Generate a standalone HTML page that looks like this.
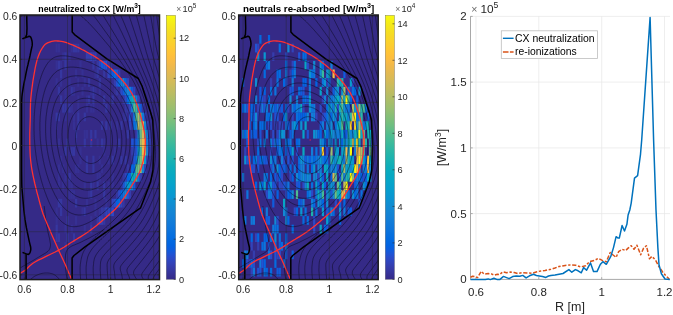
<!DOCTYPE html>
<html><head><meta charset="utf-8"><title>CX neutralization</title><style>html,body{margin:0;padding:0;background:#fff;width:673px;height:315px;overflow:hidden}svg{display:block}</style></head><body>
<svg width="673" height="315" viewBox="0 0 673 315"><rect width="673" height="315" fill="#fff"/><defs><clipPath id="ax"><rect x="20.0" y="15.0" width="139.5" height="264.6"/></clipPath><clipPath id="corec"><path d="M58.7 250.2 L56.4 247.2 L54 242.4 L51.6 236.5 L49.3 230.4 L47.2 224.6 L45.5 220 L44.2 216.7 L43.2 214.2 L42.5 212.2 L41.9 210.2 L41.2 207.9 L40.4 205 L39.4 201.4 L38.3 197.2 L37.1 192.8 L36 188.3 L34.9 184 L34 180 L33.2 176.4 L32.5 173 L31.9 169.7 L31.4 166.5 L31 163.3 L30.6 160 L30.3 156.7 L30.1 153.3 L30 150 L29.9 146.7 L29.8 143.3 L29.8 140 L29.8 136.7 L29.8 133.3 L29.9 130 L30 126.7 L30.1 123.3 L30.2 120 L30.3 116.7 L30.3 113.4 L30.3 110.1 L30.4 106.8 L30.5 103.5 L30.7 100 L31 96.4 L31.4 92.6 L31.9 88.7 L32.4 84.9 L32.9 81.2 L33.5 77.6 L34.1 74.2 L34.7 70.8 L35.3 67.5 L36 64.3 L36.7 61.4 L37.5 58.6 L38.4 56 L39.4 53.6 L40.4 51.3 L41.5 49.3 L42.6 47.5 L43.8 45.9 L45 44.6 L46.3 43.6 L47.5 42.9 L48.9 42.3 L50.3 41.8 L51.7 41.4 L53.2 41.1 L54.7 40.9 L56.3 40.9 L57.9 41 L59.6 41.1 L61.3 41.4 L63 41.7 L64.8 42.2 L66.6 42.7 L68.4 43.3 L70.3 44.1 L72.4 44.9 L74.6 45.9 L77 47 L79.5 48.2 L81.9 49.5 L84.4 50.7 L86.7 52 L88.9 53.2 L91 54.4 L93.1 55.5 L95.1 56.8 L97.2 58.1 L99.4 59.6 L101.7 61.2 L104 63 L106.4 64.8 L108.8 66.8 L111.2 68.8 L113.5 71 L115.8 73.3 L118.2 75.7 L120.5 78.3 L122.8 80.9 L125 83.5 L126.9 86 L128.6 88.5 L130.2 90.9 L131.7 93.2 L133 95.7 L134.3 98.3 L135.5 101 L136.7 104 L137.9 107.2 L138.9 110.5 L140 113.8 L140.9 117 L141.7 120 L142.4 122.8 L143.1 125.5 L143.6 128.1 L144.1 130.5 L144.5 132.8 L144.8 135 L145 136.9 L145.2 138.6 L145.3 140.1 L145.3 141.6 L145.3 143.2 L145.2 145 L145.1 147 L144.9 149.1 L144.7 151.4 L144.5 153.6 L144.2 155.9 L143.8 158 L143.4 160.1 L142.9 162.1 L142.4 164 L141.8 166 L141.2 168 L140.4 170 L139.6 171.9 L138.8 173.7 L137.8 175.5 L136.8 177.4 L135.5 179.6 L133.9 182.2 L131.9 185.4 L129.6 189.2 L127 193.3 L124.4 197.4 L121.8 201.2 L119.4 204.4 L117.2 207 L115.1 209.3 L113 211.2 L111 213 L109 214.7 L107 216.5 L105 218.3 L102.9 220.1 L100.8 221.9 L98.8 223.6 L96.9 225.2 L95 226.7 L93.3 228.1 L91.6 229.3 L90.1 230.5 L88.5 231.6 L86.8 232.8 L85 234 L83 235.3 L80.9 236.6 L78.7 237.9 L76.5 239.3 L74.2 240.6 L72 242 L69.8 243.8 L67.6 246.1 L65.4 248.5 L63.1 250.3 L60.9 251.1Z"/></clipPath><clipPath id="solc"><path d="M56 5 L170 5 L170 290 L74 290 L71.3 278.6 L65 264 L58.7 250.2 L72 242 L85 234 L95 226.7 L107 216.5 L119.4 204.4 L133.9 182.2 L140.4 170 L143.8 158 L145.2 145 L144.8 135 L141.7 120 L135.5 101 L126.9 86 L113.5 71 L99.4 59.6 L86.7 52 L72.4 44.9 L61.3 41.4 L51.7 41.4Z"/></clipPath></defs><rect x="20.0" y="15.0" width="139.5" height="264.6" fill="#352a87"/><g clip-path="url(#ax)"><rect x="55.6" y="43.7" width="2.2" height="8.7" fill="#363093"/><rect x="55.6" y="60.9" width="2.2" height="8.7" fill="#363093"/><rect x="55.6" y="78.1" width="2.2" height="8.7" fill="#363093"/><rect x="55.6" y="112.6" width="2.2" height="8.7" fill="#3637a0"/><rect x="55.6" y="121.2" width="2.2" height="8.7" fill="#363093"/><rect x="55.6" y="207.4" width="2.2" height="8.7" fill="#363093"/><rect x="55.6" y="216.1" width="2.2" height="8.7" fill="#363093"/><rect x="55.6" y="224.7" width="2.2" height="8.7" fill="#3637a0"/><rect x="55.6" y="233.3" width="2.2" height="8.7" fill="#3637a0"/><rect x="57.8" y="43.7" width="2.2" height="8.7" fill="#363093"/><rect x="57.8" y="60.9" width="2.2" height="8.7" fill="#3637a0"/><rect x="57.8" y="86.8" width="2.2" height="8.7" fill="#3637a0"/><rect x="57.8" y="112.6" width="2.2" height="8.7" fill="#3637a0"/><rect x="57.8" y="138.5" width="2.2" height="8.7" fill="#363093"/><rect x="57.8" y="164.3" width="2.2" height="8.7" fill="#363093"/><rect x="57.8" y="173" width="2.2" height="8.7" fill="#363093"/><rect x="57.8" y="181.6" width="2.2" height="8.7" fill="#363093"/><rect x="57.8" y="198.8" width="2.2" height="8.7" fill="#3637a0"/><rect x="57.8" y="233.3" width="2.2" height="8.7" fill="#3637a0"/><rect x="60" y="60.9" width="2.2" height="8.7" fill="#363093"/><rect x="60" y="69.5" width="2.2" height="8.7" fill="#3637a0"/><rect x="60" y="78.1" width="2.2" height="8.7" fill="#363093"/><rect x="60" y="95.4" width="2.2" height="8.7" fill="#3637a0"/><rect x="60" y="155.7" width="2.2" height="8.7" fill="#363093"/><rect x="60" y="198.8" width="2.2" height="8.7" fill="#3637a0"/><rect x="60" y="207.4" width="2.2" height="8.7" fill="#3637a0"/><rect x="62.1" y="52.3" width="2.2" height="8.7" fill="#363093"/><rect x="62.1" y="104" width="2.2" height="8.7" fill="#3637a0"/><rect x="62.1" y="164.3" width="2.2" height="8.7" fill="#363093"/><rect x="62.1" y="181.6" width="2.2" height="8.7" fill="#363093"/><rect x="64.3" y="52.3" width="2.2" height="8.7" fill="#3637a0"/><rect x="64.3" y="60.9" width="2.2" height="8.7" fill="#3637a0"/><rect x="64.3" y="86.8" width="2.2" height="8.7" fill="#363093"/><rect x="64.3" y="95.4" width="2.2" height="8.7" fill="#363093"/><rect x="64.3" y="104" width="2.2" height="8.7" fill="#3637a0"/><rect x="64.3" y="112.6" width="2.2" height="8.7" fill="#363093"/><rect x="64.3" y="147.1" width="2.2" height="8.7" fill="#3637a0"/><rect x="64.3" y="173" width="2.2" height="8.7" fill="#363093"/><rect x="64.3" y="207.4" width="2.2" height="8.7" fill="#352a87"/><rect x="64.3" y="224.7" width="2.2" height="8.7" fill="#363093"/><rect x="64.3" y="241.9" width="2.2" height="8.7" fill="#363093"/><rect x="66.4" y="104" width="2.2" height="8.7" fill="#363093"/><rect x="66.4" y="138.5" width="2.2" height="8.7" fill="#3637a0"/><rect x="66.4" y="216.1" width="2.2" height="8.7" fill="#3637a0"/><rect x="66.4" y="233.3" width="2.2" height="8.7" fill="#3637a0"/><rect x="68.6" y="52.3" width="2.2" height="8.7" fill="#363093"/><rect x="68.6" y="78.1" width="2.2" height="8.7" fill="#363093"/><rect x="68.6" y="104" width="2.2" height="8.7" fill="#3637a0"/><rect x="68.6" y="173" width="2.2" height="8.7" fill="#3637a0"/><rect x="68.6" y="181.6" width="2.2" height="8.7" fill="#363093"/><rect x="68.6" y="190.2" width="2.2" height="8.7" fill="#363093"/><rect x="70.7" y="43.7" width="2.2" height="8.7" fill="#363093"/><rect x="70.7" y="86.8" width="2.2" height="8.7" fill="#3637a0"/><rect x="70.7" y="104" width="2.2" height="8.7" fill="#363093"/><rect x="70.7" y="147.1" width="2.2" height="8.7" fill="#3637a0"/><rect x="70.7" y="181.6" width="2.2" height="8.7" fill="#363093"/><rect x="70.7" y="190.2" width="2.2" height="8.7" fill="#363093"/><rect x="70.7" y="224.7" width="2.2" height="8.7" fill="#363093"/><rect x="72.9" y="43.7" width="2.2" height="8.7" fill="#3637a0"/><rect x="72.9" y="60.9" width="2.2" height="8.7" fill="#352a87"/><rect x="72.9" y="86.8" width="2.2" height="8.7" fill="#363093"/><rect x="72.9" y="112.6" width="2.2" height="8.7" fill="#363093"/><rect x="72.9" y="121.2" width="2.2" height="8.7" fill="#363093"/><rect x="72.9" y="147.1" width="2.2" height="8.7" fill="#3637a0"/><rect x="72.9" y="190.2" width="2.2" height="8.7" fill="#363093"/><rect x="72.9" y="233.3" width="2.2" height="8.7" fill="#3637a0"/><rect x="75" y="43.7" width="2.2" height="8.7" fill="#3637a0"/><rect x="75" y="69.5" width="2.2" height="8.7" fill="#363093"/><rect x="75" y="129.9" width="2.2" height="8.7" fill="#3637a0"/><rect x="75" y="138.5" width="2.2" height="8.7" fill="#363093"/><rect x="75" y="164.3" width="2.2" height="8.7" fill="#363093"/><rect x="75" y="198.8" width="2.2" height="8.7" fill="#3637a0"/><rect x="75" y="216.1" width="2.2" height="8.7" fill="#363093"/><rect x="77.2" y="43.7" width="2.2" height="8.7" fill="#3637a0"/><rect x="77.2" y="78.1" width="2.2" height="8.7" fill="#363093"/><rect x="77.2" y="95.4" width="2.2" height="8.7" fill="#363093"/><rect x="77.2" y="104" width="2.2" height="8.7" fill="#363093"/><rect x="77.2" y="112.6" width="2.2" height="8.7" fill="#3637a0"/><rect x="77.2" y="121.2" width="2.2" height="8.7" fill="#3637a0"/><rect x="77.2" y="164.3" width="2.2" height="8.7" fill="#363093"/><rect x="79.4" y="60.9" width="2.2" height="8.7" fill="#363093"/><rect x="79.4" y="78.1" width="2.2" height="8.7" fill="#352a87"/><rect x="79.4" y="147.1" width="2.2" height="8.7" fill="#363093"/><rect x="79.4" y="155.7" width="2.2" height="8.7" fill="#363093"/><rect x="81.5" y="69.5" width="2.2" height="8.7" fill="#363093"/><rect x="81.5" y="86.8" width="2.2" height="8.7" fill="#363093"/><rect x="81.5" y="207.4" width="2.2" height="8.7" fill="#363093"/><rect x="83.7" y="78.1" width="2.2" height="8.7" fill="#363093"/><rect x="83.7" y="112.6" width="2.2" height="8.7" fill="#3637a0"/><rect x="83.7" y="129.9" width="2.2" height="8.7" fill="#363093"/><rect x="83.7" y="138.5" width="2.2" height="8.7" fill="#3637a0"/><rect x="83.7" y="181.6" width="2.2" height="8.7" fill="#363093"/><rect x="83.7" y="207.4" width="2.2" height="8.7" fill="#3637a0"/><rect x="83.7" y="224.7" width="2.2" height="8.7" fill="#363093"/><rect x="85.8" y="52.3" width="2.2" height="8.7" fill="#353dad"/><rect x="85.8" y="95.4" width="2.2" height="8.7" fill="#363093"/><rect x="85.8" y="104" width="2.2" height="8.7" fill="#363093"/><rect x="85.8" y="129.9" width="2.2" height="8.7" fill="#363093"/><rect x="85.8" y="155.7" width="2.2" height="8.7" fill="#3637a0"/><rect x="85.8" y="164.3" width="2.2" height="8.7" fill="#3637a0"/><rect x="85.8" y="198.8" width="2.2" height="8.7" fill="#363093"/><rect x="85.8" y="207.4" width="2.2" height="8.7" fill="#352a87"/><rect x="88" y="52.3" width="2.2" height="8.7" fill="#353dad"/><rect x="88" y="78.1" width="2.2" height="8.7" fill="#3637a0"/><rect x="88" y="95.4" width="2.2" height="8.7" fill="#3637a0"/><rect x="88" y="190.2" width="2.2" height="8.7" fill="#363093"/><rect x="90.1" y="52.3" width="2.2" height="8.7" fill="#3243ba"/><rect x="90.1" y="86.8" width="2.2" height="8.7" fill="#363093"/><rect x="90.1" y="104" width="2.2" height="8.7" fill="#363093"/><rect x="90.1" y="129.9" width="2.2" height="8.7" fill="#3637a0"/><rect x="90.1" y="138.5" width="2.2" height="8.7" fill="#3637a0"/><rect x="90.1" y="181.6" width="2.2" height="8.7" fill="#3637a0"/><rect x="90.1" y="190.2" width="2.2" height="8.7" fill="#3637a0"/><rect x="90.1" y="216.1" width="2.2" height="8.7" fill="#363093"/><rect x="90.1" y="224.7" width="2.2" height="8.7" fill="#3637a0"/><rect x="92.3" y="52.3" width="2.2" height="8.7" fill="#353dad"/><rect x="92.3" y="60.9" width="2.2" height="8.7" fill="#3637a0"/><rect x="92.3" y="86.8" width="2.2" height="8.7" fill="#3637a0"/><rect x="92.3" y="95.4" width="2.2" height="8.7" fill="#3637a0"/><rect x="92.3" y="104" width="2.2" height="8.7" fill="#363093"/><rect x="92.3" y="155.7" width="2.2" height="8.7" fill="#3637a0"/><rect x="92.3" y="164.3" width="2.2" height="8.7" fill="#3637a0"/><rect x="92.3" y="181.6" width="2.2" height="8.7" fill="#363093"/><rect x="94.4" y="52.3" width="2.2" height="8.7" fill="#353dad"/><rect x="94.4" y="69.5" width="2.2" height="8.7" fill="#363093"/><rect x="94.4" y="86.8" width="2.2" height="8.7" fill="#363093"/><rect x="94.4" y="129.9" width="2.2" height="8.7" fill="#3637a0"/><rect x="94.4" y="198.8" width="2.2" height="8.7" fill="#363093"/><rect x="94.4" y="207.4" width="2.2" height="8.7" fill="#363093"/><rect x="96.6" y="60.9" width="2.2" height="8.7" fill="#3637a0"/><rect x="96.6" y="69.5" width="2.2" height="8.7" fill="#3637a0"/><rect x="96.6" y="104" width="2.2" height="8.7" fill="#352a87"/><rect x="96.6" y="138.5" width="2.2" height="8.7" fill="#363093"/><rect x="96.6" y="173" width="2.2" height="8.7" fill="#363093"/><rect x="96.6" y="181.6" width="2.2" height="8.7" fill="#3637a0"/><rect x="96.6" y="216.1" width="2.2" height="8.7" fill="#3637a0"/><rect x="98.7" y="60.9" width="2.2" height="8.7" fill="#3243ba"/><rect x="98.7" y="78.1" width="2.2" height="8.7" fill="#3637a0"/><rect x="98.7" y="86.8" width="2.2" height="8.7" fill="#363093"/><rect x="98.7" y="155.7" width="2.2" height="8.7" fill="#363093"/><rect x="98.7" y="173" width="2.2" height="8.7" fill="#363093"/><rect x="98.7" y="207.4" width="2.2" height="8.7" fill="#363093"/><rect x="98.7" y="216.1" width="2.2" height="8.7" fill="#3243ba"/><rect x="100.9" y="60.9" width="2.2" height="8.7" fill="#0f5cdd"/><rect x="100.9" y="121.2" width="2.2" height="8.7" fill="#3637a0"/><rect x="100.9" y="138.5" width="2.2" height="8.7" fill="#3637a0"/><rect x="100.9" y="164.3" width="2.2" height="8.7" fill="#363093"/><rect x="100.9" y="207.4" width="2.2" height="8.7" fill="#3637a0"/><rect x="100.9" y="216.1" width="2.2" height="8.7" fill="#353dad"/><rect x="103.1" y="60.9" width="2.2" height="8.7" fill="#2053d4"/><rect x="103.1" y="69.5" width="2.2" height="8.7" fill="#3637a0"/><rect x="103.1" y="95.4" width="2.2" height="8.7" fill="#3637a0"/><rect x="103.1" y="138.5" width="2.2" height="8.7" fill="#363093"/><rect x="103.1" y="147.1" width="2.2" height="8.7" fill="#363093"/><rect x="103.1" y="181.6" width="2.2" height="8.7" fill="#3637a0"/><rect x="103.1" y="190.2" width="2.2" height="8.7" fill="#3637a0"/><rect x="103.1" y="207.4" width="2.2" height="8.7" fill="#3637a0"/><rect x="103.1" y="216.1" width="2.2" height="8.7" fill="#3637a0"/><rect x="105.2" y="60.9" width="2.2" height="8.7" fill="#2053d4"/><rect x="105.2" y="104" width="2.2" height="8.7" fill="#3637a0"/><rect x="105.2" y="121.2" width="2.2" height="8.7" fill="#3637a0"/><rect x="105.2" y="198.8" width="2.2" height="8.7" fill="#363093"/><rect x="105.2" y="207.4" width="2.2" height="8.7" fill="#3243ba"/><rect x="107.4" y="60.9" width="2.2" height="8.7" fill="#3637a0"/><rect x="107.4" y="69.5" width="2.2" height="8.7" fill="#3243ba"/><rect x="107.4" y="78.1" width="2.2" height="8.7" fill="#352a87"/><rect x="107.4" y="155.7" width="2.2" height="8.7" fill="#363093"/><rect x="107.4" y="181.6" width="2.2" height="8.7" fill="#363093"/><rect x="107.4" y="207.4" width="2.2" height="8.7" fill="#3243ba"/><rect x="109.5" y="60.9" width="2.2" height="8.7" fill="#3637a0"/><rect x="109.5" y="69.5" width="2.2" height="8.7" fill="#2053d4"/><rect x="109.5" y="95.4" width="2.2" height="8.7" fill="#363093"/><rect x="109.5" y="121.2" width="2.2" height="8.7" fill="#3637a0"/><rect x="109.5" y="207.4" width="2.2" height="8.7" fill="#2053d4"/><rect x="111.7" y="69.5" width="2.2" height="8.7" fill="#0f5cdd"/><rect x="111.7" y="78.1" width="2.2" height="8.7" fill="#363093"/><rect x="111.7" y="95.4" width="2.2" height="8.7" fill="#3637a0"/><rect x="111.7" y="155.7" width="2.2" height="8.7" fill="#3637a0"/><rect x="111.7" y="173" width="2.2" height="8.7" fill="#363093"/><rect x="111.7" y="181.6" width="2.2" height="8.7" fill="#363093"/><rect x="111.7" y="198.8" width="2.2" height="8.7" fill="#3243ba"/><rect x="111.7" y="207.4" width="2.2" height="8.7" fill="#2c4ac7"/><rect x="113.8" y="69.5" width="2.2" height="8.7" fill="#046de0"/><rect x="113.8" y="78.1" width="2.2" height="8.7" fill="#353dad"/><rect x="113.8" y="86.8" width="2.2" height="8.7" fill="#363093"/><rect x="113.8" y="147.1" width="2.2" height="8.7" fill="#363093"/><rect x="113.8" y="198.8" width="2.2" height="8.7" fill="#2c4ac7"/><rect x="116" y="69.5" width="2.2" height="8.7" fill="#2053d4"/><rect x="116" y="78.1" width="2.2" height="8.7" fill="#2053d4"/><rect x="116" y="86.8" width="2.2" height="8.7" fill="#3637a0"/><rect x="116" y="121.2" width="2.2" height="8.7" fill="#363093"/><rect x="116" y="190.2" width="2.2" height="8.7" fill="#3637a0"/><rect x="116" y="198.8" width="2.2" height="8.7" fill="#0363e1"/><rect x="118.1" y="69.5" width="2.2" height="8.7" fill="#353dad"/><rect x="118.1" y="78.1" width="2.2" height="8.7" fill="#0871de"/><rect x="118.1" y="86.8" width="2.2" height="8.7" fill="#363093"/><rect x="118.1" y="95.4" width="2.2" height="8.7" fill="#363093"/><rect x="118.1" y="138.5" width="2.2" height="8.7" fill="#3637a0"/><rect x="118.1" y="190.2" width="2.2" height="8.7" fill="#2c4ac7"/><rect x="118.1" y="198.8" width="2.2" height="8.7" fill="#046de0"/><rect x="120.3" y="78.1" width="2.2" height="8.7" fill="#127dd8"/><rect x="120.3" y="86.8" width="2.2" height="8.7" fill="#2c4ac7"/><rect x="120.3" y="121.2" width="2.2" height="8.7" fill="#3637a0"/><rect x="120.3" y="155.7" width="2.2" height="8.7" fill="#3637a0"/><rect x="120.3" y="181.6" width="2.2" height="8.7" fill="#3637a0"/><rect x="120.3" y="190.2" width="2.2" height="8.7" fill="#0268e1"/><rect x="120.3" y="198.8" width="2.2" height="8.7" fill="#3243ba"/><rect x="122.5" y="78.1" width="2.2" height="8.7" fill="#1389d3"/><rect x="122.5" y="86.8" width="2.2" height="8.7" fill="#0f5cdd"/><rect x="122.5" y="95.4" width="2.2" height="8.7" fill="#3637a0"/><rect x="122.5" y="112.6" width="2.2" height="8.7" fill="#363093"/><rect x="122.5" y="147.1" width="2.2" height="8.7" fill="#363093"/><rect x="122.5" y="173" width="2.2" height="8.7" fill="#3637a0"/><rect x="122.5" y="181.6" width="2.2" height="8.7" fill="#2053d4"/><rect x="122.5" y="190.2" width="2.2" height="8.7" fill="#0d75dc"/><rect x="122.5" y="198.8" width="2.2" height="8.7" fill="#3637a0"/><rect x="124.6" y="78.1" width="2.2" height="8.7" fill="#0363e1"/><rect x="124.6" y="86.8" width="2.2" height="8.7" fill="#1079da"/><rect x="124.6" y="95.4" width="2.2" height="8.7" fill="#2c4ac7"/><rect x="124.6" y="104" width="2.2" height="8.7" fill="#3637a0"/><rect x="124.6" y="112.6" width="2.2" height="8.7" fill="#3637a0"/><rect x="124.6" y="155.7" width="2.2" height="8.7" fill="#3637a0"/><rect x="124.6" y="173" width="2.2" height="8.7" fill="#3243ba"/><rect x="124.6" y="181.6" width="2.2" height="8.7" fill="#1079da"/><rect x="124.6" y="190.2" width="2.2" height="8.7" fill="#1389d3"/><rect x="126.8" y="78.1" width="2.2" height="8.7" fill="#3243ba"/><rect x="126.8" y="86.8" width="2.2" height="8.7" fill="#1485d4"/><rect x="126.8" y="95.4" width="2.2" height="8.7" fill="#0268e1"/><rect x="126.8" y="104" width="2.2" height="8.7" fill="#3637a0"/><rect x="126.8" y="129.9" width="2.2" height="8.7" fill="#3637a0"/><rect x="126.8" y="164.3" width="2.2" height="8.7" fill="#3637a0"/><rect x="126.8" y="173" width="2.2" height="8.7" fill="#0363e1"/><rect x="126.8" y="181.6" width="2.2" height="8.7" fill="#079ccf"/><rect x="126.8" y="190.2" width="2.2" height="8.7" fill="#2053d4"/><rect x="128.9" y="86.8" width="2.2" height="8.7" fill="#127dd8"/><rect x="128.9" y="95.4" width="2.2" height="8.7" fill="#0c93d2"/><rect x="128.9" y="104" width="2.2" height="8.7" fill="#3243ba"/><rect x="128.9" y="112.6" width="2.2" height="8.7" fill="#2c4ac7"/><rect x="128.9" y="121.2" width="2.2" height="8.7" fill="#3243ba"/><rect x="128.9" y="173" width="2.2" height="8.7" fill="#0268e1"/><rect x="128.9" y="181.6" width="2.2" height="8.7" fill="#0998d1"/><rect x="128.9" y="190.2" width="2.2" height="8.7" fill="#353dad"/><rect x="131.1" y="86.8" width="2.2" height="8.7" fill="#0f5cdd"/><rect x="131.1" y="95.4" width="2.2" height="8.7" fill="#0aacbe"/><rect x="131.1" y="104" width="2.2" height="8.7" fill="#1481d6"/><rect x="131.1" y="112.6" width="2.2" height="8.7" fill="#3637a0"/><rect x="131.1" y="121.2" width="2.2" height="8.7" fill="#3637a0"/><rect x="131.1" y="138.5" width="2.2" height="8.7" fill="#2053d4"/><rect x="131.1" y="147.1" width="2.2" height="8.7" fill="#353dad"/><rect x="131.1" y="155.7" width="2.2" height="8.7" fill="#3637a0"/><rect x="131.1" y="164.3" width="2.2" height="8.7" fill="#0268e1"/><rect x="131.1" y="173" width="2.2" height="8.7" fill="#0faeb9"/><rect x="131.1" y="181.6" width="2.2" height="8.7" fill="#1485d4"/><rect x="133.2" y="86.8" width="2.2" height="8.7" fill="#3243ba"/><rect x="133.2" y="95.4" width="2.2" height="8.7" fill="#25b5a9"/><rect x="133.2" y="104" width="2.2" height="8.7" fill="#59bd8c"/><rect x="133.2" y="112.6" width="2.2" height="8.7" fill="#1079da"/><rect x="133.2" y="121.2" width="2.2" height="8.7" fill="#046de0"/><rect x="133.2" y="138.5" width="2.2" height="8.7" fill="#2053d4"/><rect x="133.2" y="147.1" width="2.2" height="8.7" fill="#2c4ac7"/><rect x="133.2" y="155.7" width="2.2" height="8.7" fill="#2053d4"/><rect x="133.2" y="164.3" width="2.2" height="8.7" fill="#0268e1"/><rect x="133.2" y="173" width="2.2" height="8.7" fill="#06a7c6"/><rect x="133.2" y="181.6" width="2.2" height="8.7" fill="#0f5cdd"/><rect x="135.4" y="95.4" width="2.2" height="8.7" fill="#1079da"/><rect x="135.4" y="104" width="2.2" height="8.7" fill="#38b99e"/><rect x="135.4" y="112.6" width="2.2" height="8.7" fill="#4dbc92"/><rect x="135.4" y="121.2" width="2.2" height="8.7" fill="#1389d3"/><rect x="135.4" y="129.9" width="2.2" height="8.7" fill="#353dad"/><rect x="135.4" y="138.5" width="2.2" height="8.7" fill="#0f5cdd"/><rect x="135.4" y="147.1" width="2.2" height="8.7" fill="#2053d4"/><rect x="135.4" y="155.7" width="2.2" height="8.7" fill="#0871de"/><rect x="135.4" y="164.3" width="2.2" height="8.7" fill="#4dbc92"/><rect x="135.4" y="173" width="2.2" height="8.7" fill="#38b99e"/><rect x="137.5" y="95.4" width="2.2" height="8.7" fill="#3243ba"/><rect x="137.5" y="104" width="2.2" height="8.7" fill="#1485d4"/><rect x="137.5" y="112.6" width="2.2" height="8.7" fill="#aebe67"/><rect x="137.5" y="121.2" width="2.2" height="8.7" fill="#c0bc60"/><rect x="137.5" y="129.9" width="2.2" height="8.7" fill="#108ed2"/><rect x="137.5" y="138.5" width="2.2" height="8.7" fill="#1481d6"/><rect x="137.5" y="147.1" width="2.2" height="8.7" fill="#06a0cd"/><rect x="137.5" y="155.7" width="2.2" height="8.7" fill="#38b99e"/><rect x="137.5" y="164.3" width="2.2" height="8.7" fill="#7cbf7b"/><rect x="137.5" y="173" width="2.2" height="8.7" fill="#0d75dc"/><rect x="139.7" y="104" width="2.2" height="8.7" fill="#0f5cdd"/><rect x="139.7" y="112.6" width="2.2" height="8.7" fill="#4dbc92"/><rect x="139.7" y="121.2" width="2.2" height="8.7" fill="#92bf73"/><rect x="139.7" y="129.9" width="2.2" height="8.7" fill="#65be86"/><rect x="139.7" y="138.5" width="2.2" height="8.7" fill="#a5be6b"/><rect x="139.7" y="147.1" width="2.2" height="8.7" fill="#38b99e"/><rect x="139.7" y="155.7" width="2.2" height="8.7" fill="#71bf80"/><rect x="139.7" y="164.3" width="2.2" height="8.7" fill="#9cbf6f"/><rect x="139.7" y="173" width="2.2" height="8.7" fill="#353dad"/><rect x="141.8" y="104" width="2.2" height="8.7" fill="#3637a0"/><rect x="141.8" y="112.6" width="2.2" height="8.7" fill="#1079da"/><rect x="141.8" y="121.2" width="2.2" height="8.7" fill="#c0bc60"/><rect x="141.8" y="129.9" width="2.2" height="8.7" fill="#d1bb59"/><rect x="141.8" y="138.5" width="2.2" height="8.7" fill="#e9b94e"/><rect x="141.8" y="147.1" width="2.2" height="8.7" fill="#e9b94e"/><rect x="141.8" y="155.7" width="2.2" height="8.7" fill="#d9ba56"/><rect x="141.8" y="164.3" width="2.2" height="8.7" fill="#1485d4"/><rect x="144" y="112.6" width="2.2" height="8.7" fill="#3243ba"/><rect x="144" y="121.2" width="2.2" height="8.7" fill="#1389d3"/><rect x="144" y="129.9" width="2.2" height="8.7" fill="#0aacbe"/><rect x="144" y="138.5" width="2.2" height="8.7" fill="#f8bb44"/><rect x="144" y="147.1" width="2.2" height="8.7" fill="#a5be6b"/><rect x="144" y="155.7" width="2.2" height="8.7" fill="#079ccf"/><rect x="144" y="164.3" width="2.2" height="8.7" fill="#3243ba"/><rect x="146.2" y="121.2" width="2.2" height="8.7" fill="#3243ba"/><rect x="146.2" y="129.9" width="2.2" height="8.7" fill="#127dd8"/><rect x="146.2" y="138.5" width="2.2" height="8.7" fill="#127dd8"/><rect x="146.2" y="147.1" width="2.2" height="8.7" fill="#1485d4"/><rect x="146.2" y="155.7" width="2.2" height="8.7" fill="#3243ba"/><rect x="148.3" y="129.9" width="2.2" height="8.7" fill="#353dad"/><rect x="148.3" y="138.5" width="2.2" height="8.7" fill="#2c4ac7"/><rect x="148.3" y="147.1" width="2.2" height="8.7" fill="#353dad"/><g fill="none" stroke="#000" stroke-width="0.5" stroke-opacity="0.8"><g clip-path="url(#corec)"><path d="M146.9 13 L147.2 13.3 L147.5 13.7 L147.9 14 L148.2 14.3 L148.5 14.7 L148.8 15 L149.2 15.4 L149.5 15.7 L149.9 16.1 L150.2 16.5 L150.5 16.8 L150.9 17.2 L151.2 17.6 L151.6 18 L151.9 18.3 L152.3 18.7 L152.6 19.1 L152.9 19.4 L153.2 19.7 L153.5 20.1 L153.8 20.4 L154.1 20.7 L154.4 21.1 L154.7 21.4 L155 21.8 L155.3 22.2 L155.7 22.6 L156 23 L156.4 23.4 L156.7 23.8 L157 24.1 L157.3 24.4 L157.6 24.8 L157.8 25.1 L158.1 25.4 L158.4 25.8 L158.8 26.2 L159.1 26.6 L159.4 27 L159.8 27.5 L160.1 27.8 L160.3 28.1 L160.6 28.5 L160.9 28.8 L161.2 29.2 L161.5 29.6"/><path d="M87.5 116.9 L87.2 116.9 L86.5 117.1 L86.1 117.2 L85.5 117.5 L85.1 117.6 L84.5 117.9 L84.1 118.1 L83.8 118.3 L83.4 118.6 L82.9 118.9 L82.4 119.2 L82 119.6 L81.7 119.9 L81.4 120.2 L81 120.6 L80.7 120.9 L80.4 121.2 L80.2 121.6 L79.9 121.9 L79.6 122.3 L79.3 122.8 L79 123.3 L78.8 123.6 L78.6 123.9 L78.3 124.6 L78.1 124.9 L77.9 125.3 L77.6 126 L77.5 126.3 L77.2 126.9 L77.1 127.3 L76.9 127.9 L76.8 128.3 L76.6 129 L76.5 129.3 L76.3 130 L76.2 130.5 L76.1 131 L76 131.7 L75.9 132.3 L75.8 132.7 L75.7 133.3 L75.7 134 L75.6 134.7 L75.5 135.4 L75.5 135.7 L75.5 136.4 L75.5 137 L75.5 137.7 L75.5 138.4 L75.5 139.1 L75.5 139.7 L75.5 140.1 L75.6 140.7 L75.6 141.4 L75.7 142.1 L75.8 142.8 L75.9 143.4 L75.9 143.8 L76 144.4 L76.2 145.1 L76.2 145.5 L76.4 146.1 L76.5 146.8 L76.6 147.1 L76.8 147.8 L76.9 148.3 L77 148.8 L77.2 149.5 L77.4 149.8 L77.6 150.5 L77.7 150.8 L77.9 151.4 L78.1 151.8 L78.3 152.3 L78.5 152.8 L78.7 153.2 L79 153.8 L79.2 154.2 L79.3 154.5 L79.6 155.1 L79.9 155.5 L80.1 155.9 L80.3 156.3 L80.7 156.8 L81 157.2 L81.2 157.6 L81.4 157.9 L81.7 158.2 L82 158.7 L82.4 159.1 L82.7 159.4 L83.1 159.8 L83.4 160.1 L83.8 160.4 L84.1 160.7 L84.4 161 L84.8 161.3 L85.2 161.6 L85.7 161.9 L86.2 162.2 L86.5 162.3 L87 162.6 L87.5 162.8 L87.9 162.9 L88.6 163.2 L89 163.3 L89.6 163.4 L90.3 163.5 L90.9 163.5 L91.6 163.5 L92.3 163.4 L93 163.3 L93.3 163.2 L94 163.1 L94.4 162.9 L95.1 162.7 L95.4 162.5 L96 162.3 L96.4 162 L96.8 161.8 L97.1 161.6 L97.6 161.3 L98 160.9 L98.4 160.6 L98.8 160.2 L99.2 159.9 L99.5 159.6 L99.9 159.2 L100.2 158.9 L100.5 158.6 L100.7 158.2 L101 157.9 L101.3 157.6 L101.6 157.1 L101.9 156.6 L102.2 156.2 L102.4 155.9 L102.6 155.5 L102.9 154.9 L103.1 154.5 L103.3 154.2 L103.6 153.5 L103.8 153.2 L104 152.8 L104.2 152.2 L104.3 151.8 L104.6 151.2 L104.7 150.8 L104.9 150.2 L105 149.8 L105.2 149.1 L105.3 148.7 L105.5 148.1 L105.6 147.5 L105.7 147.1 L105.8 146.5 L105.9 145.8 L106 145.2 L106.1 144.8 L106.2 144.1 L106.2 143.4 L106.3 142.8 L106.3 142.1 L106.3 141.4 L106.3 140.7 L106.3 140.1 L106.3 139.4 L106.3 138.7 L106.2 138.1 L106.1 137.4 L106.1 136.7 L106 136.3 L105.9 135.7 L105.8 135 L105.7 134.4 L105.6 134 L105.5 133.3 L105.3 132.8 L105.2 132.3 L105 131.7 L104.9 131.3 L104.7 130.7 L104.6 130.3 L104.3 129.7 L104.2 129.3 L104 128.7 L103.8 128.3 L103.6 127.9 L103.3 127.3 L103.2 127 L102.9 126.5 L102.6 126 L102.4 125.6 L102.2 125.3 L101.9 124.8 L101.6 124.3 L101.4 123.9 L101.1 123.6 L100.9 123.3 L100.5 122.8 L100.2 122.4 L99.9 122 L99.5 121.6 L99.2 121.3 L98.8 120.9 L98.5 120.6 L98.1 120.3 L97.8 120 L97.5 119.7 L97.1 119.5 L96.8 119.2 L96.3 118.9 L95.7 118.6 L95.4 118.4 L95.1 118.2 L94.5 117.9 L94 117.7 L93.7 117.5 L93 117.3 L92.7 117.2 L92 117 L91.3 116.9 L90.9 116.8 L90.3 116.7 L89.6 116.7 L88.9 116.7 L88.2 116.8 L87.5 116.9"/><path d="M145.4 13 L145.8 13.3 L146.1 13.7 L146.4 14 L146.8 14.4 L147.1 14.7 L147.5 15.1 L147.8 15.4 L148.1 15.8 L148.5 16.1 L148.8 16.5 L149.2 16.9 L149.5 17.2 L149.9 17.6 L150.2 18 L150.5 18.3 L150.9 18.7 L151.2 19.1 L151.5 19.4 L151.8 19.7 L152.1 20.1 L152.4 20.4 L152.7 20.7 L153 21.1 L153.3 21.4 L153.6 21.7 L154 22.1 L154.3 22.5 L154.7 22.9 L155 23.3 L155.3 23.7 L155.7 24.1 L156 24.4 L156.3 24.8 L156.5 25.1 L156.8 25.4 L157.1 25.8 L157.4 26.1 L157.7 26.5 L158.1 26.9 L158.4 27.3 L158.8 27.7 L159.1 28.1 L159.4 28.5 L159.6 28.8 L159.9 29.1 L160.2 29.5 L160.5 29.9 L160.8 30.3 L161.2 30.7 L161.5 31.1"/><path d="M161.5 279.6 L161.5 279.6 L161.4 279.9 L161.3 280.3 L161.2 280.6 L161.2 280.7 L161.1 280.9 L161 281.3 L160.9 281.6"/><path d="M85.5 106.8 L85.1 106.8 L84.4 106.9 L83.8 107.1 L83.4 107.2 L82.7 107.4 L82.4 107.5 L81.7 107.8 L81.4 107.9 L80.9 108.1 L80.3 108.4 L80 108.6 L79.6 108.8 L79.1 109.1 L78.6 109.5 L78.3 109.7 L77.9 110 L77.6 110.3 L77.2 110.6 L76.9 110.9 L76.6 111.2 L76.2 111.5 L75.9 111.9 L75.5 112.3 L75.2 112.6 L74.9 113.1 L74.5 113.5 L74.2 113.9 L74 114.2 L73.8 114.5 L73.5 114.9 L73.1 115.5 L72.9 115.9 L72.7 116.2 L72.5 116.7 L72.2 117.2 L72 117.5 L71.8 118 L71.5 118.6 L71.4 118.9 L71.1 119.6 L71 119.9 L70.7 120.5 L70.6 120.9 L70.4 121.4 L70.2 121.9 L70.1 122.5 L69.9 122.9 L69.7 123.6 L69.7 123.9 L69.5 124.6 L69.4 125.1 L69.3 125.6 L69.1 126.3 L69 126.7 L68.9 127.3 L68.8 128 L68.7 128.6 L68.7 129 L68.6 129.7 L68.5 130.3 L68.4 131 L68.4 131.7 L68.3 132 L68.3 132.7 L68.3 133.3 L68.2 134 L68.2 134.7 L68.2 135.4 L68.2 136 L68.2 136.7 L68.2 137.4 L68.2 138.1 L68.2 138.7 L68.3 139.4 L68.3 140.1 L68.3 140.4 L68.4 141.1 L68.5 141.8 L68.5 142.4 L68.6 143.1 L68.7 143.7 L68.7 144.1 L68.8 144.8 L68.9 145.5 L69 146 L69.1 146.5 L69.2 147.1 L69.4 147.8 L69.4 148.1 L69.6 148.8 L69.7 149.5 L69.8 149.8 L70 150.5 L70.1 150.9 L70.2 151.5 L70.4 152.2 L70.5 152.5 L70.7 153.2 L70.8 153.5 L71 154.2 L71.1 154.5 L71.4 155.2 L71.5 155.5 L71.7 156.2 L71.8 156.5 L72.1 157.2 L72.2 157.6 L72.5 158.1 L72.7 158.6 L72.8 158.9 L73.1 159.6 L73.3 159.9 L73.5 160.4 L73.8 160.9 L73.9 161.3 L74.2 161.7 L74.5 162.3 L74.7 162.6 L74.9 162.9 L75.2 163.5 L75.5 163.9 L75.7 164.3 L75.9 164.6 L76.2 165.1 L76.6 165.6 L76.8 166 L77.1 166.3 L77.3 166.6 L77.6 167 L77.9 167.4 L78.3 167.7 L78.6 168.1 L79 168.5 L79.3 168.8 L79.6 169.2 L80 169.5 L80.3 169.8 L80.7 170.1 L81 170.4 L81.4 170.7 L81.8 171 L82.3 171.3 L82.7 171.6 L83.1 171.8 L83.4 172 L84.1 172.3 L84.4 172.5 L84.8 172.7 L85.5 173 L85.8 173.1 L86.5 173.3 L86.8 173.4 L87.5 173.6 L88.2 173.7 L88.6 173.7 L89.2 173.8 L89.9 173.8 L90.6 173.8 L91.3 173.8 L92 173.7 L92.3 173.7 L93 173.5 L93.7 173.4 L94 173.3 L94.7 173.1 L95.1 172.9 L95.7 172.7 L96.1 172.5 L96.5 172.3 L97.1 172 L97.5 171.9 L97.8 171.7 L98.4 171.3 L98.8 171 L99.2 170.8 L99.5 170.6 L99.9 170.3 L100.3 170 L100.7 169.7 L101.1 169.3 L101.5 169 L101.8 168.6 L102.2 168.3 L102.5 168 L102.9 167.6 L103.2 167.3 L103.5 167 L103.8 166.6 L104.1 166.3 L104.3 166 L104.6 165.6 L105 165.1 L105.3 164.7 L105.6 164.3 L105.8 163.9 L106.1 163.6 L106.4 163.2 L106.7 162.6 L106.9 162.3 L107.1 161.9 L107.4 161.5 L107.7 160.9 L107.9 160.6 L108.1 160.2 L108.4 159.6 L108.5 159.2 L108.8 158.8 L109 158.2 L109.1 157.9 L109.4 157.2 L109.6 156.9 L109.8 156.3 L109.9 155.9 L110.1 155.4 L110.3 154.9 L110.5 154.3 L110.6 153.9 L110.8 153.2 L110.9 152.8 L111.1 152.2 L111.2 151.8 L111.3 151.2 L111.5 150.5 L111.6 150.2 L111.7 149.5 L111.8 148.8 L111.9 148.5 L112 147.8 L112.1 147.1 L112.2 146.5 L112.2 146.1 L112.3 145.5 L112.4 144.8 L112.4 144.1 L112.4 143.4 L112.5 142.8 L112.5 142.1 L112.5 141.4 L112.5 140.7 L112.5 140.1 L112.5 139.4 L112.5 138.7 L112.4 138.1 L112.4 137.4 L112.3 136.7 L112.3 136 L112.2 135.4 L112.1 135 L112 134.4 L111.9 133.7 L111.8 133.1 L111.8 132.7 L111.6 132 L111.5 131.3 L111.4 131 L111.3 130.3 L111.2 129.9 L111 129.3 L110.8 128.6 L110.7 128.3 L110.5 127.6 L110.4 127.3 L110.2 126.6 L110.1 126.3 L109.8 125.6 L109.7 125.3 L109.4 124.6 L109.3 124.3 L109.1 123.8 L108.9 123.3 L108.7 122.9 L108.4 122.3 L108.3 121.9 L108.1 121.6 L107.7 120.9 L107.6 120.6 L107.4 120.2 L107 119.7 L106.8 119.2 L106.6 118.9 L106.4 118.5 L106 118 L105.7 117.5 L105.5 117.2 L105.2 116.9 L105 116.5 L104.6 116.1 L104.3 115.6 L104 115.2 L103.7 114.9 L103.4 114.5 L103.1 114.2 L102.8 113.9 L102.4 113.5 L102.1 113.2 L101.8 112.8 L101.4 112.5 L101 112.2 L100.7 111.8 L100.3 111.5 L99.9 111.2 L99.5 110.9 L99.2 110.6 L98.8 110.4 L98.5 110.2 L98 109.8 L97.5 109.5 L97.1 109.3 L96.8 109.1 L96.2 108.8 L95.7 108.6 L95.4 108.4 L94.8 108.1 L94.4 107.9 L94 107.8 L93.3 107.6 L93 107.4 L92.3 107.2 L91.9 107.1 L91.3 107 L90.6 106.9 L90.2 106.8 L89.6 106.7 L88.9 106.6 L88.2 106.6 L87.5 106.6 L86.8 106.6 L86.2 106.7 L85.5 106.8"/><path d="M143.8 13 L144.2 13.3 L144.5 13.7 L144.8 14 L145.2 14.3 L145.5 14.7 L145.8 15 L146.2 15.4 L146.5 15.7 L146.8 16 L147.1 16.4 L147.5 16.7 L147.8 17.1 L148.1 17.4 L148.5 17.8 L148.8 18.1 L149.2 18.5 L149.5 18.9 L149.9 19.2 L150.2 19.6 L150.5 20 L150.9 20.3 L151.2 20.7 L151.5 21.1 L151.8 21.4 L152.1 21.7 L152.5 22.1 L152.8 22.4 L153.1 22.7 L153.4 23.1 L153.6 23.4 L154 23.8 L154.3 24.2 L154.7 24.6 L155 25 L155.3 25.4 L155.7 25.7 L156 26.1 L156.3 26.4 L156.6 26.8 L156.8 27.1 L157.1 27.5 L157.4 27.8 L157.7 28.2 L158.1 28.6 L158.4 29 L158.8 29.4 L159.1 29.8 L159.3 30.1 L159.6 30.5 L159.9 30.8 L160.2 31.2 L160.5 31.5 L160.8 32 L161.2 32.4 L161.5 32.8"/><path d="M161.5 277.1 L161.5 277.2 L161.4 277.6 L161.3 277.9 L161.2 278.2 L161.2 278.3 L161.1 278.6 L161 278.9 L160.9 279.2 L160.8 279.5 L160.8 279.6 L160.7 279.9 L160.6 280.3 L160.5 280.6 L160.5 280.6 L160.4 280.9 L160.3 281.3 L160.2 281.6"/><path d="M83.8 98.4 L83.4 98.4 L82.7 98.5 L82 98.6 L81.5 98.7 L81 98.8 L80.3 99 L80 99.1 L79.3 99.3 L79 99.5 L78.3 99.7 L77.9 99.9 L77.5 100.1 L76.9 100.4 L76.6 100.5 L76.2 100.7 L75.6 101.1 L75.2 101.3 L74.9 101.6 L74.5 101.8 L74.1 102.1 L73.7 102.4 L73.3 102.8 L72.9 103.1 L72.5 103.4 L72.1 103.8 L71.8 104.1 L71.4 104.4 L71.1 104.8 L70.8 105.1 L70.5 105.4 L70.2 105.8 L70 106.1 L69.7 106.5 L69.4 106.9 L69 107.3 L68.7 107.8 L68.5 108.1 L68.3 108.5 L68 108.9 L67.7 109.5 L67.5 109.8 L67.3 110.2 L67 110.7 L66.8 111.2 L66.6 111.5 L66.3 112.1 L66.1 112.5 L65.9 112.9 L65.7 113.5 L65.5 113.9 L65.3 114.5 L65.1 114.9 L64.9 115.5 L64.8 115.9 L64.6 116.5 L64.5 116.9 L64.3 117.5 L64.2 117.9 L64 118.6 L63.9 118.9 L63.7 119.6 L63.6 120.2 L63.5 120.6 L63.3 121.2 L63.2 121.8 L63.1 122.3 L63 122.9 L62.9 123.6 L62.8 123.9 L62.7 124.6 L62.6 125.3 L62.5 126 L62.5 126.3 L62.4 127 L62.4 127.6 L62.3 128.3 L62.2 129 L62.2 129.7 L62.2 130 L62.1 130.7 L62.1 131.3 L62.1 132 L62.1 132.7 L62 133.3 L62 134 L62 134.7 L62 135.4 L62.1 136 L62.1 136.7 L62.1 137.4 L62.1 138.1 L62.2 138.7 L62.2 139.1 L62.2 139.7 L62.3 140.4 L62.3 141.1 L62.4 141.8 L62.5 142.4 L62.5 142.9 L62.6 143.4 L62.7 144.1 L62.8 144.8 L62.9 145.5 L62.9 145.8 L63 146.5 L63.1 147.1 L63.2 147.7 L63.3 148.1 L63.4 148.8 L63.5 149.5 L63.6 149.8 L63.7 150.5 L63.9 151.2 L64 151.5 L64.1 152.2 L64.2 152.7 L64.4 153.2 L64.5 153.9 L64.6 154.2 L64.8 154.9 L64.9 155.3 L65.1 155.9 L65.3 156.5 L65.4 156.9 L65.6 157.6 L65.7 157.9 L65.9 158.6 L66 158.9 L66.2 159.6 L66.4 159.9 L66.6 160.6 L66.7 160.9 L67 161.6 L67.1 161.9 L67.3 162.4 L67.5 162.9 L67.7 163.3 L68 163.9 L68.1 164.3 L68.3 164.8 L68.6 165.3 L68.7 165.6 L69 166.3 L69.2 166.6 L69.4 167 L69.7 167.6 L69.9 168 L70.1 168.3 L70.4 168.9 L70.7 169.3 L70.9 169.7 L71.1 170 L71.4 170.6 L71.7 171 L71.9 171.3 L72.1 171.7 L72.5 172.2 L72.8 172.6 L73.1 173 L73.3 173.4 L73.6 173.7 L73.8 174 L74.2 174.4 L74.5 174.8 L74.9 175.2 L75.2 175.6 L75.5 176 L75.9 176.3 L76.2 176.7 L76.6 177 L76.9 177.3 L77.2 177.6 L77.6 177.9 L77.9 178.2 L78.3 178.5 L78.6 178.8 L79 179.1 L79.5 179.4 L80 179.7 L80.3 179.9 L80.7 180.1 L81.2 180.4 L81.7 180.7 L82 180.8 L82.6 181.1 L83.1 181.3 L83.4 181.4 L84.1 181.7 L84.4 181.8 L85.1 181.9 L85.8 182.1 L86.2 182.2 L86.8 182.3 L87.5 182.4 L88.2 182.4 L88.9 182.4 L89.6 182.4 L90.3 182.4 L90.9 182.3 L91.6 182.2 L92.3 182.1 L92.7 182 L93.3 181.8 L93.7 181.8 L94.4 181.5 L94.7 181.4 L95.4 181.2 L95.7 181 L96.4 180.8 L96.8 180.6 L97.2 180.4 L97.8 180.1 L98.1 179.9 L98.5 179.7 L99 179.4 L99.5 179.1 L99.9 178.9 L100.2 178.6 L100.6 178.4 L101 178.1 L101.5 177.7 L101.9 177.4 L102.3 177.1 L102.6 176.8 L102.9 176.5 L103.3 176.2 L103.6 175.9 L104 175.6 L104.3 175.3 L104.6 174.9 L105 174.6 L105.3 174.2 L105.7 173.9 L106 173.5 L106.4 173.1 L106.7 172.7 L107 172.3 L107.3 172 L107.5 171.7 L107.8 171.3 L108.1 171 L108.4 170.5 L108.8 170 L109 169.7 L109.3 169.3 L109.5 169 L109.8 168.5 L110.1 168 L110.3 167.6 L110.5 167.3 L110.8 166.8 L111.1 166.3 L111.3 166 L111.5 165.6 L111.8 165 L112 164.6 L112.2 164.3 L112.5 163.6 L112.7 163.3 L112.9 162.9 L113.1 162.3 L113.3 161.9 L113.6 161.3 L113.7 160.9 L113.9 160.5 L114.1 159.9 L114.2 159.6 L114.5 158.9 L114.6 158.6 L114.8 157.9 L114.9 157.6 L115.1 156.9 L115.3 156.5 L115.4 155.9 L115.6 155.3 L115.7 154.9 L115.9 154.2 L116 153.9 L116.1 153.2 L116.3 152.5 L116.4 152.2 L116.5 151.5 L116.6 150.8 L116.7 150.5 L116.8 149.8 L116.9 149.1 L117 148.6 L117 148.1 L117.1 147.5 L117.2 146.8 L117.3 146.1 L117.3 145.5 L117.3 145.1 L117.4 144.4 L117.4 143.8 L117.5 143.1 L117.5 142.4 L117.5 141.8 L117.5 141.1 L117.5 140.4 L117.5 139.7 L117.5 139.1 L117.4 138.4 L117.4 137.7 L117.4 137 L117.3 136.6 L117.3 136 L117.2 135.4 L117.1 134.7 L117.1 134 L117 133.5 L116.9 133 L116.8 132.3 L116.7 131.7 L116.6 131.3 L116.5 130.7 L116.4 130 L116.3 129.5 L116.2 129 L116 128.3 L115.9 128 L115.8 127.3 L115.6 126.7 L115.5 126.3 L115.3 125.6 L115.2 125.3 L115 124.6 L114.9 124.3 L114.7 123.6 L114.6 123.3 L114.3 122.6 L114.2 122.3 L113.9 121.6 L113.8 121.2 L113.6 120.6 L113.4 120.2 L113.2 119.8 L113 119.2 L112.8 118.9 L112.5 118.3 L112.3 117.9 L112.2 117.5 L111.8 116.9 L111.7 116.5 L111.5 116.2 L111.2 115.6 L110.9 115.2 L110.7 114.9 L110.5 114.4 L110.1 113.9 L109.9 113.5 L109.7 113.2 L109.4 112.8 L109.1 112.3 L108.8 111.8 L108.6 111.5 L108.3 111.2 L108.1 110.8 L107.7 110.4 L107.4 109.9 L107 109.5 L106.7 109.1 L106.5 108.8 L106.2 108.5 L105.9 108.1 L105.6 107.8 L105.2 107.5 L104.9 107.1 L104.6 106.8 L104.3 106.5 L103.9 106.1 L103.5 105.8 L103.2 105.4 L102.8 105.1 L102.4 104.8 L102 104.4 L101.6 104.1 L101.2 103.8 L100.9 103.6 L100.5 103.3 L100.2 103.1 L99.7 102.8 L99.2 102.4 L98.8 102.2 L98.5 102 L98.1 101.7 L97.5 101.4 L97.1 101.2 L96.8 101 L96.2 100.7 L95.7 100.5 L95.4 100.4 L94.7 100.1 L94.4 99.9 L93.9 99.7 L93.3 99.6 L92.9 99.4 L92.3 99.2 L91.8 99.1 L91.3 98.9 L90.6 98.8 L90.3 98.7 L89.6 98.6 L88.9 98.5 L88.2 98.4 L87.9 98.3 L87.2 98.3 L86.5 98.3 L85.8 98.3 L85.1 98.3 L84.4 98.3 L83.8 98.4"/><path d="M142.1 13 L142.4 13.3 L142.8 13.7 L143.1 14 L143.5 14.3 L143.8 14.7 L144.1 15 L144.5 15.4 L144.8 15.7 L145.1 16 L145.5 16.4 L145.8 16.7 L146.1 17 L146.4 17.4 L146.8 17.7 L147.1 18.1 L147.5 18.4 L147.8 18.8 L148.1 19.2 L148.5 19.5 L148.8 19.9 L149.2 20.2 L149.5 20.6 L149.9 21 L150.2 21.4 L150.5 21.7 L150.9 22.1 L151.2 22.4 L151.5 22.7 L151.8 23.1 L152.1 23.4 L152.4 23.8 L152.7 24.1 L153 24.4 L153.3 24.8 L153.6 25.2 L154 25.5 L154.3 25.9 L154.7 26.3 L155 26.7 L155.3 27.1 L155.6 27.5 L155.9 27.8 L156.2 28.1 L156.5 28.5 L156.8 28.8 L157 29.2 L157.4 29.6 L157.7 30 L158.1 30.4 L158.4 30.8 L158.7 31.2 L159 31.5 L159.2 31.8 L159.5 32.2 L159.8 32.5 L160.1 32.9 L160.5 33.4 L160.8 33.8 L161.1 34.2 L161.4 34.5"/><path d="M161.5 274.5 L161.5 274.5 L161.4 274.9 L161.3 275.2 L161.2 275.5 L161.2 275.7 L161.1 275.9 L161 276.2 L160.9 276.6 L160.8 276.9 L160.8 276.9 L160.7 277.2 L160.6 277.6 L160.5 277.9 L160.5 278.1 L160.4 278.2 L160.3 278.6 L160.2 278.9 L160.1 279.2 L160.1 279.3 L160 279.6 L159.9 279.9 L159.8 280.3 L159.8 280.5 L159.7 280.6 L159.6 280.9 L159.5 281.3 L159.4 281.6 L159.4 281.6"/><path d="M80.7 91 L80.3 91 L79.6 91.1 L79 91.3 L78.6 91.3 L77.9 91.5 L77.2 91.7 L76.9 91.8 L76.2 92 L75.9 92.1 L75.2 92.3 L74.9 92.5 L74.4 92.7 L73.8 92.9 L73.5 93.1 L73 93.3 L72.5 93.6 L72.1 93.8 L71.8 94 L71.2 94.4 L70.7 94.7 L70.4 94.9 L70.1 95.2 L69.7 95.4 L69.4 95.7 L69 96 L68.6 96.4 L68.2 96.7 L67.8 97 L67.5 97.4 L67.1 97.7 L66.8 98.1 L66.5 98.4 L66.2 98.7 L65.9 99.1 L65.6 99.4 L65.3 99.9 L64.9 100.3 L64.6 100.7 L64.4 101.1 L64.1 101.4 L63.9 101.8 L63.6 102.3 L63.3 102.8 L63.1 103.1 L62.9 103.4 L62.5 104.1 L62.3 104.4 L62.1 104.8 L61.8 105.4 L61.6 105.8 L61.5 106.1 L61.2 106.8 L61 107.1 L60.8 107.6 L60.6 108.1 L60.5 108.5 L60.2 109.1 L60.1 109.5 L59.8 110.2 L59.7 110.5 L59.5 111.2 L59.4 111.5 L59.2 112.2 L59.1 112.5 L58.9 113.2 L58.8 113.7 L58.6 114.2 L58.4 114.9 L58.4 115.2 L58.2 115.9 L58.1 116.5 L58 116.9 L57.9 117.5 L57.7 118.2 L57.7 118.6 L57.5 119.2 L57.4 119.9 L57.4 120.2 L57.3 120.9 L57.2 121.6 L57.1 122.3 L57 122.7 L57 123.3 L56.9 123.9 L56.8 124.6 L56.8 125.3 L56.7 126 L56.7 126.4 L56.7 127 L56.6 127.6 L56.6 128.3 L56.6 129 L56.5 129.7 L56.5 130.3 L56.5 131 L56.5 131.7 L56.5 132.3 L56.5 133 L56.5 133.7 L56.5 134.4 L56.5 135 L56.6 135.7 L56.6 136.4 L56.6 137 L56.6 137.7 L56.7 138.4 L56.7 138.7 L56.8 139.4 L56.8 140.1 L56.9 140.7 L56.9 141.4 L57 142.1 L57 142.6 L57.1 143.1 L57.2 143.8 L57.3 144.4 L57.3 145.1 L57.4 145.5 L57.5 146.1 L57.6 146.8 L57.7 147.5 L57.7 147.8 L57.9 148.5 L58 149.1 L58.1 149.7 L58.2 150.2 L58.3 150.8 L58.4 151.5 L58.5 151.8 L58.6 152.5 L58.8 153.2 L58.8 153.5 L59 154.2 L59.1 154.7 L59.2 155.2 L59.4 155.9 L59.5 156.2 L59.6 156.9 L59.8 157.4 L59.9 157.9 L60.1 158.6 L60.2 158.9 L60.4 159.6 L60.5 159.9 L60.7 160.6 L60.8 161 L61 161.6 L61.2 162.1 L61.3 162.6 L61.5 163.1 L61.7 163.6 L61.8 164.1 L62 164.6 L62.2 165 L62.4 165.6 L62.5 166 L62.8 166.6 L62.9 167 L63.2 167.6 L63.3 168 L63.6 168.5 L63.8 169 L63.9 169.3 L64.2 170 L64.4 170.3 L64.6 170.8 L64.8 171.3 L65 171.7 L65.3 172.2 L65.5 172.7 L65.7 173 L65.9 173.5 L66.2 174 L66.4 174.4 L66.6 174.8 L67 175.4 L67.2 175.7 L67.4 176 L67.7 176.5 L68 177.1 L68.2 177.4 L68.4 177.7 L68.7 178.1 L69 178.6 L69.3 179.1 L69.6 179.4 L69.8 179.7 L70.1 180.1 L70.4 180.5 L70.7 180.9 L71.1 181.3 L71.4 181.7 L71.7 182.1 L72 182.4 L72.3 182.8 L72.7 183.1 L73 183.4 L73.3 183.8 L73.7 184.1 L74 184.4 L74.4 184.8 L74.8 185.1 L75.2 185.5 L75.5 185.7 L75.9 186 L76.2 186.3 L76.6 186.5 L77 186.8 L77.5 187.1 L77.9 187.4 L78.3 187.6 L78.6 187.8 L79.2 188.1 L79.6 188.3 L80 188.5 L80.7 188.8 L81 188.9 L81.6 189.2 L82 189.3 L82.7 189.5 L83.1 189.6 L83.8 189.8 L84.1 189.8 L84.8 189.9 L85.5 190 L86.2 190.1 L86.8 190.1 L87.5 190.2 L88.2 190.1 L88.9 190.1 L89.6 190 L90.3 190 L90.9 189.8 L91.3 189.8 L92 189.6 L92.5 189.5 L93 189.4 L93.7 189.2 L94 189 L94.7 188.8 L95.1 188.7 L95.5 188.5 L96.1 188.2 L96.4 188.1 L97 187.8 L97.5 187.6 L97.8 187.4 L98.3 187.1 L98.8 186.9 L99.2 186.7 L99.5 186.5 L100 186.1 L100.5 185.8 L100.9 185.6 L101.2 185.3 L101.6 185.1 L102 184.8 L102.4 184.4 L102.9 184.1 L103.3 183.8 L103.6 183.5 L104 183.2 L104.3 182.9 L104.6 182.6 L105 182.3 L105.3 182 L105.7 181.7 L106 181.4 L106.4 181 L106.7 180.7 L107 180.3 L107.4 180 L107.7 179.6 L108.1 179.2 L108.4 178.8 L108.8 178.4 L109.1 178.1 L109.4 177.7 L109.6 177.4 L109.9 177.1 L110.2 176.7 L110.5 176.3 L110.8 175.9 L111.2 175.4 L111.4 175 L111.7 174.7 L111.9 174.4 L112.2 173.9 L112.5 173.4 L112.8 173 L113 172.7 L113.2 172.3 L113.6 171.8 L113.8 171.3 L114 171 L114.2 170.6 L114.6 170 L114.8 169.7 L115 169.3 L115.3 168.7 L115.5 168.3 L115.7 168 L115.9 167.4 L116.1 167 L116.3 166.6 L116.6 166 L116.8 165.6 L117 165.1 L117.2 164.6 L117.3 164.3 L117.6 163.6 L117.7 163.3 L118 162.6 L118.1 162.3 L118.3 161.7 L118.5 161.3 L118.7 160.7 L118.8 160.2 L119 159.6 L119.2 159.2 L119.4 158.6 L119.5 158.2 L119.6 157.6 L119.7 157.2 L119.9 156.5 L120.1 155.9 L120.2 155.5 L120.3 154.9 L120.4 154.5 L120.5 153.9 L120.7 153.2 L120.7 152.8 L120.9 152.2 L121 151.5 L121.1 150.8 L121.1 150.5 L121.2 149.8 L121.3 149.1 L121.4 148.5 L121.4 148.1 L121.5 147.5 L121.6 146.8 L121.6 146.1 L121.7 145.5 L121.7 144.8 L121.8 144.1 L121.8 143.8 L121.8 143.1 L121.8 142.4 L121.8 141.8 L121.8 141.1 L121.8 140.4 L121.8 139.7 L121.8 139.1 L121.8 138.6 L121.7 138.1 L121.7 137.4 L121.7 136.7 L121.6 136 L121.6 135.4 L121.5 134.7 L121.4 134.1 L121.4 133.7 L121.3 133 L121.2 132.3 L121.1 131.7 L121.1 131.3 L121 130.7 L120.8 130 L120.7 129.5 L120.7 129 L120.5 128.3 L120.4 127.8 L120.3 127.3 L120.1 126.6 L120.1 126.2 L119.9 125.6 L119.7 124.9 L119.6 124.6 L119.5 123.9 L119.4 123.6 L119.2 122.9 L119 122.5 L118.9 121.9 L118.7 121.4 L118.5 120.9 L118.3 120.4 L118.2 119.9 L118 119.4 L117.8 118.9 L117.7 118.5 L117.4 117.9 L117.3 117.5 L117 116.9 L116.9 116.5 L116.6 116 L116.4 115.5 L116.3 115.2 L115.9 114.5 L115.8 114.2 L115.6 113.8 L115.3 113.2 L115.1 112.8 L114.9 112.5 L114.6 111.9 L114.4 111.5 L114.2 111.2 L113.9 110.6 L113.6 110.2 L113.4 109.8 L113.2 109.5 L112.9 109 L112.6 108.5 L112.3 108.1 L112.1 107.8 L111.8 107.4 L111.5 106.9 L111.2 106.5 L110.9 106.1 L110.7 105.8 L110.4 105.4 L110.1 105.1 L109.8 104.6 L109.4 104.2 L109.1 103.8 L108.8 103.4 L108.5 103.1 L108.2 102.8 L107.9 102.4 L107.6 102.1 L107.2 101.7 L106.9 101.4 L106.6 101.1 L106.2 100.7 L105.9 100.4 L105.5 100.1 L105.2 99.7 L104.8 99.4 L104.4 99.1 L104 98.7 L103.6 98.4 L103.3 98.1 L102.9 97.9 L102.6 97.6 L102.3 97.3 L101.8 97 L101.4 96.7 L100.9 96.4 L100.5 96.1 L100.2 95.9 L99.8 95.7 L99.3 95.4 L98.8 95.1 L98.5 94.9 L98.1 94.7 L97.5 94.4 L97.1 94.2 L96.8 94 L96.1 93.7 L95.7 93.5 L95.4 93.3 L94.7 93.1 L94.4 92.9 L93.7 92.7 L93.3 92.5 L92.8 92.3 L92.3 92.2 L91.7 92 L91.3 91.9 L90.6 91.7 L90.3 91.6 L89.6 91.5 L89 91.3 L88.6 91.2 L87.9 91.1 L87.2 91 L86.8 91 L86.2 90.9 L85.5 90.9 L84.8 90.8 L84.1 90.8 L83.4 90.8 L82.7 90.8 L82 90.9 L81.4 90.9 L80.7 91"/><path d="M140 13 L140.3 13.3 L140.7 13.7 L141 14 L141.4 14.3 L141.7 14.7 L142 15 L142.4 15.4 L142.7 15.7 L143.1 16 L143.4 16.4 L143.7 16.7 L144.1 17 L144.4 17.4 L144.7 17.7 L145.1 18 L145.4 18.4 L145.7 18.7 L146.1 19.1 L146.4 19.5 L146.8 19.8 L147.1 20.2 L147.5 20.5 L147.8 20.9 L148.1 21.3 L148.5 21.6 L148.8 22 L149.2 22.4 L149.5 22.7 L149.8 23.1 L150.2 23.4 L150.5 23.8 L150.8 24.1 L151.1 24.4 L151.4 24.8 L151.7 25.1 L152 25.4 L152.3 25.8 L152.6 26.1 L152.9 26.5 L153.3 26.9 L153.6 27.3 L154 27.7 L154.3 28.1 L154.6 28.5 L154.9 28.8 L155.2 29.1 L155.5 29.5 L155.8 29.8 L156.1 30.1 L156.4 30.5 L156.7 30.9 L157 31.3 L157.4 31.7 L157.7 32.1 L158 32.5 L158.3 32.8 L158.6 33.2 L158.8 33.5 L159.1 33.8 L159.4 34.3 L159.8 34.7 L160.1 35.1 L160.4 35.5 L160.7 35.9 L161 36.2 L161.2 36.5 L161.5 36.9"/><path d="M161.5 271.2 L161.4 271.5 L161.3 271.9 L161.2 272.2 L161.2 272.5 L161.2 272.5 L161.1 272.9 L161 273.2 L160.9 273.5 L160.8 273.8 L160.8 273.9 L160.7 274.2 L160.6 274.5 L160.5 274.9 L160.5 275.1 L160.4 275.2 L160.3 275.5 L160.2 275.9 L160.1 276.2 L160.1 276.3 L160.1 276.6 L160 276.9 L159.9 277.2 L159.8 277.5 L159.8 277.6 L159.7 277.9 L159.6 278.2 L159.5 278.6 L159.4 278.7 L159.4 278.9 L159.3 279.2 L159.2 279.6 L159.1 279.8 L159.1 279.9 L159 280.3 L158.9 280.6 L158.8 280.9 L158.8 280.9 L158.7 281.3 L158.6 281.6"/><path d="M76.9 83.2 L76.6 83.3 L75.9 83.4 L75.2 83.5 L74.8 83.6 L74.2 83.7 L73.5 83.9 L73.1 84 L72.5 84.2 L72.1 84.3 L71.4 84.6 L71.1 84.7 L70.5 84.9 L70.1 85.1 L69.7 85.3 L69 85.6 L68.7 85.8 L68.3 85.9 L67.7 86.3 L67.3 86.5 L67 86.7 L66.6 87 L66.1 87.3 L65.7 87.6 L65.3 87.9 L64.9 88.2 L64.6 88.5 L64.2 88.7 L63.9 89 L63.6 89.4 L63.2 89.7 L62.9 90 L62.5 90.3 L62.2 90.7 L61.8 91.1 L61.5 91.5 L61.2 91.9 L60.8 92.3 L60.5 92.7 L60.2 93 L60 93.3 L59.7 93.7 L59.4 94.1 L59.1 94.6 L58.8 95 L58.6 95.4 L58.4 95.7 L58.1 96.3 L57.8 96.7 L57.6 97 L57.4 97.5 L57.1 98.1 L56.9 98.4 L56.7 98.8 L56.4 99.4 L56.3 99.7 L56 100.3 L55.8 100.7 L55.7 101.1 L55.4 101.7 L55.3 102.1 L55 102.8 L54.9 103.1 L54.6 103.8 L54.5 104.1 L54.3 104.8 L54.2 105.1 L54 105.8 L53.9 106.1 L53.7 106.8 L53.6 107.1 L53.4 107.8 L53.3 108.3 L53.1 108.8 L53 109.5 L52.9 109.8 L52.7 110.5 L52.6 111.1 L52.5 111.5 L52.4 112.2 L52.2 112.8 L52.2 113.2 L52.1 113.9 L51.9 114.5 L51.9 114.9 L51.8 115.5 L51.7 116.2 L51.6 116.9 L51.5 117.2 L51.4 117.9 L51.4 118.6 L51.3 119.2 L51.2 119.9 L51.2 120.2 L51.1 120.9 L51.1 121.6 L51 122.3 L51 122.9 L50.9 123.6 L50.9 124.1 L50.9 124.6 L50.8 125.3 L50.8 126 L50.8 126.6 L50.7 127.3 L50.7 128 L50.7 128.6 L50.7 129.3 L50.7 130 L50.7 130.7 L50.7 131.3 L50.7 132 L50.7 132.7 L50.7 133.3 L50.8 134 L50.8 134.7 L50.8 135.4 L50.8 136 L50.9 136.6 L50.9 137 L50.9 137.7 L51 138.4 L51 139.1 L51.1 139.7 L51.2 140.4 L51.2 141.1 L51.2 141.4 L51.3 142.1 L51.4 142.8 L51.5 143.4 L51.5 144.1 L51.6 144.4 L51.7 145.1 L51.7 145.8 L51.8 146.5 L51.9 146.9 L52 147.5 L52.1 148.1 L52.2 148.8 L52.2 149.2 L52.4 149.8 L52.5 150.5 L52.6 151.2 L52.6 151.5 L52.8 152.2 L52.9 152.8 L53 153.2 L53.1 153.9 L53.2 154.5 L53.3 154.9 L53.4 155.5 L53.6 156.2 L53.7 156.5 L53.8 157.2 L54 157.8 L54.1 158.2 L54.2 158.9 L54.3 159.2 L54.5 159.9 L54.6 160.5 L54.7 160.9 L54.9 161.6 L55 161.9 L55.2 162.6 L55.3 163 L55.5 163.6 L55.7 164.2 L55.8 164.6 L56 165.3 L56.1 165.6 L56.3 166.3 L56.4 166.6 L56.7 167.3 L56.8 167.6 L57 168.3 L57.1 168.6 L57.4 169.3 L57.5 169.7 L57.7 170.3 L57.9 170.7 L58.1 171.2 L58.2 171.7 L58.4 172.1 L58.6 172.7 L58.8 173 L59.1 173.7 L59.2 174 L59.4 174.6 L59.6 175 L59.8 175.4 L60.1 176 L60.2 176.4 L60.5 176.9 L60.7 177.4 L60.9 177.7 L61.2 178.3 L61.4 178.7 L61.5 179.1 L61.8 179.7 L62.1 180.1 L62.2 180.4 L62.5 180.9 L62.8 181.4 L63 181.8 L63.2 182.1 L63.6 182.7 L63.8 183.1 L64 183.4 L64.2 183.8 L64.6 184.4 L64.8 184.8 L65.1 185.1 L65.3 185.5 L65.6 185.9 L65.9 186.4 L66.2 186.8 L66.5 187.1 L66.7 187.5 L67 187.8 L67.3 188.2 L67.7 188.7 L68 189.1 L68.3 189.5 L68.7 189.8 L69 190.2 L69.3 190.5 L69.6 190.8 L69.9 191.2 L70.3 191.5 L70.6 191.8 L71 192.2 L71.3 192.5 L71.7 192.9 L72.1 193.2 L72.5 193.5 L72.8 193.7 L73.1 194 L73.5 194.3 L73.9 194.5 L74.4 194.9 L74.9 195.2 L75.2 195.4 L75.5 195.6 L76 195.9 L76.6 196.2 L76.9 196.3 L77.4 196.5 L77.9 196.8 L78.3 196.9 L79 197.2 L79.3 197.3 L80 197.5 L80.3 197.6 L81 197.8 L81.4 197.9 L82 198 L82.7 198.1 L83.4 198.2 L83.8 198.3 L84.4 198.3 L85.1 198.3 L85.8 198.3 L86.5 198.3 L87.2 198.3 L87.6 198.2 L88.2 198.2 L88.9 198.1 L89.6 197.9 L89.9 197.9 L90.6 197.7 L91.3 197.6 L91.6 197.5 L92.3 197.3 L92.7 197.1 L93.3 196.9 L93.7 196.8 L94.3 196.5 L94.7 196.4 L95.1 196.2 L95.7 195.9 L96.1 195.8 L96.6 195.5 L97.1 195.3 L97.5 195.1 L97.9 194.9 L98.5 194.5 L98.8 194.3 L99.2 194.1 L99.6 193.9 L100.2 193.5 L100.5 193.3 L100.9 193.1 L101.2 192.8 L101.7 192.5 L102.1 192.2 L102.6 191.9 L102.9 191.6 L103.3 191.3 L103.6 191.1 L104 190.8 L104.3 190.5 L104.7 190.2 L105.1 189.8 L105.5 189.5 L105.9 189.2 L106.3 188.8 L106.6 188.5 L107 188.1 L107.4 187.8 L107.7 187.5 L108 187.1 L108.4 186.8 L108.7 186.5 L109 186.1 L109.3 185.8 L109.7 185.5 L110 185.1 L110.3 184.8 L110.6 184.4 L110.9 184.1 L111.2 183.8 L111.5 183.3 L111.8 182.9 L112.2 182.5 L112.5 182.1 L112.8 181.8 L113 181.4 L113.3 181.1 L113.6 180.7 L113.9 180.3 L114.2 179.8 L114.5 179.4 L114.7 179.1 L115 178.7 L115.3 178.3 L115.6 177.8 L115.9 177.4 L116.1 177.1 L116.3 176.7 L116.6 176.2 L116.9 175.7 L117.1 175.4 L117.3 175 L117.7 174.4 L117.9 174 L118.1 173.7 L118.3 173.2 L118.6 172.7 L118.8 172.3 L119 171.9 L119.3 171.3 L119.5 171 L119.7 170.5 L120 170 L120.1 169.7 L120.4 169 L120.6 168.6 L120.7 168.3 L121 167.6 L121.2 167.3 L121.4 166.6 L121.6 166.3 L121.8 165.8 L122 165.3 L122.1 164.9 L122.3 164.3 L122.5 163.9 L122.7 163.3 L122.8 162.9 L123 162.3 L123.1 161.8 L123.3 161.3 L123.5 160.7 L123.6 160.2 L123.8 159.6 L123.9 159.2 L124.1 158.6 L124.2 158.2 L124.3 157.6 L124.5 156.9 L124.6 156.5 L124.7 155.9 L124.9 155.2 L124.9 154.9 L125 154.2 L125.2 153.5 L125.2 153.2 L125.3 152.5 L125.4 151.8 L125.5 151.2 L125.6 150.8 L125.7 150.2 L125.8 149.5 L125.8 148.8 L125.9 148.3 L125.9 147.8 L126 147.1 L126 146.5 L126.1 145.8 L126.1 145.1 L126.2 144.4 L126.2 143.8 L126.2 143.1 L126.2 142.4 L126.2 141.8 L126.2 141.1 L126.2 140.4 L126.2 139.7 L126.2 139.1 L126.2 138.4 L126.1 137.7 L126.1 137 L126 136.4 L126 135.7 L125.9 135 L125.9 134.4 L125.8 134 L125.8 133.3 L125.7 132.7 L125.6 132 L125.5 131.5 L125.5 131 L125.4 130.3 L125.3 129.7 L125.2 129.3 L125.1 128.6 L125 128 L124.9 127.4 L124.8 127 L124.6 126.3 L124.5 125.7 L124.4 125.3 L124.3 124.6 L124.2 124.3 L124 123.6 L123.8 122.9 L123.7 122.6 L123.6 121.9 L123.5 121.6 L123.3 120.9 L123.1 120.5 L123 119.9 L122.8 119.4 L122.6 118.9 L122.5 118.3 L122.3 117.9 L122.1 117.3 L122 116.9 L121.8 116.4 L121.6 115.9 L121.4 115.5 L121.2 114.9 L121.1 114.5 L120.8 113.9 L120.6 113.5 L120.4 113 L120.2 112.5 L120.1 112.2 L119.7 111.5 L119.6 111.2 L119.4 110.7 L119.1 110.2 L118.9 109.8 L118.7 109.3 L118.4 108.8 L118.2 108.5 L118 108 L117.7 107.5 L117.5 107.1 L117.3 106.8 L117 106.2 L116.7 105.8 L116.5 105.4 L116.3 105.1 L115.9 104.5 L115.7 104.1 L115.5 103.8 L115.2 103.4 L114.9 102.9 L114.6 102.4 L114.3 102.1 L114.1 101.7 L113.8 101.4 L113.6 101 L113.2 100.6 L112.9 100.1 L112.6 99.7 L112.3 99.4 L112 99.1 L111.7 98.7 L111.5 98.4 L111.2 98 L110.8 97.6 L110.5 97.3 L110.1 96.9 L109.8 96.5 L109.4 96.2 L109.1 95.8 L108.8 95.5 L108.4 95.1 L108.1 94.8 L107.7 94.5 L107.4 94.1 L107 93.8 L106.7 93.5 L106.4 93.2 L106 92.9 L105.7 92.6 L105.3 92.3 L104.9 92 L104.5 91.7 L104.1 91.3 L103.6 91 L103.3 90.7 L102.9 90.5 L102.6 90.3 L102.2 90 L101.7 89.6 L101.2 89.3 L100.9 89.1 L100.5 88.9 L100.1 88.6 L99.5 88.3 L99.2 88.1 L98.8 87.9 L98.3 87.6 L97.8 87.3 L97.5 87.2 L97 87 L96.4 86.7 L96.1 86.5 L95.6 86.3 L95.1 86 L94.7 85.9 L94 85.6 L93.7 85.5 L93.1 85.3 L92.7 85.1 L92.2 84.9 L91.6 84.8 L91.2 84.6 L90.6 84.4 L90 84.3 L89.6 84.2 L88.9 84 L88.6 83.9 L87.9 83.7 L87.2 83.6 L86.8 83.5 L86.2 83.4 L85.5 83.3 L85.1 83.3 L84.4 83.2 L83.8 83.1 L83.1 83.1 L82.4 83 L81.7 83 L81 83 L80.3 83 L79.6 83 L79 83 L78.3 83.1 L77.6 83.1 L76.9 83.2"/><path d="M137.8 13 L138.1 13.3 L138.5 13.7 L138.8 14 L139.2 14.3 L139.5 14.7 L139.9 15 L140.2 15.4 L140.6 15.7 L140.9 16 L141.3 16.4 L141.6 16.7 L142 17 L142.3 17.4 L142.6 17.7 L143 18 L143.3 18.4 L143.6 18.7 L144 19.1 L144.3 19.4 L144.6 19.7 L145 20.1 L145.3 20.4 L145.6 20.7 L145.9 21.1 L146.3 21.4 L146.6 21.7 L146.9 22.1 L147.2 22.4 L147.5 22.7 L147.9 23.1 L148.2 23.4 L148.5 23.8 L148.8 24.1 L149.2 24.5 L149.5 24.9 L149.9 25.2 L150.2 25.6 L150.5 26 L150.9 26.4 L151.2 26.7 L151.6 27.1 L151.9 27.5 L152.2 27.8 L152.5 28.1 L152.8 28.5 L153.1 28.8 L153.4 29.1 L153.6 29.5 L154 29.8 L154.3 30.2 L154.7 30.6 L155 31 L155.3 31.4 L155.7 31.8 L155.9 32.2 L156.2 32.5 L156.5 32.8 L156.8 33.2 L157.1 33.5 L157.4 33.9 L157.7 34.3 L158.1 34.8 L158.4 35.2 L158.7 35.5 L159 35.9 L159.2 36.2 L159.5 36.5 L159.8 36.9 L160.1 37.4 L160.5 37.8 L160.8 38.2 L161 38.5 L161.3 38.9"/><path d="M161.5 267.8 L161.4 268.2 L161.2 268.8 L161.2 269.2 L161 269.8 L160.8 270.5 L160.7 270.8 L160.6 271.5 L160.5 271.9 L160.3 272.5 L160.1 273.2 L160 273.5 L159.8 274.2 L159.8 274.5 L159.6 275.2 L159.4 275.7 L159.3 276.2 L159.1 276.9 L159 277.2 L158.8 277.9 L158.7 278.2 L158.5 278.9 L158.4 279.2 L158.2 279.9 L158.1 280.3 L157.9 280.9 L157.7 281.5"/><path d="M75.2 75.8 L74.9 75.9 L74.2 75.9 L73.5 76 L72.8 76.1 L72.1 76.2 L71.8 76.2 L71.1 76.4 L70.4 76.5 L70.1 76.6 L69.4 76.8 L69 76.9 L68.3 77.1 L67.9 77.2 L67.3 77.4 L67 77.5 L66.3 77.8 L65.9 78 L65.4 78.2 L64.9 78.4 L64.6 78.6 L64 78.9 L63.6 79.2 L63.2 79.4 L62.9 79.6 L62.3 79.9 L61.8 80.2 L61.5 80.5 L61.2 80.7 L60.8 81 L60.5 81.3 L60.1 81.6 L59.7 81.9 L59.3 82.3 L59 82.6 L58.6 82.9 L58.3 83.3 L58 83.6 L57.7 83.9 L57.4 84.3 L57 84.6 L56.7 85 L56.4 85.5 L56 85.9 L55.7 86.3 L55.5 86.6 L55.3 87 L55 87.4 L54.6 87.9 L54.4 88.3 L54.2 88.6 L54 89 L53.6 89.6 L53.4 90 L53.2 90.3 L52.9 90.8 L52.7 91.3 L52.5 91.7 L52.2 92.2 L52 92.7 L51.9 93 L51.6 93.7 L51.4 94 L51.2 94.5 L51 95 L50.9 95.4 L50.6 96 L50.5 96.4 L50.2 97 L50.1 97.4 L49.9 98.1 L49.8 98.4 L49.6 99.1 L49.5 99.4 L49.2 100.1 L49.1 100.4 L49 101.1 L48.8 101.5 L48.7 102.1 L48.5 102.8 L48.4 103.1 L48.2 103.8 L48.1 104.2 L48 104.8 L47.9 105.4 L47.8 105.8 L47.6 106.5 L47.5 107.1 L47.4 107.5 L47.3 108.1 L47.2 108.8 L47.1 109.3 L47 109.8 L46.9 110.5 L46.8 111.2 L46.8 111.5 L46.7 112.2 L46.6 112.8 L46.5 113.5 L46.4 113.9 L46.4 114.5 L46.3 115.2 L46.2 115.9 L46.1 116.5 L46.1 117 L46 117.5 L46 118.2 L45.9 118.9 L45.9 119.6 L45.8 120.2 L45.8 120.9 L45.7 121.6 L45.7 121.9 L45.7 122.6 L45.7 123.3 L45.6 123.9 L45.6 124.6 L45.6 125.3 L45.6 126 L45.6 126.6 L45.6 127.3 L45.6 128 L45.6 128.6 L45.6 129.3 L45.6 130 L45.6 130.7 L45.6 131.3 L45.6 132 L45.6 132.7 L45.7 133.3 L45.7 134 L45.7 134.7 L45.7 135.3 L45.8 135.7 L45.8 136.4 L45.8 137 L45.9 137.7 L45.9 138.4 L46 139.1 L46 139.7 L46.1 140.3 L46.1 140.7 L46.2 141.4 L46.3 142.1 L46.3 142.8 L46.4 143.4 L46.4 143.8 L46.5 144.4 L46.6 145.1 L46.7 145.8 L46.8 146.5 L46.8 146.8 L46.9 147.5 L47 148.1 L47.1 148.8 L47.1 149.1 L47.2 149.8 L47.3 150.5 L47.5 151.2 L47.5 151.5 L47.6 152.2 L47.7 152.8 L47.8 153.2 L47.9 153.9 L48 154.5 L48.1 155 L48.2 155.5 L48.4 156.2 L48.5 156.7 L48.6 157.2 L48.7 157.9 L48.8 158.4 L48.9 158.9 L49.1 159.6 L49.2 159.9 L49.3 160.6 L49.5 161.3 L49.6 161.6 L49.7 162.3 L49.9 162.7 L50 163.3 L50.2 163.9 L50.2 164.3 L50.4 164.9 L50.5 165.3 L50.7 166 L50.9 166.6 L51 167 L51.2 167.6 L51.3 168 L51.5 168.6 L51.6 169 L51.8 169.7 L51.9 170 L52.1 170.7 L52.2 171.1 L52.4 171.7 L52.6 172.1 L52.8 172.7 L52.9 173.1 L53.1 173.7 L53.3 174.1 L53.5 174.7 L53.6 175 L53.9 175.7 L54 176 L54.2 176.7 L54.4 177.1 L54.6 177.7 L54.8 178.1 L55 178.6 L55.2 179.1 L55.3 179.4 L55.6 180.1 L55.8 180.4 L56 181 L56.2 181.4 L56.4 181.8 L56.7 182.4 L56.8 182.8 L57 183.3 L57.3 183.8 L57.4 184.1 L57.7 184.7 L57.9 185.1 L58.1 185.5 L58.4 186 L58.6 186.5 L58.8 186.8 L59.1 187.3 L59.4 187.8 L59.6 188.1 L59.8 188.5 L60.1 189.1 L60.3 189.5 L60.5 189.8 L60.8 190.3 L61.2 190.8 L61.4 191.2 L61.6 191.5 L61.8 191.9 L62.2 192.4 L62.5 192.9 L62.7 193.2 L63 193.5 L63.2 193.9 L63.6 194.3 L63.9 194.8 L64.2 195.2 L64.5 195.5 L64.8 195.9 L65 196.2 L65.3 196.5 L65.6 196.9 L65.9 197.3 L66.3 197.7 L66.6 198 L67 198.4 L67.3 198.7 L67.7 199.1 L68 199.4 L68.3 199.7 L68.7 200 L69 200.3 L69.4 200.6 L69.8 200.9 L70.2 201.3 L70.6 201.6 L71.1 201.9 L71.4 202.2 L71.8 202.4 L72.1 202.6 L72.6 202.9 L73.1 203.2 L73.5 203.4 L73.8 203.6 L74.5 203.9 L74.9 204.1 L75.3 204.3 L75.9 204.5 L76.2 204.7 L76.9 204.9 L77.2 205 L77.9 205.2 L78.3 205.3 L79 205.5 L79.6 205.6 L80 205.6 L80.7 205.7 L81.4 205.8 L82 205.9 L82.7 205.9 L83.4 205.9 L84.1 205.9 L84.8 205.8 L85.5 205.8 L86.2 205.7 L86.7 205.6 L87.2 205.5 L87.9 205.4 L88.4 205.3 L88.9 205.2 L89.6 205 L89.9 204.9 L90.6 204.7 L90.9 204.6 L91.6 204.4 L92 204.2 L92.7 204 L93 203.8 L93.6 203.6 L94 203.4 L94.4 203.3 L95.1 202.9 L95.4 202.8 L95.8 202.6 L96.4 202.3 L96.8 202.1 L97.1 201.9 L97.7 201.6 L98.1 201.3 L98.5 201.1 L98.8 200.9 L99.4 200.6 L99.9 200.3 L100.2 200 L100.5 199.8 L100.9 199.6 L101.4 199.2 L101.9 198.9 L102.3 198.6 L102.6 198.4 L102.9 198.1 L103.3 197.9 L103.7 197.6 L104.1 197.2 L104.5 196.9 L104.9 196.5 L105.3 196.2 L105.7 195.9 L106 195.6 L106.4 195.3 L106.7 195 L107 194.7 L107.4 194.4 L107.7 194.1 L108.1 193.8 L108.4 193.4 L108.8 193.1 L109.1 192.8 L109.4 192.4 L109.8 192.1 L110.1 191.7 L110.5 191.4 L110.8 191 L111.2 190.6 L111.5 190.3 L111.8 189.9 L112.2 189.5 L112.5 189.2 L112.8 188.8 L113.1 188.5 L113.4 188.1 L113.6 187.8 L113.9 187.5 L114.2 187.1 L114.6 186.6 L114.9 186.2 L115.2 185.8 L115.5 185.5 L115.8 185.1 L116 184.8 L116.3 184.4 L116.6 183.9 L117 183.4 L117.2 183.1 L117.5 182.8 L117.7 182.4 L118 182 L118.3 181.4 L118.6 181.1 L118.8 180.7 L119 180.4 L119.4 179.8 L119.6 179.4 L119.8 179.1 L120.1 178.7 L120.4 178.1 L120.6 177.7 L120.8 177.4 L121.1 176.9 L121.4 176.4 L121.6 176 L121.8 175.6 L122.1 175 L122.3 174.7 L122.5 174.3 L122.8 173.7 L122.9 173.4 L123.1 172.9 L123.4 172.3 L123.6 172 L123.8 171.4 L124 171 L124.2 170.7 L124.5 170 L124.6 169.7 L124.9 169 L125 168.6 L125.2 168.2 L125.4 167.6 L125.5 167.3 L125.8 166.6 L125.9 166.3 L126.1 165.6 L126.2 165.3 L126.5 164.6 L126.6 164.3 L126.8 163.6 L126.9 163.2 L127.1 162.6 L127.3 162.1 L127.4 161.6 L127.6 160.9 L127.7 160.6 L127.8 159.9 L127.9 159.5 L128.1 158.9 L128.3 158.2 L128.3 157.9 L128.5 157.2 L128.6 156.5 L128.7 156.2 L128.8 155.5 L128.9 154.9 L129 154.5 L129.1 153.9 L129.2 153.2 L129.3 152.6 L129.4 152.2 L129.5 151.5 L129.5 150.8 L129.6 150.2 L129.7 149.8 L129.7 149.1 L129.8 148.5 L129.8 147.8 L129.9 147.1 L129.9 146.5 L130 145.8 L130 145.5 L130 144.8 L130 144.1 L130.1 143.4 L130.1 142.8 L130.1 142.1 L130.1 141.4 L130.1 140.7 L130.1 140.1 L130.1 139.4 L130 138.7 L130 138.1 L130 137.7 L129.9 137 L129.9 136.4 L129.9 135.7 L129.8 135 L129.7 134.4 L129.7 133.7 L129.6 133.3 L129.6 132.7 L129.5 132 L129.4 131.3 L129.3 130.7 L129.3 130.3 L129.2 129.7 L129.1 129 L129 128.4 L128.9 128 L128.8 127.3 L128.6 126.6 L128.6 126.3 L128.4 125.6 L128.3 124.9 L128.2 124.6 L128.1 123.9 L127.9 123.3 L127.8 122.9 L127.7 122.3 L127.6 121.9 L127.4 121.2 L127.3 120.6 L127.2 120.2 L127 119.6 L126.9 119.2 L126.7 118.6 L126.6 118.2 L126.4 117.5 L126.2 117.1 L126 116.5 L125.9 116.1 L125.7 115.5 L125.5 115.1 L125.3 114.5 L125.2 114.1 L125 113.5 L124.8 113.2 L124.6 112.5 L124.5 112.2 L124.2 111.5 L124 111.2 L123.8 110.6 L123.6 110.2 L123.5 109.8 L123.2 109.1 L123 108.8 L122.8 108.3 L122.6 107.8 L122.4 107.5 L122.1 106.9 L121.9 106.5 L121.7 106.1 L121.4 105.5 L121.2 105.1 L121 104.8 L120.7 104.2 L120.5 103.8 L120.3 103.4 L120.1 103 L119.7 102.4 L119.5 102.1 L119.3 101.7 L119 101.3 L118.7 100.7 L118.5 100.4 L118.3 100.1 L118 99.7 L117.7 99.1 L117.4 98.7 L117.1 98.4 L116.9 98.1 L116.6 97.7 L116.3 97.2 L115.9 96.7 L115.7 96.4 L115.4 96 L115.2 95.7 L114.9 95.4 L114.6 94.9 L114.2 94.5 L113.9 94.1 L113.6 93.7 L113.3 93.3 L113 93 L112.7 92.7 L112.4 92.3 L112.1 92 L111.7 91.7 L111.4 91.3 L111.1 91 L110.8 90.7 L110.4 90.3 L110.1 90 L109.7 89.6 L109.4 89.3 L109 89 L108.7 88.6 L108.3 88.3 L107.9 88 L107.5 87.6 L107.1 87.3 L106.7 87 L106.4 86.7 L106 86.4 L105.7 86.1 L105.3 85.8 L105 85.6 L104.6 85.3 L104.1 84.9 L103.7 84.6 L103.3 84.3 L102.9 84.1 L102.6 83.9 L102.2 83.6 L101.6 83.3 L101.2 83 L100.9 82.8 L100.5 82.6 L100 82.3 L99.5 82 L99.2 81.8 L98.8 81.6 L98.2 81.2 L97.8 81 L97.5 80.9 L96.9 80.6 L96.4 80.4 L96.1 80.2 L95.4 79.9 L95.1 79.7 L94.7 79.6 L94 79.3 L93.7 79.2 L93 78.9 L92.7 78.7 L92.1 78.6 L91.6 78.4 L91.2 78.2 L90.6 78 L90.2 77.9 L89.6 77.7 L89.1 77.5 L88.6 77.4 L87.9 77.2 L87.5 77.1 L86.8 77 L86.5 76.9 L85.8 76.7 L85.1 76.6 L84.8 76.5 L84.1 76.4 L83.4 76.3 L82.9 76.2 L82.4 76.1 L81.7 76 L81 76 L80.3 75.9 L79.7 75.9 L79.3 75.8 L78.6 75.8 L77.9 75.8 L77.2 75.8 L76.6 75.8 L75.9 75.8 L75.2 75.8"/><path d="M134.9 13 L135.3 13.3 L135.6 13.7 L136 14 L136.4 14.3 L136.7 14.7 L137.1 15 L137.4 15.4 L137.8 15.7 L138.2 16 L138.5 16.4 L138.9 16.7 L139.2 17 L139.6 17.4 L139.9 17.7 L140.3 18 L140.6 18.4 L141 18.7 L141.3 19 L141.6 19.4 L142 19.7 L142.3 20.1 L142.6 20.4 L143 20.7 L143.3 21.1 L143.7 21.4 L144 21.7 L144.3 22.1 L144.6 22.4 L145 22.7 L145.3 23.1 L145.6 23.4 L145.9 23.8 L146.3 24.1 L146.6 24.4 L146.9 24.8 L147.2 25.1 L147.5 25.4 L147.9 25.8 L148.2 26.1 L148.5 26.5 L148.8 26.8 L149.2 27.2 L149.5 27.6 L149.9 27.9 L150.2 28.3 L150.5 28.7 L150.9 29.1 L151.2 29.5 L151.5 29.8 L151.8 30.1 L152.1 30.5 L152.4 30.8 L152.7 31.2 L153 31.5 L153.3 31.8 L153.6 32.2 L154 32.6 L154.3 33 L154.7 33.4 L155 33.8 L155.3 34.2 L155.6 34.5 L155.9 34.9 L156.2 35.2 L156.4 35.5 L156.7 35.9 L157 36.3 L157.4 36.7 L157.7 37.1 L158.1 37.5 L158.3 37.9 L158.6 38.2 L158.9 38.5 L159.1 38.9 L159.4 39.3 L159.8 39.7 L160.1 40.2 L160.4 40.6 L160.7 40.9 L160.9 41.2 L161.2 41.6 L161.5 42"/><path d="M161.5 263.3 L161.4 263.8 L161.2 264.5 L161.2 264.8 L161 265.5 L160.8 266.1 L160.8 266.5 L160.6 267.1 L160.5 267.7 L160.4 268.2 L160.2 268.8 L160.1 269.2 L159.9 269.8 L159.8 270.5 L159.7 270.8 L159.5 271.5 L159.4 271.9 L159.2 272.5 L159.1 273.1 L159 273.5 L158.8 274.2 L158.7 274.5 L158.5 275.2 L158.4 275.6 L158.2 276.2 L158.1 276.8 L157.9 277.2 L157.7 277.9 L157.6 278.2 L157.4 278.9 L157.3 279.2 L157.1 279.9 L157 280.3 L156.8 280.9 L156.7 281.3"/><path d="M70.4 67.1 L70.1 67.1 L69.4 67.2 L68.7 67.2 L68 67.3 L67.3 67.4 L66.7 67.5 L66.3 67.5 L65.6 67.7 L64.9 67.8 L64.6 67.9 L63.9 68 L63.6 68.1 L62.9 68.3 L62.5 68.5 L61.8 68.7 L61.5 68.8 L60.8 69.1 L60.5 69.3 L60 69.5 L59.4 69.8 L59.1 69.9 L58.7 70.1 L58.1 70.5 L57.7 70.7 L57.4 71 L57 71.2 L56.6 71.5 L56.2 71.8 L55.8 72.2 L55.4 72.5 L55 72.8 L54.6 73.1 L54.3 73.5 L54 73.8 L53.6 74.1 L53.3 74.5 L53 74.9 L52.7 75.2 L52.4 75.5 L52.1 75.9 L51.9 76.2 L51.6 76.6 L51.2 77 L50.9 77.5 L50.6 77.9 L50.4 78.2 L50.2 78.6 L49.9 79.1 L49.6 79.6 L49.4 79.9 L49.2 80.2 L48.8 80.9 L48.6 81.2 L48.4 81.6 L48.1 82.2 L47.9 82.6 L47.8 82.9 L47.5 83.6 L47.3 83.9 L47.1 84.4 L46.9 84.9 L46.7 85.3 L46.4 85.9 L46.3 86.3 L46.1 86.9 L45.9 87.3 L45.7 87.8 L45.5 88.3 L45.4 88.7 L45.2 89.3 L45.1 89.7 L44.9 90.3 L44.7 90.8 L44.5 91.3 L44.4 91.9 L44.2 92.3 L44.1 93 L44 93.3 L43.8 94 L43.7 94.4 L43.5 95 L43.3 95.7 L43.3 96 L43.1 96.7 L43 97.1 L42.9 97.7 L42.7 98.4 L42.6 98.7 L42.5 99.4 L42.4 100.1 L42.3 100.4 L42.2 101.1 L42 101.7 L42 102.1 L41.9 102.8 L41.7 103.4 L41.6 104.1 L41.6 104.4 L41.5 105.1 L41.4 105.8 L41.3 106.3 L41.2 106.8 L41.1 107.5 L41 108.1 L41 108.8 L40.9 109.1 L40.8 109.8 L40.8 110.5 L40.7 111.2 L40.6 111.8 L40.6 112.2 L40.5 112.8 L40.5 113.5 L40.4 114.2 L40.4 114.9 L40.3 115.5 L40.3 116.1 L40.2 116.5 L40.2 117.2 L40.1 117.9 L40.1 118.6 L40.1 119.2 L40 119.9 L40 120.6 L40 121.2 L40 121.9 L39.9 122.6 L39.9 123.3 L39.9 123.8 L39.9 124.3 L39.9 124.9 L39.9 125.6 L39.9 126.3 L39.9 127 L39.9 127.6 L39.9 128.3 L39.9 129 L39.9 129.7 L39.9 130 L39.9 130.7 L40 131.3 L40 132 L40 132.7 L40 133.3 L40 134 L40.1 134.7 L40.1 135.4 L40.1 136 L40.2 136.7 L40.2 137.4 L40.3 137.9 L40.3 138.4 L40.3 139.1 L40.4 139.7 L40.4 140.4 L40.5 141.1 L40.6 141.8 L40.6 142.2 L40.7 142.8 L40.7 143.4 L40.8 144.1 L40.9 144.8 L40.9 145.5 L41 145.8 L41.1 146.5 L41.1 147.1 L41.2 147.8 L41.3 148.3 L41.3 148.8 L41.4 149.5 L41.5 150.2 L41.6 150.8 L41.7 151.2 L41.8 151.8 L41.9 152.5 L42 153.1 L42 153.5 L42.2 154.2 L42.3 154.9 L42.3 155.2 L42.4 155.9 L42.6 156.5 L42.7 157.1 L42.7 157.6 L42.9 158.2 L43 158.9 L43.1 159.2 L43.2 159.9 L43.3 160.6 L43.4 160.9 L43.5 161.6 L43.7 162.2 L43.8 162.6 L43.9 163.3 L44 163.8 L44.1 164.3 L44.3 164.9 L44.4 165.3 L44.5 166 L44.7 166.6 L44.8 167 L44.9 167.6 L45.1 168.1 L45.2 168.6 L45.4 169.3 L45.5 169.7 L45.7 170.3 L45.7 170.7 L45.9 171.3 L46.1 171.9 L46.2 172.3 L46.4 173 L46.5 173.4 L46.7 174 L46.8 174.4 L47 175 L47.1 175.4 L47.3 176 L47.5 176.5 L47.6 177.1 L47.8 177.5 L48 178.1 L48.1 178.6 L48.3 179.1 L48.5 179.6 L48.7 180.1 L48.8 180.6 L49 181.1 L49.2 181.5 L49.4 182.1 L49.5 182.5 L49.7 183.1 L49.9 183.4 L50.1 184.1 L50.3 184.4 L50.5 185.1 L50.7 185.5 L50.9 186 L51.1 186.5 L51.2 186.8 L51.5 187.5 L51.6 187.8 L51.9 188.5 L52.1 188.8 L52.2 189.2 L52.5 189.8 L52.7 190.2 L52.9 190.8 L53.1 191.2 L53.3 191.5 L53.6 192.2 L53.8 192.5 L54 192.9 L54.3 193.5 L54.4 193.9 L54.6 194.3 L54.9 194.9 L55.1 195.2 L55.3 195.6 L55.7 196.2 L55.9 196.5 L56 196.9 L56.4 197.5 L56.6 197.9 L56.8 198.2 L57 198.6 L57.4 199.2 L57.6 199.6 L57.8 199.9 L58.1 200.3 L58.4 200.8 L58.7 201.3 L58.9 201.6 L59.2 201.9 L59.4 202.3 L59.8 202.8 L60.1 203.3 L60.4 203.6 L60.6 203.9 L60.9 204.3 L61.2 204.6 L61.5 205.1 L61.8 205.5 L62.2 205.9 L62.5 206.3 L62.8 206.6 L63.1 207 L63.4 207.3 L63.8 207.6 L64.1 208 L64.4 208.3 L64.8 208.7 L65.2 209 L65.5 209.3 L65.9 209.7 L66.3 210 L66.6 210.3 L67 210.5 L67.3 210.8 L67.7 211 L68.1 211.3 L68.6 211.7 L69 212 L69.4 212.2 L69.7 212.4 L70.3 212.7 L70.7 212.9 L71.1 213.1 L71.7 213.4 L72.1 213.5 L72.5 213.7 L73.1 213.9 L73.5 214 L74.2 214.3 L74.6 214.4 L75.2 214.5 L75.9 214.7 L76.2 214.7 L76.9 214.8 L77.6 214.9 L78.3 215 L79 215 L79.6 215 L80.3 215 L81 215 L81.7 214.9 L82.4 214.9 L83.1 214.8 L83.6 214.7 L84.1 214.6 L84.8 214.5 L85.3 214.4 L85.8 214.2 L86.5 214.1 L86.8 214 L87.5 213.8 L87.9 213.7 L88.6 213.4 L88.9 213.3 L89.6 213.1 L89.9 212.9 L90.5 212.7 L90.9 212.5 L91.3 212.3 L92 212.1 L92.3 211.9 L92.8 211.7 L93.3 211.4 L93.7 211.2 L94.1 211 L94.7 210.7 L95.1 210.5 L95.4 210.3 L96 210 L96.4 209.7 L96.8 209.5 L97.1 209.3 L97.7 209 L98.1 208.7 L98.5 208.5 L98.8 208.2 L99.2 208 L99.7 207.6 L100.2 207.3 L100.5 207.1 L100.9 206.8 L101.2 206.6 L101.6 206.3 L102.1 206 L102.5 205.6 L102.9 205.3 L103.3 205.1 L103.6 204.8 L104 204.5 L104.3 204.2 L104.7 203.9 L105.1 203.6 L105.5 203.3 L105.9 202.9 L106.3 202.6 L106.6 202.3 L107 201.9 L107.4 201.6 L107.7 201.3 L108.1 201 L108.4 200.7 L108.8 200.3 L109.1 200 L109.4 199.7 L109.8 199.4 L110.1 199 L110.5 198.7 L110.8 198.3 L111.2 198 L111.5 197.6 L111.8 197.3 L112.2 196.9 L112.5 196.6 L112.8 196.2 L113.2 195.9 L113.5 195.5 L113.8 195.2 L114.1 194.9 L114.4 194.5 L114.7 194.2 L114.9 193.9 L115.3 193.5 L115.6 193.1 L115.9 192.7 L116.3 192.3 L116.6 191.8 L116.9 191.5 L117.2 191.2 L117.4 190.8 L117.7 190.5 L118 190.1 L118.3 189.6 L118.7 189.2 L119 188.8 L119.2 188.5 L119.5 188.1 L119.7 187.8 L120.1 187.3 L120.4 186.8 L120.6 186.5 L120.9 186.1 L121.1 185.8 L121.4 185.3 L121.8 184.8 L122 184.4 L122.2 184.1 L122.5 183.7 L122.8 183.1 L123 182.8 L123.2 182.4 L123.5 182 L123.8 181.4 L124 181.1 L124.2 180.7 L124.5 180.2 L124.8 179.7 L125 179.4 L125.2 179 L125.5 178.4 L125.7 178.1 L125.9 177.7 L126.2 177.1 L126.4 176.7 L126.6 176.3 L126.9 175.7 L127 175.4 L127.3 174.9 L127.5 174.4 L127.7 174 L127.9 173.4 L128.1 173 L128.3 172.6 L128.5 172 L128.7 171.7 L129 171 L129.1 170.7 L129.3 170.1 L129.5 169.7 L129.6 169.2 L129.9 168.6 L130 168.3 L130.2 167.6 L130.3 167.3 L130.6 166.6 L130.7 166.3 L130.9 165.6 L131 165.2 L131.2 164.6 L131.4 164 L131.5 163.6 L131.7 162.9 L131.8 162.6 L131.9 161.9 L132 161.5 L132.2 160.9 L132.4 160.2 L132.4 159.9 L132.6 159.2 L132.7 158.6 L132.8 158.2 L132.9 157.6 L133.1 156.9 L133.1 156.5 L133.3 155.9 L133.4 155.2 L133.4 154.9 L133.5 154.2 L133.6 153.5 L133.7 152.8 L133.8 152.5 L133.9 151.8 L133.9 151.2 L134 150.5 L134.1 149.8 L134.1 149.5 L134.2 148.8 L134.2 148.1 L134.3 147.5 L134.3 146.8 L134.3 146.1 L134.4 145.5 L134.4 144.8 L134.4 144.1 L134.4 143.4 L134.4 142.8 L134.4 142.1 L134.4 141.4 L134.4 140.7 L134.4 140.1 L134.4 139.4 L134.3 138.7 L134.3 138.1 L134.3 137.4 L134.2 136.7 L134.2 136 L134.1 135.4 L134.1 134.9 L134.1 134.4 L134 133.7 L133.9 133 L133.8 132.3 L133.8 131.7 L133.7 131.3 L133.6 130.7 L133.5 130 L133.4 129.3 L133.4 129 L133.3 128.3 L133.2 127.6 L133.1 127 L133 126.6 L132.9 126 L132.8 125.3 L132.7 124.9 L132.6 124.3 L132.4 123.6 L132.3 123.3 L132.2 122.6 L132 122 L132 121.6 L131.8 120.9 L131.7 120.5 L131.5 119.9 L131.4 119.2 L131.3 118.9 L131.1 118.2 L131 117.9 L130.8 117.2 L130.7 116.8 L130.5 116.2 L130.3 115.6 L130.2 115.2 L130 114.6 L129.9 114.2 L129.6 113.5 L129.5 113.2 L129.3 112.5 L129.2 112.2 L129 111.6 L128.8 111.2 L128.6 110.6 L128.4 110.2 L128.3 109.7 L128 109.1 L127.9 108.8 L127.6 108.1 L127.5 107.8 L127.3 107.2 L127.1 106.8 L126.9 106.4 L126.6 105.8 L126.5 105.4 L126.2 104.9 L126 104.4 L125.8 104.1 L125.5 103.5 L125.4 103.1 L125.2 102.8 L124.9 102.1 L124.7 101.7 L124.5 101.4 L124.2 100.8 L124 100.4 L123.8 100.1 L123.5 99.5 L123.2 99.1 L123 98.7 L122.8 98.3 L122.5 97.7 L122.2 97.4 L122 97 L121.8 96.6 L121.4 96.1 L121.2 95.7 L121 95.4 L120.7 95 L120.4 94.5 L120.1 94 L119.9 93.7 L119.6 93.3 L119.4 93 L119 92.5 L118.7 92 L118.4 91.7 L118.2 91.3 L117.9 91 L117.6 90.7 L117.3 90.3 L117 89.8 L116.6 89.4 L116.3 89 L116 88.6 L115.7 88.3 L115.4 88 L115.1 87.6 L114.8 87.3 L114.5 87 L114.2 86.6 L113.9 86.3 L113.6 85.9 L113.2 85.5 L112.9 85.2 L112.5 84.8 L112.2 84.5 L111.8 84.2 L111.5 83.8 L111.2 83.5 L110.8 83.2 L110.5 82.9 L110.1 82.6 L109.8 82.2 L109.4 81.9 L109 81.6 L108.6 81.2 L108.2 80.9 L107.8 80.6 L107.4 80.2 L107 80 L106.7 79.7 L106.4 79.4 L106 79.2 L105.6 78.9 L105.2 78.6 L104.7 78.2 L104.3 77.9 L104 77.7 L103.6 77.5 L103.2 77.2 L102.7 76.9 L102.3 76.6 L101.9 76.3 L101.6 76.1 L101.1 75.9 L100.6 75.5 L100.2 75.3 L99.9 75.1 L99.4 74.9 L98.8 74.5 L98.5 74.4 L98.1 74.2 L97.5 73.8 L97.1 73.6 L96.8 73.5 L96.2 73.2 L95.7 73 L95.4 72.8 L94.8 72.5 L94.4 72.3 L94 72.2 L93.3 71.9 L93 71.7 L92.4 71.5 L92 71.3 L91.6 71.2 L90.9 70.9 L90.6 70.8 L89.9 70.5 L89.6 70.4 L88.9 70.2 L88.6 70.1 L87.9 69.8 L87.5 69.7 L86.8 69.5 L86.5 69.4 L85.8 69.2 L85.5 69.1 L84.8 68.9 L84.3 68.8 L83.8 68.7 L83.1 68.5 L82.7 68.4 L82 68.3 L81.4 68.1 L81 68.1 L80.3 67.9 L79.6 67.8 L79.3 67.8 L78.6 67.6 L77.9 67.5 L77.3 67.5 L76.9 67.4 L76.2 67.3 L75.5 67.3 L74.9 67.2 L74.2 67.2 L73.5 67.1 L73.1 67.1 L72.5 67.1 L71.8 67.1 L71.1 67.1 L70.4 67.1"/><path d="M131.2 13 L131.6 13.3 L132 13.7 L132.3 14 L132.7 14.3 L133.1 14.7 L133.4 15 L133.8 15.3 L134.1 15.6 L134.4 15.9 L134.8 16.2 L135.1 16.5 L135.5 16.8 L135.8 17.1 L136.2 17.5 L136.5 17.8 L136.8 18.1 L137.2 18.4 L137.5 18.7 L137.9 19.1 L138.2 19.4 L138.6 19.7 L138.9 20.1 L139.3 20.4 L139.6 20.7 L140 21.1 L140.3 21.4 L140.7 21.7 L141 22.1 L141.3 22.4 L141.7 22.7 L142 23.1 L142.3 23.4 L142.7 23.8 L143 24.1 L143.3 24.4 L143.7 24.8 L144 25.1 L144.4 25.5 L144.7 25.8 L145.1 26.2 L145.4 26.5 L145.7 26.9 L146.1 27.3 L146.4 27.6 L146.8 28 L147.1 28.3 L147.5 28.7 L147.8 29.1 L148.1 29.4 L148.5 29.8 L148.8 30.1 L149.1 30.5 L149.4 30.8 L149.7 31.2 L150 31.5 L150.3 31.8 L150.6 32.2 L150.9 32.5 L151.2 32.8 L151.6 33.2 L151.9 33.6 L152.3 34 L152.6 34.4 L152.9 34.8 L153.3 35.2 L153.6 35.5 L153.9 35.9 L154.1 36.2 L154.4 36.5 L154.7 36.9 L155 37.2 L155.3 37.6 L155.7 38 L156 38.4 L156.4 38.9 L156.7 39.2 L156.9 39.6 L157.2 39.9 L157.5 40.2 L157.7 40.6 L158.1 41 L158.4 41.4 L158.8 41.9 L159 42.2 L159.3 42.6 L159.6 42.9 L159.8 43.3 L160.1 43.7 L160.5 44.1 L160.8 44.6 L161.1 44.9 L161.3 45.3"/><path d="M161.5 257.3 L161.4 257.7 L161.3 258.4 L161.2 259 L161.1 259.4 L160.9 260.1 L160.8 260.7 L160.7 261.1 L160.6 261.8 L160.5 262.3 L160.4 262.8 L160.2 263.4 L160.1 263.8 L160 264.5 L159.8 265.1 L159.8 265.5 L159.6 266.1 L159.4 266.8 L159.4 267.1 L159.2 267.8 L159.1 268.2 L159 268.8 L158.8 269.5 L158.7 269.8 L158.5 270.5 L158.4 271 L158.3 271.5 L158.1 272.2 L158 272.5 L157.8 273.2 L157.7 273.6 L157.6 274.2 L157.4 274.8 L157.3 275.2 L157.1 275.9 L157 276.2 L156.8 276.9 L156.7 277.2 L156.5 277.9 L156.4 278.3 L156.2 278.9 L156 279.5 L155.9 279.9 L155.7 280.6 L155.6 280.9 L155.3 281.6"/><path d="M65.7 281.6 L65.3 281.3 L64.9 280.9 L64.6 280.6 L64.2 280.3 L63.9 280 L63.6 279.8 L63.2 279.5 L62.9 279.2 L62.5 278.9 L62 278.6 L61.5 278.2 L61.2 278 L60.8 277.7 L60.5 277.5 L60 277.2 L59.5 276.9 L59.1 276.7 L58.8 276.5 L58.3 276.2 L57.7 275.9 L57.4 275.7 L57 275.5 L56.4 275.3 L56 275.1 L55.4 274.9 L55 274.7 L54.5 274.5 L54 274.4 L53.4 274.2 L52.9 274.1 L52.2 273.9 L51.9 273.8 L51.2 273.7 L50.5 273.6 L50.2 273.5 L49.5 273.5 L48.8 273.4 L48.1 273.4 L47.5 273.3 L46.8 273.3 L46.1 273.3 L45.4 273.4 L44.7 273.4 L44 273.5 L43.7 273.5 L43 273.6 L42.3 273.7 L41.6 273.9 L41.3 273.9 L40.6 274.1 L40 274.2 L39.6 274.3 L38.9 274.5 L38.5 274.6 L37.9 274.8 L37.5 274.9 L36.8 275.1 L36.5 275.3 L35.8 275.5 L35.5 275.6 L34.9 275.9 L34.4 276.1 L34.1 276.2 L33.4 276.5 L33.1 276.7 L32.6 276.9 L32 277.2 L31.7 277.3 L31.3 277.6 L30.7 277.9 L30.3 278.1 L30 278.3 L29.5 278.6 L29 278.9 L28.6 279.2 L28.3 279.4 L27.9 279.6 L27.5 279.9 L27 280.3 L26.6 280.6 L26.2 280.9 L25.9 281.2 L25.5 281.4"/><path d="M59.4 56 L59.1 56 L58.4 56.2 L57.7 56.3 L57.4 56.4 L56.7 56.6 L56.3 56.7 L55.7 56.9 L55.3 57 L54.6 57.3 L54.3 57.5 L53.9 57.7 L53.3 58 L52.9 58.3 L52.6 58.5 L52.2 58.7 L51.8 59.1 L51.3 59.4 L50.9 59.7 L50.5 60.1 L50.2 60.4 L49.9 60.7 L49.5 61.1 L49.2 61.4 L48.9 61.7 L48.6 62.1 L48.3 62.4 L48 62.8 L47.8 63.1 L47.5 63.5 L47.1 64 L46.8 64.4 L46.6 64.8 L46.4 65.1 L46.1 65.6 L45.7 66.1 L45.6 66.5 L45.4 66.8 L45.1 67.3 L44.8 67.8 L44.6 68.1 L44.4 68.6 L44.1 69.1 L44 69.5 L43.7 70.1 L43.5 70.5 L43.3 70.8 L43 71.5 L42.9 71.8 L42.7 72.4 L42.5 72.8 L42.3 73.3 L42.1 73.8 L42 74.2 L41.7 74.9 L41.6 75.2 L41.3 75.9 L41.2 76.2 L41 76.9 L40.9 77.2 L40.7 77.9 L40.6 78.2 L40.3 78.9 L40.2 79.2 L40 79.9 L39.9 80.3 L39.7 80.9 L39.6 81.5 L39.5 81.9 L39.3 82.6 L39.2 82.9 L39 83.6 L38.9 84 L38.7 84.6 L38.6 85.3 L38.5 85.6 L38.3 86.3 L38.2 86.8 L38.1 87.3 L38 88 L37.9 88.4 L37.7 89 L37.6 89.6 L37.5 90 L37.4 90.7 L37.3 91.3 L37.2 91.7 L37.1 92.3 L36.9 93 L36.8 93.5 L36.7 94 L36.6 94.7 L36.5 95.4 L36.5 95.7 L36.3 96.4 L36.2 97 L36.2 97.6 L36.1 98.1 L36 98.7 L35.9 99.4 L35.8 99.9 L35.7 100.4 L35.7 101.1 L35.6 101.7 L35.5 102.4 L35.4 102.8 L35.4 103.4 L35.3 104.1 L35.2 104.8 L35.1 105.4 L35.1 105.8 L35 106.5 L34.9 107.1 L34.9 107.8 L34.8 108.5 L34.8 108.9 L34.7 109.5 L34.7 110.2 L34.6 110.8 L34.6 111.5 L34.5 112.2 L34.5 112.8 L34.4 113.2 L34.4 113.9 L34.4 114.5 L34.3 115.2 L34.3 115.9 L34.2 116.5 L34.2 117.2 L34.2 117.9 L34.2 118.6 L34.1 119.2 L34.1 119.9 L34.1 120.2 L34.1 120.9 L34.1 121.6 L34 122.3 L34 122.9 L34 123.6 L34 124.3 L34 124.9 L34 125.6 L34 126.3 L34 127 L34 127.6 L34 128.3 L34 129 L34 129.7 L34 130.3 L34 131 L34.1 131.7 L34.1 132.3 L34.1 133 L34.1 133.3 L34.1 134 L34.1 134.7 L34.2 135.4 L34.2 136 L34.2 136.7 L34.3 137.4 L34.3 138.1 L34.3 138.7 L34.4 139.4 L34.4 140.1 L34.5 140.4 L34.5 141.1 L34.6 141.8 L34.6 142.4 L34.7 143.1 L34.7 143.8 L34.8 144.4 L34.8 144.8 L34.9 145.5 L34.9 146.1 L35 146.8 L35.1 147.5 L35.1 148.1 L35.2 148.5 L35.2 149.1 L35.3 149.8 L35.4 150.5 L35.5 151.1 L35.5 151.5 L35.6 152.2 L35.7 152.8 L35.8 153.5 L35.8 153.9 L35.9 154.5 L36 155.2 L36.1 155.9 L36.2 156.2 L36.3 156.9 L36.4 157.6 L36.5 158.2 L36.5 158.6 L36.6 159.2 L36.7 159.9 L36.8 160.5 L36.9 160.9 L37 161.6 L37.1 162.3 L37.2 162.6 L37.3 163.3 L37.5 163.9 L37.5 164.3 L37.7 164.9 L37.8 165.6 L37.9 166 L38 166.6 L38.1 167.3 L38.2 167.7 L38.3 168.3 L38.5 169 L38.6 169.3 L38.7 170 L38.9 170.7 L38.9 171 L39.1 171.7 L39.2 172.3 L39.3 172.7 L39.5 173.4 L39.6 173.7 L39.7 174.4 L39.9 175 L40 175.4 L40.2 176 L40.3 176.5 L40.4 177.1 L40.6 177.7 L40.7 178.1 L40.9 178.7 L41 179.1 L41.1 179.7 L41.3 180.3 L41.4 180.7 L41.6 181.4 L41.7 181.8 L41.9 182.4 L42 182.8 L42.2 183.4 L42.3 183.8 L42.5 184.4 L42.7 184.9 L42.8 185.5 L43 186 L43.1 186.5 L43.3 187.1 L43.5 187.5 L43.7 188.1 L43.8 188.5 L44 189.2 L44.1 189.5 L44.4 190.2 L44.5 190.5 L44.7 191.1 L44.8 191.5 L45.1 192.1 L45.2 192.5 L45.4 193 L45.6 193.5 L45.7 194 L46 194.5 L46.1 194.9 L46.3 195.5 L46.5 195.9 L46.7 196.5 L46.9 196.9 L47.1 197.5 L47.3 197.9 L47.5 198.4 L47.7 198.9 L47.8 199.2 L48.1 199.9 L48.2 200.2 L48.5 200.8 L48.7 201.3 L48.8 201.6 L49.1 202.3 L49.3 202.6 L49.5 203.1 L49.7 203.6 L49.9 203.9 L50.2 204.6 L50.4 205 L50.5 205.3 L50.9 206 L51 206.3 L51.2 206.7 L51.5 207.3 L51.7 207.6 L51.9 208 L52.2 208.7 L52.4 209 L52.6 209.3 L52.9 209.9 L53.2 210.3 L53.4 210.7 L53.6 211.1 L53.9 211.7 L54.1 212 L54.4 212.3 L54.6 212.8 L55 213.4 L55.2 213.7 L55.4 214 L55.7 214.4 L56 214.9 L56.3 215.4 L56.6 215.7 L56.8 216 L57 216.4 L57.4 216.9 L57.7 217.3 L58.1 217.7 L58.3 218.1 L58.6 218.4 L58.9 218.7 L59.2 219.1 L59.5 219.4 L59.8 219.8 L60.1 220.1 L60.5 220.5 L60.8 220.8 L61.2 221.2 L61.5 221.5 L61.8 221.8 L62.2 222.1 L62.6 222.4 L63 222.8 L63.5 223.1 L63.9 223.4 L64.2 223.7 L64.6 223.9 L64.9 224.1 L65.5 224.5 L65.9 224.7 L66.3 224.9 L66.8 225.1 L67.3 225.3 L67.7 225.5 L68.3 225.7 L68.7 225.9 L69.4 226.1 L69.7 226.2 L70.4 226.3 L71.1 226.4 L71.4 226.5 L72.1 226.6 L72.8 226.6 L73.5 226.7 L74.2 226.7 L74.9 226.7 L75.5 226.6 L76.2 226.6 L76.9 226.5 L77.2 226.4 L77.9 226.3 L78.6 226.2 L79 226.1 L79.6 226 L80.3 225.8 L80.7 225.7 L81.4 225.5 L81.7 225.4 L82.4 225.2 L82.7 225.1 L83.4 224.8 L83.8 224.7 L84.4 224.5 L84.8 224.3 L85.2 224.1 L85.8 223.9 L86.2 223.7 L86.8 223.4 L87.2 223.2 L87.5 223.1 L88.2 222.8 L88.6 222.6 L88.9 222.4 L89.5 222.1 L89.9 221.9 L90.3 221.7 L90.7 221.4 L91.3 221.1 L91.6 220.9 L92 220.7 L92.5 220.4 L93 220.1 L93.3 219.9 L93.7 219.7 L94.1 219.4 L94.6 219.1 L95.1 218.8 L95.4 218.6 L95.7 218.3 L96.2 218.1 L96.7 217.7 L97.1 217.4 L97.5 217.2 L97.8 216.9 L98.1 216.7 L98.6 216.4 L99 216 L99.5 215.7 L99.9 215.4 L100.2 215.2 L100.5 214.9 L100.9 214.7 L101.3 214.4 L101.7 214 L102.1 213.7 L102.5 213.4 L102.9 213 L103.3 212.7 L103.6 212.5 L104 212.2 L104.3 211.9 L104.6 211.6 L105 211.3 L105.3 211 L105.7 210.7 L106.1 210.3 L106.5 210 L106.9 209.7 L107.3 209.3 L107.6 209 L108 208.7 L108.4 208.3 L108.7 208 L109.1 207.6 L109.4 207.3 L109.8 207 L110.1 206.6 L110.5 206.3 L110.8 206 L111.2 205.6 L111.5 205.3 L111.8 205 L112.2 204.6 L112.5 204.3 L112.8 203.9 L113.1 203.6 L113.5 203.3 L113.8 202.9 L114.1 202.6 L114.4 202.3 L114.7 201.9 L115 201.6 L115.3 201.3 L115.6 200.9 L115.9 200.6 L116.3 200.2 L116.6 199.8 L117 199.4 L117.3 199 L117.7 198.6 L118 198.2 L118.2 197.9 L118.5 197.6 L118.8 197.2 L119.1 196.9 L119.4 196.5 L119.7 196.1 L120.1 195.7 L120.4 195.2 L120.7 194.9 L120.9 194.5 L121.2 194.2 L121.5 193.9 L121.8 193.4 L122.1 193 L122.5 192.5 L122.7 192.2 L122.9 191.8 L123.2 191.5 L123.5 191.1 L123.8 190.6 L124.1 190.2 L124.4 189.8 L124.6 189.5 L124.9 189.1 L125.2 188.6 L125.5 188.1 L125.7 187.8 L125.9 187.5 L126.2 187 L126.6 186.5 L126.8 186.1 L127 185.8 L127.3 185.3 L127.6 184.8 L127.8 184.4 L128 184.1 L128.3 183.6 L128.6 183.1 L128.8 182.8 L129 182.4 L129.3 181.8 L129.5 181.4 L129.7 181.1 L130 180.5 L130.2 180.1 L130.4 179.7 L130.7 179.2 L130.9 178.7 L131.1 178.4 L131.4 177.8 L131.6 177.4 L131.7 177.1 L132 176.4 L132.2 176 L132.4 175.6 L132.6 175 L132.8 174.7 L133.1 174 L133.2 173.7 L133.4 173.2 L133.6 172.7 L133.8 172.3 L134 171.7 L134.1 171.3 L134.4 170.7 L134.5 170.3 L134.8 169.7 L134.9 169.3 L135.1 168.6 L135.2 168.3 L135.4 167.6 L135.5 167.3 L135.8 166.6 L135.9 166.3 L136.1 165.6 L136.2 165.3 L136.3 164.6 L136.5 164.1 L136.6 163.6 L136.8 162.9 L136.9 162.6 L137 161.9 L137.2 161.3 L137.3 160.9 L137.4 160.2 L137.5 159.8 L137.6 159.2 L137.8 158.6 L137.9 158 L138 157.6 L138.1 156.9 L138.2 156.2 L138.2 155.9 L138.3 155.2 L138.4 154.5 L138.5 153.9 L138.6 153.5 L138.6 152.8 L138.7 152.2 L138.8 151.5 L138.9 150.8 L138.9 150.3 L138.9 149.8 L139 149.1 L139 148.5 L139.1 147.8 L139.1 147.1 L139.1 146.5 L139.2 145.8 L139.2 145.1 L139.2 144.4 L139.2 143.8 L139.2 143.1 L139.2 142.4 L139.2 141.8 L139.2 141.1 L139.1 140.4 L139.1 139.7 L139.1 139.1 L139.1 138.4 L139 137.7 L139 137 L138.9 136.4 L138.9 135.9 L138.9 135.4 L138.8 134.7 L138.7 134 L138.7 133.3 L138.6 132.7 L138.6 132.3 L138.5 131.7 L138.4 131 L138.3 130.3 L138.2 129.7 L138.2 129.3 L138.1 128.6 L137.9 128 L137.9 127.5 L137.8 127 L137.7 126.3 L137.5 125.6 L137.5 125.3 L137.4 124.6 L137.2 123.9 L137.2 123.6 L137 122.9 L136.9 122.3 L136.8 121.9 L136.6 121.2 L136.5 120.6 L136.4 120.2 L136.2 119.6 L136.2 119.2 L136 118.6 L135.8 117.9 L135.7 117.5 L135.5 116.9 L135.5 116.5 L135.3 115.9 L135.1 115.4 L135 114.9 L134.8 114.2 L134.7 113.9 L134.5 113.2 L134.4 112.8 L134.1 112.2 L134 111.8 L133.8 111.2 L133.7 110.8 L133.5 110.2 L133.4 109.8 L133.1 109.1 L133 108.8 L132.7 108.1 L132.6 107.8 L132.4 107.2 L132.2 106.8 L132 106.3 L131.8 105.8 L131.7 105.4 L131.4 104.8 L131.3 104.4 L131 103.8 L130.9 103.4 L130.7 103 L130.4 102.4 L130.3 102.1 L130 101.5 L129.8 101.1 L129.6 100.7 L129.3 100.1 L129.2 99.7 L129 99.3 L128.7 98.7 L128.5 98.4 L128.3 97.9 L128 97.4 L127.8 97 L127.6 96.6 L127.3 96 L127.1 95.7 L126.9 95.3 L126.6 94.7 L126.4 94.4 L126.2 94 L125.9 93.5 L125.6 93 L125.4 92.7 L125.2 92.3 L124.9 91.8 L124.5 91.3 L124.3 91 L124.1 90.7 L123.8 90.2 L123.5 89.7 L123.2 89.3 L123 89 L122.8 88.6 L122.5 88.2 L122.1 87.7 L121.8 87.3 L121.6 87 L121.3 86.6 L121.1 86.3 L120.7 85.8 L120.4 85.4 L120.1 84.9 L119.8 84.6 L119.5 84.3 L119.3 83.9 L119 83.6 L118.7 83.2 L118.3 82.8 L118 82.4 L117.7 82 L117.3 81.6 L117 81.2 L116.7 80.9 L116.4 80.6 L116 80.2 L115.7 79.9 L115.4 79.6 L115.1 79.2 L114.8 78.9 L114.4 78.6 L114.1 78.2 L113.7 77.9 L113.4 77.5 L113 77.2 L112.7 76.9 L112.3 76.5 L112 76.2 L111.6 75.9 L111.2 75.5 L110.8 75.2 L110.5 74.9 L110.1 74.6 L109.8 74.3 L109.4 74 L109.1 73.8 L108.8 73.5 L108.4 73.2 L107.9 72.8 L107.5 72.5 L107.1 72.2 L106.7 71.9 L106.4 71.6 L106 71.4 L105.7 71.2 L105.2 70.8 L104.7 70.5 L104.3 70.2 L104 70 L103.6 69.7 L103.2 69.5 L102.7 69.1 L102.3 68.9 L101.9 68.6 L101.6 68.4 L101.1 68.1 L100.5 67.8 L100.2 67.6 L99.9 67.4 L99.3 67.1 L98.8 66.8 L98.5 66.6 L98.1 66.5 L97.5 66.1 L97.1 65.9 L96.8 65.7 L96.2 65.4 L95.7 65.2 L95.4 65 L94.9 64.8 L94.4 64.5 L94 64.4 L93.5 64.1 L93 63.9 L92.7 63.7 L92 63.4 L91.6 63.3 L91.3 63.1 L90.6 62.8 L90.3 62.7 L89.7 62.4 L89.2 62.2 L88.9 62.1 L88.2 61.8 L87.9 61.7 L87.2 61.4 L86.8 61.3 L86.3 61.1 L85.8 60.9 L85.3 60.7 L84.8 60.5 L84.4 60.4 L83.8 60.2 L83.4 60.1 L82.7 59.8 L82.4 59.7 L81.7 59.5 L81.4 59.4 L80.7 59.2 L80.3 59.1 L79.6 58.9 L79.2 58.7 L78.6 58.5 L78 58.4 L77.6 58.3 L76.9 58.1 L76.6 58 L75.9 57.8 L75.5 57.7 L74.9 57.5 L74.2 57.4 L73.8 57.3 L73.1 57.1 L72.7 57 L72.1 56.9 L71.4 56.8 L71 56.7 L70.4 56.6 L69.7 56.5 L69.1 56.4 L68.7 56.3 L68 56.2 L67.3 56.1 L66.7 56 L66.3 56 L65.6 55.9 L64.9 55.9 L64.2 55.8 L63.6 55.8 L62.9 55.8 L62.2 55.8 L61.5 55.8 L60.8 55.8 L60.1 55.9 L59.4 56"/></g><g clip-path="url(#solc)"><path d="M81 284.5 L81 283.4 L80.9 282 L80.8 280.5 L80.6 279 L80.5 277.6 L80.4 276.5 L80.3 275 L80.2 273.5 L80.1 272 L80.1 270.5 L80.1 269 L80.1 267.5 L80.2 266 L80.3 264.5 L80.5 263.1 L80.7 262 L80.9 260.5 L81.1 259.5 L81.4 258 L81.7 257 L82 255.9 L82.4 254.5 L82.8 253.5 L83.2 252.5 L83.7 251.5 L84.2 250.5 L84.8 249.5 L85.4 248.5 L86 247.6 L86.5 246.9 L87.1 246 L87.9 245 L88.5 244.3 L89.2 243.5 L90 242.6 L90.5 242 L91.5 241 L92 240.5 L93 239.5 L93.5 239 L94.5 238 L95 237.5 L96 236.6 L96.6 236 L97.5 235.2 L98.3 234.5 L99 233.8 L99.9 233 L100.5 232.5 L101.5 231.5 L102.1 231 L103 230.2 L103.7 229.5 L104.5 228.8 L105.4 228 L106 227.4 L107 226.5 L107.6 226 L108.5 225.1 L109.2 224.5 L110 223.8 L110.8 223 L111.5 222.4 L112.4 221.5 L113 220.9 L114 220 L114.5 219.5 L115.5 218.5 L116 218 L117 217 L117.5 216.5 L118.4 215.5 L119 214.9 L119.8 214 L120.5 213.2 L121.2 212.5 L122 211.5 L122.5 210.9 L123.2 210 L124 209 L124.5 208.4 L125.2 207.5 L125.9 206.5 L126.5 205.7 L127 205 L127.7 204 L128.4 203 L129 202 L129.5 201.3 L130 200.5 L130.6 199.5 L131.2 198.5 L131.8 197.5 L132.5 196.5 L133 195.6 L133.5 194.7 L134 193.9 L134.5 193 L135.1 192 L135.7 191 L136.2 190 L136.8 189 L137.3 188 L137.9 187 L138.4 186 L139 185 L139.5 184 L140 183 L140.5 182 L141 181 L141.5 180 L142 179 L142.4 178 L142.9 177 L143.3 176 L143.7 175 L144.1 174 L144.5 172.9 L145 171.6 L145.4 170.5 L145.7 169.5 L146 168.4 L146.4 167 L146.7 166 L147 164.7 L147.3 163.5 L147.5 162.4 L147.8 161 L148 159.6 L148.2 158.5 L148.4 157 L148.5 155.9 L148.6 154.5 L148.8 153 L148.9 151.5 L149 150 L149 148.8 L149 147.5 L149 146 L149 144.5 L149 143.5 L148.9 142 L148.8 140.5 L148.7 139 L148.6 137.5 L148.5 136 L148.4 135 L148.3 133.5 L148.1 132 L148 131 L147.8 129.5 L147.5 128 L147.4 127 L147.1 125.5 L147 124.5 L146.7 123 L146.5 121.9 L146.2 120.5 L146 119.3 L145.7 118 L145.5 116.9 L145.2 115.5 L145 114.5 L144.6 113 L144.4 112 L144.1 110.5 L143.8 109.5 L143.5 108.2 L143.2 107 L142.9 106 L142.5 104.5 L142.3 103.5 L142 102.5 L141.5 101 L141.2 100 L140.9 99 L140.5 97.7 L140.1 96.5 L139.7 95.5 L139.4 94.5 L139 93.5 L138.5 92.2 L138 91 L137.6 90 L137.2 89 L136.7 88 L136.3 87 L135.8 86 L135.3 85 L134.8 84 L134.3 83 L133.7 82 L133.2 81 L132.6 80 L132.1 79 L131.5 78 L131 77.3 L130.5 76.4 L129.9 75.5 L129.2 74.5 L128.6 73.5 L128 72.5 L127.5 71.7 L127 70.9 L126.4 70 L125.7 69 L125.1 68 L124.5 67.1 L124 66.4 L123.4 65.5 L122.7 64.5 L122 63.5 L121.5 62.8 L121 62 L120.2 61 L119.6 60 L119 59.2 L118.5 58.5 L117.7 57.5 L117 56.5 L116.5 55.8 L116 55 L115.2 54 L114.5 53 L114 52.4 L113.3 51.5 L112.5 50.5 L112 49.8 L111.3 49 L110.6 48 L110 47.3 L109.4 46.5 L108.6 45.5 L108 44.8 L107.3 44 L106.5 43 L106 42.4 L105.2 41.5 L104.5 40.6 L104 40 L103.1 39 L102.5 38.3 L101.9 37.5 L101 36.5 L100.5 35.9 L99.7 35 L99 34.2 L98.4 33.5 L97.5 32.5 L97 31.9 L96.2 31 L95.5 30.2 L94.9 29.5 L94 28.5 L93.5 28 L92.6 27 L92 26.4 L91.2 25.5 L90.5 24.8 L89.8 24 L89 23.2 L88.3 22.5 L87.5 21.7 L86.7 21 L86 20.3 L85.2 19.5 L84.5 18.9 L83.5 18 L83 17.5 L82 16.8 L81.1 16 L80.5 15.5 L79.5 14.7 L78.6 14 L78 13.5 L77 12.6 L76.4 12 L75.6 11 L75.2 10"/><path d="M87.1 284.5 L87 283 L87 282 L86.8 280.5 L86.7 279 L86.5 277.5 L86.4 276.5 L86.3 275 L86.2 273.5 L86.1 272 L86.1 270.5 L86.1 269 L86.1 267.5 L86.2 266 L86.4 264.5 L86.5 263.5 L86.7 262 L87 260.5 L87.2 259.5 L87.5 258 L87.7 257 L88.1 256 L88.5 254.9 L89 253.8 L89.5 252.8 L90 252 L90.6 251 L91.3 250 L92 249 L92.5 248.3 L93.2 247.5 L94 246.5 L94.5 246 L95.4 245 L96 244.4 L96.8 243.5 L97.5 242.8 L98.3 242 L99 241.3 L99.9 240.5 L100.5 239.9 L101.4 239 L102 238.5 L103 237.5 L103.6 237 L104.5 236.1 L105.1 235.5 L106 234.7 L106.7 234 L107.5 233.3 L108.3 232.5 L109 231.9 L109.9 231 L110.5 230.4 L111.5 229.5 L112 229 L113 228.1 L113.6 227.5 L114.5 226.6 L115.1 226 L116 225.1 L116.6 224.5 L117.5 223.6 L118.1 223 L119 222.1 L119.6 221.5 L120.5 220.5 L121 220 L121.9 219 L122.5 218.4 L123.3 217.5 L124 216.7 L124.6 216 L125.4 215 L126 214.3 L126.6 213.5 L127.4 212.5 L128 211.7 L128.5 211 L129.2 210 L129.9 209 L130.5 208.2 L131 207.4 L131.6 206.5 L132.2 205.5 L132.9 204.5 L133.5 203.5 L134 202.7 L134.5 201.8 L135 201 L135.6 200 L136.1 199 L136.7 198 L137.3 197 L137.8 196 L138.4 195 L138.9 194 L139.4 193 L140 192 L140.5 191 L141 190 L141.5 189.1 L142 188.1 L142.5 187.1 L143 186.1 L143.5 185 L144 184 L144.5 183 L144.9 182 L145.4 181 L145.8 180 L146.2 179 L146.6 178 L147 177 L147.5 175.6 L147.9 174.5 L148.2 173.5 L148.6 172.5 L149 171.1 L149.3 170 L149.6 169 L149.9 167.5 L150.2 166.5 L150.5 165 L150.7 164 L150.9 162.5 L151.1 161.5 L151.3 160 L151.5 158.5 L151.6 157.5 L151.7 156 L151.8 154.5 L151.9 153 L152 151.5 L152 150 L152 148.5 L152 147 L151.9 145.5 L151.8 144 L151.7 142.5 L151.6 141 L151.5 139.5 L151.4 138.5 L151.3 137 L151.2 135.5 L151.1 134 L151 133 L150.8 131.5 L150.7 130 L150.5 128.5 L150.4 127.5 L150.2 126 L150 124.9 L149.8 123.5 L149.5 122 L149.4 121 L149.1 119.5 L148.9 118.5 L148.6 117 L148.4 116 L148.1 114.5 L147.9 113.5 L147.6 112 L147.3 111 L147 109.5 L146.7 108.5 L146.5 107.5 L146.1 106 L145.8 105 L145.5 103.8 L145.1 102.5 L144.8 101.5 L144.5 100.4 L144 99 L143.7 98 L143.4 97 L143 96 L142.5 94.6 L142.1 93.5 L141.7 92.5 L141.3 91.5 L140.9 90.5 L140.5 89.5 L140 88.4 L139.5 87.3 L139 86.2 L138.5 85.1 L138 84.1 L137.5 83.1 L137 82.1 L136.5 81.1 L136 80.1 L135.5 79.2 L135 78.2 L134.5 77.3 L134 76.4 L133.5 75.5 L132.9 74.5 L132.3 73.5 L131.8 72.5 L131.2 71.5 L130.6 70.5 L130 69.5 L129.5 68.6 L129 67.7 L128.5 66.9 L128 66 L127.4 65 L126.8 64 L126.2 63 L125.6 62 L125 61 L124.5 60.2 L124 59.4 L123.5 58.5 L122.8 57.5 L122.2 56.5 L121.6 55.5 L121 54.5 L120.5 53.8 L120 53 L119.4 52 L118.7 51 L118.1 50 L117.5 49.1 L117 48.3 L116.5 47.5 L115.8 46.5 L115.1 45.5 L114.5 44.5 L114 43.8 L113.5 43 L112.8 42 L112.1 41 L111.5 40.2 L111 39.4 L110.3 38.5 L109.6 37.5 L109 36.6 L108.5 35.9 L107.9 35 L107.1 34 L106.5 33.1 L106 32.4 L105.3 31.5 L104.6 30.5 L104 29.7 L103.5 29 L102.8 28 L102.1 27 L101.5 26.2 L101 25.5 L100.3 24.5 L99.5 23.5 L99 22.8 L98.4 22 L97.7 21 L97 20.1 L96.5 19.4 L95.8 18.5 L95 17.5 L94.5 16.9 L93.8 16 L93 15 L92.5 14.4 L91.8 13.5 L91.1 12.5 L90.6 11.5 L90.2 10.5"/><path d="M94.2 284.5 L94.1 283 L94 281.5 L93.9 280.5 L93.8 279 L93.6 277.5 L93.5 276.2 L93.4 275 L93.3 273.5 L93.2 272 L93.2 270.5 L93.2 269 L93.2 267.5 L93.3 266 L93.5 264.5 L93.6 263.5 L93.7 262 L94 260.5 L94.2 259.5 L94.5 258.3 L95 257 L95.5 256 L96 255 L96.5 254.2 L97 253.5 L97.7 252.5 L98.5 251.5 L99 250.8 L99.7 250 L100.5 249.1 L101.1 248.5 L102 247.5 L102.5 247 L103.5 246 L104 245.5 L105 244.5 L105.5 244 L106.5 243 L107 242.5 L108 241.5 L108.6 241 L109.5 240.1 L110.1 239.5 L111 238.6 L111.6 238 L112.5 237.1 L113.1 236.5 L114 235.7 L114.7 235 L115.5 234.2 L116.2 233.5 L117 232.7 L117.7 232 L118.5 231.2 L119.1 230.5 L120 229.6 L120.6 229 L121.5 228.1 L122 227.5 L123 226.5 L123.5 225.9 L124.4 225 L125 224.3 L125.7 223.5 L126.5 222.6 L127 222 L127.9 221 L128.5 220.2 L129.1 219.5 L129.9 218.5 L130.5 217.7 L131 217 L131.8 216 L132.5 215 L133 214.3 L133.6 213.5 L134.2 212.5 L134.9 211.5 L135.5 210.5 L136 209.7 L136.5 208.9 L137.1 208 L137.6 207 L138.2 206 L138.8 205 L139.4 204 L139.9 203 L140.4 202 L141 201 L141.5 200 L142 199 L142.5 198.1 L143 197.1 L143.5 196.1 L144 195.1 L144.5 194.1 L145 193 L145.5 192 L146 191 L146.4 190 L146.9 189 L147.3 188 L147.8 187 L148.2 186 L148.7 185 L149.1 184 L149.5 183 L150 181.7 L150.5 180.5 L150.8 179.5 L151.2 178.5 L151.5 177.5 L152 176.1 L152.3 175 L152.6 174 L153 172.6 L153.3 171.5 L153.5 170.5 L153.9 169 L154.1 168 L154.3 166.5 L154.5 165.5 L154.7 164 L154.9 162.5 L155.1 161.5 L155.2 160 L155.3 158.5 L155.4 157 L155.5 155.6 L155.5 154.5 L155.6 153 L155.6 151.5 L155.5 150 L155.5 148.6 L155.5 147.5 L155.4 146 L155.2 144.5 L155.1 143 L155 141.8 L154.9 140.5 L154.7 139 L154.6 137.5 L154.5 136.3 L154.4 135 L154.3 133.5 L154.1 132 L154 131 L153.8 129.5 L153.6 128 L153.5 127 L153.2 125.5 L153 124 L152.8 123 L152.6 121.5 L152.4 120.5 L152.1 119 L151.9 118 L151.6 116.5 L151.4 115.5 L151 114 L150.8 113 L150.5 111.7 L150.2 110.5 L150 109.5 L149.6 108 L149.3 107 L149 105.8 L148.6 104.5 L148.3 103.5 L148 102.3 L147.6 101 L147.3 100 L147 99 L146.5 97.6 L146.1 96.5 L145.8 95.5 L145.4 94.5 L145 93.4 L144.5 92.1 L144.1 91 L143.7 90 L143.3 89 L142.9 88 L142.4 87 L142 86 L141.5 84.8 L141 83.7 L140.5 82.6 L140 81.6 L139.5 80.5 L139 79.5 L138.5 78.5 L138 77.5 L137.5 76.5 L137 75.5 L136.5 74.5 L136 73.5 L135.5 72.5 L135 71.6 L134.5 70.6 L134 69.6 L133.5 68.7 L133 67.7 L132.5 66.7 L132 65.8 L131.5 64.8 L131 63.9 L130.5 63 L130 62 L129.5 61 L128.9 60 L128.4 59 L127.9 58 L127.4 57 L126.8 56 L126.3 55 L125.8 54 L125.2 53 L124.7 52 L124.1 51 L123.6 50 L123 49 L122.5 48.1 L122 47.2 L121.5 46.3 L121 45.4 L120.5 44.5 L119.9 43.5 L119.4 42.5 L118.8 41.5 L118.3 40.5 L117.7 39.5 L117.1 38.5 L116.5 37.5 L116 36.7 L115.5 35.8 L115 35 L114.4 34 L113.8 33 L113.2 32 L112.6 31 L112 30 L111.5 29.2 L111 28.4 L110.5 27.5 L109.9 26.5 L109.3 25.5 L108.7 24.5 L108 23.5 L107.5 22.6 L107 21.8 L106.5 21 L105.9 20 L105.3 19 L104.7 18 L104.1 17 L103.5 16.1 L103 15.2 L102.5 14.4 L102 13.5 L101.5 12.5 L101 11.2 L100.8 10"/><path d="M101.3 284.5 L101.2 283 L101.1 281.5 L101 280.2 L100.9 279 L100.7 277.5 L100.6 276 L100.5 275 L100.4 273.5 L100.3 272 L100.2 270.5 L100.2 269 L100.3 267.5 L100.3 266 L100.4 264.5 L100.5 263.2 L100.6 262 L101 260.5 L101.3 259.5 L101.8 258.5 L102.3 257.5 L103 256.5 L103.5 255.8 L104.1 255 L104.9 254 L105.5 253.4 L106.3 252.5 L107 251.7 L107.7 251 L108.5 250.1 L109.1 249.5 L110 248.6 L110.5 248 L111.5 247 L112 246.5 L113 245.5 L113.5 245 L114.5 244 L115 243.5 L115.9 242.5 L116.5 241.9 L117.4 241 L118 240.4 L118.9 239.5 L119.5 238.9 L120.3 238 L121 237.3 L121.8 236.5 L122.5 235.7 L123.2 235 L124 234.1 L124.6 233.5 L125.5 232.5 L126 232 L126.9 231 L127.5 230.3 L128.2 229.5 L129 228.6 L129.5 228 L130.4 227 L131 226.3 L131.6 225.5 L132.4 224.5 L133 223.8 L133.6 223 L134.4 222 L135 221.2 L135.5 220.5 L136.2 219.5 L136.9 218.5 L137.5 217.6 L138 216.8 L138.5 216 L139.2 215 L139.8 214 L140.4 213 L141 212 L141.5 211.1 L142 210.2 L142.5 209.3 L143 208.4 L143.5 207.4 L144 206.5 L144.5 205.5 L145 204.5 L145.5 203.5 L146 202.5 L146.5 201.5 L147 200.4 L147.5 199.3 L148 198.3 L148.5 197.2 L149 196.1 L149.5 195 L149.9 194 L150.4 193 L150.8 192 L151.2 191 L151.6 190 L152.1 189 L152.5 187.9 L153 186.6 L153.4 185.5 L153.8 184.5 L154.2 183.5 L154.5 182.5 L155 181.1 L155.4 180 L155.7 179 L156 177.9 L156.4 176.5 L156.7 175.5 L157 174.2 L157.3 173 L157.5 171.9 L157.8 170.5 L158 169.4 L158.2 168 L158.5 166.5 L158.6 165.5 L158.8 164 L158.9 162.5 L159 161.4 L159.1 160 L159.2 158.5 L159.2 157 L159.2 155.5 L159.2 154 L159.2 152.5 L159.1 151 L159.1 149.5 L159 148.5 L158.9 147 L158.7 145.5 L158.6 144 L158.5 143 L158.3 141.5 L158.1 140 L158 139 L157.8 137.5 L157.7 136 L157.6 134.5 L157.5 133.5 L157.3 132 L157.1 130.5 L157 129.3 L156.8 128 L156.6 126.5 L156.4 125.5 L156.2 124 L156 122.8 L155.8 121.5 L155.5 120.1 L155.3 119 L155 117.5 L154.8 116.5 L154.5 115.2 L154.2 114 L154 112.9 L153.7 111.5 L153.4 110.5 L153.1 109 L152.8 108 L152.5 106.7 L152.2 105.5 L151.9 104.5 L151.5 103 L151.2 102 L151 101 L150.5 99.5 L150.2 98.5 L149.9 97.5 L149.5 96.2 L149.1 95 L148.8 94 L148.5 93 L148 91.7 L147.6 90.5 L147.2 89.5 L146.8 88.5 L146.5 87.5 L146 86.3 L145.5 85 L145.1 84 L144.7 83 L144.3 82 L143.9 81 L143.4 80 L143 79 L142.5 77.8 L142 76.7 L141.5 75.6 L141 74.5 L140.6 73.5 L140.1 72.5 L139.6 71.5 L139.2 70.5 L138.7 69.5 L138.3 68.5 L137.8 67.5 L137.3 66.5 L136.9 65.5 L136.4 64.5 L136 63.5 L135.5 62.4 L135 61.3 L134.5 60.2 L134 59.1 L133.5 58 L133.1 57 L132.6 56 L132.1 55 L131.7 54 L131.2 53 L130.8 52 L130.3 51 L129.9 50 L129.5 49 L129 48 L128.5 46.9 L128 45.8 L127.5 44.7 L127 43.6 L126.5 42.5 L126 41.5 L125.6 40.5 L125.1 39.5 L124.6 38.5 L124.1 37.5 L123.7 36.5 L123.2 35.5 L122.7 34.5 L122.3 33.5 L121.8 32.5 L121.3 31.5 L120.8 30.5 L120.3 29.5 L119.8 28.5 L119.3 27.5 L118.8 26.5 L118.3 25.5 L117.8 24.5 L117.3 23.5 L116.8 22.5 L116.3 21.5 L115.8 20.5 L115.3 19.5 L114.8 18.5 L114.3 17.5 L113.8 16.5 L113.4 15.5 L112.9 14.5 L112.4 13.5 L112 12.4 L111.6 11"/><path d="M164.5 151.9 L164 150.8 L163.7 149.5 L163.4 148.5 L163 147 L162.8 146 L162.5 144.6 L162.3 143.5 L162 142.2 L161.8 141 L161.5 139.5 L161.4 138.5 L161.2 137 L161 135.5 L160.9 134.5 L160.8 133 L160.6 131.5 L160.5 130.5 L160.3 129 L160 127.5 L159.9 126.5 L159.6 125 L159.5 124 L159.2 122.5 L159 121.3 L158.7 120 L158.5 118.7 L158.2 117.5 L158 116.3 L157.7 115 L157.5 114 L157.2 112.5 L156.9 111.5 L156.6 110 L156.3 109 L156 107.7 L155.7 106.5 L155.4 105.5 L155 104 L154.7 103 L154.5 102 L154 100.5 L153.8 99.5 L153.5 98.5 L153 97 L152.7 96 L152.4 95 L152 93.8 L151.6 92.5 L151.2 91.5 L150.9 90.5 L150.5 89.4 L150 88 L149.7 87 L149.3 86 L148.9 85 L148.5 83.9 L148 82.6 L147.6 81.5 L147.2 80.5 L146.8 79.5 L146.4 78.5 L146 77.5 L145.5 76.3 L145 75.1 L144.5 74 L144.1 73 L143.7 72 L143.3 71 L142.9 70 L142.5 69 L142 67.9 L141.5 66.7 L141 65.5 L140.6 64.5 L140.2 63.5 L139.8 62.5 L139.4 61.5 L139 60.5 L138.5 59.3 L138 58.1 L137.6 57 L137.2 56 L136.8 55 L136.4 54 L136 53 L135.5 51.7 L135 50.5 L134.7 49.5 L134.3 48.5 L133.9 47.5 L133.5 46.5 L133 45.3 L132.5 44 L132.1 43 L131.7 42 L131.3 41 L130.9 40 L130.5 38.9 L130 37.6 L129.6 36.5 L129.2 35.5 L128.8 34.5 L128.4 33.5 L128 32.5 L127.5 31.4 L127 30.1 L126.5 29 L126.1 28 L125.7 27 L125.3 26 L124.9 25 L124.5 24 L124 22.9 L123.5 21.7 L123 20.5 L122.6 19.5 L122.1 18.5 L121.7 17.5 L121.3 16.5 L120.9 15.5 L120.4 14.5 L120 13.4 L119.6 12 L119.3 11"/><path d="M108.4 284.5 L108.4 283 L108.2 281.5 L108.1 280 L108 279 L107.8 277.5 L107.7 276 L107.5 274.5 L107.5 273.5 L107.4 272 L107.3 270.5 L107.2 269 L107.2 267.5 L107.1 266 L107.1 264.5 L107.3 263 L107.6 262 L108.1 261 L108.6 260 L109.3 259 L110 258.1 L110.5 257.5 L111.4 256.5 L112 255.8 L112.7 255 L113.5 254.2 L114.1 253.5 L115 252.6 L115.5 252 L116.5 251 L117 250.4 L117.9 249.5 L118.5 248.9 L119.3 248 L120 247.3 L120.7 246.5 L121.5 245.7 L122.1 245 L123 244.1 L123.5 243.5 L124.5 242.5 L125 241.9 L125.8 241 L126.5 240.3 L127.2 239.5 L128 238.6 L128.6 238 L129.4 237 L130 236.4 L130.8 235.5 L131.5 234.7 L132.1 234 L132.9 233 L133.5 232.3 L134.2 231.5 L135 230.5 L135.5 229.9 L136.2 229 L137 228 L137.5 227.3 L138.1 226.5 L138.8 225.5 L139.5 224.6 L140 223.9 L140.6 223 L141.3 222 L141.9 221 L142.5 220.1 L143 219.3 L143.5 218.5 L144.1 217.5 L144.6 216.5 L145.2 215.5 L145.8 214.5 L146.3 213.5 L146.8 212.5 L147.3 211.5 L147.9 210.5 L148.3 209.5 L148.8 208.5 L149.3 207.5 L149.8 206.5 L150.2 205.5 L150.7 204.5 L151.1 203.5 L151.6 202.5 L152 201.5 L152.5 200.4 L153 199.2 L153.5 198 L153.9 197 L154.3 196 L154.7 195 L155.1 194 L155.5 193 L156 191.8 L156.5 190.5 L156.9 189.5 L157.2 188.5 L157.6 187.5 L158 186.3 L158.4 185 L158.8 184 L159.1 183 L159.5 181.7 L159.9 180.5 L160.1 179.5 L160.5 178.2 L160.8 177 L161.1 176 L161.5 174.5 L161.7 173.5 L162 172.5 L162.4 171 L162.6 170 L163 168.5 L163.2 167.5 L163.5 166.4 L163.9 165 L164.3 164"/><path d="M164.5 124.1 L164 123.5 L163.4 122.5 L163 121.4 L162.6 120 L162.3 119 L162 118 L161.6 116.5 L161.4 115.5 L161 114.1 L160.7 113 L160.5 112 L160.1 110.5 L159.9 109.5 L159.5 108 L159.3 107 L159 106 L158.6 104.5 L158.4 103.5 L158 102.1 L157.7 101 L157.4 100 L157 98.5 L156.8 97.5 L156.5 96.5 L156 95 L155.7 94 L155.4 93 L155 91.5 L154.7 90.5 L154.4 89.5 L154 88.4 L153.6 87 L153.2 86 L152.9 85 L152.5 83.9 L152 82.5 L151.7 81.5 L151.3 80.5 L151 79.5 L150.5 78.2 L150.1 77 L149.7 76 L149.3 75 L149 74 L148.5 72.8 L148 71.5 L147.7 70.5 L147.3 69.5 L146.9 68.5 L146.5 67.4 L146 66.1 L145.6 65 L145.2 64 L144.9 63 L144.5 62 L144 60.6 L143.6 59.5 L143.3 58.5 L142.9 57.5 L142.5 56.3 L142.1 55 L141.7 54 L141.4 53 L141 51.9 L140.6 50.5 L140.2 49.5 L139.9 48.5 L139.5 47.3 L139.1 46 L138.8 45 L138.4 44 L138 42.7 L137.6 41.5 L137.3 40.5 L137 39.5 L136.5 38.1 L136.2 37 L135.8 36 L135.5 35 L135 33.5 L134.7 32.5 L134.4 31.5 L134 30.4 L133.5 29 L133.2 28 L132.9 27 L132.5 25.9 L132 24.5 L131.7 23.5 L131.4 22.5 L131 21.4 L130.5 20 L130.2 19 L129.8 18 L129.5 17 L129 15.6 L128.6 14.5 L128.3 13.5 L128 12.5 L127.7 11"/><path d="M115.6 284.5 L115.5 283 L115.5 282 L115.3 280.5 L115.2 279 L115 277.6 L114.9 276.5 L114.7 275 L114.6 273.5 L114.5 272.5 L114.3 271 L114 269.5 L113.9 268.5 L113.7 267 L113.8 265.5 L114 264.5 L114.5 263.3 L115 262.5 L115.7 261.5 L116.5 260.6 L117 260 L117.8 259 L118.5 258.3 L119.2 257.5 L120 256.6 L120.5 256 L121.4 255 L122 254.4 L122.8 253.5 L123.5 252.7 L124.2 252 L125 251.1 L125.5 250.5 L126.4 249.5 L127 248.9 L127.8 248 L128.5 247.2 L129.1 246.5 L130 245.5 L130.5 244.9 L131.3 244 L132 243.2 L132.6 242.5 L133.5 241.5 L134 240.9 L134.8 240 L135.5 239.1 L136 238.5 L136.8 237.5 L137.5 236.7 L138.1 236 L138.9 235 L139.5 234.2 L140 233.5 L140.8 232.5 L141.5 231.6 L142 230.9 L142.6 230 L143.3 229 L144 228.1 L144.5 227.3 L145 226.5 L145.7 225.5 L146.3 224.5 L146.9 223.5 L147.5 222.6 L148 221.7 L148.5 220.8 L149 220 L149.5 219 L150.1 218 L150.6 217 L151.1 216 L151.6 215 L152.1 214 L152.5 213 L153 212 L153.5 210.9 L154 209.8 L154.5 208.6 L155 207.5 L155.4 206.5 L155.8 205.5 L156.2 204.5 L156.6 203.5 L157 202.5 L157.5 201.3 L158 200 L158.4 199 L158.8 198 L159.1 197 L159.5 196 L160 194.8 L160.5 193.5 L160.9 192.5 L161.3 191.5 L161.7 190.5 L162.2 189.5 L162.7 188.5 L163.3 187.5 L164 186.7"/><path d="M164.5 106.8 L163.6 106 L163.1 105 L162.7 104 L162.3 103 L161.9 102 L161.5 100.6 L161.2 99.5 L160.9 98.5 L160.5 97.3 L160.1 96 L159.9 95 L159.5 93.7 L159.2 92.5 L158.9 91.5 L158.5 90.2 L158.1 89 L157.8 88 L157.5 86.9 L157.1 85.5 L156.8 84.5 L156.5 83.5 L156 82 L155.7 81 L155.4 80 L155 78.9 L154.5 77.5 L154.2 76.5 L153.9 75.5 L153.5 74.4 L153 73 L152.7 72 L152.4 71 L152 69.9 L151.5 68.5 L151.2 67.5 L150.9 66.5 L150.5 65.5 L150 64 L149.7 63 L149.4 62 L149 60.9 L148.5 59.5 L148.2 58.5 L147.9 57.5 L147.5 56.1 L147.2 55 L146.9 54 L146.5 52.8 L146.1 51.5 L145.9 50.5 L145.5 49.3 L145.2 48 L144.9 47 L144.5 45.6 L144.2 44.5 L143.9 43.5 L143.5 42 L143.3 41 L143 40 L142.6 38.5 L142.3 37.5 L142 36.4 L141.6 35 L141.4 34 L141 32.6 L140.7 31.5 L140.4 30.5 L140 29 L139.8 28 L139.5 27 L139.1 25.5 L138.8 24.5 L138.5 23.4 L138.1 22 L137.9 21 L137.5 19.7 L137.2 18.5 L136.9 17.5 L136.5 16.1 L136.2 15 L135.9 14 L135.6 12.5 L135.4 11.5 L135.3 10"/><path d="M122.8 284.5 L122.8 283 L122.7 281.5 L122.5 280 L122.4 279 L122.2 277.5 L122 276.1 L121.8 275 L121.5 273.8 L121.1 272.5 L120.8 271.5 L120.5 270.5 L120.2 269 L120.3 267.5 L120.6 266.5 L121.1 265.5 L121.8 264.5 L122.5 263.6 L123 263 L123.8 262 L124.5 261.2 L125.1 260.5 L126 259.5 L126.5 258.9 L127.3 258 L128 257.2 L128.6 256.5 L129.5 255.5 L130 254.9 L130.8 254 L131.5 253.2 L132.1 252.5 L132.9 251.5 L133.5 250.8 L134.2 250 L135 249.1 L135.5 248.5 L136.3 247.5 L137 246.7 L137.6 246 L138.4 245 L139 244.3 L139.6 243.5 L140.4 242.5 L141 241.8 L141.6 241 L142.4 240 L143 239.3 L143.6 238.5 L144.3 237.5 L145 236.6 L145.5 235.9 L146.2 235 L146.9 234 L147.5 233.1 L148 232.4 L148.6 231.5 L149.2 230.5 L149.9 229.5 L150.5 228.5 L151 227.7 L151.5 226.8 L152 226 L152.5 225 L153.1 224 L153.6 223 L154.2 222 L154.7 221 L155.2 220 L155.7 219 L156.1 218 L156.6 217 L157 216 L157.5 214.9 L158 213.8 L158.5 212.6 L158.9 211.5 L159.4 210.5 L159.8 209.5 L160.2 208.5 L160.6 207.5 L161 206.5 L161.5 205.4 L162 204.3 L162.5 203.4 L163.1 202.5 L164 201.5"/><path d="M164.5 90.4 L163.6 89.5 L163 88.5 L162.5 87.5 L162.1 86.5 L161.8 85.5 L161.4 84.5 L161 83.2 L160.6 82 L160.3 81 L160 79.9 L159.6 78.5 L159.3 77.5 L159 76.5 L158.5 75 L158.2 74 L157.9 73 L157.5 71.5 L157.2 70.5 L156.9 69.5 L156.5 68.1 L156.2 67 L155.9 66 L155.5 64.8 L155.1 63.5 L154.8 62.5 L154.5 61.4 L154.1 60 L153.8 59 L153.5 57.9 L153.1 56.5 L152.8 55.5 L152.5 54.2 L152.2 53 L151.9 52 L151.5 50.5 L151.3 49.5 L151 48.3 L150.7 47 L150.5 46 L150.1 44.5 L149.9 43.5 L149.6 42 L149.4 41 L149.1 39.5 L148.9 38.5 L148.5 37 L148.3 36 L148 34.7 L147.7 33.5 L147.5 32.5 L147.2 31 L147 30 L146.7 28.5 L146.4 27.5 L146.1 26 L145.9 25 L145.6 23.5 L145.4 22.5 L145 21 L144.8 20 L144.5 18.5 L144.3 17.5 L144 16.2 L143.7 15 L143.5 13.8 L143.3 12.5 L143.1 11"/><path d="M130.3 284.5 L130.2 283 L130.1 281.5 L130 280.5 L129.7 279 L129.5 278 L129 276.5 L128.6 275.5 L128.1 274.5 L127.7 273.5 L127.3 272.5 L127 271.3 L126.9 270 L127.2 269 L127.7 268 L128.3 267 L129 266.1 L129.5 265.5 L130.3 264.5 L131 263.7 L131.6 263 L132.4 262 L133 261.3 L133.7 260.5 L134.5 259.5 L135 258.9 L135.8 258 L136.5 257.1 L137 256.5 L137.8 255.5 L138.5 254.7 L139.1 254 L139.9 253 L140.5 252.2 L141.1 251.5 L141.9 250.5 L142.5 249.7 L143.1 249 L143.9 248 L144.5 247.2 L145 246.5 L145.8 245.5 L146.5 244.6 L147 244 L147.7 243 L148.5 242 L149 241.3 L149.6 240.5 L150.3 239.5 L151 238.5 L151.5 237.7 L152 237 L152.7 236 L153.3 235 L153.9 234 L154.5 233.1 L155 232.3 L155.5 231.4 L156 230.5 L156.6 229.5 L157.1 228.5 L157.7 227.5 L158.2 226.5 L158.7 225.5 L159.2 224.5 L159.7 223.5 L160.2 222.5 L160.7 221.5 L161.2 220.5 L161.8 219.5 L162.4 218.5 L163 217.6 L163.5 217 L164.5 216.4"/><path d="M164.5 73.2 L163.6 72.5 L163 71.5 L162.5 70.5 L162.1 69.5 L161.8 68.5 L161.4 67.5 L161 66.1 L160.7 65 L160.4 64 L160 62.6 L159.7 61.5 L159.4 60.5 L159 59 L158.7 58 L158.5 57 L158.1 55.5 L157.8 54.5 L157.5 53 L157.2 52 L157 50.9 L156.7 49.5 L156.5 48.5 L156.1 47 L156 46 L155.6 44.5 L155.5 43.5 L155.2 42 L155 40.8 L154.7 39.5 L154.5 38 L154.3 37 L154.1 35.5 L153.9 34.5 L153.6 33 L153.4 32 L153.1 30.5 L153 29.5 L152.7 28 L152.5 26.5 L152.3 25.5 L152.1 24 L151.9 23 L151.6 21.5 L151.5 20.5 L151.2 19 L151 17.6 L150.8 16.5 L150.5 15 L150.4 14 L150.1 12.5 L150 11 L150 10"/><path d="M137.6 284.5 L137.5 283 L137.4 282 L137 280.6 L136.5 279.5 L136.1 278.5 L135.5 277.5 L135 276.6 L134.5 275.7 L134 274.7 L133.6 273.5 L133.6 272 L134 270.7 L134.5 269.8 L135.1 269 L135.8 268 L136.5 267.2 L137 266.5 L137.8 265.5 L138.5 264.7 L139 264 L139.8 263 L140.5 262.2 L141 261.5 L141.8 260.5 L142.5 259.6 L143 259 L143.8 258 L144.5 257.1 L145 256.4 L145.7 255.5 L146.5 254.5 L147 253.9 L147.7 253 L148.4 252 L149 251.3 L149.6 250.5 L150.3 249.5 L151 248.6 L151.5 247.9 L152.2 247 L152.9 246 L153.5 245.2 L154 244.5 L154.7 243.5 L155.4 242.5 L156 241.5 L156.5 240.8 L157 240 L157.6 239 L158.3 238 L158.9 237 L159.5 236 L160 235.2 L160.5 234.4 L161 233.5 L161.7 232.5 L162.4 231.5 L163 230.9 L164 230.1"/><path d="M164.5 54.2 L163.7 53.5 L163.2 52.5 L162.7 51.5 L162.4 50.5 L162 49.2 L161.7 48 L161.4 47 L161.1 45.5 L160.9 44.5 L160.6 43 L160.4 42 L160.2 40.5 L160 39.5 L159.8 38 L159.5 36.5 L159.4 35.5 L159.2 34 L159 32.8 L158.8 31.5 L158.6 30 L158.5 29 L158.3 27.5 L158.1 26 L157.9 25 L157.7 23.5 L157.5 22 L157.4 21 L157.2 19.5 L157 18 L156.9 17 L156.7 15.5 L156.5 14.1 L156.4 13 L156.2 11.5 L156.2 10"/><path d="M146.2 284.5 L146 283.5 L145.5 282.4 L144.9 281.5 L144.2 280.5 L143.5 279.5 L143 278.7 L142.5 277.9 L142 276.9 L141.7 275.5 L141.8 274 L142.3 273 L143 272 L143.5 271.2 L144.1 270.5 L144.8 269.5 L145.5 268.6 L146 267.9 L146.7 267 L147.5 266 L148 265.3 L148.6 264.5 L149.3 263.5 L150 262.6 L150.5 261.9 L151.2 261 L152 260 L152.5 259.3 L153.1 258.5 L153.8 257.5 L154.5 256.6 L155 255.9 L155.7 255 L156.4 254 L157 253.2 L157.5 252.5 L158.2 251.5 L158.9 250.5 L159.5 249.6 L160 248.9 L160.7 248 L161.5 247 L162 246.4 L162.9 245.5 L163.6 245"/><path d="M164.5 28.5 L164 27.8 L163.5 26.5 L163.3 25.5 L163 24.3 L162.8 23 L162.5 21.5 L162.3 20.5 L162.1 19 L162 18 L161.8 16.5 L161.6 15 L161.4 14 L161.3 12.5 L161.2 11"/><path d="M151.4 284.5 L151 283.1 L150.5 282.3 L150 281.5 L149.3 280.5 L148.7 279.5 L148.3 278.5 L148.2 277 L148.5 275.8 L149 274.9 L149.6 274 L150.3 273 L151 272 L151.5 271.3 L152.1 270.5 L152.8 269.5 L153.5 268.5 L154 267.9 L154.6 267 L155.3 266 L156 265.1 L156.5 264.4 L157.2 263.5 L157.9 262.5 L158.5 261.7 L159 261 L159.7 260 L160.5 259 L161 258.4 L161.8 257.5 L162.5 256.8 L163.5 256 L164.5 255.7"/><path d="M154.6 284.5 L154.4 283.5 L154 282.2 L153.5 281 L153.2 280 L153.2 278.5 L153.5 277.5 L154 276.5 L154.7 275.5 L155.4 274.5 L156 273.6 L156.5 272.9 L157.1 272 L157.8 271 L158.5 270.1 L159 269.4 L159.6 268.5 L160.4 267.5 L161 266.7 L161.6 266 L162.5 265.1 L163.4 264.5 L164.5 264.1"/><path d="M158.1 284.5 L158.1 283 L158.2 281.5 L158.5 280.4 L159 279.3 L159.5 278.5 L160.2 277.5 L160.9 276.5 L161.5 275.8 L162.3 275 L163 274.3 L164 273.8"/></g><path d="M28.5 281 L29.7 280 L30.9 279.1 L32.2 278.1 L33.4 277.1 L34.7 276.2 L36 275.5 L37.4 274.9 L38.9 274.3 L40.4 273.8 L41.9 273.4 L43.5 273.2 L45 273 L46.5 273 L48.1 273 L49.6 273.2 L51.1 273.5 L52.6 273.9 L54 274.5 L55.3 275.3 L56.5 276.3 L57.6 277.4 L58.7 278.6 L59.9 279.9 L61 281"/><path d="M44.2 206 L44.4 208 L44.7 210 L44.9 212 L45.1 214.1 L45.3 216 L45.6 218 L45.9 219.9 L46.1 221.8 L46.4 223.7 L46.7 225.6 L47.1 227.5 L47.4 229.3 L47.8 231.2 L48.2 233.1 L48.7 235 L49.1 236.8 L49.5 238.5 L49.8 240 L50 241.3 L50.2 242.5 L50.4 243.5 L50.5 244.5 L50.5 245.4 L50.4 246.3 L50.2 247.2 L50 248 L49.7 248.8 L49.3 249.6 L48.8 250.4 L48 251.2 L47 252 L45.8 252.9 L44.5 253.7 L43 254.5 L41.5 255.4 L40 256.3 L38.4 257.3 L36.8 258.2 L35.1 259.3 L33.4 260.3 L31.7 261.3 L30 262.3 L28.3 263.3 L26.7 264.2 L25 265.2 L23.3 266.1 L21.7 267.1 L20 268"/><path d="M67.5 283 L67.2 280.8 L66.9 278.6 L66.6 276.3 L66.3 274.1 L66 272 L65.8 270 L65.6 268.1 L65.5 266.4 L65.3 264.7 L65.2 263.1 L65.2 261.5 L65.2 260 L65.3 258.5 L65.4 256.9 L65.5 255.4 L65.7 254 L66 252.7 L66.4 251.5 L66.9 250.5 L67.4 249.6 L67.9 248.9 L68.6 248.2 L69.5 247.5 L70.5 246.8 L71.7 246.1 L73.2 245.4 L74.8 244.8 L76.4 244.1 L78.2 243.4 L80 242.6 L81.9 241.7 L83.8 240.7 L85.8 239.7 L87.9 238.7 L90 237.6 L92 236.5 L94 235.4 L96 234.2 L98 233.1 L100 231.9 L102 230.7 L104 229.5"/></g><path d="M73.5 283 L73.2 282.4 L72.9 281.9 L72.7 281.4 L72.3 280.8 L71.9 279.9 L71.3 278.6 L70.5 276.7 L69.5 274.5 L68.4 271.9 L67.3 269.2 L66.1 266.5 L65 264 L64 261.8 L63.2 259.9 L62.3 258.1 L61.3 256 L60.1 253.4 L58.7 250.2 L56.8 245.9 L54.5 240.8 L52 235.2 L49.6 229.5 L47.3 224.3 L45.5 220 L44.2 216.7 L43.2 214.2 L42.5 212.2 L41.9 210.2 L41.2 207.9 L40.4 205 L39.4 201.4 L38.3 197.2 L37.1 192.8 L36 188.3 L34.9 184 L34 180 L33.2 176.4 L32.5 173 L31.9 169.7 L31.4 166.5 L31 163.3 L30.6 160 L30.3 156.7 L30.1 153.3 L30 150 L29.9 146.7 L29.8 143.3 L29.8 140 L29.8 136.7 L29.8 133.3 L29.9 130 L30 126.7 L30.1 123.3 L30.2 120 L30.3 116.7 L30.3 113.4 L30.3 110.1 L30.4 106.8 L30.5 103.5 L30.7 100 L31 96.4 L31.4 92.6 L31.9 88.7 L32.4 84.9 L32.9 81.2 L33.5 77.6 L34.1 74.2 L34.7 70.8 L35.3 67.5 L36 64.3 L36.7 61.4 L37.5 58.6 L38.4 56 L39.4 53.6 L40.4 51.3 L41.5 49.3 L42.6 47.5 L43.8 45.9 L45 44.6 L46.3 43.6 L47.5 42.9 L48.9 42.3 L50.3 41.8 L51.7 41.4 L53.2 41.1 L54.7 40.9 L56.3 40.9 L57.9 41 L59.6 41.1 L61.3 41.4 L63 41.7 L64.8 42.2 L66.6 42.7 L68.4 43.3 L70.3 44.1 L72.4 44.9 L74.6 45.9 L77 47 L79.5 48.2 L81.9 49.5 L84.4 50.7 L86.7 52 L88.9 53.2 L91 54.4 L93.1 55.5 L95.1 56.8 L97.2 58.1 L99.4 59.6 L101.7 61.2 L104 63 L106.4 64.8 L108.8 66.8 L111.2 68.8 L113.5 71 L115.8 73.3 L118.2 75.7 L120.5 78.3 L122.8 80.9 L125 83.5 L126.9 86 L128.6 88.5 L130.2 90.9 L131.7 93.2 L133 95.7 L134.3 98.3 L135.5 101 L136.7 104 L137.9 107.2 L138.9 110.5 L140 113.8 L140.9 117 L141.7 120 L142.4 122.8 L143.1 125.5 L143.6 128.1 L144.1 130.5 L144.5 132.8 L144.8 135 L145 136.9 L145.2 138.6 L145.3 140.1 L145.3 141.6 L145.3 143.2 L145.2 145 L145.1 147 L144.9 149.1 L144.7 151.4 L144.5 153.6 L144.2 155.9 L143.8 158 L143.4 160.1 L142.9 162.1 L142.4 164 L141.8 166 L141.2 168 L140.4 170 L139.6 171.9 L138.8 173.7 L137.8 175.5 L136.8 177.4 L135.5 179.6 L133.9 182.2 L131.9 185.4 L129.6 189.2 L127 193.3 L124.4 197.4 L121.8 201.2 L119.4 204.4 L117.2 207 L115.1 209.3 L113 211.2 L111 213 L109 214.7 L107 216.5 L105 218.3 L102.9 220.1 L100.8 221.9 L98.8 223.6 L96.9 225.2 L95 226.7 L93.3 228.1 L91.6 229.3 L90.1 230.5 L88.5 231.6 L86.8 232.8 L85 234 L83 235.3 L80.9 236.6 L78.7 237.9 L76.5 239.3 L74.2 240.6 L72 242 L69.9 243.3 L68 244.6 L66 245.9 L63.9 247.2 L61.5 248.6 L58.7 250.2 L55.2 252 L51 254 L46.6 256.1 L42.2 258.3 L38.2 260.2 L35 262 L32.6 263.5 L30.8 265 L29.3 266.3 L28.1 267.5 L27.1 268.6 L26 269.5 L25 270.3 L24.1 270.9 L23.4 271.4 L22.7 271.8 L22 272.2 L21.3 272.6 L20.6 273 L19.8 273.3 L19.1 273.6 L18.4 273.9 L17.7 274.2 L17 274.5" fill="none" stroke="#ff3131" stroke-width="1.3"/><path d="M26.7 12 L26.8 20.2 L27 28.4 L26.7 34.6 L25.4 37.5 L23.7 38.3 L22.8 38.6 L23.5 38.5 L25 37.9 L26.5 37.3 L27.9 36.8 L29.2 36.3 L30.4 36.7 L31.3 38.4 L32 41 L32.3 43.5 L32.2 45.4 L31.8 47.3 L31.3 49.5 L30.7 52.3 L30.1 55.4 L29.4 58.6 L28.6 61.7 L27.9 64.9 L27.1 68.1 L26.4 71.3 L25.8 74.4 L25.2 77.6 L24.5 80.8 L23.9 83.9 L23.3 87.1 L22.8 90.3 L22.3 93.5 L21.9 97 L21.7 100.3 L21.6 103.9 L21.6 110 L21.6 120 L21.6 132.5 L21.6 145 L21.6 157.5 L21.6 170 L21.7 180 L21.8 185.1 L21.9 187.7 L22.3 192 L23 200.3 L23.9 210.4 L25 219.7 L26.4 227.7 L27.9 234.9 L29.1 240.6 L29.9 244.1 L30.4 246 L30.7 247.5 L30.8 249 L30.7 250.1 L30.4 251.2 L30 252.5 L29.4 253.7 L28.4 254.4 L26.7 254.1 L24.6 253.3 L22.5 252.4" fill="none" stroke="#000" stroke-width="1.5" stroke-linejoin="round"/><path d="M26.1 254.3 L26.1 283" fill="none" stroke="#000" stroke-width="1.5"/><path d="M72.2 12 L72.2 32.1 L74.5 34.6 L106.9 58.8 L138.3 78.5 L142 86 L146.5 100 L150.5 112 L152.8 120 L153.9 145 L153 170 L150.6 182 L140.6 207.8 L110.6 228.9 L85 246.8 L74 255.5 L72.1 258 L72.1 283" fill="none" stroke="#000" stroke-width="1.5" stroke-linejoin="round"/><rect x="90.9" y="139.4" width="1.2" height="1.2" fill="#d62050"/><path d="M24.4 15V279.6M67.5 15V279.6M110.6 15V279.6M153.7 15V279.6M20 274.8H159.5M20 231.7H159.5M20 188.6H159.5M20 145.5H159.5M20 102.4H159.5M20 59.3H159.5M20 16.2H159.5" fill="none" stroke="#262626" stroke-opacity="0.55" stroke-width="0.7"/></g><path d="M24.4 279.6v-2.2M24.4 15v2.2M67.5 279.6v-2.2M67.5 15v2.2M110.6 279.6v-2.2M110.6 15v2.2M153.7 279.6v-2.2M153.7 15v2.2M20 274.8h2.2M159.5 274.8h-2.2M20 231.7h2.2M159.5 231.7h-2.2M20 188.6h2.2M159.5 188.6h-2.2M20 145.5h2.2M159.5 145.5h-2.2M20 102.4h2.2M159.5 102.4h-2.2M20 59.3h2.2M159.5 59.3h-2.2M20 16.2h2.2M159.5 16.2h-2.2" fill="none" stroke="#262626" stroke-width="0.7"/><rect x="20.0" y="15.0" width="139.5" height="264.6" fill="none" stroke="#1a1a1a" stroke-width="1.5"/><g style="font-family:'Liberation Sans',Arial,Helvetica,sans-serif;font-size:10.3px" fill="#262626"><text x="24.4" y="292.8" text-anchor="middle">0.6</text><text x="67.5" y="292.8" text-anchor="middle">0.8</text><text x="110.6" y="292.8" text-anchor="middle">1</text><text x="153.7" y="292.8" text-anchor="middle">1.2</text><text x="17.3" y="20.3" text-anchor="end">0.6</text><text x="17.3" y="63.4" text-anchor="end">0.4</text><text x="17.3" y="106.5" text-anchor="end">0.2</text><text x="17.3" y="149.6" text-anchor="end">0</text><text x="17.3" y="192.7" text-anchor="end">-0.2</text><text x="17.3" y="235.8" text-anchor="end">-0.4</text><text x="17.3" y="278.9" text-anchor="end">-0.6</text></g><text x="38.3" y="12" style="font-family:'Liberation Sans',Arial,Helvetica,sans-serif;font-size:8.8px;font-weight:bold" fill="#000" textLength="102.5" lengthAdjust="spacingAndGlyphs">neutralized to CX [W/m<tspan dy="-3.6" font-size="6.5px">3</tspan><tspan dy="3.6">]</tspan></text><g transform="translate(218.7 0)"><rect x="20.0" y="15.0" width="139.5" height="264.6" fill="#352a87"/><g clip-path="url(#ax)"><rect x="23.3" y="78.1" width="2.2" height="8.7" fill="#0268e1"/><rect x="23.3" y="104" width="2.2" height="8.7" fill="#0363e1"/><rect x="23.3" y="129.9" width="2.2" height="8.7" fill="#1079da"/><rect x="23.3" y="173" width="2.2" height="8.7" fill="#0d75dc"/><rect x="23.3" y="259.2" width="2.2" height="8.7" fill="#0363e1"/><rect x="25.5" y="104" width="2.2" height="8.7" fill="#0d75dc"/><rect x="25.5" y="129.9" width="2.2" height="8.7" fill="#0268e1"/><rect x="25.5" y="147.1" width="2.2" height="8.7" fill="#3243ba"/><rect x="25.5" y="155.7" width="2.2" height="8.7" fill="#0c93d2"/><rect x="25.5" y="216.1" width="2.2" height="8.7" fill="#0d75dc"/><rect x="25.5" y="250.5" width="2.2" height="8.7" fill="#1481d6"/><rect x="25.5" y="259.2" width="2.2" height="8.7" fill="#2053d4"/><rect x="27.6" y="104" width="2.2" height="8.7" fill="#2053d4"/><rect x="27.6" y="129.9" width="2.2" height="8.7" fill="#1481d6"/><rect x="27.6" y="138.5" width="2.2" height="8.7" fill="#0f5cdd"/><rect x="27.6" y="155.7" width="2.2" height="8.7" fill="#2053d4"/><rect x="27.6" y="190.2" width="2.2" height="8.7" fill="#0d75dc"/><rect x="27.6" y="250.5" width="2.2" height="8.7" fill="#1079da"/><rect x="27.6" y="259.2" width="2.2" height="8.7" fill="#2c4ac7"/><rect x="29.8" y="121.2" width="2.2" height="8.7" fill="#0268e1"/><rect x="29.8" y="155.7" width="2.2" height="8.7" fill="#046de0"/><rect x="29.8" y="259.2" width="2.2" height="8.7" fill="#3243ba"/><rect x="31.9" y="104" width="2.2" height="8.7" fill="#0268e1"/><rect x="31.9" y="112.6" width="2.2" height="8.7" fill="#046de0"/><rect x="31.9" y="129.9" width="2.2" height="8.7" fill="#0f5cdd"/><rect x="31.9" y="164.3" width="2.2" height="8.7" fill="#2053d4"/><rect x="31.9" y="216.1" width="2.2" height="8.7" fill="#1079da"/><rect x="31.9" y="233.3" width="2.2" height="8.7" fill="#0268e1"/><rect x="31.9" y="241.9" width="2.2" height="8.7" fill="#3243ba"/><rect x="31.9" y="259.2" width="2.2" height="8.7" fill="#046de0"/><rect x="31.9" y="267.8" width="2.2" height="8.7" fill="#3243ba"/><rect x="34.1" y="104" width="2.2" height="8.7" fill="#0f5cdd"/><rect x="34.1" y="112.6" width="2.2" height="8.7" fill="#2053d4"/><rect x="34.1" y="121.2" width="2.2" height="8.7" fill="#0268e1"/><rect x="34.1" y="129.9" width="2.2" height="8.7" fill="#0f5cdd"/><rect x="34.1" y="155.7" width="2.2" height="8.7" fill="#0268e1"/><rect x="34.1" y="164.3" width="2.2" height="8.7" fill="#2c4ac7"/><rect x="34.1" y="216.1" width="2.2" height="8.7" fill="#1079da"/><rect x="34.1" y="250.5" width="2.2" height="8.7" fill="#353dad"/><rect x="34.1" y="259.2" width="2.2" height="8.7" fill="#2c4ac7"/><rect x="34.1" y="267.8" width="2.2" height="8.7" fill="#1079da"/><rect x="36.3" y="43.7" width="2.2" height="8.7" fill="#2053d4"/><rect x="36.3" y="78.1" width="2.2" height="8.7" fill="#108ed2"/><rect x="36.3" y="95.4" width="2.2" height="8.7" fill="#127dd8"/><rect x="36.3" y="112.6" width="2.2" height="8.7" fill="#108ed2"/><rect x="36.3" y="121.2" width="2.2" height="8.7" fill="#127dd8"/><rect x="36.3" y="129.9" width="2.2" height="8.7" fill="#0f5cdd"/><rect x="36.3" y="155.7" width="2.2" height="8.7" fill="#1079da"/><rect x="36.3" y="181.6" width="2.2" height="8.7" fill="#0363e1"/><rect x="36.3" y="233.3" width="2.2" height="8.7" fill="#3243ba"/><rect x="38.4" y="43.7" width="2.2" height="8.7" fill="#3243ba"/><rect x="38.4" y="52.3" width="2.2" height="8.7" fill="#108ed2"/><rect x="38.4" y="104" width="2.2" height="8.7" fill="#3243ba"/><rect x="38.4" y="112.6" width="2.2" height="8.7" fill="#3243ba"/><rect x="38.4" y="138.5" width="2.2" height="8.7" fill="#2c4ac7"/><rect x="38.4" y="147.1" width="2.2" height="8.7" fill="#046de0"/><rect x="38.4" y="155.7" width="2.2" height="8.7" fill="#2c4ac7"/><rect x="38.4" y="164.3" width="2.2" height="8.7" fill="#2053d4"/><rect x="38.4" y="233.3" width="2.2" height="8.7" fill="#0268e1"/><rect x="38.4" y="241.9" width="2.2" height="8.7" fill="#353dad"/><rect x="38.4" y="267.8" width="2.2" height="8.7" fill="#2053d4"/><rect x="40.6" y="35" width="2.2" height="8.7" fill="#0268e1"/><rect x="40.6" y="86.8" width="2.2" height="8.7" fill="#0f5cdd"/><rect x="40.6" y="95.4" width="2.2" height="8.7" fill="#0f5cdd"/><rect x="40.6" y="104" width="2.2" height="8.7" fill="#2c4ac7"/><rect x="40.6" y="121.2" width="2.2" height="8.7" fill="#046de0"/><rect x="40.6" y="129.9" width="2.2" height="8.7" fill="#2053d4"/><rect x="40.6" y="138.5" width="2.2" height="8.7" fill="#0871de"/><rect x="40.6" y="155.7" width="2.2" height="8.7" fill="#0268e1"/><rect x="40.6" y="181.6" width="2.2" height="8.7" fill="#0998d1"/><rect x="40.6" y="259.2" width="2.2" height="8.7" fill="#1079da"/><rect x="40.6" y="267.8" width="2.2" height="8.7" fill="#2053d4"/><rect x="42.7" y="95.4" width="2.2" height="8.7" fill="#2053d4"/><rect x="42.7" y="104" width="2.2" height="8.7" fill="#127dd8"/><rect x="42.7" y="121.2" width="2.2" height="8.7" fill="#046de0"/><rect x="42.7" y="155.7" width="2.2" height="8.7" fill="#0871de"/><rect x="42.7" y="181.6" width="2.2" height="8.7" fill="#0363e1"/><rect x="42.7" y="207.4" width="2.2" height="8.7" fill="#0363e1"/><rect x="42.7" y="241.9" width="2.2" height="8.7" fill="#046de0"/><rect x="42.7" y="259.2" width="2.2" height="8.7" fill="#2053d4"/><rect x="44.9" y="52.3" width="2.2" height="8.7" fill="#0998d1"/><rect x="44.9" y="69.5" width="2.2" height="8.7" fill="#046de0"/><rect x="44.9" y="86.8" width="2.2" height="8.7" fill="#0363e1"/><rect x="44.9" y="95.4" width="2.2" height="8.7" fill="#3243ba"/><rect x="44.9" y="104" width="2.2" height="8.7" fill="#2053d4"/><rect x="44.9" y="121.2" width="2.2" height="8.7" fill="#046de0"/><rect x="44.9" y="138.5" width="2.2" height="8.7" fill="#1079da"/><rect x="44.9" y="155.7" width="2.2" height="8.7" fill="#0f5cdd"/><rect x="44.9" y="173" width="2.2" height="8.7" fill="#1079da"/><rect x="44.9" y="181.6" width="2.2" height="8.7" fill="#06a4ca"/><rect x="44.9" y="233.3" width="2.2" height="8.7" fill="#0363e1"/><rect x="44.9" y="241.9" width="2.2" height="8.7" fill="#0d75dc"/><rect x="44.9" y="259.2" width="2.2" height="8.7" fill="#0363e1"/><rect x="44.9" y="267.8" width="2.2" height="8.7" fill="#0871de"/><rect x="47" y="60.9" width="2.2" height="8.7" fill="#046de0"/><rect x="47" y="104" width="2.2" height="8.7" fill="#127dd8"/><rect x="47" y="112.6" width="2.2" height="8.7" fill="#0871de"/><rect x="47" y="129.9" width="2.2" height="8.7" fill="#0d75dc"/><rect x="47" y="155.7" width="2.2" height="8.7" fill="#2053d4"/><rect x="47" y="173" width="2.2" height="8.7" fill="#0871de"/><rect x="47" y="190.2" width="2.2" height="8.7" fill="#2c4ac7"/><rect x="47" y="207.4" width="2.2" height="8.7" fill="#1079da"/><rect x="47" y="216.1" width="2.2" height="8.7" fill="#0f5cdd"/><rect x="47" y="233.3" width="2.2" height="8.7" fill="#0363e1"/><rect x="47" y="267.8" width="2.2" height="8.7" fill="#0363e1"/><rect x="49.2" y="35" width="2.2" height="8.7" fill="#0363e1"/><rect x="49.2" y="60.9" width="2.2" height="8.7" fill="#1079da"/><rect x="49.2" y="95.4" width="2.2" height="8.7" fill="#046de0"/><rect x="49.2" y="112.6" width="2.2" height="8.7" fill="#0268e1"/><rect x="49.2" y="121.2" width="2.2" height="8.7" fill="#3243ba"/><rect x="49.2" y="181.6" width="2.2" height="8.7" fill="#046de0"/><rect x="49.2" y="190.2" width="2.2" height="8.7" fill="#127dd8"/><rect x="49.2" y="216.1" width="2.2" height="8.7" fill="#0f5cdd"/><rect x="49.2" y="241.9" width="2.2" height="8.7" fill="#2053d4"/><rect x="49.2" y="250.5" width="2.2" height="8.7" fill="#0871de"/><rect x="51.3" y="78.1" width="2.2" height="8.7" fill="#353dad"/><rect x="51.3" y="86.8" width="2.2" height="8.7" fill="#0871de"/><rect x="51.3" y="104" width="2.2" height="8.7" fill="#0d75dc"/><rect x="51.3" y="112.6" width="2.2" height="8.7" fill="#108ed2"/><rect x="51.3" y="121.2" width="2.2" height="8.7" fill="#2053d4"/><rect x="51.3" y="138.5" width="2.2" height="8.7" fill="#1079da"/><rect x="51.3" y="147.1" width="2.2" height="8.7" fill="#3243ba"/><rect x="51.3" y="155.7" width="2.2" height="8.7" fill="#108ed2"/><rect x="51.3" y="164.3" width="2.2" height="8.7" fill="#2c4ac7"/><rect x="51.3" y="173" width="2.2" height="8.7" fill="#046de0"/><rect x="51.3" y="181.6" width="2.2" height="8.7" fill="#0c93d2"/><rect x="51.3" y="190.2" width="2.2" height="8.7" fill="#0d75dc"/><rect x="51.3" y="233.3" width="2.2" height="8.7" fill="#046de0"/><rect x="51.3" y="250.5" width="2.2" height="8.7" fill="#2c4ac7"/><rect x="51.3" y="267.8" width="2.2" height="8.7" fill="#046de0"/><rect x="53.5" y="52.3" width="2.2" height="8.7" fill="#353dad"/><rect x="53.5" y="104" width="2.2" height="8.7" fill="#0d75dc"/><rect x="53.5" y="129.9" width="2.2" height="8.7" fill="#2c4ac7"/><rect x="53.5" y="138.5" width="2.2" height="8.7" fill="#2c4ac7"/><rect x="53.5" y="155.7" width="2.2" height="8.7" fill="#0f5cdd"/><rect x="53.5" y="164.3" width="2.2" height="8.7" fill="#0d75dc"/><rect x="53.5" y="181.6" width="2.2" height="8.7" fill="#2053d4"/><rect x="53.5" y="190.2" width="2.2" height="8.7" fill="#2c4ac7"/><rect x="53.5" y="198.8" width="2.2" height="8.7" fill="#0f5cdd"/><rect x="53.5" y="224.7" width="2.2" height="8.7" fill="#1079da"/><rect x="55.6" y="86.8" width="2.2" height="8.7" fill="#0d75dc"/><rect x="55.6" y="104" width="2.2" height="8.7" fill="#0f5cdd"/><rect x="55.6" y="112.6" width="2.2" height="8.7" fill="#2053d4"/><rect x="55.6" y="121.2" width="2.2" height="8.7" fill="#3243ba"/><rect x="55.6" y="138.5" width="2.2" height="8.7" fill="#1079da"/><rect x="55.6" y="155.7" width="2.2" height="8.7" fill="#1079da"/><rect x="55.6" y="173" width="2.2" height="8.7" fill="#0f5cdd"/><rect x="55.6" y="181.6" width="2.2" height="8.7" fill="#2053d4"/><rect x="55.6" y="216.1" width="2.2" height="8.7" fill="#1389d3"/><rect x="55.6" y="224.7" width="2.2" height="8.7" fill="#0871de"/><rect x="55.6" y="233.3" width="2.2" height="8.7" fill="#108ed2"/><rect x="55.6" y="241.9" width="2.2" height="8.7" fill="#046de0"/><rect x="55.6" y="250.5" width="2.2" height="8.7" fill="#2053d4"/><rect x="55.6" y="259.2" width="2.2" height="8.7" fill="#046de0"/><rect x="57.8" y="69.5" width="2.2" height="8.7" fill="#0268e1"/><rect x="57.8" y="78.1" width="2.2" height="8.7" fill="#0871de"/><rect x="57.8" y="104" width="2.2" height="8.7" fill="#0d75dc"/><rect x="57.8" y="112.6" width="2.2" height="8.7" fill="#2053d4"/><rect x="57.8" y="129.9" width="2.2" height="8.7" fill="#3243ba"/><rect x="57.8" y="138.5" width="2.2" height="8.7" fill="#0f5cdd"/><rect x="57.8" y="147.1" width="2.2" height="8.7" fill="#0f5cdd"/><rect x="57.8" y="164.3" width="2.2" height="8.7" fill="#0c93d2"/><rect x="57.8" y="173" width="2.2" height="8.7" fill="#3243ba"/><rect x="57.8" y="190.2" width="2.2" height="8.7" fill="#0363e1"/><rect x="57.8" y="216.1" width="2.2" height="8.7" fill="#2c4ac7"/><rect x="57.8" y="224.7" width="2.2" height="8.7" fill="#0871de"/><rect x="57.8" y="250.5" width="2.2" height="8.7" fill="#3243ba"/><rect x="57.8" y="267.8" width="2.2" height="8.7" fill="#0f5cdd"/><rect x="60" y="43.7" width="2.2" height="8.7" fill="#046de0"/><rect x="60" y="69.5" width="2.2" height="8.7" fill="#046de0"/><rect x="60" y="104" width="2.2" height="8.7" fill="#2c4ac7"/><rect x="60" y="121.2" width="2.2" height="8.7" fill="#3243ba"/><rect x="60" y="129.9" width="2.2" height="8.7" fill="#0d75dc"/><rect x="60" y="138.5" width="2.2" height="8.7" fill="#127dd8"/><rect x="60" y="147.1" width="2.2" height="8.7" fill="#0d75dc"/><rect x="60" y="164.3" width="2.2" height="8.7" fill="#0363e1"/><rect x="60" y="173" width="2.2" height="8.7" fill="#0268e1"/><rect x="60" y="181.6" width="2.2" height="8.7" fill="#2c4ac7"/><rect x="60" y="233.3" width="2.2" height="8.7" fill="#0871de"/><rect x="60" y="241.9" width="2.2" height="8.7" fill="#0f5cdd"/><rect x="60" y="250.5" width="2.2" height="8.7" fill="#2c4ac7"/><rect x="60" y="267.8" width="2.2" height="8.7" fill="#0f5cdd"/><rect x="62.1" y="104" width="2.2" height="8.7" fill="#0f5cdd"/><rect x="62.1" y="121.2" width="2.2" height="8.7" fill="#3243ba"/><rect x="62.1" y="129.9" width="2.2" height="8.7" fill="#0998d1"/><rect x="62.1" y="147.1" width="2.2" height="8.7" fill="#046de0"/><rect x="62.1" y="155.7" width="2.2" height="8.7" fill="#127dd8"/><rect x="62.1" y="164.3" width="2.2" height="8.7" fill="#2c4ac7"/><rect x="62.1" y="173" width="2.2" height="8.7" fill="#2c4ac7"/><rect x="62.1" y="181.6" width="2.2" height="8.7" fill="#3243ba"/><rect x="62.1" y="241.9" width="2.2" height="8.7" fill="#046de0"/><rect x="64.3" y="78.1" width="2.2" height="8.7" fill="#0268e1"/><rect x="64.3" y="112.6" width="2.2" height="8.7" fill="#0363e1"/><rect x="64.3" y="129.9" width="2.2" height="8.7" fill="#1389d3"/><rect x="64.3" y="155.7" width="2.2" height="8.7" fill="#2c4ac7"/><rect x="64.3" y="164.3" width="2.2" height="8.7" fill="#0f5cdd"/><rect x="64.3" y="181.6" width="2.2" height="8.7" fill="#2053d4"/><rect x="64.3" y="198.8" width="2.2" height="8.7" fill="#06a7c6"/><rect x="64.3" y="207.4" width="2.2" height="8.7" fill="#1389d3"/><rect x="64.3" y="259.2" width="2.2" height="8.7" fill="#0d75dc"/><rect x="66.4" y="52.3" width="2.2" height="8.7" fill="#2c4ac7"/><rect x="66.4" y="60.9" width="2.2" height="8.7" fill="#046de0"/><rect x="66.4" y="69.5" width="2.2" height="8.7" fill="#0d75dc"/><rect x="66.4" y="78.1" width="2.2" height="8.7" fill="#2053d4"/><rect x="66.4" y="104" width="2.2" height="8.7" fill="#0268e1"/><rect x="66.4" y="112.6" width="2.2" height="8.7" fill="#0c93d2"/><rect x="66.4" y="121.2" width="2.2" height="8.7" fill="#0d75dc"/><rect x="66.4" y="138.5" width="2.2" height="8.7" fill="#0871de"/><rect x="66.4" y="147.1" width="2.2" height="8.7" fill="#0363e1"/><rect x="66.4" y="164.3" width="2.2" height="8.7" fill="#0f5cdd"/><rect x="66.4" y="181.6" width="2.2" height="8.7" fill="#0f5cdd"/><rect x="66.4" y="190.2" width="2.2" height="8.7" fill="#2c4ac7"/><rect x="66.4" y="207.4" width="2.2" height="8.7" fill="#0d75dc"/><rect x="66.4" y="216.1" width="2.2" height="8.7" fill="#1485d4"/><rect x="66.4" y="233.3" width="2.2" height="8.7" fill="#0363e1"/><rect x="66.4" y="241.9" width="2.2" height="8.7" fill="#0d75dc"/><rect x="66.4" y="250.5" width="2.2" height="8.7" fill="#0f5cdd"/><rect x="68.6" y="43.7" width="2.2" height="8.7" fill="#1389d3"/><rect x="68.6" y="104" width="2.2" height="8.7" fill="#3243ba"/><rect x="68.6" y="121.2" width="2.2" height="8.7" fill="#0f5cdd"/><rect x="68.6" y="138.5" width="2.2" height="8.7" fill="#0268e1"/><rect x="68.6" y="147.1" width="2.2" height="8.7" fill="#3243ba"/><rect x="68.6" y="155.7" width="2.2" height="8.7" fill="#2053d4"/><rect x="68.6" y="181.6" width="2.2" height="8.7" fill="#0d75dc"/><rect x="68.6" y="190.2" width="2.2" height="8.7" fill="#0363e1"/><rect x="68.6" y="216.1" width="2.2" height="8.7" fill="#0268e1"/><rect x="70.7" y="69.5" width="2.2" height="8.7" fill="#353dad"/><rect x="70.7" y="86.8" width="2.2" height="8.7" fill="#2053d4"/><rect x="70.7" y="95.4" width="2.2" height="8.7" fill="#108ed2"/><rect x="70.7" y="129.9" width="2.2" height="8.7" fill="#0f5cdd"/><rect x="70.7" y="138.5" width="2.2" height="8.7" fill="#1079da"/><rect x="70.7" y="147.1" width="2.2" height="8.7" fill="#0363e1"/><rect x="70.7" y="164.3" width="2.2" height="8.7" fill="#046de0"/><rect x="70.7" y="173" width="2.2" height="8.7" fill="#3243ba"/><rect x="70.7" y="190.2" width="2.2" height="8.7" fill="#0363e1"/><rect x="72.9" y="43.7" width="2.2" height="8.7" fill="#3243ba"/><rect x="72.9" y="60.9" width="2.2" height="8.7" fill="#3243ba"/><rect x="72.9" y="69.5" width="2.2" height="8.7" fill="#0363e1"/><rect x="72.9" y="78.1" width="2.2" height="8.7" fill="#127dd8"/><rect x="72.9" y="86.8" width="2.2" height="8.7" fill="#0f5cdd"/><rect x="72.9" y="104" width="2.2" height="8.7" fill="#127dd8"/><rect x="72.9" y="112.6" width="2.2" height="8.7" fill="#3243ba"/><rect x="72.9" y="121.2" width="2.2" height="8.7" fill="#1481d6"/><rect x="72.9" y="129.9" width="2.2" height="8.7" fill="#0d75dc"/><rect x="72.9" y="147.1" width="2.2" height="8.7" fill="#06a0cd"/><rect x="72.9" y="155.7" width="2.2" height="8.7" fill="#2053d4"/><rect x="72.9" y="173" width="2.2" height="8.7" fill="#0363e1"/><rect x="72.9" y="190.2" width="2.2" height="8.7" fill="#1389d3"/><rect x="72.9" y="224.7" width="2.2" height="8.7" fill="#046de0"/><rect x="72.9" y="250.5" width="2.2" height="8.7" fill="#0f5cdd"/><rect x="75" y="60.9" width="2.2" height="8.7" fill="#0871de"/><rect x="75" y="69.5" width="2.2" height="8.7" fill="#1079da"/><rect x="75" y="104" width="2.2" height="8.7" fill="#0363e1"/><rect x="75" y="121.2" width="2.2" height="8.7" fill="#0998d1"/><rect x="75" y="164.3" width="2.2" height="8.7" fill="#0d75dc"/><rect x="75" y="207.4" width="2.2" height="8.7" fill="#2c4ac7"/><rect x="77.2" y="95.4" width="2.2" height="8.7" fill="#127dd8"/><rect x="77.2" y="104" width="2.2" height="8.7" fill="#127dd8"/><rect x="77.2" y="112.6" width="2.2" height="8.7" fill="#0871de"/><rect x="77.2" y="121.2" width="2.2" height="8.7" fill="#046de0"/><rect x="77.2" y="138.5" width="2.2" height="8.7" fill="#0363e1"/><rect x="77.2" y="147.1" width="2.2" height="8.7" fill="#2c4ac7"/><rect x="77.2" y="173" width="2.2" height="8.7" fill="#1389d3"/><rect x="77.2" y="181.6" width="2.2" height="8.7" fill="#2053d4"/><rect x="77.2" y="190.2" width="2.2" height="8.7" fill="#4dbc92"/><rect x="77.2" y="207.4" width="2.2" height="8.7" fill="#0268e1"/><rect x="79.4" y="52.3" width="2.2" height="8.7" fill="#2053d4"/><rect x="79.4" y="86.8" width="2.2" height="8.7" fill="#046de0"/><rect x="79.4" y="104" width="2.2" height="8.7" fill="#0d75dc"/><rect x="79.4" y="112.6" width="2.2" height="8.7" fill="#0268e1"/><rect x="79.4" y="138.5" width="2.2" height="8.7" fill="#0871de"/><rect x="79.4" y="155.7" width="2.2" height="8.7" fill="#046de0"/><rect x="79.4" y="164.3" width="2.2" height="8.7" fill="#0268e1"/><rect x="79.4" y="173" width="2.2" height="8.7" fill="#046de0"/><rect x="79.4" y="181.6" width="2.2" height="8.7" fill="#0f5cdd"/><rect x="79.4" y="198.8" width="2.2" height="8.7" fill="#0268e1"/><rect x="81.5" y="86.8" width="2.2" height="8.7" fill="#0f5cdd"/><rect x="81.5" y="104" width="2.2" height="8.7" fill="#06a7c6"/><rect x="81.5" y="112.6" width="2.2" height="8.7" fill="#0363e1"/><rect x="81.5" y="121.2" width="2.2" height="8.7" fill="#0c93d2"/><rect x="81.5" y="155.7" width="2.2" height="8.7" fill="#0c93d2"/><rect x="81.5" y="164.3" width="2.2" height="8.7" fill="#127dd8"/><rect x="81.5" y="173" width="2.2" height="8.7" fill="#127dd8"/><rect x="81.5" y="198.8" width="2.2" height="8.7" fill="#0f5cdd"/><rect x="81.5" y="207.4" width="2.2" height="8.7" fill="#0998d1"/><rect x="83.7" y="52.3" width="2.2" height="8.7" fill="#046de0"/><rect x="83.7" y="78.1" width="2.2" height="8.7" fill="#0363e1"/><rect x="83.7" y="86.8" width="2.2" height="8.7" fill="#2053d4"/><rect x="83.7" y="95.4" width="2.2" height="8.7" fill="#0268e1"/><rect x="83.7" y="104" width="2.2" height="8.7" fill="#3243ba"/><rect x="83.7" y="112.6" width="2.2" height="8.7" fill="#0363e1"/><rect x="83.7" y="129.9" width="2.2" height="8.7" fill="#06a4ca"/><rect x="83.7" y="147.1" width="2.2" height="8.7" fill="#07a9c2"/><rect x="83.7" y="155.7" width="2.2" height="8.7" fill="#1389d3"/><rect x="83.7" y="164.3" width="2.2" height="8.7" fill="#1481d6"/><rect x="83.7" y="173" width="2.2" height="8.7" fill="#0c93d2"/><rect x="83.7" y="181.6" width="2.2" height="8.7" fill="#2c4ac7"/><rect x="83.7" y="198.8" width="2.2" height="8.7" fill="#127dd8"/><rect x="83.7" y="216.1" width="2.2" height="8.7" fill="#046de0"/><rect x="85.8" y="52.3" width="2.2" height="8.7" fill="#0268e1"/><rect x="85.8" y="60.9" width="2.2" height="8.7" fill="#06a7c6"/><rect x="85.8" y="78.1" width="2.2" height="8.7" fill="#0363e1"/><rect x="85.8" y="95.4" width="2.2" height="8.7" fill="#0871de"/><rect x="85.8" y="112.6" width="2.2" height="8.7" fill="#0268e1"/><rect x="85.8" y="121.2" width="2.2" height="8.7" fill="#06a4ca"/><rect x="85.8" y="155.7" width="2.2" height="8.7" fill="#0f5cdd"/><rect x="85.8" y="173" width="2.2" height="8.7" fill="#1079da"/><rect x="85.8" y="181.6" width="2.2" height="8.7" fill="#1481d6"/><rect x="85.8" y="207.4" width="2.2" height="8.7" fill="#0871de"/><rect x="88" y="60.9" width="2.2" height="8.7" fill="#2c4ac7"/><rect x="88" y="95.4" width="2.2" height="8.7" fill="#2053d4"/><rect x="88" y="112.6" width="2.2" height="8.7" fill="#1485d4"/><rect x="88" y="129.9" width="2.2" height="8.7" fill="#2053d4"/><rect x="88" y="155.7" width="2.2" height="8.7" fill="#1079da"/><rect x="88" y="164.3" width="2.2" height="8.7" fill="#0d75dc"/><rect x="88" y="173" width="2.2" height="8.7" fill="#108ed2"/><rect x="88" y="181.6" width="2.2" height="8.7" fill="#0aacbe"/><rect x="88" y="190.2" width="2.2" height="8.7" fill="#046de0"/><rect x="88" y="216.1" width="2.2" height="8.7" fill="#046de0"/><rect x="90.1" y="69.5" width="2.2" height="8.7" fill="#0c93d2"/><rect x="90.1" y="78.1" width="2.2" height="8.7" fill="#1079da"/><rect x="90.1" y="86.8" width="2.2" height="8.7" fill="#1079da"/><rect x="90.1" y="95.4" width="2.2" height="8.7" fill="#06a0cd"/><rect x="90.1" y="104" width="2.2" height="8.7" fill="#0c93d2"/><rect x="90.1" y="155.7" width="2.2" height="8.7" fill="#0f5cdd"/><rect x="90.1" y="173" width="2.2" height="8.7" fill="#1481d6"/><rect x="90.1" y="190.2" width="2.2" height="8.7" fill="#1079da"/><rect x="92.3" y="69.5" width="2.2" height="8.7" fill="#0871de"/><rect x="92.3" y="104" width="2.2" height="8.7" fill="#0d75dc"/><rect x="92.3" y="112.6" width="2.2" height="8.7" fill="#127dd8"/><rect x="92.3" y="147.1" width="2.2" height="8.7" fill="#127dd8"/><rect x="92.3" y="155.7" width="2.2" height="8.7" fill="#1079da"/><rect x="92.3" y="164.3" width="2.2" height="8.7" fill="#046de0"/><rect x="92.3" y="181.6" width="2.2" height="8.7" fill="#0871de"/><rect x="92.3" y="190.2" width="2.2" height="8.7" fill="#2c4ac7"/><rect x="92.3" y="198.8" width="2.2" height="8.7" fill="#127dd8"/><rect x="92.3" y="207.4" width="2.2" height="8.7" fill="#1db3af"/><rect x="94.4" y="60.9" width="2.2" height="8.7" fill="#1389d3"/><rect x="94.4" y="69.5" width="2.2" height="8.7" fill="#0d75dc"/><rect x="94.4" y="104" width="2.2" height="8.7" fill="#1079da"/><rect x="94.4" y="112.6" width="2.2" height="8.7" fill="#127dd8"/><rect x="94.4" y="129.9" width="2.2" height="8.7" fill="#0c93d2"/><rect x="94.4" y="155.7" width="2.2" height="8.7" fill="#0268e1"/><rect x="94.4" y="164.3" width="2.2" height="8.7" fill="#0998d1"/><rect x="94.4" y="173" width="2.2" height="8.7" fill="#1485d4"/><rect x="94.4" y="198.8" width="2.2" height="8.7" fill="#046de0"/><rect x="94.4" y="216.1" width="2.2" height="8.7" fill="#2c4ac7"/><rect x="94.4" y="224.7" width="2.2" height="8.7" fill="#2c4ac7"/><rect x="96.6" y="78.1" width="2.2" height="8.7" fill="#0363e1"/><rect x="96.6" y="112.6" width="2.2" height="8.7" fill="#3243ba"/><rect x="96.6" y="129.9" width="2.2" height="8.7" fill="#1389d3"/><rect x="96.6" y="147.1" width="2.2" height="8.7" fill="#0871de"/><rect x="96.6" y="155.7" width="2.2" height="8.7" fill="#0d75dc"/><rect x="96.6" y="173" width="2.2" height="8.7" fill="#1389d3"/><rect x="96.6" y="181.6" width="2.2" height="8.7" fill="#06a4ca"/><rect x="96.6" y="190.2" width="2.2" height="8.7" fill="#0d75dc"/><rect x="96.6" y="207.4" width="2.2" height="8.7" fill="#0871de"/><rect x="98.7" y="129.9" width="2.2" height="8.7" fill="#046de0"/><rect x="98.7" y="155.7" width="2.2" height="8.7" fill="#127dd8"/><rect x="98.7" y="164.3" width="2.2" height="8.7" fill="#1389d3"/><rect x="98.7" y="173" width="2.2" height="8.7" fill="#3243ba"/><rect x="98.7" y="181.6" width="2.2" height="8.7" fill="#046de0"/><rect x="98.7" y="190.2" width="2.2" height="8.7" fill="#0aacbe"/><rect x="98.7" y="198.8" width="2.2" height="8.7" fill="#0c93d2"/><rect x="100.9" y="60.9" width="2.2" height="8.7" fill="#0c93d2"/><rect x="100.9" y="69.5" width="2.2" height="8.7" fill="#108ed2"/><rect x="100.9" y="86.8" width="2.2" height="8.7" fill="#06a4ca"/><rect x="100.9" y="104" width="2.2" height="8.7" fill="#2c4ac7"/><rect x="100.9" y="121.2" width="2.2" height="8.7" fill="#0f5cdd"/><rect x="100.9" y="129.9" width="2.2" height="8.7" fill="#0268e1"/><rect x="100.9" y="138.5" width="2.2" height="8.7" fill="#0c93d2"/><rect x="100.9" y="147.1" width="2.2" height="8.7" fill="#0d75dc"/><rect x="100.9" y="155.7" width="2.2" height="8.7" fill="#079ccf"/><rect x="100.9" y="164.3" width="2.2" height="8.7" fill="#127dd8"/><rect x="100.9" y="173" width="2.2" height="8.7" fill="#0998d1"/><rect x="100.9" y="190.2" width="2.2" height="8.7" fill="#1389d3"/><rect x="100.9" y="198.8" width="2.2" height="8.7" fill="#127dd8"/><rect x="100.9" y="224.7" width="2.2" height="8.7" fill="#06a7c6"/><rect x="103.1" y="60.9" width="2.2" height="8.7" fill="#0268e1"/><rect x="103.1" y="69.5" width="2.2" height="8.7" fill="#38b99e"/><rect x="103.1" y="78.1" width="2.2" height="8.7" fill="#0d75dc"/><rect x="103.1" y="95.4" width="2.2" height="8.7" fill="#3243ba"/><rect x="103.1" y="112.6" width="2.2" height="8.7" fill="#3243ba"/><rect x="103.1" y="121.2" width="2.2" height="8.7" fill="#127dd8"/><rect x="103.1" y="138.5" width="2.2" height="8.7" fill="#127dd8"/><rect x="103.1" y="147.1" width="2.2" height="8.7" fill="#fcce2e"/><rect x="103.1" y="155.7" width="2.2" height="8.7" fill="#1079da"/><rect x="103.1" y="173" width="2.2" height="8.7" fill="#0f5cdd"/><rect x="103.1" y="181.6" width="2.2" height="8.7" fill="#06a7c6"/><rect x="103.1" y="190.2" width="2.2" height="8.7" fill="#42bb98"/><rect x="103.1" y="198.8" width="2.2" height="8.7" fill="#0268e1"/><rect x="103.1" y="207.4" width="2.2" height="8.7" fill="#079ccf"/><rect x="105.2" y="78.1" width="2.2" height="8.7" fill="#0c93d2"/><rect x="105.2" y="95.4" width="2.2" height="8.7" fill="#1481d6"/><rect x="105.2" y="112.6" width="2.2" height="8.7" fill="#2053d4"/><rect x="105.2" y="129.9" width="2.2" height="8.7" fill="#0998d1"/><rect x="105.2" y="138.5" width="2.2" height="8.7" fill="#0363e1"/><rect x="105.2" y="155.7" width="2.2" height="8.7" fill="#0363e1"/><rect x="105.2" y="164.3" width="2.2" height="8.7" fill="#07a9c2"/><rect x="105.2" y="181.6" width="2.2" height="8.7" fill="#0f5cdd"/><rect x="105.2" y="224.7" width="2.2" height="8.7" fill="#0268e1"/><rect x="107.4" y="69.5" width="2.2" height="8.7" fill="#1389d3"/><rect x="107.4" y="78.1" width="2.2" height="8.7" fill="#353dad"/><rect x="107.4" y="86.8" width="2.2" height="8.7" fill="#1485d4"/><rect x="107.4" y="104" width="2.2" height="8.7" fill="#046de0"/><rect x="107.4" y="112.6" width="2.2" height="8.7" fill="#0871de"/><rect x="107.4" y="121.2" width="2.2" height="8.7" fill="#127dd8"/><rect x="107.4" y="129.9" width="2.2" height="8.7" fill="#046de0"/><rect x="107.4" y="147.1" width="2.2" height="8.7" fill="#2053d4"/><rect x="107.4" y="155.7" width="2.2" height="8.7" fill="#0d75dc"/><rect x="107.4" y="164.3" width="2.2" height="8.7" fill="#06a4ca"/><rect x="107.4" y="173" width="2.2" height="8.7" fill="#06a7c6"/><rect x="107.4" y="190.2" width="2.2" height="8.7" fill="#1481d6"/><rect x="107.4" y="198.8" width="2.2" height="8.7" fill="#108ed2"/><rect x="107.4" y="207.4" width="2.2" height="8.7" fill="#2053d4"/><rect x="107.4" y="216.1" width="2.2" height="8.7" fill="#06a0cd"/><rect x="107.4" y="224.7" width="2.2" height="8.7" fill="#2053d4"/><rect x="109.5" y="69.5" width="2.2" height="8.7" fill="#06a7c6"/><rect x="109.5" y="78.1" width="2.2" height="8.7" fill="#0871de"/><rect x="109.5" y="95.4" width="2.2" height="8.7" fill="#1389d3"/><rect x="109.5" y="104" width="2.2" height="8.7" fill="#06a0cd"/><rect x="109.5" y="112.6" width="2.2" height="8.7" fill="#1485d4"/><rect x="109.5" y="121.2" width="2.2" height="8.7" fill="#1079da"/><rect x="109.5" y="129.9" width="2.2" height="8.7" fill="#0871de"/><rect x="109.5" y="138.5" width="2.2" height="8.7" fill="#1389d3"/><rect x="109.5" y="147.1" width="2.2" height="8.7" fill="#353dad"/><rect x="109.5" y="155.7" width="2.2" height="8.7" fill="#2c4ac7"/><rect x="109.5" y="164.3" width="2.2" height="8.7" fill="#046de0"/><rect x="109.5" y="181.6" width="2.2" height="8.7" fill="#079ccf"/><rect x="109.5" y="190.2" width="2.2" height="8.7" fill="#079ccf"/><rect x="109.5" y="207.4" width="2.2" height="8.7" fill="#0268e1"/><rect x="109.5" y="216.1" width="2.2" height="8.7" fill="#046de0"/><rect x="111.7" y="60.9" width="2.2" height="8.7" fill="#127dd8"/><rect x="111.7" y="95.4" width="2.2" height="8.7" fill="#0d75dc"/><rect x="111.7" y="104" width="2.2" height="8.7" fill="#0c93d2"/><rect x="111.7" y="112.6" width="2.2" height="8.7" fill="#0268e1"/><rect x="111.7" y="121.2" width="2.2" height="8.7" fill="#108ed2"/><rect x="111.7" y="129.9" width="2.2" height="8.7" fill="#06a0cd"/><rect x="111.7" y="138.5" width="2.2" height="8.7" fill="#127dd8"/><rect x="111.7" y="147.1" width="2.2" height="8.7" fill="#9cbf6f"/><rect x="111.7" y="155.7" width="2.2" height="8.7" fill="#38b99e"/><rect x="111.7" y="164.3" width="2.2" height="8.7" fill="#1485d4"/><rect x="111.7" y="173" width="2.2" height="8.7" fill="#0363e1"/><rect x="111.7" y="181.6" width="2.2" height="8.7" fill="#0c93d2"/><rect x="111.7" y="190.2" width="2.2" height="8.7" fill="#2053d4"/><rect x="111.7" y="207.4" width="2.2" height="8.7" fill="#1481d6"/><rect x="113.8" y="69.5" width="2.2" height="8.7" fill="#f8bb44"/><rect x="113.8" y="86.8" width="2.2" height="8.7" fill="#0f5cdd"/><rect x="113.8" y="95.4" width="2.2" height="8.7" fill="#1481d6"/><rect x="113.8" y="104" width="2.2" height="8.7" fill="#0d75dc"/><rect x="113.8" y="112.6" width="2.2" height="8.7" fill="#0c93d2"/><rect x="113.8" y="129.9" width="2.2" height="8.7" fill="#1389d3"/><rect x="113.8" y="155.7" width="2.2" height="8.7" fill="#079ccf"/><rect x="113.8" y="164.3" width="2.2" height="8.7" fill="#1079da"/><rect x="113.8" y="173" width="2.2" height="8.7" fill="#d1bb59"/><rect x="113.8" y="181.6" width="2.2" height="8.7" fill="#108ed2"/><rect x="113.8" y="190.2" width="2.2" height="8.7" fill="#108ed2"/><rect x="113.8" y="207.4" width="2.2" height="8.7" fill="#0268e1"/><rect x="116" y="86.8" width="2.2" height="8.7" fill="#1485d4"/><rect x="116" y="95.4" width="2.2" height="8.7" fill="#0998d1"/><rect x="116" y="104" width="2.2" height="8.7" fill="#1db3af"/><rect x="116" y="112.6" width="2.2" height="8.7" fill="#127dd8"/><rect x="116" y="121.2" width="2.2" height="8.7" fill="#0871de"/><rect x="116" y="129.9" width="2.2" height="8.7" fill="#127dd8"/><rect x="116" y="138.5" width="2.2" height="8.7" fill="#0c93d2"/><rect x="116" y="147.1" width="2.2" height="8.7" fill="#06a4ca"/><rect x="116" y="155.7" width="2.2" height="8.7" fill="#1389d3"/><rect x="116" y="164.3" width="2.2" height="8.7" fill="#0c93d2"/><rect x="116" y="173" width="2.2" height="8.7" fill="#59bd8c"/><rect x="116" y="190.2" width="2.2" height="8.7" fill="#71bf80"/><rect x="116" y="198.8" width="2.2" height="8.7" fill="#2c4ac7"/><rect x="118.1" y="78.1" width="2.2" height="8.7" fill="#2eb7a4"/><rect x="118.1" y="86.8" width="2.2" height="8.7" fill="#108ed2"/><rect x="118.1" y="95.4" width="2.2" height="8.7" fill="#0aacbe"/><rect x="118.1" y="104" width="2.2" height="8.7" fill="#2c4ac7"/><rect x="118.1" y="121.2" width="2.2" height="8.7" fill="#06a0cd"/><rect x="118.1" y="129.9" width="2.2" height="8.7" fill="#127dd8"/><rect x="118.1" y="147.1" width="2.2" height="8.7" fill="#0998d1"/><rect x="118.1" y="155.7" width="2.2" height="8.7" fill="#0faeb9"/><rect x="118.1" y="164.3" width="2.2" height="8.7" fill="#2053d4"/><rect x="118.1" y="181.6" width="2.2" height="8.7" fill="#65be86"/><rect x="118.1" y="190.2" width="2.2" height="8.7" fill="#15b1b4"/><rect x="120.3" y="78.1" width="2.2" height="8.7" fill="#06a7c6"/><rect x="120.3" y="95.4" width="2.2" height="8.7" fill="#1389d3"/><rect x="120.3" y="104" width="2.2" height="8.7" fill="#15b1b4"/><rect x="120.3" y="112.6" width="2.2" height="8.7" fill="#079ccf"/><rect x="120.3" y="121.2" width="2.2" height="8.7" fill="#06a7c6"/><rect x="120.3" y="129.9" width="2.2" height="8.7" fill="#1079da"/><rect x="120.3" y="138.5" width="2.2" height="8.7" fill="#108ed2"/><rect x="120.3" y="155.7" width="2.2" height="8.7" fill="#15b1b4"/><rect x="120.3" y="173" width="2.2" height="8.7" fill="#0f5cdd"/><rect x="120.3" y="181.6" width="2.2" height="8.7" fill="#0aacbe"/><rect x="120.3" y="190.2" width="2.2" height="8.7" fill="#079ccf"/><rect x="120.3" y="198.8" width="2.2" height="8.7" fill="#0f5cdd"/><rect x="120.3" y="207.4" width="2.2" height="8.7" fill="#108ed2"/><rect x="120.3" y="216.1" width="2.2" height="8.7" fill="#0268e1"/><rect x="122.5" y="78.1" width="2.2" height="8.7" fill="#25b5a9"/><rect x="122.5" y="86.8" width="2.2" height="8.7" fill="#0998d1"/><rect x="122.5" y="95.4" width="2.2" height="8.7" fill="#a5be6b"/><rect x="122.5" y="104" width="2.2" height="8.7" fill="#4dbc92"/><rect x="122.5" y="112.6" width="2.2" height="8.7" fill="#2eb7a4"/><rect x="122.5" y="121.2" width="2.2" height="8.7" fill="#59bd8c"/><rect x="122.5" y="129.9" width="2.2" height="8.7" fill="#0aacbe"/><rect x="122.5" y="138.5" width="2.2" height="8.7" fill="#0363e1"/><rect x="122.5" y="147.1" width="2.2" height="8.7" fill="#06a0cd"/><rect x="122.5" y="155.7" width="2.2" height="8.7" fill="#0998d1"/><rect x="122.5" y="164.3" width="2.2" height="8.7" fill="#07a9c2"/><rect x="122.5" y="173" width="2.2" height="8.7" fill="#59bd8c"/><rect x="122.5" y="190.2" width="2.2" height="8.7" fill="#d9ba56"/><rect x="124.6" y="69.5" width="2.2" height="8.7" fill="#0f5cdd"/><rect x="124.6" y="86.8" width="2.2" height="8.7" fill="#9cbf6f"/><rect x="124.6" y="95.4" width="2.2" height="8.7" fill="#07a9c2"/><rect x="124.6" y="104" width="2.2" height="8.7" fill="#0c93d2"/><rect x="124.6" y="112.6" width="2.2" height="8.7" fill="#07a9c2"/><rect x="124.6" y="129.9" width="2.2" height="8.7" fill="#046de0"/><rect x="124.6" y="138.5" width="2.2" height="8.7" fill="#06a4ca"/><rect x="124.6" y="147.1" width="2.2" height="8.7" fill="#0faeb9"/><rect x="124.6" y="155.7" width="2.2" height="8.7" fill="#1079da"/><rect x="124.6" y="164.3" width="2.2" height="8.7" fill="#9cbf6f"/><rect x="124.6" y="173" width="2.2" height="8.7" fill="#1481d6"/><rect x="124.6" y="181.6" width="2.2" height="8.7" fill="#c0bc60"/><rect x="124.6" y="190.2" width="2.2" height="8.7" fill="#f1b94a"/><rect x="124.6" y="198.8" width="2.2" height="8.7" fill="#0268e1"/><rect x="124.6" y="207.4" width="2.2" height="8.7" fill="#1079da"/><rect x="126.8" y="95.4" width="2.2" height="8.7" fill="#f9fb0e"/><rect x="126.8" y="104" width="2.2" height="8.7" fill="#127dd8"/><rect x="126.8" y="112.6" width="2.2" height="8.7" fill="#06a7c6"/><rect x="126.8" y="121.2" width="2.2" height="8.7" fill="#0aacbe"/><rect x="126.8" y="129.9" width="2.2" height="8.7" fill="#0f5cdd"/><rect x="126.8" y="138.5" width="2.2" height="8.7" fill="#1389d3"/><rect x="126.8" y="147.1" width="2.2" height="8.7" fill="#f1b94a"/><rect x="126.8" y="155.7" width="2.2" height="8.7" fill="#a5be6b"/><rect x="126.8" y="164.3" width="2.2" height="8.7" fill="#06a0cd"/><rect x="126.8" y="173" width="2.2" height="8.7" fill="#25b5a9"/><rect x="126.8" y="181.6" width="2.2" height="8.7" fill="#f9fb0e"/><rect x="126.8" y="190.2" width="2.2" height="8.7" fill="#0c93d2"/><rect x="128.9" y="86.8" width="2.2" height="8.7" fill="#1079da"/><rect x="128.9" y="95.4" width="2.2" height="8.7" fill="#38b99e"/><rect x="128.9" y="104" width="2.2" height="8.7" fill="#0d75dc"/><rect x="128.9" y="112.6" width="2.2" height="8.7" fill="#127dd8"/><rect x="128.9" y="121.2" width="2.2" height="8.7" fill="#0faeb9"/><rect x="128.9" y="129.9" width="2.2" height="8.7" fill="#1db3af"/><rect x="128.9" y="138.5" width="2.2" height="8.7" fill="#0faeb9"/><rect x="128.9" y="147.1" width="2.2" height="8.7" fill="#0998d1"/><rect x="128.9" y="155.7" width="2.2" height="8.7" fill="#15b1b4"/><rect x="128.9" y="164.3" width="2.2" height="8.7" fill="#07a9c2"/><rect x="128.9" y="173" width="2.2" height="8.7" fill="#0faeb9"/><rect x="128.9" y="190.2" width="2.2" height="8.7" fill="#0871de"/><rect x="128.9" y="207.4" width="2.2" height="8.7" fill="#0f5cdd"/><rect x="131.1" y="78.1" width="2.2" height="8.7" fill="#079ccf"/><rect x="131.1" y="86.8" width="2.2" height="8.7" fill="#353dad"/><rect x="131.1" y="95.4" width="2.2" height="8.7" fill="#0268e1"/><rect x="131.1" y="112.6" width="2.2" height="8.7" fill="#2eb7a4"/><rect x="131.1" y="121.2" width="2.2" height="8.7" fill="#fec832"/><rect x="131.1" y="129.9" width="2.2" height="8.7" fill="#1485d4"/><rect x="131.1" y="138.5" width="2.2" height="8.7" fill="#15b1b4"/><rect x="131.1" y="147.1" width="2.2" height="8.7" fill="#f9fb0e"/><rect x="131.1" y="155.7" width="2.2" height="8.7" fill="#06a4ca"/><rect x="131.1" y="164.3" width="2.2" height="8.7" fill="#1485d4"/><rect x="131.1" y="173" width="2.2" height="8.7" fill="#f9fb0e"/><rect x="131.1" y="207.4" width="2.2" height="8.7" fill="#0f5cdd"/><rect x="133.2" y="78.1" width="2.2" height="8.7" fill="#3243ba"/><rect x="133.2" y="86.8" width="2.2" height="8.7" fill="#0871de"/><rect x="133.2" y="104" width="2.2" height="8.7" fill="#aebe67"/><rect x="133.2" y="112.6" width="2.2" height="8.7" fill="#e1b952"/><rect x="133.2" y="129.9" width="2.2" height="8.7" fill="#1485d4"/><rect x="133.2" y="138.5" width="2.2" height="8.7" fill="#d1bb59"/><rect x="133.2" y="155.7" width="2.2" height="8.7" fill="#0c93d2"/><rect x="133.2" y="164.3" width="2.2" height="8.7" fill="#07a9c2"/><rect x="133.2" y="173" width="2.2" height="8.7" fill="#87bf77"/><rect x="133.2" y="190.2" width="2.2" height="8.7" fill="#108ed2"/><rect x="135.4" y="86.8" width="2.2" height="8.7" fill="#0363e1"/><rect x="135.4" y="104" width="2.2" height="8.7" fill="#079ccf"/><rect x="135.4" y="112.6" width="2.2" height="8.7" fill="#f9fb0e"/><rect x="135.4" y="121.2" width="2.2" height="8.7" fill="#f7d826"/><rect x="135.4" y="129.9" width="2.2" height="8.7" fill="#0faeb9"/><rect x="135.4" y="138.5" width="2.2" height="8.7" fill="#06a4ca"/><rect x="135.4" y="147.1" width="2.2" height="8.7" fill="#1481d6"/><rect x="135.4" y="164.3" width="2.2" height="8.7" fill="#f9fb0e"/><rect x="135.4" y="173" width="2.2" height="8.7" fill="#0363e1"/><rect x="135.4" y="181.6" width="2.2" height="8.7" fill="#0f5cdd"/><rect x="135.4" y="190.2" width="2.2" height="8.7" fill="#0268e1"/><rect x="137.5" y="95.4" width="2.2" height="8.7" fill="#0f5cdd"/><rect x="137.5" y="104" width="2.2" height="8.7" fill="#1485d4"/><rect x="137.5" y="112.6" width="2.2" height="8.7" fill="#046de0"/><rect x="137.5" y="121.2" width="2.2" height="8.7" fill="#108ed2"/><rect x="137.5" y="129.9" width="2.2" height="8.7" fill="#0aacbe"/><rect x="137.5" y="138.5" width="2.2" height="8.7" fill="#f5e41d"/><rect x="137.5" y="147.1" width="2.2" height="8.7" fill="#f1b94a"/><rect x="137.5" y="155.7" width="2.2" height="8.7" fill="#e9b94e"/><rect x="137.5" y="164.3" width="2.2" height="8.7" fill="#fdbe3d"/><rect x="137.5" y="173" width="2.2" height="8.7" fill="#127dd8"/><rect x="137.5" y="181.6" width="2.2" height="8.7" fill="#0d75dc"/><rect x="137.5" y="190.2" width="2.2" height="8.7" fill="#0d75dc"/><rect x="139.7" y="86.8" width="2.2" height="8.7" fill="#0c93d2"/><rect x="139.7" y="104" width="2.2" height="8.7" fill="#9cbf6f"/><rect x="139.7" y="112.6" width="2.2" height="8.7" fill="#0c93d2"/><rect x="139.7" y="121.2" width="2.2" height="8.7" fill="#92bf73"/><rect x="139.7" y="129.9" width="2.2" height="8.7" fill="#f9fb0e"/><rect x="139.7" y="138.5" width="2.2" height="8.7" fill="#0faeb9"/><rect x="139.7" y="147.1" width="2.2" height="8.7" fill="#f1b94a"/><rect x="139.7" y="155.7" width="2.2" height="8.7" fill="#f9fb0e"/><rect x="139.7" y="164.3" width="2.2" height="8.7" fill="#0c93d2"/><rect x="139.7" y="173" width="2.2" height="8.7" fill="#0d75dc"/><rect x="139.7" y="198.8" width="2.2" height="8.7" fill="#2053d4"/><rect x="141.8" y="104" width="2.2" height="8.7" fill="#1db3af"/><rect x="141.8" y="112.6" width="2.2" height="8.7" fill="#2eb7a4"/><rect x="141.8" y="121.2" width="2.2" height="8.7" fill="#65be86"/><rect x="141.8" y="129.9" width="2.2" height="8.7" fill="#06a7c6"/><rect x="141.8" y="147.1" width="2.2" height="8.7" fill="#aebe67"/><rect x="141.8" y="155.7" width="2.2" height="8.7" fill="#aebe67"/><rect x="141.8" y="173" width="2.2" height="8.7" fill="#0363e1"/><rect x="141.8" y="190.2" width="2.2" height="8.7" fill="#0871de"/><rect x="144" y="104" width="2.2" height="8.7" fill="#4dbc92"/><rect x="144" y="121.2" width="2.2" height="8.7" fill="#0871de"/><rect x="144" y="129.9" width="2.2" height="8.7" fill="#65be86"/><rect x="144" y="138.5" width="2.2" height="8.7" fill="#d1bb59"/><rect x="144" y="147.1" width="2.2" height="8.7" fill="#38b99e"/><rect x="144" y="155.7" width="2.2" height="8.7" fill="#06a0cd"/><rect x="144" y="164.3" width="2.2" height="8.7" fill="#1481d6"/><rect x="144" y="173" width="2.2" height="8.7" fill="#2c4ac7"/><rect x="144" y="181.6" width="2.2" height="8.7" fill="#0c93d2"/><rect x="146.2" y="104" width="2.2" height="8.7" fill="#0871de"/><rect x="146.2" y="121.2" width="2.2" height="8.7" fill="#108ed2"/><rect x="146.2" y="138.5" width="2.2" height="8.7" fill="#25b5a9"/><rect x="146.2" y="155.7" width="2.2" height="8.7" fill="#0363e1"/><rect x="146.2" y="164.3" width="2.2" height="8.7" fill="#0d75dc"/><rect x="146.2" y="173" width="2.2" height="8.7" fill="#0f5cdd"/><rect x="146.2" y="181.6" width="2.2" height="8.7" fill="#0871de"/><rect x="148.3" y="112.6" width="2.2" height="8.7" fill="#0f5cdd"/><rect x="148.3" y="121.2" width="2.2" height="8.7" fill="#0faeb9"/><rect x="148.3" y="129.9" width="2.2" height="8.7" fill="#15b1b4"/><rect x="148.3" y="155.7" width="2.2" height="8.7" fill="#fdbe3d"/><rect x="148.3" y="164.3" width="2.2" height="8.7" fill="#f1b94a"/><rect x="148.3" y="173" width="2.2" height="8.7" fill="#06a4ca"/><rect x="150.5" y="129.9" width="2.2" height="8.7" fill="#07a9c2"/><rect x="150.5" y="138.5" width="2.2" height="8.7" fill="#1db3af"/><rect x="150.5" y="147.1" width="2.2" height="8.7" fill="#65be86"/><rect x="150.5" y="155.7" width="2.2" height="8.7" fill="#06a7c6"/><rect x="150.5" y="164.3" width="2.2" height="8.7" fill="#1389d3"/><rect x="150.5" y="173" width="2.2" height="8.7" fill="#0c93d2"/><rect x="152.6" y="138.5" width="2.2" height="8.7" fill="#2c4ac7"/><g fill="none" stroke="#000" stroke-width="0.5" stroke-opacity="0.8"><g clip-path="url(#corec)"><path d="M146.9 13 L147.2 13.3 L147.5 13.7 L147.9 14 L148.2 14.3 L148.5 14.7 L148.8 15 L149.2 15.4 L149.5 15.7 L149.9 16.1 L150.2 16.5 L150.5 16.8 L150.9 17.2 L151.2 17.6 L151.6 18 L151.9 18.3 L152.3 18.7 L152.6 19.1 L152.9 19.4 L153.2 19.7 L153.5 20.1 L153.8 20.4 L154.1 20.7 L154.4 21.1 L154.7 21.4 L155 21.8 L155.3 22.2 L155.7 22.6 L156 23 L156.4 23.4 L156.7 23.8 L157 24.1 L157.3 24.4 L157.6 24.8 L157.8 25.1 L158.1 25.4 L158.4 25.8 L158.8 26.2 L159.1 26.6 L159.4 27 L159.8 27.5 L160.1 27.8 L160.3 28.1 L160.6 28.5 L160.9 28.8 L161.2 29.2 L161.5 29.6"/><path d="M87.5 116.9 L87.2 116.9 L86.5 117.1 L86.1 117.2 L85.5 117.5 L85.1 117.6 L84.5 117.9 L84.1 118.1 L83.8 118.3 L83.4 118.6 L82.9 118.9 L82.4 119.2 L82 119.6 L81.7 119.9 L81.4 120.2 L81 120.6 L80.7 120.9 L80.4 121.2 L80.2 121.6 L79.9 121.9 L79.6 122.3 L79.3 122.8 L79 123.3 L78.8 123.6 L78.6 123.9 L78.3 124.6 L78.1 124.9 L77.9 125.3 L77.6 126 L77.5 126.3 L77.2 126.9 L77.1 127.3 L76.9 127.9 L76.8 128.3 L76.6 129 L76.5 129.3 L76.3 130 L76.2 130.5 L76.1 131 L76 131.7 L75.9 132.3 L75.8 132.7 L75.7 133.3 L75.7 134 L75.6 134.7 L75.5 135.4 L75.5 135.7 L75.5 136.4 L75.5 137 L75.5 137.7 L75.5 138.4 L75.5 139.1 L75.5 139.7 L75.5 140.1 L75.6 140.7 L75.6 141.4 L75.7 142.1 L75.8 142.8 L75.9 143.4 L75.9 143.8 L76 144.4 L76.2 145.1 L76.2 145.5 L76.4 146.1 L76.5 146.8 L76.6 147.1 L76.8 147.8 L76.9 148.3 L77 148.8 L77.2 149.5 L77.4 149.8 L77.6 150.5 L77.7 150.8 L77.9 151.4 L78.1 151.8 L78.3 152.3 L78.5 152.8 L78.7 153.2 L79 153.8 L79.2 154.2 L79.3 154.5 L79.6 155.1 L79.9 155.5 L80.1 155.9 L80.3 156.3 L80.7 156.8 L81 157.2 L81.2 157.6 L81.4 157.9 L81.7 158.2 L82 158.7 L82.4 159.1 L82.7 159.4 L83.1 159.8 L83.4 160.1 L83.8 160.4 L84.1 160.7 L84.4 161 L84.8 161.3 L85.2 161.6 L85.7 161.9 L86.2 162.2 L86.5 162.3 L87 162.6 L87.5 162.8 L87.9 162.9 L88.6 163.2 L89 163.3 L89.6 163.4 L90.3 163.5 L90.9 163.5 L91.6 163.5 L92.3 163.4 L93 163.3 L93.3 163.2 L94 163.1 L94.4 162.9 L95.1 162.7 L95.4 162.5 L96 162.3 L96.4 162 L96.8 161.8 L97.1 161.6 L97.6 161.3 L98 160.9 L98.4 160.6 L98.8 160.2 L99.2 159.9 L99.5 159.6 L99.9 159.2 L100.2 158.9 L100.5 158.6 L100.7 158.2 L101 157.9 L101.3 157.6 L101.6 157.1 L101.9 156.6 L102.2 156.2 L102.4 155.9 L102.6 155.5 L102.9 154.9 L103.1 154.5 L103.3 154.2 L103.6 153.5 L103.8 153.2 L104 152.8 L104.2 152.2 L104.3 151.8 L104.6 151.2 L104.7 150.8 L104.9 150.2 L105 149.8 L105.2 149.1 L105.3 148.7 L105.5 148.1 L105.6 147.5 L105.7 147.1 L105.8 146.5 L105.9 145.8 L106 145.2 L106.1 144.8 L106.2 144.1 L106.2 143.4 L106.3 142.8 L106.3 142.1 L106.3 141.4 L106.3 140.7 L106.3 140.1 L106.3 139.4 L106.3 138.7 L106.2 138.1 L106.1 137.4 L106.1 136.7 L106 136.3 L105.9 135.7 L105.8 135 L105.7 134.4 L105.6 134 L105.5 133.3 L105.3 132.8 L105.2 132.3 L105 131.7 L104.9 131.3 L104.7 130.7 L104.6 130.3 L104.3 129.7 L104.2 129.3 L104 128.7 L103.8 128.3 L103.6 127.9 L103.3 127.3 L103.2 127 L102.9 126.5 L102.6 126 L102.4 125.6 L102.2 125.3 L101.9 124.8 L101.6 124.3 L101.4 123.9 L101.1 123.6 L100.9 123.3 L100.5 122.8 L100.2 122.4 L99.9 122 L99.5 121.6 L99.2 121.3 L98.8 120.9 L98.5 120.6 L98.1 120.3 L97.8 120 L97.5 119.7 L97.1 119.5 L96.8 119.2 L96.3 118.9 L95.7 118.6 L95.4 118.4 L95.1 118.2 L94.5 117.9 L94 117.7 L93.7 117.5 L93 117.3 L92.7 117.2 L92 117 L91.3 116.9 L90.9 116.8 L90.3 116.7 L89.6 116.7 L88.9 116.7 L88.2 116.8 L87.5 116.9"/><path d="M145.4 13 L145.8 13.3 L146.1 13.7 L146.4 14 L146.8 14.4 L147.1 14.7 L147.5 15.1 L147.8 15.4 L148.1 15.8 L148.5 16.1 L148.8 16.5 L149.2 16.9 L149.5 17.2 L149.9 17.6 L150.2 18 L150.5 18.3 L150.9 18.7 L151.2 19.1 L151.5 19.4 L151.8 19.7 L152.1 20.1 L152.4 20.4 L152.7 20.7 L153 21.1 L153.3 21.4 L153.6 21.7 L154 22.1 L154.3 22.5 L154.7 22.9 L155 23.3 L155.3 23.7 L155.7 24.1 L156 24.4 L156.3 24.8 L156.5 25.1 L156.8 25.4 L157.1 25.8 L157.4 26.1 L157.7 26.5 L158.1 26.9 L158.4 27.3 L158.8 27.7 L159.1 28.1 L159.4 28.5 L159.6 28.8 L159.9 29.1 L160.2 29.5 L160.5 29.9 L160.8 30.3 L161.2 30.7 L161.5 31.1"/><path d="M161.5 279.6 L161.5 279.6 L161.4 279.9 L161.3 280.3 L161.2 280.6 L161.2 280.7 L161.1 280.9 L161 281.3 L160.9 281.6"/><path d="M85.5 106.8 L85.1 106.8 L84.4 106.9 L83.8 107.1 L83.4 107.2 L82.7 107.4 L82.4 107.5 L81.7 107.8 L81.4 107.9 L80.9 108.1 L80.3 108.4 L80 108.6 L79.6 108.8 L79.1 109.1 L78.6 109.5 L78.3 109.7 L77.9 110 L77.6 110.3 L77.2 110.6 L76.9 110.9 L76.6 111.2 L76.2 111.5 L75.9 111.9 L75.5 112.3 L75.2 112.6 L74.9 113.1 L74.5 113.5 L74.2 113.9 L74 114.2 L73.8 114.5 L73.5 114.9 L73.1 115.5 L72.9 115.9 L72.7 116.2 L72.5 116.7 L72.2 117.2 L72 117.5 L71.8 118 L71.5 118.6 L71.4 118.9 L71.1 119.6 L71 119.9 L70.7 120.5 L70.6 120.9 L70.4 121.4 L70.2 121.9 L70.1 122.5 L69.9 122.9 L69.7 123.6 L69.7 123.9 L69.5 124.6 L69.4 125.1 L69.3 125.6 L69.1 126.3 L69 126.7 L68.9 127.3 L68.8 128 L68.7 128.6 L68.7 129 L68.6 129.7 L68.5 130.3 L68.4 131 L68.4 131.7 L68.3 132 L68.3 132.7 L68.3 133.3 L68.2 134 L68.2 134.7 L68.2 135.4 L68.2 136 L68.2 136.7 L68.2 137.4 L68.2 138.1 L68.2 138.7 L68.3 139.4 L68.3 140.1 L68.3 140.4 L68.4 141.1 L68.5 141.8 L68.5 142.4 L68.6 143.1 L68.7 143.7 L68.7 144.1 L68.8 144.8 L68.9 145.5 L69 146 L69.1 146.5 L69.2 147.1 L69.4 147.8 L69.4 148.1 L69.6 148.8 L69.7 149.5 L69.8 149.8 L70 150.5 L70.1 150.9 L70.2 151.5 L70.4 152.2 L70.5 152.5 L70.7 153.2 L70.8 153.5 L71 154.2 L71.1 154.5 L71.4 155.2 L71.5 155.5 L71.7 156.2 L71.8 156.5 L72.1 157.2 L72.2 157.6 L72.5 158.1 L72.7 158.6 L72.8 158.9 L73.1 159.6 L73.3 159.9 L73.5 160.4 L73.8 160.9 L73.9 161.3 L74.2 161.7 L74.5 162.3 L74.7 162.6 L74.9 162.9 L75.2 163.5 L75.5 163.9 L75.7 164.3 L75.9 164.6 L76.2 165.1 L76.6 165.6 L76.8 166 L77.1 166.3 L77.3 166.6 L77.6 167 L77.9 167.4 L78.3 167.7 L78.6 168.1 L79 168.5 L79.3 168.8 L79.6 169.2 L80 169.5 L80.3 169.8 L80.7 170.1 L81 170.4 L81.4 170.7 L81.8 171 L82.3 171.3 L82.7 171.6 L83.1 171.8 L83.4 172 L84.1 172.3 L84.4 172.5 L84.8 172.7 L85.5 173 L85.8 173.1 L86.5 173.3 L86.8 173.4 L87.5 173.6 L88.2 173.7 L88.6 173.7 L89.2 173.8 L89.9 173.8 L90.6 173.8 L91.3 173.8 L92 173.7 L92.3 173.7 L93 173.5 L93.7 173.4 L94 173.3 L94.7 173.1 L95.1 172.9 L95.7 172.7 L96.1 172.5 L96.5 172.3 L97.1 172 L97.5 171.9 L97.8 171.7 L98.4 171.3 L98.8 171 L99.2 170.8 L99.5 170.6 L99.9 170.3 L100.3 170 L100.7 169.7 L101.1 169.3 L101.5 169 L101.8 168.6 L102.2 168.3 L102.5 168 L102.9 167.6 L103.2 167.3 L103.5 167 L103.8 166.6 L104.1 166.3 L104.3 166 L104.6 165.6 L105 165.1 L105.3 164.7 L105.6 164.3 L105.8 163.9 L106.1 163.6 L106.4 163.2 L106.7 162.6 L106.9 162.3 L107.1 161.9 L107.4 161.5 L107.7 160.9 L107.9 160.6 L108.1 160.2 L108.4 159.6 L108.5 159.2 L108.8 158.8 L109 158.2 L109.1 157.9 L109.4 157.2 L109.6 156.9 L109.8 156.3 L109.9 155.9 L110.1 155.4 L110.3 154.9 L110.5 154.3 L110.6 153.9 L110.8 153.2 L110.9 152.8 L111.1 152.2 L111.2 151.8 L111.3 151.2 L111.5 150.5 L111.6 150.2 L111.7 149.5 L111.8 148.8 L111.9 148.5 L112 147.8 L112.1 147.1 L112.2 146.5 L112.2 146.1 L112.3 145.5 L112.4 144.8 L112.4 144.1 L112.4 143.4 L112.5 142.8 L112.5 142.1 L112.5 141.4 L112.5 140.7 L112.5 140.1 L112.5 139.4 L112.5 138.7 L112.4 138.1 L112.4 137.4 L112.3 136.7 L112.3 136 L112.2 135.4 L112.1 135 L112 134.4 L111.9 133.7 L111.8 133.1 L111.8 132.7 L111.6 132 L111.5 131.3 L111.4 131 L111.3 130.3 L111.2 129.9 L111 129.3 L110.8 128.6 L110.7 128.3 L110.5 127.6 L110.4 127.3 L110.2 126.6 L110.1 126.3 L109.8 125.6 L109.7 125.3 L109.4 124.6 L109.3 124.3 L109.1 123.8 L108.9 123.3 L108.7 122.9 L108.4 122.3 L108.3 121.9 L108.1 121.6 L107.7 120.9 L107.6 120.6 L107.4 120.2 L107 119.7 L106.8 119.2 L106.6 118.9 L106.4 118.5 L106 118 L105.7 117.5 L105.5 117.2 L105.2 116.9 L105 116.5 L104.6 116.1 L104.3 115.6 L104 115.2 L103.7 114.9 L103.4 114.5 L103.1 114.2 L102.8 113.9 L102.4 113.5 L102.1 113.2 L101.8 112.8 L101.4 112.5 L101 112.2 L100.7 111.8 L100.3 111.5 L99.9 111.2 L99.5 110.9 L99.2 110.6 L98.8 110.4 L98.5 110.2 L98 109.8 L97.5 109.5 L97.1 109.3 L96.8 109.1 L96.2 108.8 L95.7 108.6 L95.4 108.4 L94.8 108.1 L94.4 107.9 L94 107.8 L93.3 107.6 L93 107.4 L92.3 107.2 L91.9 107.1 L91.3 107 L90.6 106.9 L90.2 106.8 L89.6 106.7 L88.9 106.6 L88.2 106.6 L87.5 106.6 L86.8 106.6 L86.2 106.7 L85.5 106.8"/><path d="M143.8 13 L144.2 13.3 L144.5 13.7 L144.8 14 L145.2 14.3 L145.5 14.7 L145.8 15 L146.2 15.4 L146.5 15.7 L146.8 16 L147.1 16.4 L147.5 16.7 L147.8 17.1 L148.1 17.4 L148.5 17.8 L148.8 18.1 L149.2 18.5 L149.5 18.9 L149.9 19.2 L150.2 19.6 L150.5 20 L150.9 20.3 L151.2 20.7 L151.5 21.1 L151.8 21.4 L152.1 21.7 L152.5 22.1 L152.8 22.4 L153.1 22.7 L153.4 23.1 L153.6 23.4 L154 23.8 L154.3 24.2 L154.7 24.6 L155 25 L155.3 25.4 L155.7 25.7 L156 26.1 L156.3 26.4 L156.6 26.8 L156.8 27.1 L157.1 27.5 L157.4 27.8 L157.7 28.2 L158.1 28.6 L158.4 29 L158.8 29.4 L159.1 29.8 L159.3 30.1 L159.6 30.5 L159.9 30.8 L160.2 31.2 L160.5 31.5 L160.8 32 L161.2 32.4 L161.5 32.8"/><path d="M161.5 277.1 L161.5 277.2 L161.4 277.6 L161.3 277.9 L161.2 278.2 L161.2 278.3 L161.1 278.6 L161 278.9 L160.9 279.2 L160.8 279.5 L160.8 279.6 L160.7 279.9 L160.6 280.3 L160.5 280.6 L160.5 280.6 L160.4 280.9 L160.3 281.3 L160.2 281.6"/><path d="M83.8 98.4 L83.4 98.4 L82.7 98.5 L82 98.6 L81.5 98.7 L81 98.8 L80.3 99 L80 99.1 L79.3 99.3 L79 99.5 L78.3 99.7 L77.9 99.9 L77.5 100.1 L76.9 100.4 L76.6 100.5 L76.2 100.7 L75.6 101.1 L75.2 101.3 L74.9 101.6 L74.5 101.8 L74.1 102.1 L73.7 102.4 L73.3 102.8 L72.9 103.1 L72.5 103.4 L72.1 103.8 L71.8 104.1 L71.4 104.4 L71.1 104.8 L70.8 105.1 L70.5 105.4 L70.2 105.8 L70 106.1 L69.7 106.5 L69.4 106.9 L69 107.3 L68.7 107.8 L68.5 108.1 L68.3 108.5 L68 108.9 L67.7 109.5 L67.5 109.8 L67.3 110.2 L67 110.7 L66.8 111.2 L66.6 111.5 L66.3 112.1 L66.1 112.5 L65.9 112.9 L65.7 113.5 L65.5 113.9 L65.3 114.5 L65.1 114.9 L64.9 115.5 L64.8 115.9 L64.6 116.5 L64.5 116.9 L64.3 117.5 L64.2 117.9 L64 118.6 L63.9 118.9 L63.7 119.6 L63.6 120.2 L63.5 120.6 L63.3 121.2 L63.2 121.8 L63.1 122.3 L63 122.9 L62.9 123.6 L62.8 123.9 L62.7 124.6 L62.6 125.3 L62.5 126 L62.5 126.3 L62.4 127 L62.4 127.6 L62.3 128.3 L62.2 129 L62.2 129.7 L62.2 130 L62.1 130.7 L62.1 131.3 L62.1 132 L62.1 132.7 L62 133.3 L62 134 L62 134.7 L62 135.4 L62.1 136 L62.1 136.7 L62.1 137.4 L62.1 138.1 L62.2 138.7 L62.2 139.1 L62.2 139.7 L62.3 140.4 L62.3 141.1 L62.4 141.8 L62.5 142.4 L62.5 142.9 L62.6 143.4 L62.7 144.1 L62.8 144.8 L62.9 145.5 L62.9 145.8 L63 146.5 L63.1 147.1 L63.2 147.7 L63.3 148.1 L63.4 148.8 L63.5 149.5 L63.6 149.8 L63.7 150.5 L63.9 151.2 L64 151.5 L64.1 152.2 L64.2 152.7 L64.4 153.2 L64.5 153.9 L64.6 154.2 L64.8 154.9 L64.9 155.3 L65.1 155.9 L65.3 156.5 L65.4 156.9 L65.6 157.6 L65.7 157.9 L65.9 158.6 L66 158.9 L66.2 159.6 L66.4 159.9 L66.6 160.6 L66.7 160.9 L67 161.6 L67.1 161.9 L67.3 162.4 L67.5 162.9 L67.7 163.3 L68 163.9 L68.1 164.3 L68.3 164.8 L68.6 165.3 L68.7 165.6 L69 166.3 L69.2 166.6 L69.4 167 L69.7 167.6 L69.9 168 L70.1 168.3 L70.4 168.9 L70.7 169.3 L70.9 169.7 L71.1 170 L71.4 170.6 L71.7 171 L71.9 171.3 L72.1 171.7 L72.5 172.2 L72.8 172.6 L73.1 173 L73.3 173.4 L73.6 173.7 L73.8 174 L74.2 174.4 L74.5 174.8 L74.9 175.2 L75.2 175.6 L75.5 176 L75.9 176.3 L76.2 176.7 L76.6 177 L76.9 177.3 L77.2 177.6 L77.6 177.9 L77.9 178.2 L78.3 178.5 L78.6 178.8 L79 179.1 L79.5 179.4 L80 179.7 L80.3 179.9 L80.7 180.1 L81.2 180.4 L81.7 180.7 L82 180.8 L82.6 181.1 L83.1 181.3 L83.4 181.4 L84.1 181.7 L84.4 181.8 L85.1 181.9 L85.8 182.1 L86.2 182.2 L86.8 182.3 L87.5 182.4 L88.2 182.4 L88.9 182.4 L89.6 182.4 L90.3 182.4 L90.9 182.3 L91.6 182.2 L92.3 182.1 L92.7 182 L93.3 181.8 L93.7 181.8 L94.4 181.5 L94.7 181.4 L95.4 181.2 L95.7 181 L96.4 180.8 L96.8 180.6 L97.2 180.4 L97.8 180.1 L98.1 179.9 L98.5 179.7 L99 179.4 L99.5 179.1 L99.9 178.9 L100.2 178.6 L100.6 178.4 L101 178.1 L101.5 177.7 L101.9 177.4 L102.3 177.1 L102.6 176.8 L102.9 176.5 L103.3 176.2 L103.6 175.9 L104 175.6 L104.3 175.3 L104.6 174.9 L105 174.6 L105.3 174.2 L105.7 173.9 L106 173.5 L106.4 173.1 L106.7 172.7 L107 172.3 L107.3 172 L107.5 171.7 L107.8 171.3 L108.1 171 L108.4 170.5 L108.8 170 L109 169.7 L109.3 169.3 L109.5 169 L109.8 168.5 L110.1 168 L110.3 167.6 L110.5 167.3 L110.8 166.8 L111.1 166.3 L111.3 166 L111.5 165.6 L111.8 165 L112 164.6 L112.2 164.3 L112.5 163.6 L112.7 163.3 L112.9 162.9 L113.1 162.3 L113.3 161.9 L113.6 161.3 L113.7 160.9 L113.9 160.5 L114.1 159.9 L114.2 159.6 L114.5 158.9 L114.6 158.6 L114.8 157.9 L114.9 157.6 L115.1 156.9 L115.3 156.5 L115.4 155.9 L115.6 155.3 L115.7 154.9 L115.9 154.2 L116 153.9 L116.1 153.2 L116.3 152.5 L116.4 152.2 L116.5 151.5 L116.6 150.8 L116.7 150.5 L116.8 149.8 L116.9 149.1 L117 148.6 L117 148.1 L117.1 147.5 L117.2 146.8 L117.3 146.1 L117.3 145.5 L117.3 145.1 L117.4 144.4 L117.4 143.8 L117.5 143.1 L117.5 142.4 L117.5 141.8 L117.5 141.1 L117.5 140.4 L117.5 139.7 L117.5 139.1 L117.4 138.4 L117.4 137.7 L117.4 137 L117.3 136.6 L117.3 136 L117.2 135.4 L117.1 134.7 L117.1 134 L117 133.5 L116.9 133 L116.8 132.3 L116.7 131.7 L116.6 131.3 L116.5 130.7 L116.4 130 L116.3 129.5 L116.2 129 L116 128.3 L115.9 128 L115.8 127.3 L115.6 126.7 L115.5 126.3 L115.3 125.6 L115.2 125.3 L115 124.6 L114.9 124.3 L114.7 123.6 L114.6 123.3 L114.3 122.6 L114.2 122.3 L113.9 121.6 L113.8 121.2 L113.6 120.6 L113.4 120.2 L113.2 119.8 L113 119.2 L112.8 118.9 L112.5 118.3 L112.3 117.9 L112.2 117.5 L111.8 116.9 L111.7 116.5 L111.5 116.2 L111.2 115.6 L110.9 115.2 L110.7 114.9 L110.5 114.4 L110.1 113.9 L109.9 113.5 L109.7 113.2 L109.4 112.8 L109.1 112.3 L108.8 111.8 L108.6 111.5 L108.3 111.2 L108.1 110.8 L107.7 110.4 L107.4 109.9 L107 109.5 L106.7 109.1 L106.5 108.8 L106.2 108.5 L105.9 108.1 L105.6 107.8 L105.2 107.5 L104.9 107.1 L104.6 106.8 L104.3 106.5 L103.9 106.1 L103.5 105.8 L103.2 105.4 L102.8 105.1 L102.4 104.8 L102 104.4 L101.6 104.1 L101.2 103.8 L100.9 103.6 L100.5 103.3 L100.2 103.1 L99.7 102.8 L99.2 102.4 L98.8 102.2 L98.5 102 L98.1 101.7 L97.5 101.4 L97.1 101.2 L96.8 101 L96.2 100.7 L95.7 100.5 L95.4 100.4 L94.7 100.1 L94.4 99.9 L93.9 99.7 L93.3 99.6 L92.9 99.4 L92.3 99.2 L91.8 99.1 L91.3 98.9 L90.6 98.8 L90.3 98.7 L89.6 98.6 L88.9 98.5 L88.2 98.4 L87.9 98.3 L87.2 98.3 L86.5 98.3 L85.8 98.3 L85.1 98.3 L84.4 98.3 L83.8 98.4"/><path d="M142.1 13 L142.4 13.3 L142.8 13.7 L143.1 14 L143.5 14.3 L143.8 14.7 L144.1 15 L144.5 15.4 L144.8 15.7 L145.1 16 L145.5 16.4 L145.8 16.7 L146.1 17 L146.4 17.4 L146.8 17.7 L147.1 18.1 L147.5 18.4 L147.8 18.8 L148.1 19.2 L148.5 19.5 L148.8 19.9 L149.2 20.2 L149.5 20.6 L149.9 21 L150.2 21.4 L150.5 21.7 L150.9 22.1 L151.2 22.4 L151.5 22.7 L151.8 23.1 L152.1 23.4 L152.4 23.8 L152.7 24.1 L153 24.4 L153.3 24.8 L153.6 25.2 L154 25.5 L154.3 25.9 L154.7 26.3 L155 26.7 L155.3 27.1 L155.6 27.5 L155.9 27.8 L156.2 28.1 L156.5 28.5 L156.8 28.8 L157 29.2 L157.4 29.6 L157.7 30 L158.1 30.4 L158.4 30.8 L158.7 31.2 L159 31.5 L159.2 31.8 L159.5 32.2 L159.8 32.5 L160.1 32.9 L160.5 33.4 L160.8 33.8 L161.1 34.2 L161.4 34.5"/><path d="M161.5 274.5 L161.5 274.5 L161.4 274.9 L161.3 275.2 L161.2 275.5 L161.2 275.7 L161.1 275.9 L161 276.2 L160.9 276.6 L160.8 276.9 L160.8 276.9 L160.7 277.2 L160.6 277.6 L160.5 277.9 L160.5 278.1 L160.4 278.2 L160.3 278.6 L160.2 278.9 L160.1 279.2 L160.1 279.3 L160 279.6 L159.9 279.9 L159.8 280.3 L159.8 280.5 L159.7 280.6 L159.6 280.9 L159.5 281.3 L159.4 281.6 L159.4 281.6"/><path d="M80.7 91 L80.3 91 L79.6 91.1 L79 91.3 L78.6 91.3 L77.9 91.5 L77.2 91.7 L76.9 91.8 L76.2 92 L75.9 92.1 L75.2 92.3 L74.9 92.5 L74.4 92.7 L73.8 92.9 L73.5 93.1 L73 93.3 L72.5 93.6 L72.1 93.8 L71.8 94 L71.2 94.4 L70.7 94.7 L70.4 94.9 L70.1 95.2 L69.7 95.4 L69.4 95.7 L69 96 L68.6 96.4 L68.2 96.7 L67.8 97 L67.5 97.4 L67.1 97.7 L66.8 98.1 L66.5 98.4 L66.2 98.7 L65.9 99.1 L65.6 99.4 L65.3 99.9 L64.9 100.3 L64.6 100.7 L64.4 101.1 L64.1 101.4 L63.9 101.8 L63.6 102.3 L63.3 102.8 L63.1 103.1 L62.9 103.4 L62.5 104.1 L62.3 104.4 L62.1 104.8 L61.8 105.4 L61.6 105.8 L61.5 106.1 L61.2 106.8 L61 107.1 L60.8 107.6 L60.6 108.1 L60.5 108.5 L60.2 109.1 L60.1 109.5 L59.8 110.2 L59.7 110.5 L59.5 111.2 L59.4 111.5 L59.2 112.2 L59.1 112.5 L58.9 113.2 L58.8 113.7 L58.6 114.2 L58.4 114.9 L58.4 115.2 L58.2 115.9 L58.1 116.5 L58 116.9 L57.9 117.5 L57.7 118.2 L57.7 118.6 L57.5 119.2 L57.4 119.9 L57.4 120.2 L57.3 120.9 L57.2 121.6 L57.1 122.3 L57 122.7 L57 123.3 L56.9 123.9 L56.8 124.6 L56.8 125.3 L56.7 126 L56.7 126.4 L56.7 127 L56.6 127.6 L56.6 128.3 L56.6 129 L56.5 129.7 L56.5 130.3 L56.5 131 L56.5 131.7 L56.5 132.3 L56.5 133 L56.5 133.7 L56.5 134.4 L56.5 135 L56.6 135.7 L56.6 136.4 L56.6 137 L56.6 137.7 L56.7 138.4 L56.7 138.7 L56.8 139.4 L56.8 140.1 L56.9 140.7 L56.9 141.4 L57 142.1 L57 142.6 L57.1 143.1 L57.2 143.8 L57.3 144.4 L57.3 145.1 L57.4 145.5 L57.5 146.1 L57.6 146.8 L57.7 147.5 L57.7 147.8 L57.9 148.5 L58 149.1 L58.1 149.7 L58.2 150.2 L58.3 150.8 L58.4 151.5 L58.5 151.8 L58.6 152.5 L58.8 153.2 L58.8 153.5 L59 154.2 L59.1 154.7 L59.2 155.2 L59.4 155.9 L59.5 156.2 L59.6 156.9 L59.8 157.4 L59.9 157.9 L60.1 158.6 L60.2 158.9 L60.4 159.6 L60.5 159.9 L60.7 160.6 L60.8 161 L61 161.6 L61.2 162.1 L61.3 162.6 L61.5 163.1 L61.7 163.6 L61.8 164.1 L62 164.6 L62.2 165 L62.4 165.6 L62.5 166 L62.8 166.6 L62.9 167 L63.2 167.6 L63.3 168 L63.6 168.5 L63.8 169 L63.9 169.3 L64.2 170 L64.4 170.3 L64.6 170.8 L64.8 171.3 L65 171.7 L65.3 172.2 L65.5 172.7 L65.7 173 L65.9 173.5 L66.2 174 L66.4 174.4 L66.6 174.8 L67 175.4 L67.2 175.7 L67.4 176 L67.7 176.5 L68 177.1 L68.2 177.4 L68.4 177.7 L68.7 178.1 L69 178.6 L69.3 179.1 L69.6 179.4 L69.8 179.7 L70.1 180.1 L70.4 180.5 L70.7 180.9 L71.1 181.3 L71.4 181.7 L71.7 182.1 L72 182.4 L72.3 182.8 L72.7 183.1 L73 183.4 L73.3 183.8 L73.7 184.1 L74 184.4 L74.4 184.8 L74.8 185.1 L75.2 185.5 L75.5 185.7 L75.9 186 L76.2 186.3 L76.6 186.5 L77 186.8 L77.5 187.1 L77.9 187.4 L78.3 187.6 L78.6 187.8 L79.2 188.1 L79.6 188.3 L80 188.5 L80.7 188.8 L81 188.9 L81.6 189.2 L82 189.3 L82.7 189.5 L83.1 189.6 L83.8 189.8 L84.1 189.8 L84.8 189.9 L85.5 190 L86.2 190.1 L86.8 190.1 L87.5 190.2 L88.2 190.1 L88.9 190.1 L89.6 190 L90.3 190 L90.9 189.8 L91.3 189.8 L92 189.6 L92.5 189.5 L93 189.4 L93.7 189.2 L94 189 L94.7 188.8 L95.1 188.7 L95.5 188.5 L96.1 188.2 L96.4 188.1 L97 187.8 L97.5 187.6 L97.8 187.4 L98.3 187.1 L98.8 186.9 L99.2 186.7 L99.5 186.5 L100 186.1 L100.5 185.8 L100.9 185.6 L101.2 185.3 L101.6 185.1 L102 184.8 L102.4 184.4 L102.9 184.1 L103.3 183.8 L103.6 183.5 L104 183.2 L104.3 182.9 L104.6 182.6 L105 182.3 L105.3 182 L105.7 181.7 L106 181.4 L106.4 181 L106.7 180.7 L107 180.3 L107.4 180 L107.7 179.6 L108.1 179.2 L108.4 178.8 L108.8 178.4 L109.1 178.1 L109.4 177.7 L109.6 177.4 L109.9 177.1 L110.2 176.7 L110.5 176.3 L110.8 175.9 L111.2 175.4 L111.4 175 L111.7 174.7 L111.9 174.4 L112.2 173.9 L112.5 173.4 L112.8 173 L113 172.7 L113.2 172.3 L113.6 171.8 L113.8 171.3 L114 171 L114.2 170.6 L114.6 170 L114.8 169.7 L115 169.3 L115.3 168.7 L115.5 168.3 L115.7 168 L115.9 167.4 L116.1 167 L116.3 166.6 L116.6 166 L116.8 165.6 L117 165.1 L117.2 164.6 L117.3 164.3 L117.6 163.6 L117.7 163.3 L118 162.6 L118.1 162.3 L118.3 161.7 L118.5 161.3 L118.7 160.7 L118.8 160.2 L119 159.6 L119.2 159.2 L119.4 158.6 L119.5 158.2 L119.6 157.6 L119.7 157.2 L119.9 156.5 L120.1 155.9 L120.2 155.5 L120.3 154.9 L120.4 154.5 L120.5 153.9 L120.7 153.2 L120.7 152.8 L120.9 152.2 L121 151.5 L121.1 150.8 L121.1 150.5 L121.2 149.8 L121.3 149.1 L121.4 148.5 L121.4 148.1 L121.5 147.5 L121.6 146.8 L121.6 146.1 L121.7 145.5 L121.7 144.8 L121.8 144.1 L121.8 143.8 L121.8 143.1 L121.8 142.4 L121.8 141.8 L121.8 141.1 L121.8 140.4 L121.8 139.7 L121.8 139.1 L121.8 138.6 L121.7 138.1 L121.7 137.4 L121.7 136.7 L121.6 136 L121.6 135.4 L121.5 134.7 L121.4 134.1 L121.4 133.7 L121.3 133 L121.2 132.3 L121.1 131.7 L121.1 131.3 L121 130.7 L120.8 130 L120.7 129.5 L120.7 129 L120.5 128.3 L120.4 127.8 L120.3 127.3 L120.1 126.6 L120.1 126.2 L119.9 125.6 L119.7 124.9 L119.6 124.6 L119.5 123.9 L119.4 123.6 L119.2 122.9 L119 122.5 L118.9 121.9 L118.7 121.4 L118.5 120.9 L118.3 120.4 L118.2 119.9 L118 119.4 L117.8 118.9 L117.7 118.5 L117.4 117.9 L117.3 117.5 L117 116.9 L116.9 116.5 L116.6 116 L116.4 115.5 L116.3 115.2 L115.9 114.5 L115.8 114.2 L115.6 113.8 L115.3 113.2 L115.1 112.8 L114.9 112.5 L114.6 111.9 L114.4 111.5 L114.2 111.2 L113.9 110.6 L113.6 110.2 L113.4 109.8 L113.2 109.5 L112.9 109 L112.6 108.5 L112.3 108.1 L112.1 107.8 L111.8 107.4 L111.5 106.9 L111.2 106.5 L110.9 106.1 L110.7 105.8 L110.4 105.4 L110.1 105.1 L109.8 104.6 L109.4 104.2 L109.1 103.8 L108.8 103.4 L108.5 103.1 L108.2 102.8 L107.9 102.4 L107.6 102.1 L107.2 101.7 L106.9 101.4 L106.6 101.1 L106.2 100.7 L105.9 100.4 L105.5 100.1 L105.2 99.7 L104.8 99.4 L104.4 99.1 L104 98.7 L103.6 98.4 L103.3 98.1 L102.9 97.9 L102.6 97.6 L102.3 97.3 L101.8 97 L101.4 96.7 L100.9 96.4 L100.5 96.1 L100.2 95.9 L99.8 95.7 L99.3 95.4 L98.8 95.1 L98.5 94.9 L98.1 94.7 L97.5 94.4 L97.1 94.2 L96.8 94 L96.1 93.7 L95.7 93.5 L95.4 93.3 L94.7 93.1 L94.4 92.9 L93.7 92.7 L93.3 92.5 L92.8 92.3 L92.3 92.2 L91.7 92 L91.3 91.9 L90.6 91.7 L90.3 91.6 L89.6 91.5 L89 91.3 L88.6 91.2 L87.9 91.1 L87.2 91 L86.8 91 L86.2 90.9 L85.5 90.9 L84.8 90.8 L84.1 90.8 L83.4 90.8 L82.7 90.8 L82 90.9 L81.4 90.9 L80.7 91"/><path d="M140 13 L140.3 13.3 L140.7 13.7 L141 14 L141.4 14.3 L141.7 14.7 L142 15 L142.4 15.4 L142.7 15.7 L143.1 16 L143.4 16.4 L143.7 16.7 L144.1 17 L144.4 17.4 L144.7 17.7 L145.1 18 L145.4 18.4 L145.7 18.7 L146.1 19.1 L146.4 19.5 L146.8 19.8 L147.1 20.2 L147.5 20.5 L147.8 20.9 L148.1 21.3 L148.5 21.6 L148.8 22 L149.2 22.4 L149.5 22.7 L149.8 23.1 L150.2 23.4 L150.5 23.8 L150.8 24.1 L151.1 24.4 L151.4 24.8 L151.7 25.1 L152 25.4 L152.3 25.8 L152.6 26.1 L152.9 26.5 L153.3 26.9 L153.6 27.3 L154 27.7 L154.3 28.1 L154.6 28.5 L154.9 28.8 L155.2 29.1 L155.5 29.5 L155.8 29.8 L156.1 30.1 L156.4 30.5 L156.7 30.9 L157 31.3 L157.4 31.7 L157.7 32.1 L158 32.5 L158.3 32.8 L158.6 33.2 L158.8 33.5 L159.1 33.8 L159.4 34.3 L159.8 34.7 L160.1 35.1 L160.4 35.5 L160.7 35.9 L161 36.2 L161.2 36.5 L161.5 36.9"/><path d="M161.5 271.2 L161.4 271.5 L161.3 271.9 L161.2 272.2 L161.2 272.5 L161.2 272.5 L161.1 272.9 L161 273.2 L160.9 273.5 L160.8 273.8 L160.8 273.9 L160.7 274.2 L160.6 274.5 L160.5 274.9 L160.5 275.1 L160.4 275.2 L160.3 275.5 L160.2 275.9 L160.1 276.2 L160.1 276.3 L160.1 276.6 L160 276.9 L159.9 277.2 L159.8 277.5 L159.8 277.6 L159.7 277.9 L159.6 278.2 L159.5 278.6 L159.4 278.7 L159.4 278.9 L159.3 279.2 L159.2 279.6 L159.1 279.8 L159.1 279.9 L159 280.3 L158.9 280.6 L158.8 280.9 L158.8 280.9 L158.7 281.3 L158.6 281.6"/><path d="M76.9 83.2 L76.6 83.3 L75.9 83.4 L75.2 83.5 L74.8 83.6 L74.2 83.7 L73.5 83.9 L73.1 84 L72.5 84.2 L72.1 84.3 L71.4 84.6 L71.1 84.7 L70.5 84.9 L70.1 85.1 L69.7 85.3 L69 85.6 L68.7 85.8 L68.3 85.9 L67.7 86.3 L67.3 86.5 L67 86.7 L66.6 87 L66.1 87.3 L65.7 87.6 L65.3 87.9 L64.9 88.2 L64.6 88.5 L64.2 88.7 L63.9 89 L63.6 89.4 L63.2 89.7 L62.9 90 L62.5 90.3 L62.2 90.7 L61.8 91.1 L61.5 91.5 L61.2 91.9 L60.8 92.3 L60.5 92.7 L60.2 93 L60 93.3 L59.7 93.7 L59.4 94.1 L59.1 94.6 L58.8 95 L58.6 95.4 L58.4 95.7 L58.1 96.3 L57.8 96.7 L57.6 97 L57.4 97.5 L57.1 98.1 L56.9 98.4 L56.7 98.8 L56.4 99.4 L56.3 99.7 L56 100.3 L55.8 100.7 L55.7 101.1 L55.4 101.7 L55.3 102.1 L55 102.8 L54.9 103.1 L54.6 103.8 L54.5 104.1 L54.3 104.8 L54.2 105.1 L54 105.8 L53.9 106.1 L53.7 106.8 L53.6 107.1 L53.4 107.8 L53.3 108.3 L53.1 108.8 L53 109.5 L52.9 109.8 L52.7 110.5 L52.6 111.1 L52.5 111.5 L52.4 112.2 L52.2 112.8 L52.2 113.2 L52.1 113.9 L51.9 114.5 L51.9 114.9 L51.8 115.5 L51.7 116.2 L51.6 116.9 L51.5 117.2 L51.4 117.9 L51.4 118.6 L51.3 119.2 L51.2 119.9 L51.2 120.2 L51.1 120.9 L51.1 121.6 L51 122.3 L51 122.9 L50.9 123.6 L50.9 124.1 L50.9 124.6 L50.8 125.3 L50.8 126 L50.8 126.6 L50.7 127.3 L50.7 128 L50.7 128.6 L50.7 129.3 L50.7 130 L50.7 130.7 L50.7 131.3 L50.7 132 L50.7 132.7 L50.7 133.3 L50.8 134 L50.8 134.7 L50.8 135.4 L50.8 136 L50.9 136.6 L50.9 137 L50.9 137.7 L51 138.4 L51 139.1 L51.1 139.7 L51.2 140.4 L51.2 141.1 L51.2 141.4 L51.3 142.1 L51.4 142.8 L51.5 143.4 L51.5 144.1 L51.6 144.4 L51.7 145.1 L51.7 145.8 L51.8 146.5 L51.9 146.9 L52 147.5 L52.1 148.1 L52.2 148.8 L52.2 149.2 L52.4 149.8 L52.5 150.5 L52.6 151.2 L52.6 151.5 L52.8 152.2 L52.9 152.8 L53 153.2 L53.1 153.9 L53.2 154.5 L53.3 154.9 L53.4 155.5 L53.6 156.2 L53.7 156.5 L53.8 157.2 L54 157.8 L54.1 158.2 L54.2 158.9 L54.3 159.2 L54.5 159.9 L54.6 160.5 L54.7 160.9 L54.9 161.6 L55 161.9 L55.2 162.6 L55.3 163 L55.5 163.6 L55.7 164.2 L55.8 164.6 L56 165.3 L56.1 165.6 L56.3 166.3 L56.4 166.6 L56.7 167.3 L56.8 167.6 L57 168.3 L57.1 168.6 L57.4 169.3 L57.5 169.7 L57.7 170.3 L57.9 170.7 L58.1 171.2 L58.2 171.7 L58.4 172.1 L58.6 172.7 L58.8 173 L59.1 173.7 L59.2 174 L59.4 174.6 L59.6 175 L59.8 175.4 L60.1 176 L60.2 176.4 L60.5 176.9 L60.7 177.4 L60.9 177.7 L61.2 178.3 L61.4 178.7 L61.5 179.1 L61.8 179.7 L62.1 180.1 L62.2 180.4 L62.5 180.9 L62.8 181.4 L63 181.8 L63.2 182.1 L63.6 182.7 L63.8 183.1 L64 183.4 L64.2 183.8 L64.6 184.4 L64.8 184.8 L65.1 185.1 L65.3 185.5 L65.6 185.9 L65.9 186.4 L66.2 186.8 L66.5 187.1 L66.7 187.5 L67 187.8 L67.3 188.2 L67.7 188.7 L68 189.1 L68.3 189.5 L68.7 189.8 L69 190.2 L69.3 190.5 L69.6 190.8 L69.9 191.2 L70.3 191.5 L70.6 191.8 L71 192.2 L71.3 192.5 L71.7 192.9 L72.1 193.2 L72.5 193.5 L72.8 193.7 L73.1 194 L73.5 194.3 L73.9 194.5 L74.4 194.9 L74.9 195.2 L75.2 195.4 L75.5 195.6 L76 195.9 L76.6 196.2 L76.9 196.3 L77.4 196.5 L77.9 196.8 L78.3 196.9 L79 197.2 L79.3 197.3 L80 197.5 L80.3 197.6 L81 197.8 L81.4 197.9 L82 198 L82.7 198.1 L83.4 198.2 L83.8 198.3 L84.4 198.3 L85.1 198.3 L85.8 198.3 L86.5 198.3 L87.2 198.3 L87.6 198.2 L88.2 198.2 L88.9 198.1 L89.6 197.9 L89.9 197.9 L90.6 197.7 L91.3 197.6 L91.6 197.5 L92.3 197.3 L92.7 197.1 L93.3 196.9 L93.7 196.8 L94.3 196.5 L94.7 196.4 L95.1 196.2 L95.7 195.9 L96.1 195.8 L96.6 195.5 L97.1 195.3 L97.5 195.1 L97.9 194.9 L98.5 194.5 L98.8 194.3 L99.2 194.1 L99.6 193.9 L100.2 193.5 L100.5 193.3 L100.9 193.1 L101.2 192.8 L101.7 192.5 L102.1 192.2 L102.6 191.9 L102.9 191.6 L103.3 191.3 L103.6 191.1 L104 190.8 L104.3 190.5 L104.7 190.2 L105.1 189.8 L105.5 189.5 L105.9 189.2 L106.3 188.8 L106.6 188.5 L107 188.1 L107.4 187.8 L107.7 187.5 L108 187.1 L108.4 186.8 L108.7 186.5 L109 186.1 L109.3 185.8 L109.7 185.5 L110 185.1 L110.3 184.8 L110.6 184.4 L110.9 184.1 L111.2 183.8 L111.5 183.3 L111.8 182.9 L112.2 182.5 L112.5 182.1 L112.8 181.8 L113 181.4 L113.3 181.1 L113.6 180.7 L113.9 180.3 L114.2 179.8 L114.5 179.4 L114.7 179.1 L115 178.7 L115.3 178.3 L115.6 177.8 L115.9 177.4 L116.1 177.1 L116.3 176.7 L116.6 176.2 L116.9 175.7 L117.1 175.4 L117.3 175 L117.7 174.4 L117.9 174 L118.1 173.7 L118.3 173.2 L118.6 172.7 L118.8 172.3 L119 171.9 L119.3 171.3 L119.5 171 L119.7 170.5 L120 170 L120.1 169.7 L120.4 169 L120.6 168.6 L120.7 168.3 L121 167.6 L121.2 167.3 L121.4 166.6 L121.6 166.3 L121.8 165.8 L122 165.3 L122.1 164.9 L122.3 164.3 L122.5 163.9 L122.7 163.3 L122.8 162.9 L123 162.3 L123.1 161.8 L123.3 161.3 L123.5 160.7 L123.6 160.2 L123.8 159.6 L123.9 159.2 L124.1 158.6 L124.2 158.2 L124.3 157.6 L124.5 156.9 L124.6 156.5 L124.7 155.9 L124.9 155.2 L124.9 154.9 L125 154.2 L125.2 153.5 L125.2 153.2 L125.3 152.5 L125.4 151.8 L125.5 151.2 L125.6 150.8 L125.7 150.2 L125.8 149.5 L125.8 148.8 L125.9 148.3 L125.9 147.8 L126 147.1 L126 146.5 L126.1 145.8 L126.1 145.1 L126.2 144.4 L126.2 143.8 L126.2 143.1 L126.2 142.4 L126.2 141.8 L126.2 141.1 L126.2 140.4 L126.2 139.7 L126.2 139.1 L126.2 138.4 L126.1 137.7 L126.1 137 L126 136.4 L126 135.7 L125.9 135 L125.9 134.4 L125.8 134 L125.8 133.3 L125.7 132.7 L125.6 132 L125.5 131.5 L125.5 131 L125.4 130.3 L125.3 129.7 L125.2 129.3 L125.1 128.6 L125 128 L124.9 127.4 L124.8 127 L124.6 126.3 L124.5 125.7 L124.4 125.3 L124.3 124.6 L124.2 124.3 L124 123.6 L123.8 122.9 L123.7 122.6 L123.6 121.9 L123.5 121.6 L123.3 120.9 L123.1 120.5 L123 119.9 L122.8 119.4 L122.6 118.9 L122.5 118.3 L122.3 117.9 L122.1 117.3 L122 116.9 L121.8 116.4 L121.6 115.9 L121.4 115.5 L121.2 114.9 L121.1 114.5 L120.8 113.9 L120.6 113.5 L120.4 113 L120.2 112.5 L120.1 112.2 L119.7 111.5 L119.6 111.2 L119.4 110.7 L119.1 110.2 L118.9 109.8 L118.7 109.3 L118.4 108.8 L118.2 108.5 L118 108 L117.7 107.5 L117.5 107.1 L117.3 106.8 L117 106.2 L116.7 105.8 L116.5 105.4 L116.3 105.1 L115.9 104.5 L115.7 104.1 L115.5 103.8 L115.2 103.4 L114.9 102.9 L114.6 102.4 L114.3 102.1 L114.1 101.7 L113.8 101.4 L113.6 101 L113.2 100.6 L112.9 100.1 L112.6 99.7 L112.3 99.4 L112 99.1 L111.7 98.7 L111.5 98.4 L111.2 98 L110.8 97.6 L110.5 97.3 L110.1 96.9 L109.8 96.5 L109.4 96.2 L109.1 95.8 L108.8 95.5 L108.4 95.1 L108.1 94.8 L107.7 94.5 L107.4 94.1 L107 93.8 L106.7 93.5 L106.4 93.2 L106 92.9 L105.7 92.6 L105.3 92.3 L104.9 92 L104.5 91.7 L104.1 91.3 L103.6 91 L103.3 90.7 L102.9 90.5 L102.6 90.3 L102.2 90 L101.7 89.6 L101.2 89.3 L100.9 89.1 L100.5 88.9 L100.1 88.6 L99.5 88.3 L99.2 88.1 L98.8 87.9 L98.3 87.6 L97.8 87.3 L97.5 87.2 L97 87 L96.4 86.7 L96.1 86.5 L95.6 86.3 L95.1 86 L94.7 85.9 L94 85.6 L93.7 85.5 L93.1 85.3 L92.7 85.1 L92.2 84.9 L91.6 84.8 L91.2 84.6 L90.6 84.4 L90 84.3 L89.6 84.2 L88.9 84 L88.6 83.9 L87.9 83.7 L87.2 83.6 L86.8 83.5 L86.2 83.4 L85.5 83.3 L85.1 83.3 L84.4 83.2 L83.8 83.1 L83.1 83.1 L82.4 83 L81.7 83 L81 83 L80.3 83 L79.6 83 L79 83 L78.3 83.1 L77.6 83.1 L76.9 83.2"/><path d="M137.8 13 L138.1 13.3 L138.5 13.7 L138.8 14 L139.2 14.3 L139.5 14.7 L139.9 15 L140.2 15.4 L140.6 15.7 L140.9 16 L141.3 16.4 L141.6 16.7 L142 17 L142.3 17.4 L142.6 17.7 L143 18 L143.3 18.4 L143.6 18.7 L144 19.1 L144.3 19.4 L144.6 19.7 L145 20.1 L145.3 20.4 L145.6 20.7 L145.9 21.1 L146.3 21.4 L146.6 21.7 L146.9 22.1 L147.2 22.4 L147.5 22.7 L147.9 23.1 L148.2 23.4 L148.5 23.8 L148.8 24.1 L149.2 24.5 L149.5 24.9 L149.9 25.2 L150.2 25.6 L150.5 26 L150.9 26.4 L151.2 26.7 L151.6 27.1 L151.9 27.5 L152.2 27.8 L152.5 28.1 L152.8 28.5 L153.1 28.8 L153.4 29.1 L153.6 29.5 L154 29.8 L154.3 30.2 L154.7 30.6 L155 31 L155.3 31.4 L155.7 31.8 L155.9 32.2 L156.2 32.5 L156.5 32.8 L156.8 33.2 L157.1 33.5 L157.4 33.9 L157.7 34.3 L158.1 34.8 L158.4 35.2 L158.7 35.5 L159 35.9 L159.2 36.2 L159.5 36.5 L159.8 36.9 L160.1 37.4 L160.5 37.8 L160.8 38.2 L161 38.5 L161.3 38.9"/><path d="M161.5 267.8 L161.4 268.2 L161.2 268.8 L161.2 269.2 L161 269.8 L160.8 270.5 L160.7 270.8 L160.6 271.5 L160.5 271.9 L160.3 272.5 L160.1 273.2 L160 273.5 L159.8 274.2 L159.8 274.5 L159.6 275.2 L159.4 275.7 L159.3 276.2 L159.1 276.9 L159 277.2 L158.8 277.9 L158.7 278.2 L158.5 278.9 L158.4 279.2 L158.2 279.9 L158.1 280.3 L157.9 280.9 L157.7 281.5"/><path d="M75.2 75.8 L74.9 75.9 L74.2 75.9 L73.5 76 L72.8 76.1 L72.1 76.2 L71.8 76.2 L71.1 76.4 L70.4 76.5 L70.1 76.6 L69.4 76.8 L69 76.9 L68.3 77.1 L67.9 77.2 L67.3 77.4 L67 77.5 L66.3 77.8 L65.9 78 L65.4 78.2 L64.9 78.4 L64.6 78.6 L64 78.9 L63.6 79.2 L63.2 79.4 L62.9 79.6 L62.3 79.9 L61.8 80.2 L61.5 80.5 L61.2 80.7 L60.8 81 L60.5 81.3 L60.1 81.6 L59.7 81.9 L59.3 82.3 L59 82.6 L58.6 82.9 L58.3 83.3 L58 83.6 L57.7 83.9 L57.4 84.3 L57 84.6 L56.7 85 L56.4 85.5 L56 85.9 L55.7 86.3 L55.5 86.6 L55.3 87 L55 87.4 L54.6 87.9 L54.4 88.3 L54.2 88.6 L54 89 L53.6 89.6 L53.4 90 L53.2 90.3 L52.9 90.8 L52.7 91.3 L52.5 91.7 L52.2 92.2 L52 92.7 L51.9 93 L51.6 93.7 L51.4 94 L51.2 94.5 L51 95 L50.9 95.4 L50.6 96 L50.5 96.4 L50.2 97 L50.1 97.4 L49.9 98.1 L49.8 98.4 L49.6 99.1 L49.5 99.4 L49.2 100.1 L49.1 100.4 L49 101.1 L48.8 101.5 L48.7 102.1 L48.5 102.8 L48.4 103.1 L48.2 103.8 L48.1 104.2 L48 104.8 L47.9 105.4 L47.8 105.8 L47.6 106.5 L47.5 107.1 L47.4 107.5 L47.3 108.1 L47.2 108.8 L47.1 109.3 L47 109.8 L46.9 110.5 L46.8 111.2 L46.8 111.5 L46.7 112.2 L46.6 112.8 L46.5 113.5 L46.4 113.9 L46.4 114.5 L46.3 115.2 L46.2 115.9 L46.1 116.5 L46.1 117 L46 117.5 L46 118.2 L45.9 118.9 L45.9 119.6 L45.8 120.2 L45.8 120.9 L45.7 121.6 L45.7 121.9 L45.7 122.6 L45.7 123.3 L45.6 123.9 L45.6 124.6 L45.6 125.3 L45.6 126 L45.6 126.6 L45.6 127.3 L45.6 128 L45.6 128.6 L45.6 129.3 L45.6 130 L45.6 130.7 L45.6 131.3 L45.6 132 L45.6 132.7 L45.7 133.3 L45.7 134 L45.7 134.7 L45.7 135.3 L45.8 135.7 L45.8 136.4 L45.8 137 L45.9 137.7 L45.9 138.4 L46 139.1 L46 139.7 L46.1 140.3 L46.1 140.7 L46.2 141.4 L46.3 142.1 L46.3 142.8 L46.4 143.4 L46.4 143.8 L46.5 144.4 L46.6 145.1 L46.7 145.8 L46.8 146.5 L46.8 146.8 L46.9 147.5 L47 148.1 L47.1 148.8 L47.1 149.1 L47.2 149.8 L47.3 150.5 L47.5 151.2 L47.5 151.5 L47.6 152.2 L47.7 152.8 L47.8 153.2 L47.9 153.9 L48 154.5 L48.1 155 L48.2 155.5 L48.4 156.2 L48.5 156.7 L48.6 157.2 L48.7 157.9 L48.8 158.4 L48.9 158.9 L49.1 159.6 L49.2 159.9 L49.3 160.6 L49.5 161.3 L49.6 161.6 L49.7 162.3 L49.9 162.7 L50 163.3 L50.2 163.9 L50.2 164.3 L50.4 164.9 L50.5 165.3 L50.7 166 L50.9 166.6 L51 167 L51.2 167.6 L51.3 168 L51.5 168.6 L51.6 169 L51.8 169.7 L51.9 170 L52.1 170.7 L52.2 171.1 L52.4 171.7 L52.6 172.1 L52.8 172.7 L52.9 173.1 L53.1 173.7 L53.3 174.1 L53.5 174.7 L53.6 175 L53.9 175.7 L54 176 L54.2 176.7 L54.4 177.1 L54.6 177.7 L54.8 178.1 L55 178.6 L55.2 179.1 L55.3 179.4 L55.6 180.1 L55.8 180.4 L56 181 L56.2 181.4 L56.4 181.8 L56.7 182.4 L56.8 182.8 L57 183.3 L57.3 183.8 L57.4 184.1 L57.7 184.7 L57.9 185.1 L58.1 185.5 L58.4 186 L58.6 186.5 L58.8 186.8 L59.1 187.3 L59.4 187.8 L59.6 188.1 L59.8 188.5 L60.1 189.1 L60.3 189.5 L60.5 189.8 L60.8 190.3 L61.2 190.8 L61.4 191.2 L61.6 191.5 L61.8 191.9 L62.2 192.4 L62.5 192.9 L62.7 193.2 L63 193.5 L63.2 193.9 L63.6 194.3 L63.9 194.8 L64.2 195.2 L64.5 195.5 L64.8 195.9 L65 196.2 L65.3 196.5 L65.6 196.9 L65.9 197.3 L66.3 197.7 L66.6 198 L67 198.4 L67.3 198.7 L67.7 199.1 L68 199.4 L68.3 199.7 L68.7 200 L69 200.3 L69.4 200.6 L69.8 200.9 L70.2 201.3 L70.6 201.6 L71.1 201.9 L71.4 202.2 L71.8 202.4 L72.1 202.6 L72.6 202.9 L73.1 203.2 L73.5 203.4 L73.8 203.6 L74.5 203.9 L74.9 204.1 L75.3 204.3 L75.9 204.5 L76.2 204.7 L76.9 204.9 L77.2 205 L77.9 205.2 L78.3 205.3 L79 205.5 L79.6 205.6 L80 205.6 L80.7 205.7 L81.4 205.8 L82 205.9 L82.7 205.9 L83.4 205.9 L84.1 205.9 L84.8 205.8 L85.5 205.8 L86.2 205.7 L86.7 205.6 L87.2 205.5 L87.9 205.4 L88.4 205.3 L88.9 205.2 L89.6 205 L89.9 204.9 L90.6 204.7 L90.9 204.6 L91.6 204.4 L92 204.2 L92.7 204 L93 203.8 L93.6 203.6 L94 203.4 L94.4 203.3 L95.1 202.9 L95.4 202.8 L95.8 202.6 L96.4 202.3 L96.8 202.1 L97.1 201.9 L97.7 201.6 L98.1 201.3 L98.5 201.1 L98.8 200.9 L99.4 200.6 L99.9 200.3 L100.2 200 L100.5 199.8 L100.9 199.6 L101.4 199.2 L101.9 198.9 L102.3 198.6 L102.6 198.4 L102.9 198.1 L103.3 197.9 L103.7 197.6 L104.1 197.2 L104.5 196.9 L104.9 196.5 L105.3 196.2 L105.7 195.9 L106 195.6 L106.4 195.3 L106.7 195 L107 194.7 L107.4 194.4 L107.7 194.1 L108.1 193.8 L108.4 193.4 L108.8 193.1 L109.1 192.8 L109.4 192.4 L109.8 192.1 L110.1 191.7 L110.5 191.4 L110.8 191 L111.2 190.6 L111.5 190.3 L111.8 189.9 L112.2 189.5 L112.5 189.2 L112.8 188.8 L113.1 188.5 L113.4 188.1 L113.6 187.8 L113.9 187.5 L114.2 187.1 L114.6 186.6 L114.9 186.2 L115.2 185.8 L115.5 185.5 L115.8 185.1 L116 184.8 L116.3 184.4 L116.6 183.9 L117 183.4 L117.2 183.1 L117.5 182.8 L117.7 182.4 L118 182 L118.3 181.4 L118.6 181.1 L118.8 180.7 L119 180.4 L119.4 179.8 L119.6 179.4 L119.8 179.1 L120.1 178.7 L120.4 178.1 L120.6 177.7 L120.8 177.4 L121.1 176.9 L121.4 176.4 L121.6 176 L121.8 175.6 L122.1 175 L122.3 174.7 L122.5 174.3 L122.8 173.7 L122.9 173.4 L123.1 172.9 L123.4 172.3 L123.6 172 L123.8 171.4 L124 171 L124.2 170.7 L124.5 170 L124.6 169.7 L124.9 169 L125 168.6 L125.2 168.2 L125.4 167.6 L125.5 167.3 L125.8 166.6 L125.9 166.3 L126.1 165.6 L126.2 165.3 L126.5 164.6 L126.6 164.3 L126.8 163.6 L126.9 163.2 L127.1 162.6 L127.3 162.1 L127.4 161.6 L127.6 160.9 L127.7 160.6 L127.8 159.9 L127.9 159.5 L128.1 158.9 L128.3 158.2 L128.3 157.9 L128.5 157.2 L128.6 156.5 L128.7 156.2 L128.8 155.5 L128.9 154.9 L129 154.5 L129.1 153.9 L129.2 153.2 L129.3 152.6 L129.4 152.2 L129.5 151.5 L129.5 150.8 L129.6 150.2 L129.7 149.8 L129.7 149.1 L129.8 148.5 L129.8 147.8 L129.9 147.1 L129.9 146.5 L130 145.8 L130 145.5 L130 144.8 L130 144.1 L130.1 143.4 L130.1 142.8 L130.1 142.1 L130.1 141.4 L130.1 140.7 L130.1 140.1 L130.1 139.4 L130 138.7 L130 138.1 L130 137.7 L129.9 137 L129.9 136.4 L129.9 135.7 L129.8 135 L129.7 134.4 L129.7 133.7 L129.6 133.3 L129.6 132.7 L129.5 132 L129.4 131.3 L129.3 130.7 L129.3 130.3 L129.2 129.7 L129.1 129 L129 128.4 L128.9 128 L128.8 127.3 L128.6 126.6 L128.6 126.3 L128.4 125.6 L128.3 124.9 L128.2 124.6 L128.1 123.9 L127.9 123.3 L127.8 122.9 L127.7 122.3 L127.6 121.9 L127.4 121.2 L127.3 120.6 L127.2 120.2 L127 119.6 L126.9 119.2 L126.7 118.6 L126.6 118.2 L126.4 117.5 L126.2 117.1 L126 116.5 L125.9 116.1 L125.7 115.5 L125.5 115.1 L125.3 114.5 L125.2 114.1 L125 113.5 L124.8 113.2 L124.6 112.5 L124.5 112.2 L124.2 111.5 L124 111.2 L123.8 110.6 L123.6 110.2 L123.5 109.8 L123.2 109.1 L123 108.8 L122.8 108.3 L122.6 107.8 L122.4 107.5 L122.1 106.9 L121.9 106.5 L121.7 106.1 L121.4 105.5 L121.2 105.1 L121 104.8 L120.7 104.2 L120.5 103.8 L120.3 103.4 L120.1 103 L119.7 102.4 L119.5 102.1 L119.3 101.7 L119 101.3 L118.7 100.7 L118.5 100.4 L118.3 100.1 L118 99.7 L117.7 99.1 L117.4 98.7 L117.1 98.4 L116.9 98.1 L116.6 97.7 L116.3 97.2 L115.9 96.7 L115.7 96.4 L115.4 96 L115.2 95.7 L114.9 95.4 L114.6 94.9 L114.2 94.5 L113.9 94.1 L113.6 93.7 L113.3 93.3 L113 93 L112.7 92.7 L112.4 92.3 L112.1 92 L111.7 91.7 L111.4 91.3 L111.1 91 L110.8 90.7 L110.4 90.3 L110.1 90 L109.7 89.6 L109.4 89.3 L109 89 L108.7 88.6 L108.3 88.3 L107.9 88 L107.5 87.6 L107.1 87.3 L106.7 87 L106.4 86.7 L106 86.4 L105.7 86.1 L105.3 85.8 L105 85.6 L104.6 85.3 L104.1 84.9 L103.7 84.6 L103.3 84.3 L102.9 84.1 L102.6 83.9 L102.2 83.6 L101.6 83.3 L101.2 83 L100.9 82.8 L100.5 82.6 L100 82.3 L99.5 82 L99.2 81.8 L98.8 81.6 L98.2 81.2 L97.8 81 L97.5 80.9 L96.9 80.6 L96.4 80.4 L96.1 80.2 L95.4 79.9 L95.1 79.7 L94.7 79.6 L94 79.3 L93.7 79.2 L93 78.9 L92.7 78.7 L92.1 78.6 L91.6 78.4 L91.2 78.2 L90.6 78 L90.2 77.9 L89.6 77.7 L89.1 77.5 L88.6 77.4 L87.9 77.2 L87.5 77.1 L86.8 77 L86.5 76.9 L85.8 76.7 L85.1 76.6 L84.8 76.5 L84.1 76.4 L83.4 76.3 L82.9 76.2 L82.4 76.1 L81.7 76 L81 76 L80.3 75.9 L79.7 75.9 L79.3 75.8 L78.6 75.8 L77.9 75.8 L77.2 75.8 L76.6 75.8 L75.9 75.8 L75.2 75.8"/><path d="M134.9 13 L135.3 13.3 L135.6 13.7 L136 14 L136.4 14.3 L136.7 14.7 L137.1 15 L137.4 15.4 L137.8 15.7 L138.2 16 L138.5 16.4 L138.9 16.7 L139.2 17 L139.6 17.4 L139.9 17.7 L140.3 18 L140.6 18.4 L141 18.7 L141.3 19 L141.6 19.4 L142 19.7 L142.3 20.1 L142.6 20.4 L143 20.7 L143.3 21.1 L143.7 21.4 L144 21.7 L144.3 22.1 L144.6 22.4 L145 22.7 L145.3 23.1 L145.6 23.4 L145.9 23.8 L146.3 24.1 L146.6 24.4 L146.9 24.8 L147.2 25.1 L147.5 25.4 L147.9 25.8 L148.2 26.1 L148.5 26.5 L148.8 26.8 L149.2 27.2 L149.5 27.6 L149.9 27.9 L150.2 28.3 L150.5 28.7 L150.9 29.1 L151.2 29.5 L151.5 29.8 L151.8 30.1 L152.1 30.5 L152.4 30.8 L152.7 31.2 L153 31.5 L153.3 31.8 L153.6 32.2 L154 32.6 L154.3 33 L154.7 33.4 L155 33.8 L155.3 34.2 L155.6 34.5 L155.9 34.9 L156.2 35.2 L156.4 35.5 L156.7 35.9 L157 36.3 L157.4 36.7 L157.7 37.1 L158.1 37.5 L158.3 37.9 L158.6 38.2 L158.9 38.5 L159.1 38.9 L159.4 39.3 L159.8 39.7 L160.1 40.2 L160.4 40.6 L160.7 40.9 L160.9 41.2 L161.2 41.6 L161.5 42"/><path d="M161.5 263.3 L161.4 263.8 L161.2 264.5 L161.2 264.8 L161 265.5 L160.8 266.1 L160.8 266.5 L160.6 267.1 L160.5 267.7 L160.4 268.2 L160.2 268.8 L160.1 269.2 L159.9 269.8 L159.8 270.5 L159.7 270.8 L159.5 271.5 L159.4 271.9 L159.2 272.5 L159.1 273.1 L159 273.5 L158.8 274.2 L158.7 274.5 L158.5 275.2 L158.4 275.6 L158.2 276.2 L158.1 276.8 L157.9 277.2 L157.7 277.9 L157.6 278.2 L157.4 278.9 L157.3 279.2 L157.1 279.9 L157 280.3 L156.8 280.9 L156.7 281.3"/><path d="M70.4 67.1 L70.1 67.1 L69.4 67.2 L68.7 67.2 L68 67.3 L67.3 67.4 L66.7 67.5 L66.3 67.5 L65.6 67.7 L64.9 67.8 L64.6 67.9 L63.9 68 L63.6 68.1 L62.9 68.3 L62.5 68.5 L61.8 68.7 L61.5 68.8 L60.8 69.1 L60.5 69.3 L60 69.5 L59.4 69.8 L59.1 69.9 L58.7 70.1 L58.1 70.5 L57.7 70.7 L57.4 71 L57 71.2 L56.6 71.5 L56.2 71.8 L55.8 72.2 L55.4 72.5 L55 72.8 L54.6 73.1 L54.3 73.5 L54 73.8 L53.6 74.1 L53.3 74.5 L53 74.9 L52.7 75.2 L52.4 75.5 L52.1 75.9 L51.9 76.2 L51.6 76.6 L51.2 77 L50.9 77.5 L50.6 77.9 L50.4 78.2 L50.2 78.6 L49.9 79.1 L49.6 79.6 L49.4 79.9 L49.2 80.2 L48.8 80.9 L48.6 81.2 L48.4 81.6 L48.1 82.2 L47.9 82.6 L47.8 82.9 L47.5 83.6 L47.3 83.9 L47.1 84.4 L46.9 84.9 L46.7 85.3 L46.4 85.9 L46.3 86.3 L46.1 86.9 L45.9 87.3 L45.7 87.8 L45.5 88.3 L45.4 88.7 L45.2 89.3 L45.1 89.7 L44.9 90.3 L44.7 90.8 L44.5 91.3 L44.4 91.9 L44.2 92.3 L44.1 93 L44 93.3 L43.8 94 L43.7 94.4 L43.5 95 L43.3 95.7 L43.3 96 L43.1 96.7 L43 97.1 L42.9 97.7 L42.7 98.4 L42.6 98.7 L42.5 99.4 L42.4 100.1 L42.3 100.4 L42.2 101.1 L42 101.7 L42 102.1 L41.9 102.8 L41.7 103.4 L41.6 104.1 L41.6 104.4 L41.5 105.1 L41.4 105.8 L41.3 106.3 L41.2 106.8 L41.1 107.5 L41 108.1 L41 108.8 L40.9 109.1 L40.8 109.8 L40.8 110.5 L40.7 111.2 L40.6 111.8 L40.6 112.2 L40.5 112.8 L40.5 113.5 L40.4 114.2 L40.4 114.9 L40.3 115.5 L40.3 116.1 L40.2 116.5 L40.2 117.2 L40.1 117.9 L40.1 118.6 L40.1 119.2 L40 119.9 L40 120.6 L40 121.2 L40 121.9 L39.9 122.6 L39.9 123.3 L39.9 123.8 L39.9 124.3 L39.9 124.9 L39.9 125.6 L39.9 126.3 L39.9 127 L39.9 127.6 L39.9 128.3 L39.9 129 L39.9 129.7 L39.9 130 L39.9 130.7 L40 131.3 L40 132 L40 132.7 L40 133.3 L40 134 L40.1 134.7 L40.1 135.4 L40.1 136 L40.2 136.7 L40.2 137.4 L40.3 137.9 L40.3 138.4 L40.3 139.1 L40.4 139.7 L40.4 140.4 L40.5 141.1 L40.6 141.8 L40.6 142.2 L40.7 142.8 L40.7 143.4 L40.8 144.1 L40.9 144.8 L40.9 145.5 L41 145.8 L41.1 146.5 L41.1 147.1 L41.2 147.8 L41.3 148.3 L41.3 148.8 L41.4 149.5 L41.5 150.2 L41.6 150.8 L41.7 151.2 L41.8 151.8 L41.9 152.5 L42 153.1 L42 153.5 L42.2 154.2 L42.3 154.9 L42.3 155.2 L42.4 155.9 L42.6 156.5 L42.7 157.1 L42.7 157.6 L42.9 158.2 L43 158.9 L43.1 159.2 L43.2 159.9 L43.3 160.6 L43.4 160.9 L43.5 161.6 L43.7 162.2 L43.8 162.6 L43.9 163.3 L44 163.8 L44.1 164.3 L44.3 164.9 L44.4 165.3 L44.5 166 L44.7 166.6 L44.8 167 L44.9 167.6 L45.1 168.1 L45.2 168.6 L45.4 169.3 L45.5 169.7 L45.7 170.3 L45.7 170.7 L45.9 171.3 L46.1 171.9 L46.2 172.3 L46.4 173 L46.5 173.4 L46.7 174 L46.8 174.4 L47 175 L47.1 175.4 L47.3 176 L47.5 176.5 L47.6 177.1 L47.8 177.5 L48 178.1 L48.1 178.6 L48.3 179.1 L48.5 179.6 L48.7 180.1 L48.8 180.6 L49 181.1 L49.2 181.5 L49.4 182.1 L49.5 182.5 L49.7 183.1 L49.9 183.4 L50.1 184.1 L50.3 184.4 L50.5 185.1 L50.7 185.5 L50.9 186 L51.1 186.5 L51.2 186.8 L51.5 187.5 L51.6 187.8 L51.9 188.5 L52.1 188.8 L52.2 189.2 L52.5 189.8 L52.7 190.2 L52.9 190.8 L53.1 191.2 L53.3 191.5 L53.6 192.2 L53.8 192.5 L54 192.9 L54.3 193.5 L54.4 193.9 L54.6 194.3 L54.9 194.9 L55.1 195.2 L55.3 195.6 L55.7 196.2 L55.9 196.5 L56 196.9 L56.4 197.5 L56.6 197.9 L56.8 198.2 L57 198.6 L57.4 199.2 L57.6 199.6 L57.8 199.9 L58.1 200.3 L58.4 200.8 L58.7 201.3 L58.9 201.6 L59.2 201.9 L59.4 202.3 L59.8 202.8 L60.1 203.3 L60.4 203.6 L60.6 203.9 L60.9 204.3 L61.2 204.6 L61.5 205.1 L61.8 205.5 L62.2 205.9 L62.5 206.3 L62.8 206.6 L63.1 207 L63.4 207.3 L63.8 207.6 L64.1 208 L64.4 208.3 L64.8 208.7 L65.2 209 L65.5 209.3 L65.9 209.7 L66.3 210 L66.6 210.3 L67 210.5 L67.3 210.8 L67.7 211 L68.1 211.3 L68.6 211.7 L69 212 L69.4 212.2 L69.7 212.4 L70.3 212.7 L70.7 212.9 L71.1 213.1 L71.7 213.4 L72.1 213.5 L72.5 213.7 L73.1 213.9 L73.5 214 L74.2 214.3 L74.6 214.4 L75.2 214.5 L75.9 214.7 L76.2 214.7 L76.9 214.8 L77.6 214.9 L78.3 215 L79 215 L79.6 215 L80.3 215 L81 215 L81.7 214.9 L82.4 214.9 L83.1 214.8 L83.6 214.7 L84.1 214.6 L84.8 214.5 L85.3 214.4 L85.8 214.2 L86.5 214.1 L86.8 214 L87.5 213.8 L87.9 213.7 L88.6 213.4 L88.9 213.3 L89.6 213.1 L89.9 212.9 L90.5 212.7 L90.9 212.5 L91.3 212.3 L92 212.1 L92.3 211.9 L92.8 211.7 L93.3 211.4 L93.7 211.2 L94.1 211 L94.7 210.7 L95.1 210.5 L95.4 210.3 L96 210 L96.4 209.7 L96.8 209.5 L97.1 209.3 L97.7 209 L98.1 208.7 L98.5 208.5 L98.8 208.2 L99.2 208 L99.7 207.6 L100.2 207.3 L100.5 207.1 L100.9 206.8 L101.2 206.6 L101.6 206.3 L102.1 206 L102.5 205.6 L102.9 205.3 L103.3 205.1 L103.6 204.8 L104 204.5 L104.3 204.2 L104.7 203.9 L105.1 203.6 L105.5 203.3 L105.9 202.9 L106.3 202.6 L106.6 202.3 L107 201.9 L107.4 201.6 L107.7 201.3 L108.1 201 L108.4 200.7 L108.8 200.3 L109.1 200 L109.4 199.7 L109.8 199.4 L110.1 199 L110.5 198.7 L110.8 198.3 L111.2 198 L111.5 197.6 L111.8 197.3 L112.2 196.9 L112.5 196.6 L112.8 196.2 L113.2 195.9 L113.5 195.5 L113.8 195.2 L114.1 194.9 L114.4 194.5 L114.7 194.2 L114.9 193.9 L115.3 193.5 L115.6 193.1 L115.9 192.7 L116.3 192.3 L116.6 191.8 L116.9 191.5 L117.2 191.2 L117.4 190.8 L117.7 190.5 L118 190.1 L118.3 189.6 L118.7 189.2 L119 188.8 L119.2 188.5 L119.5 188.1 L119.7 187.8 L120.1 187.3 L120.4 186.8 L120.6 186.5 L120.9 186.1 L121.1 185.8 L121.4 185.3 L121.8 184.8 L122 184.4 L122.2 184.1 L122.5 183.7 L122.8 183.1 L123 182.8 L123.2 182.4 L123.5 182 L123.8 181.4 L124 181.1 L124.2 180.7 L124.5 180.2 L124.8 179.7 L125 179.4 L125.2 179 L125.5 178.4 L125.7 178.1 L125.9 177.7 L126.2 177.1 L126.4 176.7 L126.6 176.3 L126.9 175.7 L127 175.4 L127.3 174.9 L127.5 174.4 L127.7 174 L127.9 173.4 L128.1 173 L128.3 172.6 L128.5 172 L128.7 171.7 L129 171 L129.1 170.7 L129.3 170.1 L129.5 169.7 L129.6 169.2 L129.9 168.6 L130 168.3 L130.2 167.6 L130.3 167.3 L130.6 166.6 L130.7 166.3 L130.9 165.6 L131 165.2 L131.2 164.6 L131.4 164 L131.5 163.6 L131.7 162.9 L131.8 162.6 L131.9 161.9 L132 161.5 L132.2 160.9 L132.4 160.2 L132.4 159.9 L132.6 159.2 L132.7 158.6 L132.8 158.2 L132.9 157.6 L133.1 156.9 L133.1 156.5 L133.3 155.9 L133.4 155.2 L133.4 154.9 L133.5 154.2 L133.6 153.5 L133.7 152.8 L133.8 152.5 L133.9 151.8 L133.9 151.2 L134 150.5 L134.1 149.8 L134.1 149.5 L134.2 148.8 L134.2 148.1 L134.3 147.5 L134.3 146.8 L134.3 146.1 L134.4 145.5 L134.4 144.8 L134.4 144.1 L134.4 143.4 L134.4 142.8 L134.4 142.1 L134.4 141.4 L134.4 140.7 L134.4 140.1 L134.4 139.4 L134.3 138.7 L134.3 138.1 L134.3 137.4 L134.2 136.7 L134.2 136 L134.1 135.4 L134.1 134.9 L134.1 134.4 L134 133.7 L133.9 133 L133.8 132.3 L133.8 131.7 L133.7 131.3 L133.6 130.7 L133.5 130 L133.4 129.3 L133.4 129 L133.3 128.3 L133.2 127.6 L133.1 127 L133 126.6 L132.9 126 L132.8 125.3 L132.7 124.9 L132.6 124.3 L132.4 123.6 L132.3 123.3 L132.2 122.6 L132 122 L132 121.6 L131.8 120.9 L131.7 120.5 L131.5 119.9 L131.4 119.2 L131.3 118.9 L131.1 118.2 L131 117.9 L130.8 117.2 L130.7 116.8 L130.5 116.2 L130.3 115.6 L130.2 115.2 L130 114.6 L129.9 114.2 L129.6 113.5 L129.5 113.2 L129.3 112.5 L129.2 112.2 L129 111.6 L128.8 111.2 L128.6 110.6 L128.4 110.2 L128.3 109.7 L128 109.1 L127.9 108.8 L127.6 108.1 L127.5 107.8 L127.3 107.2 L127.1 106.8 L126.9 106.4 L126.6 105.8 L126.5 105.4 L126.2 104.9 L126 104.4 L125.8 104.1 L125.5 103.5 L125.4 103.1 L125.2 102.8 L124.9 102.1 L124.7 101.7 L124.5 101.4 L124.2 100.8 L124 100.4 L123.8 100.1 L123.5 99.5 L123.2 99.1 L123 98.7 L122.8 98.3 L122.5 97.7 L122.2 97.4 L122 97 L121.8 96.6 L121.4 96.1 L121.2 95.7 L121 95.4 L120.7 95 L120.4 94.5 L120.1 94 L119.9 93.7 L119.6 93.3 L119.4 93 L119 92.5 L118.7 92 L118.4 91.7 L118.2 91.3 L117.9 91 L117.6 90.7 L117.3 90.3 L117 89.8 L116.6 89.4 L116.3 89 L116 88.6 L115.7 88.3 L115.4 88 L115.1 87.6 L114.8 87.3 L114.5 87 L114.2 86.6 L113.9 86.3 L113.6 85.9 L113.2 85.5 L112.9 85.2 L112.5 84.8 L112.2 84.5 L111.8 84.2 L111.5 83.8 L111.2 83.5 L110.8 83.2 L110.5 82.9 L110.1 82.6 L109.8 82.2 L109.4 81.9 L109 81.6 L108.6 81.2 L108.2 80.9 L107.8 80.6 L107.4 80.2 L107 80 L106.7 79.7 L106.4 79.4 L106 79.2 L105.6 78.9 L105.2 78.6 L104.7 78.2 L104.3 77.9 L104 77.7 L103.6 77.5 L103.2 77.2 L102.7 76.9 L102.3 76.6 L101.9 76.3 L101.6 76.1 L101.1 75.9 L100.6 75.5 L100.2 75.3 L99.9 75.1 L99.4 74.9 L98.8 74.5 L98.5 74.4 L98.1 74.2 L97.5 73.8 L97.1 73.6 L96.8 73.5 L96.2 73.2 L95.7 73 L95.4 72.8 L94.8 72.5 L94.4 72.3 L94 72.2 L93.3 71.9 L93 71.7 L92.4 71.5 L92 71.3 L91.6 71.2 L90.9 70.9 L90.6 70.8 L89.9 70.5 L89.6 70.4 L88.9 70.2 L88.6 70.1 L87.9 69.8 L87.5 69.7 L86.8 69.5 L86.5 69.4 L85.8 69.2 L85.5 69.1 L84.8 68.9 L84.3 68.8 L83.8 68.7 L83.1 68.5 L82.7 68.4 L82 68.3 L81.4 68.1 L81 68.1 L80.3 67.9 L79.6 67.8 L79.3 67.8 L78.6 67.6 L77.9 67.5 L77.3 67.5 L76.9 67.4 L76.2 67.3 L75.5 67.3 L74.9 67.2 L74.2 67.2 L73.5 67.1 L73.1 67.1 L72.5 67.1 L71.8 67.1 L71.1 67.1 L70.4 67.1"/><path d="M131.2 13 L131.6 13.3 L132 13.7 L132.3 14 L132.7 14.3 L133.1 14.7 L133.4 15 L133.8 15.3 L134.1 15.6 L134.4 15.9 L134.8 16.2 L135.1 16.5 L135.5 16.8 L135.8 17.1 L136.2 17.5 L136.5 17.8 L136.8 18.1 L137.2 18.4 L137.5 18.7 L137.9 19.1 L138.2 19.4 L138.6 19.7 L138.9 20.1 L139.3 20.4 L139.6 20.7 L140 21.1 L140.3 21.4 L140.7 21.7 L141 22.1 L141.3 22.4 L141.7 22.7 L142 23.1 L142.3 23.4 L142.7 23.8 L143 24.1 L143.3 24.4 L143.7 24.8 L144 25.1 L144.4 25.5 L144.7 25.8 L145.1 26.2 L145.4 26.5 L145.7 26.9 L146.1 27.3 L146.4 27.6 L146.8 28 L147.1 28.3 L147.5 28.7 L147.8 29.1 L148.1 29.4 L148.5 29.8 L148.8 30.1 L149.1 30.5 L149.4 30.8 L149.7 31.2 L150 31.5 L150.3 31.8 L150.6 32.2 L150.9 32.5 L151.2 32.8 L151.6 33.2 L151.9 33.6 L152.3 34 L152.6 34.4 L152.9 34.8 L153.3 35.2 L153.6 35.5 L153.9 35.9 L154.1 36.2 L154.4 36.5 L154.7 36.9 L155 37.2 L155.3 37.6 L155.7 38 L156 38.4 L156.4 38.9 L156.7 39.2 L156.9 39.6 L157.2 39.9 L157.5 40.2 L157.7 40.6 L158.1 41 L158.4 41.4 L158.8 41.9 L159 42.2 L159.3 42.6 L159.6 42.9 L159.8 43.3 L160.1 43.7 L160.5 44.1 L160.8 44.6 L161.1 44.9 L161.3 45.3"/><path d="M161.5 257.3 L161.4 257.7 L161.3 258.4 L161.2 259 L161.1 259.4 L160.9 260.1 L160.8 260.7 L160.7 261.1 L160.6 261.8 L160.5 262.3 L160.4 262.8 L160.2 263.4 L160.1 263.8 L160 264.5 L159.8 265.1 L159.8 265.5 L159.6 266.1 L159.4 266.8 L159.4 267.1 L159.2 267.8 L159.1 268.2 L159 268.8 L158.8 269.5 L158.7 269.8 L158.5 270.5 L158.4 271 L158.3 271.5 L158.1 272.2 L158 272.5 L157.8 273.2 L157.7 273.6 L157.6 274.2 L157.4 274.8 L157.3 275.2 L157.1 275.9 L157 276.2 L156.8 276.9 L156.7 277.2 L156.5 277.9 L156.4 278.3 L156.2 278.9 L156 279.5 L155.9 279.9 L155.7 280.6 L155.6 280.9 L155.3 281.6"/><path d="M65.7 281.6 L65.3 281.3 L64.9 280.9 L64.6 280.6 L64.2 280.3 L63.9 280 L63.6 279.8 L63.2 279.5 L62.9 279.2 L62.5 278.9 L62 278.6 L61.5 278.2 L61.2 278 L60.8 277.7 L60.5 277.5 L60 277.2 L59.5 276.9 L59.1 276.7 L58.8 276.5 L58.3 276.2 L57.7 275.9 L57.4 275.7 L57 275.5 L56.4 275.3 L56 275.1 L55.4 274.9 L55 274.7 L54.5 274.5 L54 274.4 L53.4 274.2 L52.9 274.1 L52.2 273.9 L51.9 273.8 L51.2 273.7 L50.5 273.6 L50.2 273.5 L49.5 273.5 L48.8 273.4 L48.1 273.4 L47.5 273.3 L46.8 273.3 L46.1 273.3 L45.4 273.4 L44.7 273.4 L44 273.5 L43.7 273.5 L43 273.6 L42.3 273.7 L41.6 273.9 L41.3 273.9 L40.6 274.1 L40 274.2 L39.6 274.3 L38.9 274.5 L38.5 274.6 L37.9 274.8 L37.5 274.9 L36.8 275.1 L36.5 275.3 L35.8 275.5 L35.5 275.6 L34.9 275.9 L34.4 276.1 L34.1 276.2 L33.4 276.5 L33.1 276.7 L32.6 276.9 L32 277.2 L31.7 277.3 L31.3 277.6 L30.7 277.9 L30.3 278.1 L30 278.3 L29.5 278.6 L29 278.9 L28.6 279.2 L28.3 279.4 L27.9 279.6 L27.5 279.9 L27 280.3 L26.6 280.6 L26.2 280.9 L25.9 281.2 L25.5 281.4"/><path d="M59.4 56 L59.1 56 L58.4 56.2 L57.7 56.3 L57.4 56.4 L56.7 56.6 L56.3 56.7 L55.7 56.9 L55.3 57 L54.6 57.3 L54.3 57.5 L53.9 57.7 L53.3 58 L52.9 58.3 L52.6 58.5 L52.2 58.7 L51.8 59.1 L51.3 59.4 L50.9 59.7 L50.5 60.1 L50.2 60.4 L49.9 60.7 L49.5 61.1 L49.2 61.4 L48.9 61.7 L48.6 62.1 L48.3 62.4 L48 62.8 L47.8 63.1 L47.5 63.5 L47.1 64 L46.8 64.4 L46.6 64.8 L46.4 65.1 L46.1 65.6 L45.7 66.1 L45.6 66.5 L45.4 66.8 L45.1 67.3 L44.8 67.8 L44.6 68.1 L44.4 68.6 L44.1 69.1 L44 69.5 L43.7 70.1 L43.5 70.5 L43.3 70.8 L43 71.5 L42.9 71.8 L42.7 72.4 L42.5 72.8 L42.3 73.3 L42.1 73.8 L42 74.2 L41.7 74.9 L41.6 75.2 L41.3 75.9 L41.2 76.2 L41 76.9 L40.9 77.2 L40.7 77.9 L40.6 78.2 L40.3 78.9 L40.2 79.2 L40 79.9 L39.9 80.3 L39.7 80.9 L39.6 81.5 L39.5 81.9 L39.3 82.6 L39.2 82.9 L39 83.6 L38.9 84 L38.7 84.6 L38.6 85.3 L38.5 85.6 L38.3 86.3 L38.2 86.8 L38.1 87.3 L38 88 L37.9 88.4 L37.7 89 L37.6 89.6 L37.5 90 L37.4 90.7 L37.3 91.3 L37.2 91.7 L37.1 92.3 L36.9 93 L36.8 93.5 L36.7 94 L36.6 94.7 L36.5 95.4 L36.5 95.7 L36.3 96.4 L36.2 97 L36.2 97.6 L36.1 98.1 L36 98.7 L35.9 99.4 L35.8 99.9 L35.7 100.4 L35.7 101.1 L35.6 101.7 L35.5 102.4 L35.4 102.8 L35.4 103.4 L35.3 104.1 L35.2 104.8 L35.1 105.4 L35.1 105.8 L35 106.5 L34.9 107.1 L34.9 107.8 L34.8 108.5 L34.8 108.9 L34.7 109.5 L34.7 110.2 L34.6 110.8 L34.6 111.5 L34.5 112.2 L34.5 112.8 L34.4 113.2 L34.4 113.9 L34.4 114.5 L34.3 115.2 L34.3 115.9 L34.2 116.5 L34.2 117.2 L34.2 117.9 L34.2 118.6 L34.1 119.2 L34.1 119.9 L34.1 120.2 L34.1 120.9 L34.1 121.6 L34 122.3 L34 122.9 L34 123.6 L34 124.3 L34 124.9 L34 125.6 L34 126.3 L34 127 L34 127.6 L34 128.3 L34 129 L34 129.7 L34 130.3 L34 131 L34.1 131.7 L34.1 132.3 L34.1 133 L34.1 133.3 L34.1 134 L34.1 134.7 L34.2 135.4 L34.2 136 L34.2 136.7 L34.3 137.4 L34.3 138.1 L34.3 138.7 L34.4 139.4 L34.4 140.1 L34.5 140.4 L34.5 141.1 L34.6 141.8 L34.6 142.4 L34.7 143.1 L34.7 143.8 L34.8 144.4 L34.8 144.8 L34.9 145.5 L34.9 146.1 L35 146.8 L35.1 147.5 L35.1 148.1 L35.2 148.5 L35.2 149.1 L35.3 149.8 L35.4 150.5 L35.5 151.1 L35.5 151.5 L35.6 152.2 L35.7 152.8 L35.8 153.5 L35.8 153.9 L35.9 154.5 L36 155.2 L36.1 155.9 L36.2 156.2 L36.3 156.9 L36.4 157.6 L36.5 158.2 L36.5 158.6 L36.6 159.2 L36.7 159.9 L36.8 160.5 L36.9 160.9 L37 161.6 L37.1 162.3 L37.2 162.6 L37.3 163.3 L37.5 163.9 L37.5 164.3 L37.7 164.9 L37.8 165.6 L37.9 166 L38 166.6 L38.1 167.3 L38.2 167.7 L38.3 168.3 L38.5 169 L38.6 169.3 L38.7 170 L38.9 170.7 L38.9 171 L39.1 171.7 L39.2 172.3 L39.3 172.7 L39.5 173.4 L39.6 173.7 L39.7 174.4 L39.9 175 L40 175.4 L40.2 176 L40.3 176.5 L40.4 177.1 L40.6 177.7 L40.7 178.1 L40.9 178.7 L41 179.1 L41.1 179.7 L41.3 180.3 L41.4 180.7 L41.6 181.4 L41.7 181.8 L41.9 182.4 L42 182.8 L42.2 183.4 L42.3 183.8 L42.5 184.4 L42.7 184.9 L42.8 185.5 L43 186 L43.1 186.5 L43.3 187.1 L43.5 187.5 L43.7 188.1 L43.8 188.5 L44 189.2 L44.1 189.5 L44.4 190.2 L44.5 190.5 L44.7 191.1 L44.8 191.5 L45.1 192.1 L45.2 192.5 L45.4 193 L45.6 193.5 L45.7 194 L46 194.5 L46.1 194.9 L46.3 195.5 L46.5 195.9 L46.7 196.5 L46.9 196.9 L47.1 197.5 L47.3 197.9 L47.5 198.4 L47.7 198.9 L47.8 199.2 L48.1 199.9 L48.2 200.2 L48.5 200.8 L48.7 201.3 L48.8 201.6 L49.1 202.3 L49.3 202.6 L49.5 203.1 L49.7 203.6 L49.9 203.9 L50.2 204.6 L50.4 205 L50.5 205.3 L50.9 206 L51 206.3 L51.2 206.7 L51.5 207.3 L51.7 207.6 L51.9 208 L52.2 208.7 L52.4 209 L52.6 209.3 L52.9 209.9 L53.2 210.3 L53.4 210.7 L53.6 211.1 L53.9 211.7 L54.1 212 L54.4 212.3 L54.6 212.8 L55 213.4 L55.2 213.7 L55.4 214 L55.7 214.4 L56 214.9 L56.3 215.4 L56.6 215.7 L56.8 216 L57 216.4 L57.4 216.9 L57.7 217.3 L58.1 217.7 L58.3 218.1 L58.6 218.4 L58.9 218.7 L59.2 219.1 L59.5 219.4 L59.8 219.8 L60.1 220.1 L60.5 220.5 L60.8 220.8 L61.2 221.2 L61.5 221.5 L61.8 221.8 L62.2 222.1 L62.6 222.4 L63 222.8 L63.5 223.1 L63.9 223.4 L64.2 223.7 L64.6 223.9 L64.9 224.1 L65.5 224.5 L65.9 224.7 L66.3 224.9 L66.8 225.1 L67.3 225.3 L67.7 225.5 L68.3 225.7 L68.7 225.9 L69.4 226.1 L69.7 226.2 L70.4 226.3 L71.1 226.4 L71.4 226.5 L72.1 226.6 L72.8 226.6 L73.5 226.7 L74.2 226.7 L74.9 226.7 L75.5 226.6 L76.2 226.6 L76.9 226.5 L77.2 226.4 L77.9 226.3 L78.6 226.2 L79 226.1 L79.6 226 L80.3 225.8 L80.7 225.7 L81.4 225.5 L81.7 225.4 L82.4 225.2 L82.7 225.1 L83.4 224.8 L83.8 224.7 L84.4 224.5 L84.8 224.3 L85.2 224.1 L85.8 223.9 L86.2 223.7 L86.8 223.4 L87.2 223.2 L87.5 223.1 L88.2 222.8 L88.6 222.6 L88.9 222.4 L89.5 222.1 L89.9 221.9 L90.3 221.7 L90.7 221.4 L91.3 221.1 L91.6 220.9 L92 220.7 L92.5 220.4 L93 220.1 L93.3 219.9 L93.7 219.7 L94.1 219.4 L94.6 219.1 L95.1 218.8 L95.4 218.6 L95.7 218.3 L96.2 218.1 L96.7 217.7 L97.1 217.4 L97.5 217.2 L97.8 216.9 L98.1 216.7 L98.6 216.4 L99 216 L99.5 215.7 L99.9 215.4 L100.2 215.2 L100.5 214.9 L100.9 214.7 L101.3 214.4 L101.7 214 L102.1 213.7 L102.5 213.4 L102.9 213 L103.3 212.7 L103.6 212.5 L104 212.2 L104.3 211.9 L104.6 211.6 L105 211.3 L105.3 211 L105.7 210.7 L106.1 210.3 L106.5 210 L106.9 209.7 L107.3 209.3 L107.6 209 L108 208.7 L108.4 208.3 L108.7 208 L109.1 207.6 L109.4 207.3 L109.8 207 L110.1 206.6 L110.5 206.3 L110.8 206 L111.2 205.6 L111.5 205.3 L111.8 205 L112.2 204.6 L112.5 204.3 L112.8 203.9 L113.1 203.6 L113.5 203.3 L113.8 202.9 L114.1 202.6 L114.4 202.3 L114.7 201.9 L115 201.6 L115.3 201.3 L115.6 200.9 L115.9 200.6 L116.3 200.2 L116.6 199.8 L117 199.4 L117.3 199 L117.7 198.6 L118 198.2 L118.2 197.9 L118.5 197.6 L118.8 197.2 L119.1 196.9 L119.4 196.5 L119.7 196.1 L120.1 195.7 L120.4 195.2 L120.7 194.9 L120.9 194.5 L121.2 194.2 L121.5 193.9 L121.8 193.4 L122.1 193 L122.5 192.5 L122.7 192.2 L122.9 191.8 L123.2 191.5 L123.5 191.1 L123.8 190.6 L124.1 190.2 L124.4 189.8 L124.6 189.5 L124.9 189.1 L125.2 188.6 L125.5 188.1 L125.7 187.8 L125.9 187.5 L126.2 187 L126.6 186.5 L126.8 186.1 L127 185.8 L127.3 185.3 L127.6 184.8 L127.8 184.4 L128 184.1 L128.3 183.6 L128.6 183.1 L128.8 182.8 L129 182.4 L129.3 181.8 L129.5 181.4 L129.7 181.1 L130 180.5 L130.2 180.1 L130.4 179.7 L130.7 179.2 L130.9 178.7 L131.1 178.4 L131.4 177.8 L131.6 177.4 L131.7 177.1 L132 176.4 L132.2 176 L132.4 175.6 L132.6 175 L132.8 174.7 L133.1 174 L133.2 173.7 L133.4 173.2 L133.6 172.7 L133.8 172.3 L134 171.7 L134.1 171.3 L134.4 170.7 L134.5 170.3 L134.8 169.7 L134.9 169.3 L135.1 168.6 L135.2 168.3 L135.4 167.6 L135.5 167.3 L135.8 166.6 L135.9 166.3 L136.1 165.6 L136.2 165.3 L136.3 164.6 L136.5 164.1 L136.6 163.6 L136.8 162.9 L136.9 162.6 L137 161.9 L137.2 161.3 L137.3 160.9 L137.4 160.2 L137.5 159.8 L137.6 159.2 L137.8 158.6 L137.9 158 L138 157.6 L138.1 156.9 L138.2 156.2 L138.2 155.9 L138.3 155.2 L138.4 154.5 L138.5 153.9 L138.6 153.5 L138.6 152.8 L138.7 152.2 L138.8 151.5 L138.9 150.8 L138.9 150.3 L138.9 149.8 L139 149.1 L139 148.5 L139.1 147.8 L139.1 147.1 L139.1 146.5 L139.2 145.8 L139.2 145.1 L139.2 144.4 L139.2 143.8 L139.2 143.1 L139.2 142.4 L139.2 141.8 L139.2 141.1 L139.1 140.4 L139.1 139.7 L139.1 139.1 L139.1 138.4 L139 137.7 L139 137 L138.9 136.4 L138.9 135.9 L138.9 135.4 L138.8 134.7 L138.7 134 L138.7 133.3 L138.6 132.7 L138.6 132.3 L138.5 131.7 L138.4 131 L138.3 130.3 L138.2 129.7 L138.2 129.3 L138.1 128.6 L137.9 128 L137.9 127.5 L137.8 127 L137.7 126.3 L137.5 125.6 L137.5 125.3 L137.4 124.6 L137.2 123.9 L137.2 123.6 L137 122.9 L136.9 122.3 L136.8 121.9 L136.6 121.2 L136.5 120.6 L136.4 120.2 L136.2 119.6 L136.2 119.2 L136 118.6 L135.8 117.9 L135.7 117.5 L135.5 116.9 L135.5 116.5 L135.3 115.9 L135.1 115.4 L135 114.9 L134.8 114.2 L134.7 113.9 L134.5 113.2 L134.4 112.8 L134.1 112.2 L134 111.8 L133.8 111.2 L133.7 110.8 L133.5 110.2 L133.4 109.8 L133.1 109.1 L133 108.8 L132.7 108.1 L132.6 107.8 L132.4 107.2 L132.2 106.8 L132 106.3 L131.8 105.8 L131.7 105.4 L131.4 104.8 L131.3 104.4 L131 103.8 L130.9 103.4 L130.7 103 L130.4 102.4 L130.3 102.1 L130 101.5 L129.8 101.1 L129.6 100.7 L129.3 100.1 L129.2 99.7 L129 99.3 L128.7 98.7 L128.5 98.4 L128.3 97.9 L128 97.4 L127.8 97 L127.6 96.6 L127.3 96 L127.1 95.7 L126.9 95.3 L126.6 94.7 L126.4 94.4 L126.2 94 L125.9 93.5 L125.6 93 L125.4 92.7 L125.2 92.3 L124.9 91.8 L124.5 91.3 L124.3 91 L124.1 90.7 L123.8 90.2 L123.5 89.7 L123.2 89.3 L123 89 L122.8 88.6 L122.5 88.2 L122.1 87.7 L121.8 87.3 L121.6 87 L121.3 86.6 L121.1 86.3 L120.7 85.8 L120.4 85.4 L120.1 84.9 L119.8 84.6 L119.5 84.3 L119.3 83.9 L119 83.6 L118.7 83.2 L118.3 82.8 L118 82.4 L117.7 82 L117.3 81.6 L117 81.2 L116.7 80.9 L116.4 80.6 L116 80.2 L115.7 79.9 L115.4 79.6 L115.1 79.2 L114.8 78.9 L114.4 78.6 L114.1 78.2 L113.7 77.9 L113.4 77.5 L113 77.2 L112.7 76.9 L112.3 76.5 L112 76.2 L111.6 75.9 L111.2 75.5 L110.8 75.2 L110.5 74.9 L110.1 74.6 L109.8 74.3 L109.4 74 L109.1 73.8 L108.8 73.5 L108.4 73.2 L107.9 72.8 L107.5 72.5 L107.1 72.2 L106.7 71.9 L106.4 71.6 L106 71.4 L105.7 71.2 L105.2 70.8 L104.7 70.5 L104.3 70.2 L104 70 L103.6 69.7 L103.2 69.5 L102.7 69.1 L102.3 68.9 L101.9 68.6 L101.6 68.4 L101.1 68.1 L100.5 67.8 L100.2 67.6 L99.9 67.4 L99.3 67.1 L98.8 66.8 L98.5 66.6 L98.1 66.5 L97.5 66.1 L97.1 65.9 L96.8 65.7 L96.2 65.4 L95.7 65.2 L95.4 65 L94.9 64.8 L94.4 64.5 L94 64.4 L93.5 64.1 L93 63.9 L92.7 63.7 L92 63.4 L91.6 63.3 L91.3 63.1 L90.6 62.8 L90.3 62.7 L89.7 62.4 L89.2 62.2 L88.9 62.1 L88.2 61.8 L87.9 61.7 L87.2 61.4 L86.8 61.3 L86.3 61.1 L85.8 60.9 L85.3 60.7 L84.8 60.5 L84.4 60.4 L83.8 60.2 L83.4 60.1 L82.7 59.8 L82.4 59.7 L81.7 59.5 L81.4 59.4 L80.7 59.2 L80.3 59.1 L79.6 58.9 L79.2 58.7 L78.6 58.5 L78 58.4 L77.6 58.3 L76.9 58.1 L76.6 58 L75.9 57.8 L75.5 57.7 L74.9 57.5 L74.2 57.4 L73.8 57.3 L73.1 57.1 L72.7 57 L72.1 56.9 L71.4 56.8 L71 56.7 L70.4 56.6 L69.7 56.5 L69.1 56.4 L68.7 56.3 L68 56.2 L67.3 56.1 L66.7 56 L66.3 56 L65.6 55.9 L64.9 55.9 L64.2 55.8 L63.6 55.8 L62.9 55.8 L62.2 55.8 L61.5 55.8 L60.8 55.8 L60.1 55.9 L59.4 56"/></g><g clip-path="url(#solc)"><path d="M81 284.5 L81 283.4 L80.9 282 L80.8 280.5 L80.6 279 L80.5 277.6 L80.4 276.5 L80.3 275 L80.2 273.5 L80.1 272 L80.1 270.5 L80.1 269 L80.1 267.5 L80.2 266 L80.3 264.5 L80.5 263.1 L80.7 262 L80.9 260.5 L81.1 259.5 L81.4 258 L81.7 257 L82 255.9 L82.4 254.5 L82.8 253.5 L83.2 252.5 L83.7 251.5 L84.2 250.5 L84.8 249.5 L85.4 248.5 L86 247.6 L86.5 246.9 L87.1 246 L87.9 245 L88.5 244.3 L89.2 243.5 L90 242.6 L90.5 242 L91.5 241 L92 240.5 L93 239.5 L93.5 239 L94.5 238 L95 237.5 L96 236.6 L96.6 236 L97.5 235.2 L98.3 234.5 L99 233.8 L99.9 233 L100.5 232.5 L101.5 231.5 L102.1 231 L103 230.2 L103.7 229.5 L104.5 228.8 L105.4 228 L106 227.4 L107 226.5 L107.6 226 L108.5 225.1 L109.2 224.5 L110 223.8 L110.8 223 L111.5 222.4 L112.4 221.5 L113 220.9 L114 220 L114.5 219.5 L115.5 218.5 L116 218 L117 217 L117.5 216.5 L118.4 215.5 L119 214.9 L119.8 214 L120.5 213.2 L121.2 212.5 L122 211.5 L122.5 210.9 L123.2 210 L124 209 L124.5 208.4 L125.2 207.5 L125.9 206.5 L126.5 205.7 L127 205 L127.7 204 L128.4 203 L129 202 L129.5 201.3 L130 200.5 L130.6 199.5 L131.2 198.5 L131.8 197.5 L132.5 196.5 L133 195.6 L133.5 194.7 L134 193.9 L134.5 193 L135.1 192 L135.7 191 L136.2 190 L136.8 189 L137.3 188 L137.9 187 L138.4 186 L139 185 L139.5 184 L140 183 L140.5 182 L141 181 L141.5 180 L142 179 L142.4 178 L142.9 177 L143.3 176 L143.7 175 L144.1 174 L144.5 172.9 L145 171.6 L145.4 170.5 L145.7 169.5 L146 168.4 L146.4 167 L146.7 166 L147 164.7 L147.3 163.5 L147.5 162.4 L147.8 161 L148 159.6 L148.2 158.5 L148.4 157 L148.5 155.9 L148.6 154.5 L148.8 153 L148.9 151.5 L149 150 L149 148.8 L149 147.5 L149 146 L149 144.5 L149 143.5 L148.9 142 L148.8 140.5 L148.7 139 L148.6 137.5 L148.5 136 L148.4 135 L148.3 133.5 L148.1 132 L148 131 L147.8 129.5 L147.5 128 L147.4 127 L147.1 125.5 L147 124.5 L146.7 123 L146.5 121.9 L146.2 120.5 L146 119.3 L145.7 118 L145.5 116.9 L145.2 115.5 L145 114.5 L144.6 113 L144.4 112 L144.1 110.5 L143.8 109.5 L143.5 108.2 L143.2 107 L142.9 106 L142.5 104.5 L142.3 103.5 L142 102.5 L141.5 101 L141.2 100 L140.9 99 L140.5 97.7 L140.1 96.5 L139.7 95.5 L139.4 94.5 L139 93.5 L138.5 92.2 L138 91 L137.6 90 L137.2 89 L136.7 88 L136.3 87 L135.8 86 L135.3 85 L134.8 84 L134.3 83 L133.7 82 L133.2 81 L132.6 80 L132.1 79 L131.5 78 L131 77.3 L130.5 76.4 L129.9 75.5 L129.2 74.5 L128.6 73.5 L128 72.5 L127.5 71.7 L127 70.9 L126.4 70 L125.7 69 L125.1 68 L124.5 67.1 L124 66.4 L123.4 65.5 L122.7 64.5 L122 63.5 L121.5 62.8 L121 62 L120.2 61 L119.6 60 L119 59.2 L118.5 58.5 L117.7 57.5 L117 56.5 L116.5 55.8 L116 55 L115.2 54 L114.5 53 L114 52.4 L113.3 51.5 L112.5 50.5 L112 49.8 L111.3 49 L110.6 48 L110 47.3 L109.4 46.5 L108.6 45.5 L108 44.8 L107.3 44 L106.5 43 L106 42.4 L105.2 41.5 L104.5 40.6 L104 40 L103.1 39 L102.5 38.3 L101.9 37.5 L101 36.5 L100.5 35.9 L99.7 35 L99 34.2 L98.4 33.5 L97.5 32.5 L97 31.9 L96.2 31 L95.5 30.2 L94.9 29.5 L94 28.5 L93.5 28 L92.6 27 L92 26.4 L91.2 25.5 L90.5 24.8 L89.8 24 L89 23.2 L88.3 22.5 L87.5 21.7 L86.7 21 L86 20.3 L85.2 19.5 L84.5 18.9 L83.5 18 L83 17.5 L82 16.8 L81.1 16 L80.5 15.5 L79.5 14.7 L78.6 14 L78 13.5 L77 12.6 L76.4 12 L75.6 11 L75.2 10"/><path d="M87.1 284.5 L87 283 L87 282 L86.8 280.5 L86.7 279 L86.5 277.5 L86.4 276.5 L86.3 275 L86.2 273.5 L86.1 272 L86.1 270.5 L86.1 269 L86.1 267.5 L86.2 266 L86.4 264.5 L86.5 263.5 L86.7 262 L87 260.5 L87.2 259.5 L87.5 258 L87.7 257 L88.1 256 L88.5 254.9 L89 253.8 L89.5 252.8 L90 252 L90.6 251 L91.3 250 L92 249 L92.5 248.3 L93.2 247.5 L94 246.5 L94.5 246 L95.4 245 L96 244.4 L96.8 243.5 L97.5 242.8 L98.3 242 L99 241.3 L99.9 240.5 L100.5 239.9 L101.4 239 L102 238.5 L103 237.5 L103.6 237 L104.5 236.1 L105.1 235.5 L106 234.7 L106.7 234 L107.5 233.3 L108.3 232.5 L109 231.9 L109.9 231 L110.5 230.4 L111.5 229.5 L112 229 L113 228.1 L113.6 227.5 L114.5 226.6 L115.1 226 L116 225.1 L116.6 224.5 L117.5 223.6 L118.1 223 L119 222.1 L119.6 221.5 L120.5 220.5 L121 220 L121.9 219 L122.5 218.4 L123.3 217.5 L124 216.7 L124.6 216 L125.4 215 L126 214.3 L126.6 213.5 L127.4 212.5 L128 211.7 L128.5 211 L129.2 210 L129.9 209 L130.5 208.2 L131 207.4 L131.6 206.5 L132.2 205.5 L132.9 204.5 L133.5 203.5 L134 202.7 L134.5 201.8 L135 201 L135.6 200 L136.1 199 L136.7 198 L137.3 197 L137.8 196 L138.4 195 L138.9 194 L139.4 193 L140 192 L140.5 191 L141 190 L141.5 189.1 L142 188.1 L142.5 187.1 L143 186.1 L143.5 185 L144 184 L144.5 183 L144.9 182 L145.4 181 L145.8 180 L146.2 179 L146.6 178 L147 177 L147.5 175.6 L147.9 174.5 L148.2 173.5 L148.6 172.5 L149 171.1 L149.3 170 L149.6 169 L149.9 167.5 L150.2 166.5 L150.5 165 L150.7 164 L150.9 162.5 L151.1 161.5 L151.3 160 L151.5 158.5 L151.6 157.5 L151.7 156 L151.8 154.5 L151.9 153 L152 151.5 L152 150 L152 148.5 L152 147 L151.9 145.5 L151.8 144 L151.7 142.5 L151.6 141 L151.5 139.5 L151.4 138.5 L151.3 137 L151.2 135.5 L151.1 134 L151 133 L150.8 131.5 L150.7 130 L150.5 128.5 L150.4 127.5 L150.2 126 L150 124.9 L149.8 123.5 L149.5 122 L149.4 121 L149.1 119.5 L148.9 118.5 L148.6 117 L148.4 116 L148.1 114.5 L147.9 113.5 L147.6 112 L147.3 111 L147 109.5 L146.7 108.5 L146.5 107.5 L146.1 106 L145.8 105 L145.5 103.8 L145.1 102.5 L144.8 101.5 L144.5 100.4 L144 99 L143.7 98 L143.4 97 L143 96 L142.5 94.6 L142.1 93.5 L141.7 92.5 L141.3 91.5 L140.9 90.5 L140.5 89.5 L140 88.4 L139.5 87.3 L139 86.2 L138.5 85.1 L138 84.1 L137.5 83.1 L137 82.1 L136.5 81.1 L136 80.1 L135.5 79.2 L135 78.2 L134.5 77.3 L134 76.4 L133.5 75.5 L132.9 74.5 L132.3 73.5 L131.8 72.5 L131.2 71.5 L130.6 70.5 L130 69.5 L129.5 68.6 L129 67.7 L128.5 66.9 L128 66 L127.4 65 L126.8 64 L126.2 63 L125.6 62 L125 61 L124.5 60.2 L124 59.4 L123.5 58.5 L122.8 57.5 L122.2 56.5 L121.6 55.5 L121 54.5 L120.5 53.8 L120 53 L119.4 52 L118.7 51 L118.1 50 L117.5 49.1 L117 48.3 L116.5 47.5 L115.8 46.5 L115.1 45.5 L114.5 44.5 L114 43.8 L113.5 43 L112.8 42 L112.1 41 L111.5 40.2 L111 39.4 L110.3 38.5 L109.6 37.5 L109 36.6 L108.5 35.9 L107.9 35 L107.1 34 L106.5 33.1 L106 32.4 L105.3 31.5 L104.6 30.5 L104 29.7 L103.5 29 L102.8 28 L102.1 27 L101.5 26.2 L101 25.5 L100.3 24.5 L99.5 23.5 L99 22.8 L98.4 22 L97.7 21 L97 20.1 L96.5 19.4 L95.8 18.5 L95 17.5 L94.5 16.9 L93.8 16 L93 15 L92.5 14.4 L91.8 13.5 L91.1 12.5 L90.6 11.5 L90.2 10.5"/><path d="M94.2 284.5 L94.1 283 L94 281.5 L93.9 280.5 L93.8 279 L93.6 277.5 L93.5 276.2 L93.4 275 L93.3 273.5 L93.2 272 L93.2 270.5 L93.2 269 L93.2 267.5 L93.3 266 L93.5 264.5 L93.6 263.5 L93.7 262 L94 260.5 L94.2 259.5 L94.5 258.3 L95 257 L95.5 256 L96 255 L96.5 254.2 L97 253.5 L97.7 252.5 L98.5 251.5 L99 250.8 L99.7 250 L100.5 249.1 L101.1 248.5 L102 247.5 L102.5 247 L103.5 246 L104 245.5 L105 244.5 L105.5 244 L106.5 243 L107 242.5 L108 241.5 L108.6 241 L109.5 240.1 L110.1 239.5 L111 238.6 L111.6 238 L112.5 237.1 L113.1 236.5 L114 235.7 L114.7 235 L115.5 234.2 L116.2 233.5 L117 232.7 L117.7 232 L118.5 231.2 L119.1 230.5 L120 229.6 L120.6 229 L121.5 228.1 L122 227.5 L123 226.5 L123.5 225.9 L124.4 225 L125 224.3 L125.7 223.5 L126.5 222.6 L127 222 L127.9 221 L128.5 220.2 L129.1 219.5 L129.9 218.5 L130.5 217.7 L131 217 L131.8 216 L132.5 215 L133 214.3 L133.6 213.5 L134.2 212.5 L134.9 211.5 L135.5 210.5 L136 209.7 L136.5 208.9 L137.1 208 L137.6 207 L138.2 206 L138.8 205 L139.4 204 L139.9 203 L140.4 202 L141 201 L141.5 200 L142 199 L142.5 198.1 L143 197.1 L143.5 196.1 L144 195.1 L144.5 194.1 L145 193 L145.5 192 L146 191 L146.4 190 L146.9 189 L147.3 188 L147.8 187 L148.2 186 L148.7 185 L149.1 184 L149.5 183 L150 181.7 L150.5 180.5 L150.8 179.5 L151.2 178.5 L151.5 177.5 L152 176.1 L152.3 175 L152.6 174 L153 172.6 L153.3 171.5 L153.5 170.5 L153.9 169 L154.1 168 L154.3 166.5 L154.5 165.5 L154.7 164 L154.9 162.5 L155.1 161.5 L155.2 160 L155.3 158.5 L155.4 157 L155.5 155.6 L155.5 154.5 L155.6 153 L155.6 151.5 L155.5 150 L155.5 148.6 L155.5 147.5 L155.4 146 L155.2 144.5 L155.1 143 L155 141.8 L154.9 140.5 L154.7 139 L154.6 137.5 L154.5 136.3 L154.4 135 L154.3 133.5 L154.1 132 L154 131 L153.8 129.5 L153.6 128 L153.5 127 L153.2 125.5 L153 124 L152.8 123 L152.6 121.5 L152.4 120.5 L152.1 119 L151.9 118 L151.6 116.5 L151.4 115.5 L151 114 L150.8 113 L150.5 111.7 L150.2 110.5 L150 109.5 L149.6 108 L149.3 107 L149 105.8 L148.6 104.5 L148.3 103.5 L148 102.3 L147.6 101 L147.3 100 L147 99 L146.5 97.6 L146.1 96.5 L145.8 95.5 L145.4 94.5 L145 93.4 L144.5 92.1 L144.1 91 L143.7 90 L143.3 89 L142.9 88 L142.4 87 L142 86 L141.5 84.8 L141 83.7 L140.5 82.6 L140 81.6 L139.5 80.5 L139 79.5 L138.5 78.5 L138 77.5 L137.5 76.5 L137 75.5 L136.5 74.5 L136 73.5 L135.5 72.5 L135 71.6 L134.5 70.6 L134 69.6 L133.5 68.7 L133 67.7 L132.5 66.7 L132 65.8 L131.5 64.8 L131 63.9 L130.5 63 L130 62 L129.5 61 L128.9 60 L128.4 59 L127.9 58 L127.4 57 L126.8 56 L126.3 55 L125.8 54 L125.2 53 L124.7 52 L124.1 51 L123.6 50 L123 49 L122.5 48.1 L122 47.2 L121.5 46.3 L121 45.4 L120.5 44.5 L119.9 43.5 L119.4 42.5 L118.8 41.5 L118.3 40.5 L117.7 39.5 L117.1 38.5 L116.5 37.5 L116 36.7 L115.5 35.8 L115 35 L114.4 34 L113.8 33 L113.2 32 L112.6 31 L112 30 L111.5 29.2 L111 28.4 L110.5 27.5 L109.9 26.5 L109.3 25.5 L108.7 24.5 L108 23.5 L107.5 22.6 L107 21.8 L106.5 21 L105.9 20 L105.3 19 L104.7 18 L104.1 17 L103.5 16.1 L103 15.2 L102.5 14.4 L102 13.5 L101.5 12.5 L101 11.2 L100.8 10"/><path d="M101.3 284.5 L101.2 283 L101.1 281.5 L101 280.2 L100.9 279 L100.7 277.5 L100.6 276 L100.5 275 L100.4 273.5 L100.3 272 L100.2 270.5 L100.2 269 L100.3 267.5 L100.3 266 L100.4 264.5 L100.5 263.2 L100.6 262 L101 260.5 L101.3 259.5 L101.8 258.5 L102.3 257.5 L103 256.5 L103.5 255.8 L104.1 255 L104.9 254 L105.5 253.4 L106.3 252.5 L107 251.7 L107.7 251 L108.5 250.1 L109.1 249.5 L110 248.6 L110.5 248 L111.5 247 L112 246.5 L113 245.5 L113.5 245 L114.5 244 L115 243.5 L115.9 242.5 L116.5 241.9 L117.4 241 L118 240.4 L118.9 239.5 L119.5 238.9 L120.3 238 L121 237.3 L121.8 236.5 L122.5 235.7 L123.2 235 L124 234.1 L124.6 233.5 L125.5 232.5 L126 232 L126.9 231 L127.5 230.3 L128.2 229.5 L129 228.6 L129.5 228 L130.4 227 L131 226.3 L131.6 225.5 L132.4 224.5 L133 223.8 L133.6 223 L134.4 222 L135 221.2 L135.5 220.5 L136.2 219.5 L136.9 218.5 L137.5 217.6 L138 216.8 L138.5 216 L139.2 215 L139.8 214 L140.4 213 L141 212 L141.5 211.1 L142 210.2 L142.5 209.3 L143 208.4 L143.5 207.4 L144 206.5 L144.5 205.5 L145 204.5 L145.5 203.5 L146 202.5 L146.5 201.5 L147 200.4 L147.5 199.3 L148 198.3 L148.5 197.2 L149 196.1 L149.5 195 L149.9 194 L150.4 193 L150.8 192 L151.2 191 L151.6 190 L152.1 189 L152.5 187.9 L153 186.6 L153.4 185.5 L153.8 184.5 L154.2 183.5 L154.5 182.5 L155 181.1 L155.4 180 L155.7 179 L156 177.9 L156.4 176.5 L156.7 175.5 L157 174.2 L157.3 173 L157.5 171.9 L157.8 170.5 L158 169.4 L158.2 168 L158.5 166.5 L158.6 165.5 L158.8 164 L158.9 162.5 L159 161.4 L159.1 160 L159.2 158.5 L159.2 157 L159.2 155.5 L159.2 154 L159.2 152.5 L159.1 151 L159.1 149.5 L159 148.5 L158.9 147 L158.7 145.5 L158.6 144 L158.5 143 L158.3 141.5 L158.1 140 L158 139 L157.8 137.5 L157.7 136 L157.6 134.5 L157.5 133.5 L157.3 132 L157.1 130.5 L157 129.3 L156.8 128 L156.6 126.5 L156.4 125.5 L156.2 124 L156 122.8 L155.8 121.5 L155.5 120.1 L155.3 119 L155 117.5 L154.8 116.5 L154.5 115.2 L154.2 114 L154 112.9 L153.7 111.5 L153.4 110.5 L153.1 109 L152.8 108 L152.5 106.7 L152.2 105.5 L151.9 104.5 L151.5 103 L151.2 102 L151 101 L150.5 99.5 L150.2 98.5 L149.9 97.5 L149.5 96.2 L149.1 95 L148.8 94 L148.5 93 L148 91.7 L147.6 90.5 L147.2 89.5 L146.8 88.5 L146.5 87.5 L146 86.3 L145.5 85 L145.1 84 L144.7 83 L144.3 82 L143.9 81 L143.4 80 L143 79 L142.5 77.8 L142 76.7 L141.5 75.6 L141 74.5 L140.6 73.5 L140.1 72.5 L139.6 71.5 L139.2 70.5 L138.7 69.5 L138.3 68.5 L137.8 67.5 L137.3 66.5 L136.9 65.5 L136.4 64.5 L136 63.5 L135.5 62.4 L135 61.3 L134.5 60.2 L134 59.1 L133.5 58 L133.1 57 L132.6 56 L132.1 55 L131.7 54 L131.2 53 L130.8 52 L130.3 51 L129.9 50 L129.5 49 L129 48 L128.5 46.9 L128 45.8 L127.5 44.7 L127 43.6 L126.5 42.5 L126 41.5 L125.6 40.5 L125.1 39.5 L124.6 38.5 L124.1 37.5 L123.7 36.5 L123.2 35.5 L122.7 34.5 L122.3 33.5 L121.8 32.5 L121.3 31.5 L120.8 30.5 L120.3 29.5 L119.8 28.5 L119.3 27.5 L118.8 26.5 L118.3 25.5 L117.8 24.5 L117.3 23.5 L116.8 22.5 L116.3 21.5 L115.8 20.5 L115.3 19.5 L114.8 18.5 L114.3 17.5 L113.8 16.5 L113.4 15.5 L112.9 14.5 L112.4 13.5 L112 12.4 L111.6 11"/><path d="M164.5 151.9 L164 150.8 L163.7 149.5 L163.4 148.5 L163 147 L162.8 146 L162.5 144.6 L162.3 143.5 L162 142.2 L161.8 141 L161.5 139.5 L161.4 138.5 L161.2 137 L161 135.5 L160.9 134.5 L160.8 133 L160.6 131.5 L160.5 130.5 L160.3 129 L160 127.5 L159.9 126.5 L159.6 125 L159.5 124 L159.2 122.5 L159 121.3 L158.7 120 L158.5 118.7 L158.2 117.5 L158 116.3 L157.7 115 L157.5 114 L157.2 112.5 L156.9 111.5 L156.6 110 L156.3 109 L156 107.7 L155.7 106.5 L155.4 105.5 L155 104 L154.7 103 L154.5 102 L154 100.5 L153.8 99.5 L153.5 98.5 L153 97 L152.7 96 L152.4 95 L152 93.8 L151.6 92.5 L151.2 91.5 L150.9 90.5 L150.5 89.4 L150 88 L149.7 87 L149.3 86 L148.9 85 L148.5 83.9 L148 82.6 L147.6 81.5 L147.2 80.5 L146.8 79.5 L146.4 78.5 L146 77.5 L145.5 76.3 L145 75.1 L144.5 74 L144.1 73 L143.7 72 L143.3 71 L142.9 70 L142.5 69 L142 67.9 L141.5 66.7 L141 65.5 L140.6 64.5 L140.2 63.5 L139.8 62.5 L139.4 61.5 L139 60.5 L138.5 59.3 L138 58.1 L137.6 57 L137.2 56 L136.8 55 L136.4 54 L136 53 L135.5 51.7 L135 50.5 L134.7 49.5 L134.3 48.5 L133.9 47.5 L133.5 46.5 L133 45.3 L132.5 44 L132.1 43 L131.7 42 L131.3 41 L130.9 40 L130.5 38.9 L130 37.6 L129.6 36.5 L129.2 35.5 L128.8 34.5 L128.4 33.5 L128 32.5 L127.5 31.4 L127 30.1 L126.5 29 L126.1 28 L125.7 27 L125.3 26 L124.9 25 L124.5 24 L124 22.9 L123.5 21.7 L123 20.5 L122.6 19.5 L122.1 18.5 L121.7 17.5 L121.3 16.5 L120.9 15.5 L120.4 14.5 L120 13.4 L119.6 12 L119.3 11"/><path d="M108.4 284.5 L108.4 283 L108.2 281.5 L108.1 280 L108 279 L107.8 277.5 L107.7 276 L107.5 274.5 L107.5 273.5 L107.4 272 L107.3 270.5 L107.2 269 L107.2 267.5 L107.1 266 L107.1 264.5 L107.3 263 L107.6 262 L108.1 261 L108.6 260 L109.3 259 L110 258.1 L110.5 257.5 L111.4 256.5 L112 255.8 L112.7 255 L113.5 254.2 L114.1 253.5 L115 252.6 L115.5 252 L116.5 251 L117 250.4 L117.9 249.5 L118.5 248.9 L119.3 248 L120 247.3 L120.7 246.5 L121.5 245.7 L122.1 245 L123 244.1 L123.5 243.5 L124.5 242.5 L125 241.9 L125.8 241 L126.5 240.3 L127.2 239.5 L128 238.6 L128.6 238 L129.4 237 L130 236.4 L130.8 235.5 L131.5 234.7 L132.1 234 L132.9 233 L133.5 232.3 L134.2 231.5 L135 230.5 L135.5 229.9 L136.2 229 L137 228 L137.5 227.3 L138.1 226.5 L138.8 225.5 L139.5 224.6 L140 223.9 L140.6 223 L141.3 222 L141.9 221 L142.5 220.1 L143 219.3 L143.5 218.5 L144.1 217.5 L144.6 216.5 L145.2 215.5 L145.8 214.5 L146.3 213.5 L146.8 212.5 L147.3 211.5 L147.9 210.5 L148.3 209.5 L148.8 208.5 L149.3 207.5 L149.8 206.5 L150.2 205.5 L150.7 204.5 L151.1 203.5 L151.6 202.5 L152 201.5 L152.5 200.4 L153 199.2 L153.5 198 L153.9 197 L154.3 196 L154.7 195 L155.1 194 L155.5 193 L156 191.8 L156.5 190.5 L156.9 189.5 L157.2 188.5 L157.6 187.5 L158 186.3 L158.4 185 L158.8 184 L159.1 183 L159.5 181.7 L159.9 180.5 L160.1 179.5 L160.5 178.2 L160.8 177 L161.1 176 L161.5 174.5 L161.7 173.5 L162 172.5 L162.4 171 L162.6 170 L163 168.5 L163.2 167.5 L163.5 166.4 L163.9 165 L164.3 164"/><path d="M164.5 124.1 L164 123.5 L163.4 122.5 L163 121.4 L162.6 120 L162.3 119 L162 118 L161.6 116.5 L161.4 115.5 L161 114.1 L160.7 113 L160.5 112 L160.1 110.5 L159.9 109.5 L159.5 108 L159.3 107 L159 106 L158.6 104.5 L158.4 103.5 L158 102.1 L157.7 101 L157.4 100 L157 98.5 L156.8 97.5 L156.5 96.5 L156 95 L155.7 94 L155.4 93 L155 91.5 L154.7 90.5 L154.4 89.5 L154 88.4 L153.6 87 L153.2 86 L152.9 85 L152.5 83.9 L152 82.5 L151.7 81.5 L151.3 80.5 L151 79.5 L150.5 78.2 L150.1 77 L149.7 76 L149.3 75 L149 74 L148.5 72.8 L148 71.5 L147.7 70.5 L147.3 69.5 L146.9 68.5 L146.5 67.4 L146 66.1 L145.6 65 L145.2 64 L144.9 63 L144.5 62 L144 60.6 L143.6 59.5 L143.3 58.5 L142.9 57.5 L142.5 56.3 L142.1 55 L141.7 54 L141.4 53 L141 51.9 L140.6 50.5 L140.2 49.5 L139.9 48.5 L139.5 47.3 L139.1 46 L138.8 45 L138.4 44 L138 42.7 L137.6 41.5 L137.3 40.5 L137 39.5 L136.5 38.1 L136.2 37 L135.8 36 L135.5 35 L135 33.5 L134.7 32.5 L134.4 31.5 L134 30.4 L133.5 29 L133.2 28 L132.9 27 L132.5 25.9 L132 24.5 L131.7 23.5 L131.4 22.5 L131 21.4 L130.5 20 L130.2 19 L129.8 18 L129.5 17 L129 15.6 L128.6 14.5 L128.3 13.5 L128 12.5 L127.7 11"/><path d="M115.6 284.5 L115.5 283 L115.5 282 L115.3 280.5 L115.2 279 L115 277.6 L114.9 276.5 L114.7 275 L114.6 273.5 L114.5 272.5 L114.3 271 L114 269.5 L113.9 268.5 L113.7 267 L113.8 265.5 L114 264.5 L114.5 263.3 L115 262.5 L115.7 261.5 L116.5 260.6 L117 260 L117.8 259 L118.5 258.3 L119.2 257.5 L120 256.6 L120.5 256 L121.4 255 L122 254.4 L122.8 253.5 L123.5 252.7 L124.2 252 L125 251.1 L125.5 250.5 L126.4 249.5 L127 248.9 L127.8 248 L128.5 247.2 L129.1 246.5 L130 245.5 L130.5 244.9 L131.3 244 L132 243.2 L132.6 242.5 L133.5 241.5 L134 240.9 L134.8 240 L135.5 239.1 L136 238.5 L136.8 237.5 L137.5 236.7 L138.1 236 L138.9 235 L139.5 234.2 L140 233.5 L140.8 232.5 L141.5 231.6 L142 230.9 L142.6 230 L143.3 229 L144 228.1 L144.5 227.3 L145 226.5 L145.7 225.5 L146.3 224.5 L146.9 223.5 L147.5 222.6 L148 221.7 L148.5 220.8 L149 220 L149.5 219 L150.1 218 L150.6 217 L151.1 216 L151.6 215 L152.1 214 L152.5 213 L153 212 L153.5 210.9 L154 209.8 L154.5 208.6 L155 207.5 L155.4 206.5 L155.8 205.5 L156.2 204.5 L156.6 203.5 L157 202.5 L157.5 201.3 L158 200 L158.4 199 L158.8 198 L159.1 197 L159.5 196 L160 194.8 L160.5 193.5 L160.9 192.5 L161.3 191.5 L161.7 190.5 L162.2 189.5 L162.7 188.5 L163.3 187.5 L164 186.7"/><path d="M164.5 106.8 L163.6 106 L163.1 105 L162.7 104 L162.3 103 L161.9 102 L161.5 100.6 L161.2 99.5 L160.9 98.5 L160.5 97.3 L160.1 96 L159.9 95 L159.5 93.7 L159.2 92.5 L158.9 91.5 L158.5 90.2 L158.1 89 L157.8 88 L157.5 86.9 L157.1 85.5 L156.8 84.5 L156.5 83.5 L156 82 L155.7 81 L155.4 80 L155 78.9 L154.5 77.5 L154.2 76.5 L153.9 75.5 L153.5 74.4 L153 73 L152.7 72 L152.4 71 L152 69.9 L151.5 68.5 L151.2 67.5 L150.9 66.5 L150.5 65.5 L150 64 L149.7 63 L149.4 62 L149 60.9 L148.5 59.5 L148.2 58.5 L147.9 57.5 L147.5 56.1 L147.2 55 L146.9 54 L146.5 52.8 L146.1 51.5 L145.9 50.5 L145.5 49.3 L145.2 48 L144.9 47 L144.5 45.6 L144.2 44.5 L143.9 43.5 L143.5 42 L143.3 41 L143 40 L142.6 38.5 L142.3 37.5 L142 36.4 L141.6 35 L141.4 34 L141 32.6 L140.7 31.5 L140.4 30.5 L140 29 L139.8 28 L139.5 27 L139.1 25.5 L138.8 24.5 L138.5 23.4 L138.1 22 L137.9 21 L137.5 19.7 L137.2 18.5 L136.9 17.5 L136.5 16.1 L136.2 15 L135.9 14 L135.6 12.5 L135.4 11.5 L135.3 10"/><path d="M122.8 284.5 L122.8 283 L122.7 281.5 L122.5 280 L122.4 279 L122.2 277.5 L122 276.1 L121.8 275 L121.5 273.8 L121.1 272.5 L120.8 271.5 L120.5 270.5 L120.2 269 L120.3 267.5 L120.6 266.5 L121.1 265.5 L121.8 264.5 L122.5 263.6 L123 263 L123.8 262 L124.5 261.2 L125.1 260.5 L126 259.5 L126.5 258.9 L127.3 258 L128 257.2 L128.6 256.5 L129.5 255.5 L130 254.9 L130.8 254 L131.5 253.2 L132.1 252.5 L132.9 251.5 L133.5 250.8 L134.2 250 L135 249.1 L135.5 248.5 L136.3 247.5 L137 246.7 L137.6 246 L138.4 245 L139 244.3 L139.6 243.5 L140.4 242.5 L141 241.8 L141.6 241 L142.4 240 L143 239.3 L143.6 238.5 L144.3 237.5 L145 236.6 L145.5 235.9 L146.2 235 L146.9 234 L147.5 233.1 L148 232.4 L148.6 231.5 L149.2 230.5 L149.9 229.5 L150.5 228.5 L151 227.7 L151.5 226.8 L152 226 L152.5 225 L153.1 224 L153.6 223 L154.2 222 L154.7 221 L155.2 220 L155.7 219 L156.1 218 L156.6 217 L157 216 L157.5 214.9 L158 213.8 L158.5 212.6 L158.9 211.5 L159.4 210.5 L159.8 209.5 L160.2 208.5 L160.6 207.5 L161 206.5 L161.5 205.4 L162 204.3 L162.5 203.4 L163.1 202.5 L164 201.5"/><path d="M164.5 90.4 L163.6 89.5 L163 88.5 L162.5 87.5 L162.1 86.5 L161.8 85.5 L161.4 84.5 L161 83.2 L160.6 82 L160.3 81 L160 79.9 L159.6 78.5 L159.3 77.5 L159 76.5 L158.5 75 L158.2 74 L157.9 73 L157.5 71.5 L157.2 70.5 L156.9 69.5 L156.5 68.1 L156.2 67 L155.9 66 L155.5 64.8 L155.1 63.5 L154.8 62.5 L154.5 61.4 L154.1 60 L153.8 59 L153.5 57.9 L153.1 56.5 L152.8 55.5 L152.5 54.2 L152.2 53 L151.9 52 L151.5 50.5 L151.3 49.5 L151 48.3 L150.7 47 L150.5 46 L150.1 44.5 L149.9 43.5 L149.6 42 L149.4 41 L149.1 39.5 L148.9 38.5 L148.5 37 L148.3 36 L148 34.7 L147.7 33.5 L147.5 32.5 L147.2 31 L147 30 L146.7 28.5 L146.4 27.5 L146.1 26 L145.9 25 L145.6 23.5 L145.4 22.5 L145 21 L144.8 20 L144.5 18.5 L144.3 17.5 L144 16.2 L143.7 15 L143.5 13.8 L143.3 12.5 L143.1 11"/><path d="M130.3 284.5 L130.2 283 L130.1 281.5 L130 280.5 L129.7 279 L129.5 278 L129 276.5 L128.6 275.5 L128.1 274.5 L127.7 273.5 L127.3 272.5 L127 271.3 L126.9 270 L127.2 269 L127.7 268 L128.3 267 L129 266.1 L129.5 265.5 L130.3 264.5 L131 263.7 L131.6 263 L132.4 262 L133 261.3 L133.7 260.5 L134.5 259.5 L135 258.9 L135.8 258 L136.5 257.1 L137 256.5 L137.8 255.5 L138.5 254.7 L139.1 254 L139.9 253 L140.5 252.2 L141.1 251.5 L141.9 250.5 L142.5 249.7 L143.1 249 L143.9 248 L144.5 247.2 L145 246.5 L145.8 245.5 L146.5 244.6 L147 244 L147.7 243 L148.5 242 L149 241.3 L149.6 240.5 L150.3 239.5 L151 238.5 L151.5 237.7 L152 237 L152.7 236 L153.3 235 L153.9 234 L154.5 233.1 L155 232.3 L155.5 231.4 L156 230.5 L156.6 229.5 L157.1 228.5 L157.7 227.5 L158.2 226.5 L158.7 225.5 L159.2 224.5 L159.7 223.5 L160.2 222.5 L160.7 221.5 L161.2 220.5 L161.8 219.5 L162.4 218.5 L163 217.6 L163.5 217 L164.5 216.4"/><path d="M164.5 73.2 L163.6 72.5 L163 71.5 L162.5 70.5 L162.1 69.5 L161.8 68.5 L161.4 67.5 L161 66.1 L160.7 65 L160.4 64 L160 62.6 L159.7 61.5 L159.4 60.5 L159 59 L158.7 58 L158.5 57 L158.1 55.5 L157.8 54.5 L157.5 53 L157.2 52 L157 50.9 L156.7 49.5 L156.5 48.5 L156.1 47 L156 46 L155.6 44.5 L155.5 43.5 L155.2 42 L155 40.8 L154.7 39.5 L154.5 38 L154.3 37 L154.1 35.5 L153.9 34.5 L153.6 33 L153.4 32 L153.1 30.5 L153 29.5 L152.7 28 L152.5 26.5 L152.3 25.5 L152.1 24 L151.9 23 L151.6 21.5 L151.5 20.5 L151.2 19 L151 17.6 L150.8 16.5 L150.5 15 L150.4 14 L150.1 12.5 L150 11 L150 10"/><path d="M137.6 284.5 L137.5 283 L137.4 282 L137 280.6 L136.5 279.5 L136.1 278.5 L135.5 277.5 L135 276.6 L134.5 275.7 L134 274.7 L133.6 273.5 L133.6 272 L134 270.7 L134.5 269.8 L135.1 269 L135.8 268 L136.5 267.2 L137 266.5 L137.8 265.5 L138.5 264.7 L139 264 L139.8 263 L140.5 262.2 L141 261.5 L141.8 260.5 L142.5 259.6 L143 259 L143.8 258 L144.5 257.1 L145 256.4 L145.7 255.5 L146.5 254.5 L147 253.9 L147.7 253 L148.4 252 L149 251.3 L149.6 250.5 L150.3 249.5 L151 248.6 L151.5 247.9 L152.2 247 L152.9 246 L153.5 245.2 L154 244.5 L154.7 243.5 L155.4 242.5 L156 241.5 L156.5 240.8 L157 240 L157.6 239 L158.3 238 L158.9 237 L159.5 236 L160 235.2 L160.5 234.4 L161 233.5 L161.7 232.5 L162.4 231.5 L163 230.9 L164 230.1"/><path d="M164.5 54.2 L163.7 53.5 L163.2 52.5 L162.7 51.5 L162.4 50.5 L162 49.2 L161.7 48 L161.4 47 L161.1 45.5 L160.9 44.5 L160.6 43 L160.4 42 L160.2 40.5 L160 39.5 L159.8 38 L159.5 36.5 L159.4 35.5 L159.2 34 L159 32.8 L158.8 31.5 L158.6 30 L158.5 29 L158.3 27.5 L158.1 26 L157.9 25 L157.7 23.5 L157.5 22 L157.4 21 L157.2 19.5 L157 18 L156.9 17 L156.7 15.5 L156.5 14.1 L156.4 13 L156.2 11.5 L156.2 10"/><path d="M146.2 284.5 L146 283.5 L145.5 282.4 L144.9 281.5 L144.2 280.5 L143.5 279.5 L143 278.7 L142.5 277.9 L142 276.9 L141.7 275.5 L141.8 274 L142.3 273 L143 272 L143.5 271.2 L144.1 270.5 L144.8 269.5 L145.5 268.6 L146 267.9 L146.7 267 L147.5 266 L148 265.3 L148.6 264.5 L149.3 263.5 L150 262.6 L150.5 261.9 L151.2 261 L152 260 L152.5 259.3 L153.1 258.5 L153.8 257.5 L154.5 256.6 L155 255.9 L155.7 255 L156.4 254 L157 253.2 L157.5 252.5 L158.2 251.5 L158.9 250.5 L159.5 249.6 L160 248.9 L160.7 248 L161.5 247 L162 246.4 L162.9 245.5 L163.6 245"/><path d="M164.5 28.5 L164 27.8 L163.5 26.5 L163.3 25.5 L163 24.3 L162.8 23 L162.5 21.5 L162.3 20.5 L162.1 19 L162 18 L161.8 16.5 L161.6 15 L161.4 14 L161.3 12.5 L161.2 11"/><path d="M151.4 284.5 L151 283.1 L150.5 282.3 L150 281.5 L149.3 280.5 L148.7 279.5 L148.3 278.5 L148.2 277 L148.5 275.8 L149 274.9 L149.6 274 L150.3 273 L151 272 L151.5 271.3 L152.1 270.5 L152.8 269.5 L153.5 268.5 L154 267.9 L154.6 267 L155.3 266 L156 265.1 L156.5 264.4 L157.2 263.5 L157.9 262.5 L158.5 261.7 L159 261 L159.7 260 L160.5 259 L161 258.4 L161.8 257.5 L162.5 256.8 L163.5 256 L164.5 255.7"/><path d="M154.6 284.5 L154.4 283.5 L154 282.2 L153.5 281 L153.2 280 L153.2 278.5 L153.5 277.5 L154 276.5 L154.7 275.5 L155.4 274.5 L156 273.6 L156.5 272.9 L157.1 272 L157.8 271 L158.5 270.1 L159 269.4 L159.6 268.5 L160.4 267.5 L161 266.7 L161.6 266 L162.5 265.1 L163.4 264.5 L164.5 264.1"/><path d="M158.1 284.5 L158.1 283 L158.2 281.5 L158.5 280.4 L159 279.3 L159.5 278.5 L160.2 277.5 L160.9 276.5 L161.5 275.8 L162.3 275 L163 274.3 L164 273.8"/></g><path d="M28.5 281 L29.7 280 L30.9 279.1 L32.2 278.1 L33.4 277.1 L34.7 276.2 L36 275.5 L37.4 274.9 L38.9 274.3 L40.4 273.8 L41.9 273.4 L43.5 273.2 L45 273 L46.5 273 L48.1 273 L49.6 273.2 L51.1 273.5 L52.6 273.9 L54 274.5 L55.3 275.3 L56.5 276.3 L57.6 277.4 L58.7 278.6 L59.9 279.9 L61 281"/><path d="M44.2 206 L44.4 208 L44.7 210 L44.9 212 L45.1 214.1 L45.3 216 L45.6 218 L45.9 219.9 L46.1 221.8 L46.4 223.7 L46.7 225.6 L47.1 227.5 L47.4 229.3 L47.8 231.2 L48.2 233.1 L48.7 235 L49.1 236.8 L49.5 238.5 L49.8 240 L50 241.3 L50.2 242.5 L50.4 243.5 L50.5 244.5 L50.5 245.4 L50.4 246.3 L50.2 247.2 L50 248 L49.7 248.8 L49.3 249.6 L48.8 250.4 L48 251.2 L47 252 L45.8 252.9 L44.5 253.7 L43 254.5 L41.5 255.4 L40 256.3 L38.4 257.3 L36.8 258.2 L35.1 259.3 L33.4 260.3 L31.7 261.3 L30 262.3 L28.3 263.3 L26.7 264.2 L25 265.2 L23.3 266.1 L21.7 267.1 L20 268"/><path d="M67.5 283 L67.2 280.8 L66.9 278.6 L66.6 276.3 L66.3 274.1 L66 272 L65.8 270 L65.6 268.1 L65.5 266.4 L65.3 264.7 L65.2 263.1 L65.2 261.5 L65.2 260 L65.3 258.5 L65.4 256.9 L65.5 255.4 L65.7 254 L66 252.7 L66.4 251.5 L66.9 250.5 L67.4 249.6 L67.9 248.9 L68.6 248.2 L69.5 247.5 L70.5 246.8 L71.7 246.1 L73.2 245.4 L74.8 244.8 L76.4 244.1 L78.2 243.4 L80 242.6 L81.9 241.7 L83.8 240.7 L85.8 239.7 L87.9 238.7 L90 237.6 L92 236.5 L94 235.4 L96 234.2 L98 233.1 L100 231.9 L102 230.7 L104 229.5"/></g><path d="M73.5 283 L73.2 282.4 L72.9 281.9 L72.7 281.4 L72.3 280.8 L71.9 279.9 L71.3 278.6 L70.5 276.7 L69.5 274.5 L68.4 271.9 L67.3 269.2 L66.1 266.5 L65 264 L64 261.8 L63.2 259.9 L62.3 258.1 L61.3 256 L60.1 253.4 L58.7 250.2 L56.8 245.9 L54.5 240.8 L52 235.2 L49.6 229.5 L47.3 224.3 L45.5 220 L44.2 216.7 L43.2 214.2 L42.5 212.2 L41.9 210.2 L41.2 207.9 L40.4 205 L39.4 201.4 L38.3 197.2 L37.1 192.8 L36 188.3 L34.9 184 L34 180 L33.2 176.4 L32.5 173 L31.9 169.7 L31.4 166.5 L31 163.3 L30.6 160 L30.3 156.7 L30.1 153.3 L30 150 L29.9 146.7 L29.8 143.3 L29.8 140 L29.8 136.7 L29.8 133.3 L29.9 130 L30 126.7 L30.1 123.3 L30.2 120 L30.3 116.7 L30.3 113.4 L30.3 110.1 L30.4 106.8 L30.5 103.5 L30.7 100 L31 96.4 L31.4 92.6 L31.9 88.7 L32.4 84.9 L32.9 81.2 L33.5 77.6 L34.1 74.2 L34.7 70.8 L35.3 67.5 L36 64.3 L36.7 61.4 L37.5 58.6 L38.4 56 L39.4 53.6 L40.4 51.3 L41.5 49.3 L42.6 47.5 L43.8 45.9 L45 44.6 L46.3 43.6 L47.5 42.9 L48.9 42.3 L50.3 41.8 L51.7 41.4 L53.2 41.1 L54.7 40.9 L56.3 40.9 L57.9 41 L59.6 41.1 L61.3 41.4 L63 41.7 L64.8 42.2 L66.6 42.7 L68.4 43.3 L70.3 44.1 L72.4 44.9 L74.6 45.9 L77 47 L79.5 48.2 L81.9 49.5 L84.4 50.7 L86.7 52 L88.9 53.2 L91 54.4 L93.1 55.5 L95.1 56.8 L97.2 58.1 L99.4 59.6 L101.7 61.2 L104 63 L106.4 64.8 L108.8 66.8 L111.2 68.8 L113.5 71 L115.8 73.3 L118.2 75.7 L120.5 78.3 L122.8 80.9 L125 83.5 L126.9 86 L128.6 88.5 L130.2 90.9 L131.7 93.2 L133 95.7 L134.3 98.3 L135.5 101 L136.7 104 L137.9 107.2 L138.9 110.5 L140 113.8 L140.9 117 L141.7 120 L142.4 122.8 L143.1 125.5 L143.6 128.1 L144.1 130.5 L144.5 132.8 L144.8 135 L145 136.9 L145.2 138.6 L145.3 140.1 L145.3 141.6 L145.3 143.2 L145.2 145 L145.1 147 L144.9 149.1 L144.7 151.4 L144.5 153.6 L144.2 155.9 L143.8 158 L143.4 160.1 L142.9 162.1 L142.4 164 L141.8 166 L141.2 168 L140.4 170 L139.6 171.9 L138.8 173.7 L137.8 175.5 L136.8 177.4 L135.5 179.6 L133.9 182.2 L131.9 185.4 L129.6 189.2 L127 193.3 L124.4 197.4 L121.8 201.2 L119.4 204.4 L117.2 207 L115.1 209.3 L113 211.2 L111 213 L109 214.7 L107 216.5 L105 218.3 L102.9 220.1 L100.8 221.9 L98.8 223.6 L96.9 225.2 L95 226.7 L93.3 228.1 L91.6 229.3 L90.1 230.5 L88.5 231.6 L86.8 232.8 L85 234 L83 235.3 L80.9 236.6 L78.7 237.9 L76.5 239.3 L74.2 240.6 L72 242 L69.9 243.3 L68 244.6 L66 245.9 L63.9 247.2 L61.5 248.6 L58.7 250.2 L55.2 252 L51 254 L46.6 256.1 L42.2 258.3 L38.2 260.2 L35 262 L32.6 263.5 L30.8 265 L29.3 266.3 L28.1 267.5 L27.1 268.6 L26 269.5 L25 270.3 L24.1 270.9 L23.4 271.4 L22.7 271.8 L22 272.2 L21.3 272.6 L20.6 273 L19.8 273.3 L19.1 273.6 L18.4 273.9 L17.7 274.2 L17 274.5" fill="none" stroke="#ff3131" stroke-width="1.3"/><path d="M26.7 12 L26.8 20.2 L27 28.4 L26.7 34.6 L25.4 37.5 L23.7 38.3 L22.8 38.6 L23.5 38.5 L25 37.9 L26.5 37.3 L27.9 36.8 L29.2 36.3 L30.4 36.7 L31.3 38.4 L32 41 L32.3 43.5 L32.2 45.4 L31.8 47.3 L31.3 49.5 L30.7 52.3 L30.1 55.4 L29.4 58.6 L28.6 61.7 L27.9 64.9 L27.1 68.1 L26.4 71.3 L25.8 74.4 L25.2 77.6 L24.5 80.8 L23.9 83.9 L23.3 87.1 L22.8 90.3 L22.3 93.5 L21.9 97 L21.7 100.3 L21.6 103.9 L21.6 110 L21.6 120 L21.6 132.5 L21.6 145 L21.6 157.5 L21.6 170 L21.7 180 L21.8 185.1 L21.9 187.7 L22.3 192 L23 200.3 L23.9 210.4 L25 219.7 L26.4 227.7 L27.9 234.9 L29.1 240.6 L29.9 244.1 L30.4 246 L30.7 247.5 L30.8 249 L30.7 250.1 L30.4 251.2 L30 252.5 L29.4 253.7 L28.4 254.4 L26.7 254.1 L24.6 253.3 L22.5 252.4" fill="none" stroke="#000" stroke-width="1.5" stroke-linejoin="round"/><path d="M26.1 254.3 L26.1 283" fill="none" stroke="#000" stroke-width="1.5"/><path d="M72.2 12 L72.2 32.1 L74.5 34.6 L106.9 58.8 L138.3 78.5 L142 86 L146.5 100 L150.5 112 L152.8 120 L153.9 145 L153 170 L150.6 182 L140.6 207.8 L110.6 228.9 L85 246.8 L74 255.5 L72.1 258 L72.1 283" fill="none" stroke="#000" stroke-width="1.5" stroke-linejoin="round"/><rect x="90.9" y="139.4" width="1.2" height="1.2" fill="#d62050"/><path d="M24.4 15V279.6M67.5 15V279.6M110.6 15V279.6M153.7 15V279.6M20 274.8H159.5M20 231.7H159.5M20 188.6H159.5M20 145.5H159.5M20 102.4H159.5M20 59.3H159.5M20 16.2H159.5" fill="none" stroke="#262626" stroke-opacity="0.55" stroke-width="0.7"/></g><path d="M24.4 279.6v-2.2M24.4 15v2.2M67.5 279.6v-2.2M67.5 15v2.2M110.6 279.6v-2.2M110.6 15v2.2M153.7 279.6v-2.2M153.7 15v2.2M20 274.8h2.2M159.5 274.8h-2.2M20 231.7h2.2M159.5 231.7h-2.2M20 188.6h2.2M159.5 188.6h-2.2M20 145.5h2.2M159.5 145.5h-2.2M20 102.4h2.2M159.5 102.4h-2.2M20 59.3h2.2M159.5 59.3h-2.2M20 16.2h2.2M159.5 16.2h-2.2" fill="none" stroke="#262626" stroke-width="0.7"/><rect x="20.0" y="15.0" width="139.5" height="264.6" fill="none" stroke="#1a1a1a" stroke-width="1.5"/><g style="font-family:'Liberation Sans',Arial,Helvetica,sans-serif;font-size:10.3px" fill="#262626"><text x="24.4" y="292.8" text-anchor="middle">0.6</text><text x="67.5" y="292.8" text-anchor="middle">0.8</text><text x="110.6" y="292.8" text-anchor="middle">1</text><text x="153.7" y="292.8" text-anchor="middle">1.2</text><text x="17.3" y="20.3" text-anchor="end">0.6</text><text x="17.3" y="63.4" text-anchor="end">0.4</text><text x="17.3" y="106.5" text-anchor="end">0.2</text><text x="17.3" y="149.6" text-anchor="end">0</text><text x="17.3" y="192.7" text-anchor="end">-0.2</text><text x="17.3" y="235.8" text-anchor="end">-0.4</text><text x="17.3" y="278.9" text-anchor="end">-0.6</text></g><text x="24.4" y="12" style="font-family:'Liberation Sans',Arial,Helvetica,sans-serif;font-size:9.6px;font-weight:bold" fill="#000" textLength="131.1" lengthAdjust="spacingAndGlyphs">neutrals re-absorbed [W/m<tspan dy="-3.8" font-size="7px">3</tspan><tspan dy="3.8">]</tspan></text></g><defs><linearGradient id="cbg166" x1="0" y1="0" x2="0" y2="1"><stop offset="0%" stop-color="#f9fb0e"/><stop offset="1.6%" stop-color="#f6f313"/><stop offset="3.2%" stop-color="#f5eb18"/><stop offset="4.8%" stop-color="#f5e41d"/><stop offset="6.3%" stop-color="#f5de21"/><stop offset="7.9%" stop-color="#f7d826"/><stop offset="9.5%" stop-color="#fad32a"/><stop offset="11.1%" stop-color="#fcce2e"/><stop offset="12.7%" stop-color="#fec832"/><stop offset="14.3%" stop-color="#ffc337"/><stop offset="15.9%" stop-color="#fdbe3d"/><stop offset="17.5%" stop-color="#f8bb44"/><stop offset="19%" stop-color="#f1b94a"/><stop offset="20.6%" stop-color="#e9b94e"/><stop offset="22.2%" stop-color="#e1b952"/><stop offset="23.8%" stop-color="#d9ba56"/><stop offset="25.4%" stop-color="#d1bb59"/><stop offset="27%" stop-color="#c8bc5d"/><stop offset="28.6%" stop-color="#c0bc60"/><stop offset="30.2%" stop-color="#b7bd64"/><stop offset="31.7%" stop-color="#aebe67"/><stop offset="33.3%" stop-color="#a5be6b"/><stop offset="34.9%" stop-color="#9cbf6f"/><stop offset="36.5%" stop-color="#92bf73"/><stop offset="38.1%" stop-color="#87bf77"/><stop offset="39.7%" stop-color="#7cbf7b"/><stop offset="41.3%" stop-color="#71bf80"/><stop offset="42.9%" stop-color="#65be86"/><stop offset="44.4%" stop-color="#59bd8c"/><stop offset="46%" stop-color="#4dbc92"/><stop offset="47.6%" stop-color="#42bb98"/><stop offset="49.2%" stop-color="#38b99e"/><stop offset="50.8%" stop-color="#2eb7a4"/><stop offset="52.4%" stop-color="#25b5a9"/><stop offset="54%" stop-color="#1db3af"/><stop offset="55.6%" stop-color="#15b1b4"/><stop offset="57.1%" stop-color="#0faeb9"/><stop offset="58.7%" stop-color="#0aacbe"/><stop offset="60.3%" stop-color="#07a9c2"/><stop offset="61.9%" stop-color="#06a7c6"/><stop offset="63.5%" stop-color="#06a4ca"/><stop offset="65.1%" stop-color="#06a0cd"/><stop offset="66.7%" stop-color="#079ccf"/><stop offset="68.3%" stop-color="#0998d1"/><stop offset="69.8%" stop-color="#0c93d2"/><stop offset="71.4%" stop-color="#108ed2"/><stop offset="73%" stop-color="#1389d3"/><stop offset="74.6%" stop-color="#1485d4"/><stop offset="76.2%" stop-color="#1481d6"/><stop offset="77.8%" stop-color="#127dd8"/><stop offset="79.4%" stop-color="#1079da"/><stop offset="81%" stop-color="#0d75dc"/><stop offset="82.5%" stop-color="#0871de"/><stop offset="84.1%" stop-color="#046de0"/><stop offset="85.7%" stop-color="#0268e1"/><stop offset="87.3%" stop-color="#0363e1"/><stop offset="88.9%" stop-color="#0f5cdd"/><stop offset="90.5%" stop-color="#2053d4"/><stop offset="92.1%" stop-color="#2c4ac7"/><stop offset="93.7%" stop-color="#3243ba"/><stop offset="95.2%" stop-color="#353dad"/><stop offset="96.8%" stop-color="#3637a0"/><stop offset="98.4%" stop-color="#363093"/><stop offset="100%" stop-color="#352a87"/></linearGradient></defs><rect x="166.2" y="15.3" width="9.5" height="264.1" fill="url(#cbg166)" stroke="#6b6b6b" stroke-width="0.4"/><path d="M175.7 279.4h-2M175.7 239.2h-2M175.7 199h-2M175.7 158.8h-2M175.7 118.6h-2M175.7 78.4h-2M175.7 38.2h-2" stroke="#262626" stroke-width="0.6"/><g style="font-family:'Liberation Sans',Arial,Helvetica,sans-serif;font-size:9.2px" fill="#262626"><text x="178.9" y="282.6">0</text><text x="178.9" y="242.4">2</text><text x="178.9" y="202.2">4</text><text x="178.9" y="162">6</text><text x="178.9" y="121.8">8</text><text x="178.9" y="81.6">10</text><text x="178.9" y="41.4">12</text></g><text x="176.3" y="12.0" style="font-family:'Liberation Sans',Arial,Helvetica,sans-serif;font-size:8.6px" fill="#6a6a6a">×</text><text x="182.6" y="12.1" style="font-family:'Liberation Sans',Arial,Helvetica,sans-serif;font-size:9.2px" fill="#262626">10<tspan dy="-4.5" font-size="6.4px">5</tspan></text><defs><linearGradient id="cbg385" x1="0" y1="0" x2="0" y2="1"><stop offset="0%" stop-color="#f9fb0e"/><stop offset="1.6%" stop-color="#f6f313"/><stop offset="3.2%" stop-color="#f5eb18"/><stop offset="4.8%" stop-color="#f5e41d"/><stop offset="6.3%" stop-color="#f5de21"/><stop offset="7.9%" stop-color="#f7d826"/><stop offset="9.5%" stop-color="#fad32a"/><stop offset="11.1%" stop-color="#fcce2e"/><stop offset="12.7%" stop-color="#fec832"/><stop offset="14.3%" stop-color="#ffc337"/><stop offset="15.9%" stop-color="#fdbe3d"/><stop offset="17.5%" stop-color="#f8bb44"/><stop offset="19%" stop-color="#f1b94a"/><stop offset="20.6%" stop-color="#e9b94e"/><stop offset="22.2%" stop-color="#e1b952"/><stop offset="23.8%" stop-color="#d9ba56"/><stop offset="25.4%" stop-color="#d1bb59"/><stop offset="27%" stop-color="#c8bc5d"/><stop offset="28.6%" stop-color="#c0bc60"/><stop offset="30.2%" stop-color="#b7bd64"/><stop offset="31.7%" stop-color="#aebe67"/><stop offset="33.3%" stop-color="#a5be6b"/><stop offset="34.9%" stop-color="#9cbf6f"/><stop offset="36.5%" stop-color="#92bf73"/><stop offset="38.1%" stop-color="#87bf77"/><stop offset="39.7%" stop-color="#7cbf7b"/><stop offset="41.3%" stop-color="#71bf80"/><stop offset="42.9%" stop-color="#65be86"/><stop offset="44.4%" stop-color="#59bd8c"/><stop offset="46%" stop-color="#4dbc92"/><stop offset="47.6%" stop-color="#42bb98"/><stop offset="49.2%" stop-color="#38b99e"/><stop offset="50.8%" stop-color="#2eb7a4"/><stop offset="52.4%" stop-color="#25b5a9"/><stop offset="54%" stop-color="#1db3af"/><stop offset="55.6%" stop-color="#15b1b4"/><stop offset="57.1%" stop-color="#0faeb9"/><stop offset="58.7%" stop-color="#0aacbe"/><stop offset="60.3%" stop-color="#07a9c2"/><stop offset="61.9%" stop-color="#06a7c6"/><stop offset="63.5%" stop-color="#06a4ca"/><stop offset="65.1%" stop-color="#06a0cd"/><stop offset="66.7%" stop-color="#079ccf"/><stop offset="68.3%" stop-color="#0998d1"/><stop offset="69.8%" stop-color="#0c93d2"/><stop offset="71.4%" stop-color="#108ed2"/><stop offset="73%" stop-color="#1389d3"/><stop offset="74.6%" stop-color="#1485d4"/><stop offset="76.2%" stop-color="#1481d6"/><stop offset="77.8%" stop-color="#127dd8"/><stop offset="79.4%" stop-color="#1079da"/><stop offset="81%" stop-color="#0d75dc"/><stop offset="82.5%" stop-color="#0871de"/><stop offset="84.1%" stop-color="#046de0"/><stop offset="85.7%" stop-color="#0268e1"/><stop offset="87.3%" stop-color="#0363e1"/><stop offset="88.9%" stop-color="#0f5cdd"/><stop offset="90.5%" stop-color="#2053d4"/><stop offset="92.1%" stop-color="#2c4ac7"/><stop offset="93.7%" stop-color="#3243ba"/><stop offset="95.2%" stop-color="#353dad"/><stop offset="96.8%" stop-color="#3637a0"/><stop offset="98.4%" stop-color="#363093"/><stop offset="100%" stop-color="#352a87"/></linearGradient></defs><rect x="385.2" y="15.3" width="9.3" height="264.1" fill="url(#cbg385)" stroke="#6b6b6b" stroke-width="0.4"/><path d="M394.5 279.4h-2M394.5 242.9h-2M394.5 206.4h-2M394.5 169.8h-2M394.5 133.3h-2M394.5 96.8h-2M394.5 60.3h-2M394.5 23.8h-2" stroke="#262626" stroke-width="0.6"/><g style="font-family:'Liberation Sans',Arial,Helvetica,sans-serif;font-size:9.2px" fill="#262626"><text x="397.4" y="282.6">0</text><text x="397.4" y="246.1">2</text><text x="397.4" y="209.6">4</text><text x="397.4" y="173">6</text><text x="397.4" y="136.5">8</text><text x="397.4" y="100">10</text><text x="397.4" y="63.5">12</text><text x="397.4" y="27">14</text></g><text x="395.3" y="12.0" style="font-family:'Liberation Sans',Arial,Helvetica,sans-serif;font-size:8.6px" fill="#6a6a6a">×</text><text x="401.6" y="12.1" style="font-family:'Liberation Sans',Arial,Helvetica,sans-serif;font-size:9.2px" fill="#262626">10<tspan dy="-4.5" font-size="6.4px">4</tspan></text><path d="M476 16.2V279.4M538.8 16.2V279.4M601.7 16.2V279.4M664.5 16.2V279.4M470.5 213.6H670M470.5 147.9H670M470.5 82.1H670M470.5 16.4H670" stroke="#e6e6e6" stroke-width="0.7" fill="none"/><path d="M476 279.4v-2.2M538.8 279.4v-2.2M601.7 279.4v-2.2M664.5 279.4v-2.2M470.5 279.4h2.2M470.5 213.6h2.2M470.5 147.9h2.2M470.5 82.1h2.2M470.5 16.4h2.2" stroke="#8a8a8a" stroke-width="0.7" fill="none"/><path d="M470.5 16.2V279.4H670" stroke="#a8a8a8" stroke-width="1" fill="none"/><polyline points="470.5,277.2 472.6,276.2 474.6,276.6 477.6,277.6 481.2,271.3 484.2,274.2 488.3,273.6 491.4,273.9 494.4,275.2 497.4,274.2 499.5,274.6 503,271.8 506.6,272.8 510.6,272.1 514.2,272.5 517.7,273.6 522.8,272.6 527,273 532.7,273.2 537,271.8 541,270.9 545,270.5 550.9,269.3 555,268 559.1,266.5 563.9,265.7 569.8,264.9 575.7,265.3 580.7,266.9 585.6,265.7 589.5,261.7 594.4,260.4 598.4,258.4 602.3,260.4 606.3,261.7 610.2,252.5 613.1,255 616.1,257.4 618.6,251.7 622.1,249.3 625.7,250.5 628.1,248.1 631.2,245.7 634,249.3 636.9,245.2 640.7,254.8 643.6,248.1 646.4,245.7 649.5,258.8 651.9,256.4 655.5,260 659,266.7 662.6,271.9 666.2,276.2 669.3,279" fill="none" stroke="#d95319" stroke-width="1.5" stroke-dasharray="4.2 1.7 2.4 1.7" stroke-linejoin="round"/><polyline points="470.5,279.4 485.3,279.4 488.3,278.9 490.3,279.6 493.9,278.2 497.4,279.6 500,279.4 503.5,276.4 506.6,277.6 509.1,278.6 512.7,276.6 516.2,275.9 519.8,276.2 522.8,275.4 526.1,277.9 529.5,275.8 533.5,274.2 536.4,275.5 539.3,275.9 542.5,276.5 545.9,277.4 548.5,276 550.9,275.4 555,275 559.1,274.2 563,273.5 568.9,269.6 571.8,272.2 575.4,269.6 578.1,270.8 581.3,272.8 583.6,267.6 586.6,270.2 590.5,262.9 593.5,271.6 597,271.6 600.4,264.3 602.9,261.7 606.3,264.3 610.8,256.4 613.5,247.6 616.1,236.7 618.1,238.1 619.3,238.1 622.1,225.5 624.5,231 626.9,224.3 628.1,215 629.8,210 631.2,203.1 634.5,178.1 637.6,175.7 640.5,154.3 641.7,140 650.1,17.4 653.6,140 656,210 657.9,248.1 659,264.8 661.4,273.8 665,279 669.8,279.5" fill="none" stroke="#0072bd" stroke-width="1.5" stroke-linejoin="round"/><rect x="501.3" y="30.8" width="96.2" height="27.6" fill="#fff" stroke="#bdbdbd" stroke-width="0.8"/><path d="M502.9 38.3H513.6" stroke="#0072bd" stroke-width="1.4"/><path d="M502.9 52H513.6" stroke="#d95319" stroke-width="1.4" stroke-dasharray="5.6 1.4 3.7 2"/><g style="font-family:'Liberation Sans',Arial,Helvetica,sans-serif;font-size:10.4px" fill="#000"><text x="515" y="42.2" textLength="79.6" lengthAdjust="spacingAndGlyphs">CX neutralization</text><text x="515" y="55.4" textLength="61.7" lengthAdjust="spacingAndGlyphs">re-ionizations</text></g><g style="font-family:'Liberation Sans',Arial,Helvetica,sans-serif;font-size:11.5px" fill="#262626"><text x="476" y="295.6" text-anchor="middle">0.6</text><text x="538.8" y="295.6" text-anchor="middle">0.8</text><text x="601.7" y="295.6" text-anchor="middle">1</text><text x="664.5" y="295.6" text-anchor="middle">1.2</text><text x="466.6" y="283.4" text-anchor="end">0</text><text x="466.6" y="217.6" text-anchor="end">0.5</text><text x="466.6" y="151.9" text-anchor="end">1</text><text x="466.6" y="86.1" text-anchor="end">1.5</text><text x="466.6" y="20.4" text-anchor="end">2</text></g><text x="471.2" y="13.2" style="font-family:'Liberation Sans',Arial,Helvetica,sans-serif;font-size:10.5px" fill="#6a6a6a">×</text><text x="480.4" y="13.2" style="font-family:'Liberation Sans',Arial,Helvetica,sans-serif;font-size:11.8px" fill="#262626">10<tspan dy="-5.1" font-size="8.6px">5</tspan></text><text x="570" y="311.4" text-anchor="middle" style="font-family:'Liberation Sans',Arial,Helvetica,sans-serif;font-size:12.5px" fill="#262626">R [m]</text><text transform="translate(445.6 147.5) rotate(-90)" text-anchor="middle" style="font-family:'Liberation Sans',Arial,Helvetica,sans-serif;font-size:12.5px" fill="#262626">[W/m<tspan dy="-4.6" font-size="8.5px">3</tspan><tspan dy="4.6">]</tspan></text></svg>
</body></html>
